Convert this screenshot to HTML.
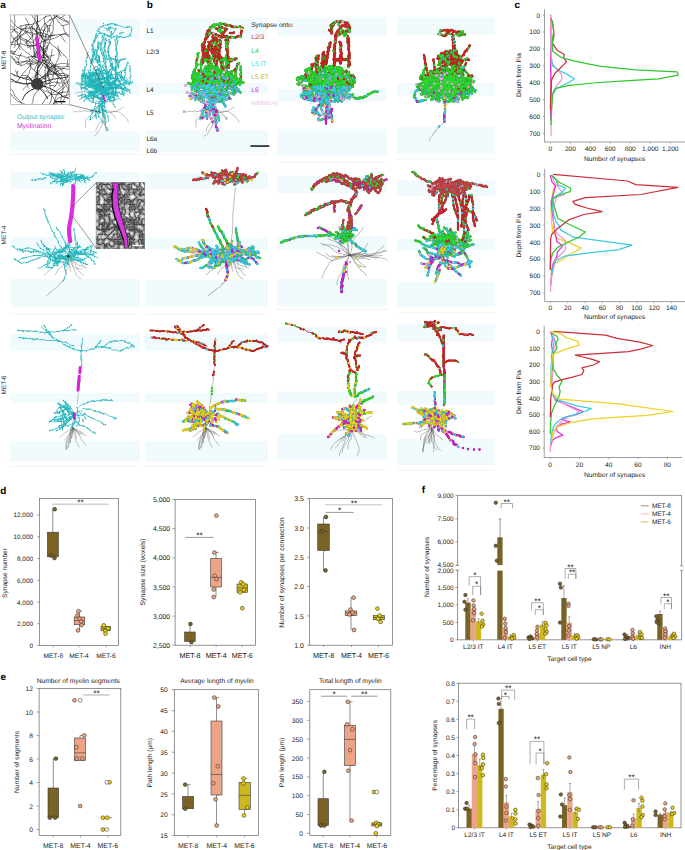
<!DOCTYPE html>
<html><head><meta charset="utf-8"><style>
html,body{margin:0;padding:0;background:#fff;}
svg{display:block;font-family:"Liberation Sans", sans-serif;text-rendering:geometricPrecision;}
</style></head><body>
<svg width="685" height="850" viewBox="0 0 685 850">
<rect width="685" height="850" fill="#fff"/>
<rect x="10.5" y="18.6" width="129.5" height="20.8" fill="#f1fafd"/>
<rect x="10.5" y="83" width="129.5" height="12" fill="#f1fafd"/>
<rect x="10.5" y="131" width="129.5" height="19.7" fill="#f1fafd"/>
<line x1="10.5" y1="154.5" x2="140" y2="154.5" stroke="#e4eef2" stroke-width="0.6"/>
<rect x="10.5" y="171.9" width="129.5" height="17.1" fill="#f1fafd"/>
<rect x="10.5" y="237" width="129.5" height="12.6" fill="#f1fafd"/>
<rect x="10.5" y="279" width="129.5" height="27.6" fill="#f1fafd"/>
<line x1="10.5" y1="314" x2="140" y2="314" stroke="#e4eef2" stroke-width="0.6"/>
<rect x="10.5" y="334" width="129.5" height="16.8" fill="#f1fafd"/>
<rect x="10.5" y="393" width="129.5" height="9.5" fill="#f1fafd"/>
<rect x="10.5" y="441" width="129.5" height="20.6" fill="#f1fafd"/>
<line x1="10.5" y1="466.4" x2="140" y2="466.4" stroke="#e4eef2" stroke-width="0.6"/>
<rect x="145" y="18" width="123" height="21.2" fill="#f1fafd"/>
<rect x="145" y="82.8" width="123" height="11.6" fill="#f1fafd"/>
<rect x="145" y="130.2" width="123" height="22.5" fill="#f1fafd"/>
<line x1="145" y1="154.5" x2="268" y2="154.5" stroke="#e4eef2" stroke-width="0.6"/>
<rect x="145" y="172.9" width="123" height="16.5" fill="#f1fafd"/>
<rect x="145" y="237.9" width="123" height="11.8" fill="#f1fafd"/>
<rect x="145" y="279.8" width="123" height="26.5" fill="#f1fafd"/>
<line x1="145" y1="314.4" x2="268" y2="314.4" stroke="#e4eef2" stroke-width="0.6"/>
<rect x="145" y="334" width="123" height="16.8" fill="#f1fafd"/>
<rect x="145" y="393" width="123" height="9.8" fill="#f1fafd"/>
<rect x="145" y="441" width="123" height="21" fill="#f1fafd"/>
<line x1="145" y1="466" x2="268" y2="466" stroke="#e4eef2" stroke-width="0.6"/>
<rect x="277" y="17.4" width="110" height="19.4" fill="#f1fafd"/>
<rect x="277" y="89.3" width="110" height="12.3" fill="#f1fafd"/>
<rect x="277" y="128.8" width="110" height="27.5" fill="#f1fafd"/>
<line x1="277" y1="162.3" x2="387" y2="162.3" stroke="#e4eef2" stroke-width="0.6"/>
<rect x="277" y="175.5" width="110" height="17.5" fill="#f1fafd"/>
<rect x="277" y="236" width="110" height="14" fill="#f1fafd"/>
<rect x="277" y="278.8" width="110" height="27.2" fill="#f1fafd"/>
<line x1="277" y1="309.5" x2="387" y2="309.5" stroke="#e4eef2" stroke-width="0.6"/>
<rect x="277" y="326.5" width="110" height="15.9" fill="#f1fafd"/>
<rect x="277" y="391.5" width="110" height="11.9" fill="#f1fafd"/>
<rect x="277" y="434" width="110" height="26.6" fill="#f1fafd"/>
<line x1="277" y1="469.5" x2="387" y2="469.5" stroke="#e4eef2" stroke-width="0.6"/>
<rect x="397" y="17.4" width="98" height="17.3" fill="#f1fafd"/>
<rect x="397" y="82.8" width="98" height="12.6" fill="#f1fafd"/>
<rect x="397" y="126.7" width="98" height="27.6" fill="#f1fafd"/>
<line x1="397" y1="159" x2="495" y2="159" stroke="#e4eef2" stroke-width="0.6"/>
<rect x="397" y="180" width="98" height="16" fill="#f1fafd"/>
<rect x="397" y="239" width="98" height="11.5" fill="#f1fafd"/>
<rect x="397" y="282" width="98" height="25" fill="#f1fafd"/>
<line x1="397" y1="312.7" x2="495" y2="312.7" stroke="#e4eef2" stroke-width="0.6"/>
<rect x="397" y="323.7" width="98" height="18" fill="#f1fafd"/>
<rect x="397" y="391" width="98" height="13.9" fill="#f1fafd"/>
<rect x="397" y="438.8" width="98" height="26.2" fill="#f1fafd"/>
<line x1="397" y1="470.5" x2="495" y2="470.5" stroke="#e4eef2" stroke-width="0.6"/>
<g transform="scale(.5)" fill="none" stroke-linecap="round">
<path d="M389 173l-1-1-2-1-2 0-3-1-1 0-3 0-1-1-1-1-3 0M390 184l-2 1-3-1-1 1-2-1-3 1-1 0-1 1-3 0-2 0M410 223l-1-2-2 0-2 1-3-1-2 2-1-1-2 1-2 0-3 0-1-2-3 1-2 1-3 0-2-1-1 1-1-1-3 1-1 1-3 0-2-1-2 1M440 224l1 2 2 1 1 2 3 1 1 2 2 1-1 1 3 2M424 212l-2 1-1 1-1 2-2 2-1 1-2 1-1 1-2 1-2 1-1 1-2 2-1 1-2 1-1 2-2 1-1 2-2 1-1 1-2 2-1 1-1 2-1 2 0 2 0 2 0 2 0 2 0 2 0 2M424 212l0 2 1 2 1 2 0 2 0 2 1 2 0 2 0 2 0 2 1 1 0 2 1 2 0 2 1 2 0 2-1 2 0 2 1 2 0 2 1 2 1 1 2 2 1 2 1 1 1 2 1 1M424 212l0 2 1 2 0 2 0 2 0 2 1 2 0 2 1 2 1 1 0 2 1 2 0 2 0 2 0 2-1 2 0 2-1 2 0 2-2 1 0 2-1 2-1 2-1 1-1 2-1 2-1 2-1 1-1 2-1 2-1 2-1 1-2 2-2 1-1 0M424 212l0 2 1 2 0 2 0 2 0 2 1 2 0 2 1 2 0 2 0 2 0 2-1 1 0 2-1 2-1 2-1 2-1 1-2 2-1 1-1 2-1 2-1 1-1 2-1 2-1 2 0 2 0 2M424 212l0 2 1 2 1 2 1 1 2 1 2 1 2 0 2 1 2 0 2 0 2 0 2 1 2-1 2 1 2 0 2 0 2 0 2 0 2 0 2 1 1 1 2 1 1 1 2 2 1 1 2 1 2 1 1 2 1 1 2 2 1 1 1 2 1 2 1 2M424 212l1 2 0 2 1 2 1 1 1 2 1 2 2 1 2 0 2 1 2 0 2 0 2 0 2 0 2 0 1-1 2-1 2 0 2-1 2 0 2-1 2-1 2-1 1-1 2 0 2-2 1-1 2-1M424 212l1 2 1 2 0 2 1 1 0 2 1 2 0 2 0 2 1 2 1 2 1 2 1 2 0 2 0 2-1 2 0 2 0 2 0 2 0 2 0 2 0 2 1 1 0 2 0 2 0 2" stroke="#555" stroke-width="0.8" stroke-linejoin="round"/>
<defs><path id="p1" d="M420 225h0m-39-33h0m14-8h0m32 38h0m5 21h0m0 8h0m-25-31h0"/></defs>
<use href="#p1" stroke="#941694" stroke-width="4.9"/>
<use href="#p1" stroke="#d420d4" stroke-width="4.2"/>
<defs><path id="p2" d="M415 62h0m5-4h0m1-4h0m9-4h0m37 4h0m4 0h0m9-1h0m2 15h0m-7 5h0m-4 2h0m-10-1h0m0 1h0m-4 0h0m-3-3h0m-5 1h0m-24-6h0m13-12h0m3 9h0m-4 8h0m-5-15h0m28 9h0m-6-8h0m-41 10h0m0 4h0m-1 2h0m-3 12h0m-1 11h0m1 9h0m8 19h0m4-59h0m-2 1h0m-2 3h0m-1 3h0m-12 18h0m1 5h0m0 3h0m20-19h0m-2 13h0m0 7h0m2 6h0m0 2h0m1 5h0m1 3h0m5 13h0m-3-59h0m-1 4h0m-3 19h0m-2 5h0m2 0h0m14 0h0m2 17h0m12-33h0m-1 4h0m1 12h0m3-13h0m-1 1h0m-1 6h0m1 4h0m0 4h0m-2 11h0m-1 7h0m7 2h0m3-2h0m9 0h0m2-1h0m-14 7h0m-53-10h0m4 4h0m-3 5h0m25-42h0m0 5h0m1 17h0m0 7h0m0 3h0m1 5h0m0-39h0m-1 6h0m0 1h0m-17 6h0m-1 17h0m7-24h0m-4 4h0m-2 12h0m-1 4h0m0 2h0m0 2h0m3 4h0m-1 2h0m1 8h0m-17 22h0m6-24h0m68 7h0m-42 29h0m-9-10h0m-5 21h0m21-15h0m-9 4h0m8 5h0m-32-10h0m57 2h0"/></defs>
<use href="#p2" stroke="#941a1a" stroke-width="4.9"/>
<use href="#p2" stroke="#d42626" stroke-width="4.2"/>
<defs><path id="p3" d="M406 119h0m68 11h0m-50 21h0m43 26h0m-21-3h0m10 3h0m3 0h0m2 0h0m-7-6h0m-34 1h0m-8 7h0m-20-5h0m53-3h0m-10-23h0m-12 26h0m9 13h0m12-11h0m1 5h0m-22 7h0m21 13h0m-19-5h0m27-18h0m2 7h0m-9-18h0m27 14h0m-47-6h0m16 1h0m12-2h0m-44-3h0m13-2h0m3 19h0m-15-23h0m56 20h0m3-10h0m-2-5h0m-43 23h0m6-32h0m-9 12h0m31-16h0m-16 22h0m-36-28h0m2 7h0m20 24h0m-23 2h0m30-12h0m-4 2h0m-20 12h0m4-7h0m-5 5h0m19-12h0m3-18h0m10-4h0m20 5h0m-59 13h0m31-27h0m14 31h0m-25 4h0m-10 0h0m12-8h0m-5 8h0m-20-11h0m60 13h0m-31-7h0m39-11h0m-14 14h0m18-18h0m-43 24h0m-32-7h0m20 6h0m33 15h0m-5-23h0m10 13h0m-27-2h0m-14 5h0m31-18h0m-1 1h0m-27 6h0m11 3h0m42 9h0m-16-13h0m-18 3h0m-11-1h0m-7-1h0m-11-1h0m37-5h0m-29 19h0m15 22h0m2 8h0m-1-1h0m0-16h0m-2 7h0m7 5h0m5 14h0m3 13h0m-17-39h0m-1 26h0m-2 2h0m2 4h0m12-32h0m-8 6h0m-8 6h0m1 12h0m-2 1h0m0-32h0m-25 5h0m17-16h0m15 4h0m-2 1h0m-12-5h0m3 0h0m20 12h0m-31-3h0m-8 1h0m20-1h0m5 2h0m-8 10h0m11-18h0m-22-2h0m27 17h0m6 33h0m2 11h0m-22-33h0m-6 15h0m-1 2h0"/></defs>
<use href="#p3" stroke="#2a939f" stroke-width="4.9"/>
<use href="#p3" stroke="#3cd2e4" stroke-width="4.2"/>
<defs><path id="p4" d="M419 168h0m19 27h0m1-26h0m-33 27h0m19-7h0m-27 4h0m33 46h0"/></defs>
<use href="#p4" stroke="#a59713" stroke-width="4.9"/>
<use href="#p4" stroke="#ecd81c" stroke-width="4.2"/>
<defs><path id="p5" d="M425 51h0m2 0h0m18-3h0m13 3h0m26 11h0m-45 11h0m11-10h0m-14-2h0m-24 10h0m-1 6h0m9 55h0m-12-18h0m6 6h0m0 3h0m12-13h0m-2-14h0m8 24h0m1 15h0m6-51h0m4 33h0m0 13h0m-1-46h0m-3 36h0m14-36h0m1 19h0m1 9h0m0 7h0m2 15h0m0-51h0m-3 7h0m0 7h0m-2 16h0m4 20h0m-5-15h0m13 2h0m-58-2h0m-4 9h0m11-10h0m-4 5h0m25-3h0m-2-37h0m0 6h0m-2 7h0m0 17h0m1 10h0m-13-5h0m1 6h0m-27 37h0m-2-18h0m3-19h0m0-1h0m1-5h0m5 43h0m0-3h0m3-18h0m3-13h0m66 14h0m9 25h0m2-5h0m-1-4h0m1-5h0m-1-3h0m1-3h0m-1-7h0m-94 22h0m65-14h0m1-2h0m-1-9h0m1-15h0m-1-4h0m-30 16h0m-2-17h0m0-2h0m15 63h0m13-8h0m1-3h0m4-6h0m-9 14h0m5 2h0m17 2h0m-22-10h0m22 9h0m-42-6h0m-4 6h0m14-2h0m11 6h0m-47-12h0m-4 5h0m44-13h0m1 2h0m2 2h0m2 2h0m3 7h0m1 3h0m-10-23h0m-7 17h0m11-20h0m2-5h0m1-2h0m1-2h0m-8 24h0m-6 12h0m1 8h0m1 10h0m5-26h0m4 3h0m3 7h0m-9-17h0m-29 9h0m33 7h0m-9 12h0m-10-47h0m-7-4h0m21 26h0m0-5h0m-2-13h0m-18 23h0m-18-1h0m-15-1h0m29 18h0m-3 12h0m66-30h0m10-3h0m-69-12h0m-1-3h0m6 11h0m-7-5h0m10 26h0m2 12h0m27-19h0m-10-9h0m21 11h0m7 3h0m-52-4h0m10-1h0m34-6h0m5-2h0m-73 11h0m28 0h0m-26-7h0m47-19h0m-22 12h0m0-8h0m0-2h0m-3-11h0m-4 18h0m-2 1h0m0-1h0m-8 2h0m-3 0h0m13-1h0m-13 0h0m54-2h0m-45 3h0m-4-2h0m12 7h0m-10-4h0m-5-2h0m-2-1h0m58-15h0m2-2h0m-4 14h0m12 23h0m0 7h0m-40-32h0m13 0h0m13 1h0m4 3h0m3 4h0m7 8h0m3 4h0m2 1h0m3 5h0m4 3h0m-53-33h0m-1-2h0m-1 1h0m-3-7h0m-1-2h0m-4 8h0m19 5h0m21-10h0m5-2h0m-12 19h0m1-2h0m-4 9h0m23-4h0m-59 8h0m-7-8h0m-2-2h0m-6-8h0m8-1h0m-12-4h0m12 15h0m-2 1h0m4-6h0m-8-3h0m16 28h0m-8 3h0m0-4h0m20-11h0m-9 5h0m15-24h0m-6 3h0m2-1h0m10-4h0m2-1h0m2-1h0m-20 18h0m-7 4h0m-2 1h0m18 8h0m-40-22h0m18-14h0m53 11h0m-5-9h0m-2-2h0m-8-7h0m-4-1h0m-43 12h0m5 3h0m7 4h0m17 2h0m13-2h0m-20-11h0m-12 5h0m-23 5h0m30 1h0m1 10h0m17-9h0m-6 6h0m-8 6h0m-19-8h0m3 0h0m38-3h0m-8-15h0m19 14h0m-11 8h0m8-22h0m-48 21h0m-9 6h0m20-30h0m-3 0h0m0 14h0m7 25h0m19-35h0m-1 5h0m-39 5h0m-2-1h0m-5-3h0m21 8h0m5 9h0m-3 9h0m-12-11h0m-2-2h0m5 1h0m5 6h0m6 8h0m4-32h0m8 1h0m3 0h0m7 4h0m4 3h0m2 1h0m-31-2h0m3-18h0m0-2h0m12 44h0m25-33h0m0 2h0m0 5h0m-2 5h0m-6 14h0m-47-13h0m1 7h0m51-7h0m-7-8h0m-5-5h0m-41 22h0m74 0h0m-15 8h0m8-26h0m1 2h0m1 5h0m6 6h0m4 2h0m-79-9h0m12 9h0m16-15h0m-26 5h0m-13-1h0m74 9h0m-2 1h0m-5 2h0m-18 0h0m-26-26h0m-2 6h0m-1 2h0m-2 2h0m-3 10h0m0 3h0m24 13h0m10 2h0m2 0h0m6-1h0m-26-25h0m-18-4h0m-8 2h0m9 4h0m-3-12h0m80 26h0m-87-18h0m38 34h0m12 6h0m2 1h0m2 2h0m-19-7h0m0 1h0m9 5h0m13-9h0m3 8h0m-5-2h0m-17-5h0m-22-11h0m-5-1h0m30-2h0m-8 6h0m-13 0h0m25 16h0m6-7h0m5 3h0m2 1h0m4 4h0m1-17h0m-8 1h0m-10 2h0m-18-1h0m30-11h0m-28 45h0m2-2h0m-2 8h0m-11-21h0m40 5h0m-40-6h0m-8-1h0m2-1h0m-4 8h0m48 1h0"/></defs>
<use href="#p5" stroke="#219821" stroke-width="4.9"/>
<use href="#p5" stroke="#30da30" stroke-width="4.2"/>
<defs><path id="p6" d="M433 177h0m-7-12h0m-9 19h0m25-36h0m-12 36h0m-3 10h0m9-28h0m-19-4h0m-12-5h0m27-2h0m-11 14h0m15-12h0m-33 0h0m-18 1h0m47 7h0m-28 5h0m15-33h0m-26 35h0m42 11h0m-18 0h0m-7 3h0m-5 2h0m16-13h0m-4 2h0m29-12h0m0 5h0m-17 50h0m-3 1h0m1 8h0m-12-4h0m15-24h0m2 18h0m-12-2h0m-7 4h0m1 2h0m5 9h0m7 13h0m-14-18h0m1 3h0m17-27h0m-2 4h0m-21-5h0m9-10h0m-31 2h0"/></defs>
<use href="#p6" stroke="#a27ba2" stroke-width="4.9"/>
<use href="#p6" stroke="#e8b0e8" stroke-width="4.2"/>
<defs><path id="p7" d="M408 190h0m44-15h0m-13 13h0m-18-5h0m5 33h0m-6-5h0m-18 20h0"/></defs>
<use href="#p7" stroke="#a59713" stroke-width="4.9"/>
<use href="#p7" stroke="#ecd81c" stroke-width="4.2"/>
<defs><path id="p8" d="M418 59h0m8-5h0m7-5h0m45 5h0m5 1h0m-1 18h0m-14 2h0m-1-1h0m-11 0h0m-15 0h0m-1-12h0m3 4h0m9-8h0m-10-5h0m-29 63h0m-2 1h0m0 0h0m15-39h0m0 37h0m1 3h0m0-40h0m5 54h0m9-13h0m5 5h0m-1 2h0m2 7h0m-6-51h0m0 8h0m1 40h0m2 6h0m12-14h0m2 11h0m-5-10h0m1 3h0m6-4h0m-9-3h0m4 4h0m14-5h0m-36-10h0m-4 0h0m-10 11h0m0 2h0m0-27h0m0 22h0m0 8h0m-26 38h0m-1 0h0m-1-5h0m-1-19h0m2-2h0m0-2h0m0-8h0m7 26h0m2-23h0m3 0h0m1-12h0m63 46h0m1-2h0m2-10h0m2-13h0m5-11h0m4 36h0m-1-23h0m-97 40h0m1-11h0m1-5h0m1-15h0m0-5h0m1-3h0m64 8h0m2-10h0m0-2h0m0-5h0m0-1h0m-1-3h0m-28 25h0m-1-7h0m-1-5h0m1-4h0m-1-10h0m-1-1h0m-1-2h0m1-7h0m17 56h0m12-10h0m21 15h0m-25-10h0m9 4h0m5 2h0m-26-18h0m-5 5h0m-2 2h0m11 12h0m8 7h0m-13-26h0m15 27h0m-15-38h0m-3-4h0m-10 33h0m16-15h0m2-4h0m1-2h0m-5 15h0m8 6h0m3 10h0m-3-26h0m-29 12h0m-5 1h0m16 16h0m8-40h0m-14-5h0m-3-1h0m24 33h0m-2-5h0m-2-2h0m-1-13h0m-6-17h0m-22 33h0m-13-1h0m-10-1h0m28 15h0m19-17h0m8 0h0m17 3h0m16 0h0m-67-18h0m-2-2h0m-2-2h0m23 39h0m28-3h0m-3-12h0m4 7h0m2 10h0m-4-17h0m17 8h0m-29 11h0m-6-14h0m18-1h0m4-3h0m-31 7h0m-31-8h0m47-18h0m-33 5h0m-7-2h0m9 10h0m-2 1h0m-3 2h0m15-10h0m-2 1h0m2 0h0m-10 3h0m-3 1h0m18 21h0m-16-23h0m-7-5h0m14 10h0m-18-9h0m54-2h0m5-6h0m8 24h0m6-1h0m-1 5h0m0 5h0m-38-27h0m8-1h0m5 1h0m20 10h0m2 2h0m10 11h0m-48 7h0m-2 5h0m-2-48h0m4 13h0m-1-2h0m-7-17h0m-3 23h0m1-7h0m26-2h0m5-2h0m12-5h0m-15 24h0m5 2h0m2 0h0m8-2h0m-32 12h0m-22-13h0m-6-6h0m11 4h0m-6-9h0m-11-6h0m-10 1h0m25 15h0m6 2h0m11 5h0m4-17h0m3-2h0m2-1h0m-31 30h0m9-16h0m5 2h0m2 1h0m6 6h0m7 10h0m2 2h0m-46-30h0m-3-4h0m44 3h0m-7-5h0m-5-2h0m-6-4h0m41-2h0m-7-8h0m-2-1h0m28 31h0m-63-11h0m10 2h0m5 1h0m26 0h0m-26-14h0m-7 4h0m-12 3h0m-13 2h0m25 6h0m0 5h0m21-10h0m-1 1h0m-11 11h0m-19-6h0m43 7h0m-2-3h0m-3-4h0m-5-5h0m-3-5h0m-1-2h0m0-3h0m-3-7h0m-3-4h0m-2-2h0m39 23h0m-3 0h0m-5 1h0m-7 3h0m-3 1h0m-2 2h0m-2 1h0m12 0h0m-1-5h0m-4-13h0m-41 13h0m-4 3h0m27-17h0m-2-1h0m-15-4h0m-11 6h0m1 2h0m1 3h0m30-8h0m-2 5h0m0 5h0m0 5h0m4 10h0m2 10h0m2 2h0m-30-17h0m4 7h0m3 10h0m-3-4h0m-10 1h0m-5-10h0m-8-6h0m-7-8h0m15 7h0m7 13h0m24-23h0m14 8h0m-37-1h0m1-8h0m1-2h0m1-8h0m9 35h0m28-19h0m-5 12h0m-40 10h0m16-37h0m-2-1h0m-2-1h0m-7-4h0m-5 18h0m-5 3h0m-2 1h0m-9 8h0m57-8h0m-2-2h0m-10-11h0m-44 23h0m73-12h0m-62 5h0m11 8h0m22 13h0m3 1h0m-27-29h0m-5 1h0m-3 0h0m-7 0h0m46 13h0m-13 0h0m-3 0h0m-16-31h0m-9 29h0m0 3h0m25 9h0m28 0h0m-27-19h0m-2-1h0m-5-3h0m-17-5h0m-5 0h0m13-3h0m63 21h0m-85-15h0m55 37h0m-54-7h0m52 9h0m-1-20h0m-3 17h0m8-1h0m-34 0h0m-9-15h0m-5-1h0m35-1h0m-10-3h0m-27 15h0m36-9h0m-2 1h0m-7 8h0m8 10h0m5-1h0m16-3h0m-10-20h0m-5 7h0m-36 12h0m44-12h0m-15 17h0m3 4h0m-26-3h0m9 5h0m32-4h0m-44 11h0m48-4h0m-24 8h0"/></defs>
<use href="#p8" stroke="#219821" stroke-width="4.9"/>
<use href="#p8" stroke="#30da30" stroke-width="4.2"/>
<defs><path id="p9" d="M480 170h0m0-1h0m-93-23h0m55 26h0m4-3h0m-24 2h0m15 4h0m-33-4h0m-19 6h0m47 13h0m15-1h0m-22 6h0m14-24h0m-11-36h0m-3 27h0m-17 33h0m46-26h0m10 0h0m-47-12h0m25 42h0m-18-16h0m0 5h0m-10-8h0m-1 5h0m39-4h0m0 5h0m-3-16h0m-14 8h0m8-1h0m-55-8h0m47-13h0m-21 18h0m-26-24h0m24 32h0m2 5h0m-7-6h0m27-23h0m-15 19h0m26-29h0m-46 26h0m35-18h0m28 0h0m-52-15h0m7 25h0m2 10h0m-32-29h0m33 27h0m7 2h0m-7-6h0m2 1h0m-4-2h0m13 8h0m-42-25h0m18 23h0m33 0h0m13 0h0m-7 9h0m-30-7h0m-18-3h0m15 5h0m5 2h0m3 1h0m37 11h0m-28-13h0m3-4h0m3 10h0m6 0h0m-22-4h0m-9-10h0m-16 7h0m-2-1h0m-3-1h0m38 5h0m-1 10h0m16-4h0m7-1h0m5-2h0m-23-13h0m35 17h0m-40-11h0m-1 42h0m0-4h0m7-24h0m-3 14h0m1 10h0m-10-16h0m-2 12h0m-6 7h0m0 13h0m5-19h0m2-2h0m-1 7h0m-12 16h0m54-36h0m-55-8h0m5 2h0m15 13h0m26-17h0m-44 4h0m0 3h0m-10 1h0m25-10h0m25 12h0m-46-6h0m11-1h0m2 0h0m-22 2h0m20-9h0m3-1h0m9 21h0m-35-10h0m-1-4h0m-3 1h0m6 0h0m4 7h0m6 5h0m56-6h0m-50 21h0m-6 16h0"/></defs>
<use href="#p9" stroke="#2a939f" stroke-width="4.9"/>
<use href="#p9" stroke="#3cd2e4" stroke-width="4.2"/>
<defs><path id="p10" d="M438 49h0m13 1h0m12 3h0m20 11h0m-1 2h0m-28 11h0m-8-3h0m-12-4h0m-4-2h0m-10-5h0m14-5h0m29 8h0m3 0h0m-22 2h0m5-11h0m-7-1h0m-32 28h0m-1 10h0m-1 17h0m3-33h0m-1 4h0m-1 2h0m-4 4h0m-1 4h0m2 6h0m13 30h0m7-57h0m-3 14h0m1 19h0m4-28h0m-1 5h0m-3 8h0m3 11h0m7 22h0m6-37h0m-2 7h0m3 3h0m-2-5h0m-1 3h0m-1 5h0m0 5h0m1 1h0m-1 5h0m2 5h0m-1 3h0m2 4h0m5 16h0m8-42h0m0 5h0m3 13h0m1 10h0m1 8h0m-3-42h0m0 13h0m-11 14h0m13 8h0m6-2h0m4-3h0m-58-13h0m0 2h0m-1 4h0m5-1h0m0 2h0m0 2h0m19-31h0m1 6h0m1 15h0m0 11h0m-4-14h0m-12-16h0m0 3h0m-1 6h0m-1 3h0m0 4h0m-2 2h0m3 6h0m1 2h0m4-26h0m-5 7h0m-2 10h0m1 8h0m-22 8h0m6 30h0m3-25h0m68 20h0m3-12h0m8 21h0m-49 13h0m5-5h0m24 6h0m-67-17h0m54 7h0m-37 8h0m43-2h0m-66-14h0"/></defs>
<use href="#p10" stroke="#941a1a" stroke-width="4.9"/>
<use href="#p10" stroke="#d42626" stroke-width="4.2"/>
<defs><path id="p11" d="M421 189h0m-34-20h0m63 4h0m14 4h0m-46 1h0m26 14h0m3-4h0m-9-4h0m5-16h0m-12 54h0m-13-1h0m16 2h0m-18 2h0m7 13h0m-5-15h0m41-27h0m-56-6h0m22 13h0m-29-8h0m22-5h0m-15-5h0m15-3h0m7 2h0m1-2h0m-2 18h0m4 27h0m4 27h0m2 2h0m-22-47h0m-1 1h0m-1 5h0m-8 21h0"/></defs>
<use href="#p11" stroke="#941694" stroke-width="4.9"/>
<use href="#p11" stroke="#d420d4" stroke-width="4.2"/>
<defs><path id="p12" d="M474 178h0m-58-2h0m-29 0h0m45-1h0m-20-4h0m23 13h0m-22-36h0m8 32h0m27-11h0m12 7h0m-42-1h0m-2-14h0m34 4h0m13 7h0m5 17h0m-46 6h0m1-20h0m-7 7h0m24 12h0m-22-20h0m-10-6h0m-2 5h0m45-35h0m1-3h0m-29 48h0m0 2h0m9-7h0m-44-2h0m55 8h0m10 8h0m9-5h0m-37 27h0m2 18h0m1-21h0m8 20h0m-14-34h0m1 4h0m12-2h0m10-4h0m-37 2h0m-5 0h0m44 6h0m-57-10h0m-4 2h0m33-8h0m-3-1h0m7 20h0m-5-11h0m-8-3h0m2 14h0m5 1h0m-32-18h0m48 15h0m8-1h0m10-3h0m-37 2h0m7 2h0m5 2h0"/></defs>
<use href="#p12" stroke="#a27ba2" stroke-width="4.9"/>
<use href="#p12" stroke="#e8b0e8" stroke-width="4.2"/>
<defs><path id="p13" d="M448 48h0m2 0h0m15 5h0m8 1h0m12 2h0m-2 5h0m-1 9h0m-5 2h0m-4 2h0m-13 0h0m-6 0h0m-3-1h0m-7 2h0m-21-9h0m-4 0h0m19-9h0m1 16h0m12-12h0m17 4h0m-24 1h0m-6-7h0m-24 8h0m-5 32h0m0 2h0m0 2h0m3 10h0m7 17h0m-5-55h0m-1 2h0m-2 2h0m-5 9h0m0 20h0m4 7h0m15-41h0m1 2h0m-3 6h0m0 5h0m0 10h0m1 8h0m10 28h0m-8-50h0m0 2h0m0 17h0m1 2h0m1 3h0m0 2h0m1 3h0m4 16h0m8-40h0m-3 12h0m0 6h0m1 5h0m5 16h0m4 12h0m-9-59h0m-2 20h0m1 12h0m13-32h0m5 24h0m-1 5h0m2 5h0m-2-7h0m0 3h0m-3 5h0m0 2h0m0 4h0m6 14h0m-13-19h0m16 6h0m-49-23h0m-2 5h0m-1 6h0m0-11h0m0 3h0m2 6h0m21-32h0m0 14h0m1 5h0m-2 2h0m1-6h0m-1 13h0m-2 1h0m0 5h0m2 5h0m0 2h0m-14-33h0m-3 14h0m6-11h0m-2 4h0m-1 4h0m0 4h0m-26 56h0m-6 1h0m35-34h0m22 44h0m-4-9h0m-6 7h0m0-22h0m-16 13h0m-4 5h0m47-11h0m-22-1h0m-8 10h0m11 6h0m-16-17h0m46 12h0m-54 8h0m-13-16h0m-3-2h0"/></defs>
<use href="#p13" stroke="#941a1a" stroke-width="4.9"/>
<use href="#p13" stroke="#d42626" stroke-width="4.2"/>
<defs><path id="p14" d="M423 55h0m15-6h0m2-2h0m24 27h0m-12 1h0m-34-13h0m12-7h0m14 8h0m3-7h0m-7 2h0m-33 32h0m5 29h0m4 2h0m1 7h0m-10-42h0m-1 18h0m5 15h0m5 6h0m7-36h0m6 36h0m11-42h0m-3 21h0m8 17h0m0 7h0m1 3h0m1 6h0m-5-9h0m11-40h0m0 3h0m5 37h0m-4-1h0m-7-10h0m2 1h0m4 1h0m2 1h0m3-1h0m4 1h0m2-1h0m3 0h0m-25-1h0m4 0h0m5 1h0m2 2h0m-48-6h0m-2 10h0m7-21h0m-6 23h0m27-38h0m0-5h0m-16 13h0m3 21h0m-1 2h0m-25 47h0m0-14h0m-2-2h0m0-4h0m0-3h0m3-12h0m0-1h0m3-21h0m4 45h0m1-2h0m1-6h0m-2-4h0m1-3h0m1-6h0m0-2h0m67 27h0m2-6h0m3-18h0m4 32h0m-92-1h0m0-5h0m0-3h0m0-4h0m67-28h0m0-2h0m-1-11h0m-30 22h0m36 18h0m2-2h0m12 24h0m-30-3h0m9 3h0m3 1h0m-14-11h0m23 10h0m-39-6h0m-10 8h0m23-23h0m-16 20h0m-3 7h0m23-5h0m3 2h0m4 6h0m-55-18h0m39-12h0m12 14h0m3 10h0m-17-39h0m-2-2h0m-10 37h0m15-8h0m1-2h0m12-26h0m-13 34h0m-1 10h0m0-18h0m-5 2h0m-3 1h0m-7 2h0m21 9h0m-6 5h0m5-1h0m-3 4h0m-5 6h0m-6-48h0m21 34h0m-2-2h0m-7-24h0m-1-3h0m-3-9h0m-5-7h0m-13 37h0m-36-4h0m40 3h0m-1 2h0m-2 5h0m29-8h0m8 0h0m-33-8h0m-6-15h0m-5 7h0m19 34h0m8 6h0m-10-24h0m0 23h0m-9-19h0m-2 11h0m-1 5h0m-1 2h0m40-2h0m2-8h0m1-8h0m-18 8h0m2 5h0m-8-10h0m30-5h0m-68 10h0m-2 2h0m14-11h0m10-10h0m-4-2h0m-8-3h0m19 10h0m0-5h0m0-2h0m-1-8h0m-10 13h0m14-7h0m-10 4h0m-5 1h0m12-3h0m-22 2h0m49 6h0m-24 16h0m1 7h0m-29-34h0m17 10h0m45-6h0m2 5h0m5 15h0m-44-23h0m3 0h0m23-1h0m14 6h0m-36-17h0m-8 18h0m0-15h0m25 4h0m5-2h0m7-3h0m2-1h0m10-4h0m-13 13h0m-1-3h0m-11 13h0m2 1h0m15 3h0m8-2h0m-27 12h0m-22-4h0m-9-6h0m6 1h0m-11-17h0m-5-2h0m15 15h0m-1-1h0m-1-2h0m6 21h0m-1-5h0m6-20h0m2-1h0m-5 14h0m-3-4h0m13 9h0m8 13h0m-43-29h0m-9-9h0m50 8h0m-2-2h0m-4-3h0m-7-4h0m-5-2h0m-2-2h0m50 14h0m-30-8h0m3-7h0m2-2h0m2-5h0m4-4h0m1-2h0m18 21h0m1 2h0m-67-8h0m9 6h0m10 3h0m3-10h0m-8 2h0m-5 1h0m-7 1h0m-5 2h0m23 21h0m24-24h0m-2 1h0m-7 8h0m-2 2h0m-25 12h0m-6-12h0m10-2h0m2 0h0m8-1h0m22-2h0m-8-16h0m-2-4h0m37 19h0m-16-5h0m-4-15h0m-40 24h0m-4 3h0m-6 5h0m-7 4h0m13-28h0m9 16h0m2 10h0m23-30h0m-3 16h0m-37 0h0m-11-6h0m33 27h0m-9-5h0m-7-3h0m-16-14h0m-4-3h0m21 15h0m5-19h0m3-1h0m18 2h0m7 4h0m-30 11h0m3-12h0m1-8h0m59 12h0m1 2h0m-24 4h0m-6 12h0m-2 5h0m-22-3h0m-6-41h0m15 13h0m-2 0h0m-15 2h0m-3 1h0m-4 2h0m-18 8h0m66 1h0m-1-2h0m-10-12h0m-2-2h0m-6-5h0m-32 26h0m-13-2h0m84 3h0m-79-14h0m7 4h0m4 3h0m2 2h0m27 16h0m-25-27h0m-15 1h0m54 13h0m-3 1h0m-5-1h0m-30-29h0m-8 17h0m28 22h0m-11-24h0m-5-2h0m-20-2h0m-10 4h0m67-11h0m-50 15h0m16-16h0m6-5h0m2-2h0m35 18h0m8 7h0m-21 25h0m-33-7h0m12 6h0m9 5h0m-7-1h0m4 2h0m5 1h0m-11-5h0m18-15h0m2-2h0m3 10h0m-1 2h0m-2 8h0m-2 5h0m-41-3h0m-3 1h0m36-20h0m-10 12h0m-12-5h0m26 13h0m1-22h0m2 9h0m-3 0h0m-8 2h0m-10-1h0m-8-1h0m-5-1h0m2 15h0m5 2h0m2 2h0m3 20h0m16-16h0m4 4h0m-47-6h0m49 1h0m-19-10h0m-21 6h0m21 4h0m-33-8h0m47 14h0"/></defs>
<use href="#p14" stroke="#219821" stroke-width="4.9"/>
<use href="#p14" stroke="#30da30" stroke-width="4.2"/>
<defs><path id="p15" d="M469 177h0m-11-4h0m-12 14h0m2 7h0m-7-27h0m-26 8h0m23 1h0m-37-5h0m62-2h0m-64 22h0m68-33h0m-69-12h0m40 11h0m-20 15h0m-16 1h0m40-7h0m-2 2h0m-41-2h0m2-19h0m9-1h0m52 6h0m-11 22h0m-20 12h0m13-1h0m-37-10h0m-3 12h0m25 34h0m-2-5h0m-7 1h0m10-19h0m0 5h0m-9 33h0m-2-15h0m-10 12h0m29-34h0m13-9h0m-55 7h0m13-3h0m-1-3h0m-25 6h0m12-6h0m19-6h0m14 18h0m-44-12h0m9 2h0m7 8h0m30 3h0m-11 0h0"/></defs>
<use href="#p15" stroke="#a27ba2" stroke-width="4.9"/>
<use href="#p15" stroke="#e8b0e8" stroke-width="4.2"/>
<defs><path id="p16" d="M484 58h0m-36 123h0m-39 7h0m14-15h0m-4-2h0m-10 2h0m41 1h0m-16 52h0m-39-32h0m33 26h0m2 13h0"/></defs>
<use href="#p16" stroke="#a59713" stroke-width="4.9"/>
<use href="#p16" stroke="#ecd81c" stroke-width="4.2"/>
<defs><path id="p17" d="M421 176h0m18 5h0m-5 41h0m-1-1h0m-8 22h0m-13-19h0m14-18h0m-8-15h0m10 6h0m-6-1h0m4 19h0m3 14h0m6 32h0m-27-44h0"/></defs>
<use href="#p17" stroke="#941694" stroke-width="4.9"/>
<use href="#p17" stroke="#d420d4" stroke-width="4.2"/>
<defs><path id="p18" d="M469 157h0m13-21h0m-98 42h0m47 1h0m21-18h0m-15 8h0m2 2h0m10-2h0m-31 5h0m-18-5h0m2 2h0m-5 1h0m53 13h0m-19-17h0m3 2h0m-1 22h0m7-22h0m7 22h0m-18-26h0m11 11h0m-12 8h0m-10 5h0m24-17h0m-1 2h0m-19 21h0m-20-26h0m-2-1h0m13 12h0m35-13h0m11 2h0m-31 17h0m10 9h0m-15-20h0m2 23h0m25-8h0m3-8h0m12-5h0m9 5h0m-38-7h0m10 1h0m2-1h0m9-5h0m-61 6h0m28 0h0m41 5h0m2 5h0m-17-31h0m2 0h0m27 27h0m-49-4h0m-1-20h0m-6 20h0m-14-18h0m16 17h0m-2 2h0m-13 7h0m-6-3h0m16-8h0m-13 8h0m5-9h0m-1 2h0m22 7h0m-25-40h0m56 15h0m-61-8h0m16 18h0m0 3h0m0 7h0m-15-7h0m50 1h0m-36-2h0m23-2h0m-29 7h0m6-3h0m-7-3h0m40-11h0m-34 16h0m3-5h0m12 6h0m12 13h0m-7-2h0m-46-12h0m25 5h0m14 6h0m15 3h0m3 1h0m5 1h0m-25-5h0m4 2h0m7 5h0m-18-9h0m14-10h0m2-2h0m10 11h0m5 1h0m0 6h0m-27-8h0m-26-1h0m42-12h0m-5 1h0m-10 4h0m-14 1h0m36 12h0m2 2h0m-46-14h0m19 34h0m1 11h0m2-21h0m-4 13h0m14-16h0m11 11h0m3 4h0m-13 22h0m0 6h0m-14-44h0m-2 10h0m-2 10h0m1 5h0m-8-2h0m-3 1h0m-4 2h0m14-8h0m-6 16h0m-2 2h0m-11-41h0m19 8h0m-13 7h0m18-21h0m-18 5h0m-1-2h0m44 8h0m-52-5h0m9-6h0m27 18h0m-19-8h0m5 2h0m10 2h0m-51-6h0m17 4h0m-10-9h0m43 17h0m15-2h0m12-4h0m-33-13h0m8 51h0m2 12h0"/></defs>
<use href="#p18" stroke="#2a939f" stroke-width="4.9"/>
<use href="#p18" stroke="#3cd2e4" stroke-width="4.2"/>
<defs><path id="p19" d="M418 60h0m2-4h0m8-7h0m2 1h0m5 0h0m8-3h0m8 1h0m5 2h0m14 4h0m6 0h0m4 19h0m-60-8h0m18-5h0m6 11h0m-2-15h0m1 15h0m-35 37h0m6 12h0m4-52h0m-5 52h0m5 6h0m2 4h0m2-35h0m9 31h0m2 5h0m3 4h0m-7-63h0m-5 14h0m7 31h0m1 0h0m1 8h0m10-5h0m4 15h0m-7-49h0m-3 9h0m1 9h0m3 19h0m3 9h0m-1 1h0m3 7h0m7-46h0m4 32h0m-2-48h0m0 16h0m0 11h0m1 23h0m2 5h0m-10-13h0m23-3h0m-59-15h0m-10 19h0m2 0h0m0 2h0m5-3h0m23-28h0m1 9h0m-3 19h0m-38 45h0m1-2h0m-3-14h0m0-10h0m5-10h0m-2-1h0m2-13h0m1-2h0m-1-5h0m2-2h0m5 31h0m3-14h0m66 32h0m0-7h0m1-2h0m-1-5h0m1-5h0m6-10h0m3 32h0m0-8h0m1-7h0m-1-10h0m-96 42h0m-1-4h0m3-20h0m65 0h0m1-9h0m0-12h0m-1-8h0m0-4h0m-29 30h0m0-4h0m0-5h0m0-9h0m-3-9h0m2-2h0m35 36h0m-20 8h0m31 14h0m-37-18h0m-6 8h0m-3 5h0m-3 7h0m-29-13h0m22 4h0m24-12h0m2 0h0m-1-3h0m-4-12h0m2 19h0m-4 17h0m4-12h0m6-8h0m-7 4h0m-12 5h0m14 12h0m-2 1h0m5-1h0m-7 8h0m-1-42h0m-5-2h0m9 18h0m-2-18h0m-23 26h0m-5 0h0m-13-1h0m-3 0h0m-10-2h0m43-4h0m-1 2h0m-2 2h0m14-1h0m13 2h0m15 1h0m8 0h0m8-1h0m2 0h0m3-2h0m5-1h0m-69-6h0m-2-1h0m-5-3h0m14 29h0m6 4h0m-7-7h0m-9-3h0m41 12h0m-9-22h0m-14 8h0m-13-1h0m-19-4h0m-3 4h0m22 1h0m-4-3h0m-10-2h0m-20-3h0m-2-1h0m36-19h0m-1-2h0m-8 17h0m-7 0h0m48 0h0m1-2h0m-29 14h0m-10-8h0m-2-2h0m-8-6h0m-5-2h0m7 6h0m-7-3h0m-4-4h0m58-2h0m2-2h0m3-4h0m1 15h0m10 23h0m-43-29h0m8-2h0m3 0h0m-8 26h0m0-21h0m0-3h0m-1-2h0m-1-8h0m4 16h0m-6-14h0m-4-9h0m-3 25h0m0-10h0m9 3h0m5-1h0m19-9h0m17-8h0m-16 9h0m4 20h0m7-1h0m5-2h0m5-2h0m-32 16h0m-7 0h0m-3 0h0m-5-1h0m-16-8h0m-10-12h0m-1-2h0m-3-5h0m18 20h0m-4-9h0m-1-2h0m-1-2h0m-18-9h0m18 16h0m6 1h0m-10-8h0m18 16h0m12-23h0m-14 9h0m0 9h0m-2 5h0m-1 5h0m-2 5h0m-13 2h0m-1 2h0m23-15h0m6 5h0m-42-23h0m17-12h0m56 8h0m-9-10h0m-20 21h0m1-3h0m8-18h0m27 18h0m3 5h0m-56-9h0m13 2h0m5-1h0m8-1h0m5 0h0m7 3h0m-37-10h0m-13 2h0m-5 1h0m-7 2h0m-5 1h0m32 6h0m11 4h0m-4 3h0m-7-10h0m8 0h0m26 11h0m-13-17h0m18 5h0m0 3h0m-2-7h0m-1-5h0m-3-10h0m-49 28h0m37-19h0m-2-2h0m-7-3h0m-5-1h0m-2-1h0m-3 0h0m-9 12h0m2 4h0m2 5h0m1 3h0m27 10h0m-50-23h0m16 3h0m1 2h0m3 4h0m3 5h0m7 8h0m-15-4h0m-10-7h0m-4-4h0m-2-2h0m12 5h0m14-15h0m5 0h0m2 0h0m-16 20h0m1-5h0m5-20h0m11 34h0m50-16h0m1 2h0m-24-12h0m-4 15h0m-49 3h0m-4 4h0m-1 1h0m17 4h0m-3 0h0m8-41h0m15 13h0m-10-1h0m-3 0h0m-2 1h0m-3 0h0m-12 17h0m-5-1h0m-3-1h0m-5-2h0m56-10h0m-58 12h0m68 13h0m8-31h0m5 12h0m6 5h0m-45 14h0m-2-29h0m-7 2h0m-3 1h0m-2 0h0m-24 2h0m74 7h0m-15 6h0m-13-1h0m-36-8h0m2 12h0m42 6h0m-22-20h0m-11-6h0m-3 0h0m-13-1h0m-10 3h0m12-5h0m15-3h0m2-2h0m6-5h0m49 24h0m2 2h0m2 2h0m-85-18h0m29 33h0m-23-5h0m40 14h0m15 3h0m-31-8h0m11 5h0m-7-3h0m5-3h0m25-12h0m-1 3h0m-7 16h0m-19-3h0m3 0h0m14 1h0m-45 4h0m20-15h0m-2-1h0m13-7h0m-3-1h0m-24 17h0m14-8h0m3 2h0m-12-4h0m23 18h0m7-21h0m23 16h0m-5-11h0m-30 2h0m13-9h0m-11 50h0m-3-11h0m19-4h0m-42-6h0m20-10h0m-14 4h0"/></defs>
<use href="#p19" stroke="#219821" stroke-width="4.9"/>
<use href="#p19" stroke="#30da30" stroke-width="4.2"/>
<defs><path id="p20" d="M440 72h0m-5-1h0m-33 100h0m8-1h0m26 24h0m-16-24h0m1 8h0m-8 44h0m-3-31h0m-29 7h0m31-15h0m9 12h0"/></defs>
<use href="#p20" stroke="#a59713" stroke-width="4.9"/>
<use href="#p20" stroke="#ecd81c" stroke-width="4.2"/>
<defs><path id="p21" d="M417 61h0m36-10h0m8 0h0m-12 23h0m-12-3h0m-5-2h0m10 3h0m4-3h0m1-2h0m1-3h0m3-6h0m-7-3h0m-34 24h0m0 3h0m-2 6h0m1 4h0m1 20h0m6 11h0m-10-30h0m-1 9h0m2 4h0m-1 4h0m1 3h0m16-23h0m-1 12h0m6 18h0m0 2h0m-5-31h0m1 4h0m5 16h0m1 4h0m4 9h0m-2 5h0m8-49h0m-1 10h0m1 3h0m-1 9h0m0 6h0m2 5h0m-1-25h0m-2 18h0m1 9h0m3 10h0m4 12h0m10-31h0m0 11h0m0-37h0m1 50h0m13-11h0m-28-3h0m-37 3h0m5-13h0m-4 19h0m26-47h0m-1 2h0m2 19h0m-3 1h0m4 12h0m-1-35h0m1 5h0m-3 11h0m-2 5h0m0 2h0m-11-9h0m-1 9h0m-2 6h0m3 8h0m0-17h0m0 19h0m36 18h0m-9 23h0m-16-12h0m6 12h0m-26-4h0m-3 9h0m51-4h0m-40 0h0m13-1h0m40-18h0m-57 28h0m37-27h0m-7-7h0m-20 24h0m33 2h0m-40-1h0m32 4h0m-42-14h0m-8-6h0"/></defs>
<use href="#p21" stroke="#941a1a" stroke-width="4.9"/>
<use href="#p21" stroke="#d42626" stroke-width="4.2"/>
<defs><path id="p22" d="M426 174h0m-18 19h0m15-23h0m33 3h0m-36-2h0m5 5h0m-27-7h0m42 19h0m-9 34h0m2 2h0m-11-2h0m-2 0h0m-7-5h0m1 20h0m-9-1h0m-13-44h0m34 5h0m-3-1h0m-18-5h0m20 15h0m0 2h0m1 3h0m1 7h0m1 7h0m3 6h0"/></defs>
<use href="#p22" stroke="#941694" stroke-width="4.9"/>
<use href="#p22" stroke="#d420d4" stroke-width="4.2"/>
<defs><path id="p23" d="M427 67h0m28 90h0m-4 42h0m-14-16h0m1-28h0m7-4h0m-17 33h0m-9-8h0m-17 8h0m37 8h0m12-52h0m-31 34h0m5-33h0m25 33h0m-16 12h0m-4-3h0m-16-10h0m27 21h0m-13-21h0m-15 3h0m45 9h0m-24-14h0m5 4h0m-18 49h0m3-20h0m-8 19h0m14-15h0m0 3h0m-13 16h0m7 13h0m-17-20h0m-5 2h0m51-36h0m-45 1h0m0 2h0m5 5h0m-6-3h0m-2 0h0m18-2h0m-35 5h0m11-6h0m2-1h0m9-5h0m-3 23h0m7 2h0m-29-15h0m39 13h0m-53-34h0m3 13h0m-6 39h0m85 14h0m-73-51h0"/></defs>
<use href="#p23" stroke="#a27ba2" stroke-width="4.9"/>
<use href="#p23" stroke="#e8b0e8" stroke-width="4.2"/>
<defs><path id="p24" d="M383 174h0m46 7h0m8-7h0m7-3h0m26 5h0m-6 1h0m13 2h0m-26-9h0m-56-3h0m12 4h0m-8 0h0m-9 4h0m46-25h0m-8 22h0m21 25h0m-32-28h0m-2 5h0m-1 4h0m53-9h0m-34 21h0m7 7h0m-17-19h0m-7-8h0m42 5h0m-35-1h0m42-6h0m-65 5h0m14-1h0m-3-1h0m-12 0h0m-8-1h0m30-12h0m4-2h0m-2 2h0m1 22h0m47-6h0m-44 15h0m-1-13h0m-7 7h0m-7 3h0m-7 2h0m-8-4h0m17-3h0m-5 2h0m-6 4h0m-2 2h0m-3 4h0m43 4h0m21-43h0m-28 1h0m36 8h0m-50 7h0m3-11h0m30 12h0m-15-11h0m-23 13h0m-2 1h0m2 2h0m31-20h0m5 2h0m-40 0h0m19 21h0m16-11h0m-3 7h0m-44-20h0m26 18h0m2 2h0m-5-27h0m-20 5h0m10 21h0m9 5h0m9 4h0m3 2h0m13 8h0m-55-15h0m64 14h0m-18-1h0m4 3h0m5 1h0m9-11h0m-15 1h0m-7-2h0m-18 1h0m-6-12h0m34 21h0m-25-18h0m13 8h0m-26-11h0m40 16h0m-8-11h0m-31 11h0m8 3h0m32-23h0m-19 56h0m0 2h0m1-12h0m-9 5h0m20-19h0m6 5h0m4 4h0m2 4h0m-14 23h0m-17-29h0m-6 28h0m14-30h0m-6 5h0m-8 6h0m-1-23h0m8 6h0m-29-1h0m49 0h0m6-4h0m-40 6h0m4-6h0m9-4h0m-15-6h0m23 5h0m-38 5h0m45 8h0m-5 1h0m-14-8h0m-3-1h0m-3 0h0m-5 0h0m22 4h0m-2 7h0m11-1h0m12-4h0m-32 3h0m-16-16h0m24 18h0m2 8h0m5 28h0m4 17h0m-29-36h0m0 2h0m-1 1h0m-4 13h0"/></defs>
<use href="#p24" stroke="#2a939f" stroke-width="4.9"/>
<use href="#p24" stroke="#3cd2e4" stroke-width="4.2"/>
</g>
<g transform="scale(.5)" fill="none" stroke-linecap="round">
<path d="M168 173l-3-2-5-1-4 0-2-2-3 0M169 184l-5 0-3 0-4 1-4 1-2 0M189 223l-3-2-5 0-3 1-4 1-4-2-5 2-5-1-2 0-4 2-5-1-2 1M219 224l3 3 4 3 3 3 2 3M203 212l-3 2-3 4-3 2-3 2-3 2-3 3-3 3-3 3-3 2-3 3-2 4 0 4 0 4 0 4M203 212l1 4 1 4 1 4 0 4 1 3 1 4 1 4-1 4 1 4 1 4 3 3 2 3 2 3M203 212l1 4 0 4 1 4 1 4 1 3 1 4 0 4-1 4-1 4-2 3-2 4-2 3-2 4-2 3-2 4-3 3-3 1M203 212l1 4 0 4 1 4 1 4 0 4-1 3-1 4-2 4-3 3-2 3-2 3-2 4-1 4 0 2M203 212l1 4 2 3 4 2 4 1 4 0 4 1 4 0 4 0 4 0 4 1 3 2 3 3 3 2 3 3 3 3 2 3 2 4M203 212l1 4 2 3 2 4 4 1 4 1 4 0 4 0 3-2 4-1 4-1 4-2 3-1 3-3 2-1M203 212l2 4 1 3 1 4 0 4 2 4 2 4 0 4-1 4 0 4 0 4 1 3 0 4 0 2" stroke="#555" stroke-width="0.7" stroke-linejoin="round"/>
<path d="M194 62l2-3 3-5 6 0 4-4 1 0 5 0 2-1 4-2 10 1 0 3 4-1 6 2 3 1 5 2 3 0 4 0 3-2 5 3-1 3 1 3-3 5 1 5-6 0-4 2-6 1-6-2 0 1-7-2-2 1-3 1-7 1-3-2-7-4-1-1-5-1-5-2-1-2-4-1M217 55l0 4 2 3 2 4 1 1M214 71l3 2 4-1 4-2 1-4 2-2 2-4 2-3M213 58l-3-2-2-1M221 56l-1-4M239 66l4 0 4-1M223 63l0 4-1 4 0 2M233 58l-4 0-3-2-4-1-3 3-4 2-1 2M193 67l-2 5 0 2-1 3 0 5-2 3-2 4 2 3-1 6 1 3 0 4-1 6 4 2-1 3 5 4 0 4 1 3 3 5M200 66l-3 3-2 3-2 4-2 2-3 5-3 5-1 0 1 4 0 6-1 4 3 4-2 4 1 4 3 5 4 0 2 7 3 2 2 3M205 71l1 6-2 4-2 4 1 4-1 2-1 3 0 8 2 2 1 4 1 3 2 5 0 4 0 4 4 4 1 4 3 4M208 70l0 3-1 5-1 4 0 2-3 5 1 5-1 2 3 4 0 4 1 6 1 2 2 4 1 5 1 3-2 5 2 5-1 2M219 80l-1 4 2 4-3 3 1 6-1 3-1 4 1 3 2 5 3 5 0 3 3 5 0 3 0 3 1 5 1 4M218 80l3 5-1 5-3 4-1 3 0 8 1 1 0 4 2 5-1 4 1 2 2 4 0 6 0 1 3 4 1 4M230 80l2 4-1 3 1 6 0 1 0 7 1 2 1 4 0 6 1 4-1 4 2 2 1 7 1 2-1 4M234 78l1 7-1 5-1 3-1 4 2 4 0 3 0 6-2 4-1 2 2 8 2 3 1 3-1 3 3 3M223 116l4 3 4 0 4 1 4 2 2-4 9 1 2-2M221 116l3 0 4 4 2-1 7 5 4-3 2-1 5-2 3-2M191 99l-1 4-1 7-2 2-3 5-3 4 2 3-2 4M188 99l1 6 1 4 3 3 0 4-4 2-2 3-4 5-2 1M211 76l-1 4 0 5 0 4 0 2 0 6-1 3 3 5-1 4 2 3 0 6 0 2M212 77l1 5-3 2 0 4-1 7-1 2 1 4-1 4 0 6 2 4-1 3 1 4M196 84l0 4-1 4 1 2 0 4-3 5 1 6 2 1 1 5 2 6 0 3M201 85l-3 2 0 7 0 3-3 3-2 4 0 5 4 4 2 3-2 7 1 2M171 167l2-5-2 0-1-7 0-4-1-3 0-5 0-5 2-3 1-4 2-1-2-6 0-2 1-7 2-1-1-6 3-4M178 160l0-3 0-5 3-4-1-4 1-6 0-1 0-6 2-2-1-5 4-3-1-5M247 163l2-3-1-3 1-4 2-7-1-1-1-5 1-4 3-4 1-4 1-4M259 170l0-2 0-3 2-5-2-3 3-6-2-2 1-4-1-4 1-5-2-4M163 180l0-4-1-3 2-5 0-6 0-1 0-3 1-6 1-4 0-4 1-4M231 151l0-1 1-7 0-3-1-5 1-5-1-4 1-2 1-4-2-3 0-5M204 153l-2-4 0-6-1-2 2-5-2-3 1-6-1-2-2-4 0-6 0-3M208 181l3-3 3-2 3-3 4-1 3-2 3-3 2-3 2-4 3-3 2-3 3-3 2-1M246 177l4-1 2-1M216 169l3 2 4 3 4 1 4 0 3 2 4 0 4 0 4 0 4 1 4 0 4 1M216 163l4 2 4 2 3 1 4 3 3 1 4 1 4 2 3 1 4 2M203 169l-3 3-3 2-3 3-3 2M216 154l-3 2-3 3-2 3-3 3-2 4-2 3-2 4-1 4-2 3 0 2M213 174l4 1 4 2 3 2 2 3 2 3M181 171l-3-3-4-1-4-1-2 0M191 170l-4 1-4 0-4 0-4 1-3 2-4 1-4 2-2 0M211 154l3 3 3 3 3 3 2 3 2 4 1 4 1 4 1 3 2 4 1 2M217 158l-1-4-1-4-2-4-2-3-2-4-3-2M197 174l4 0 4 0 3-3 2-3 3-3 2-4 2-3 2-4 1-3 1-4 2-4 2-3 1-4M216 165l-2 4-2 3-2 4 0 4 1 4 0 4 1 4 1 4M211 164l3 3 3 2 3 2 2 3 2 4 0 4 1 4 1 4 1 4 2 3 1 2M224 157l-3 2-4 2-3 2-4 2-3 1-4 1-4 1-4 2-4 0-4 1-4 1M219 177l-3 2-3 2-3 3-4 2-3 1-4 2-2 1M221 173l-2 4-2 3-2 3-3 3-2 4-3 2-3 3-3 2M212 147l-3-2-4-1-4-1-4-2-3-1-2-1M223 178l-3-3-2-4-3-3-1-4 0-4 0-4 0-4-1-3-1-4-1-4-2-3-3-4-1-1M196 169l-3 1-4 0-4 0-4 0-4-1-4 0-4 0-4 0-4-1-4-2-4-1M204 162l-4 2-3 3-2 3-1 4-1 4-2 3-1 4-2 4-1 3 0 4 0 4M210 166l4 0 4 0 4 1 3 1 4 0 4 1 4 1 4-1 4 0 4 0 4-1 4 0 4-2 3-1 2-1M197 160l-2-4-1-4-2-3-1-4M199 161l-4-2-3-3-3-2-4-2-3-2-3-3M200 180l3 3 2 3 4 2 3 2 2 3 3 3 3 3 3 2M203 168l-1 4 0 4 1 4 0 4 0 4 0 4 1 4 0 4M195 170l-1 4 0 4-2 4-1 3-1 4-1 2M231 175l0 4 0 4-1 4-1 4M227 169l2 3 2 3 1 4 0 4 2 4 1 4 1 1M221 166l4 2 3 2 4 2 3 2 4 2 3 1 4 2 4 1 3 3 2 0M212 176l3 3 1 4 2 4 0 4 0 2M197 176l4-2 4 1 3 0 4 1 4 0 4 0 4 1 4-1 4-2 3-2 4-2 3-2 4-1M180 171l-2 3-3 3-3 2-3 4M203 179l-3-2-3-3-3-2-4-1-4-1-4 1-4 0-4 0-4-1-3-1-4-2-2-1M217 155l3-3 4-1 2-1M196 162l-4-2-4-1-3-2-4-1-4 0M201 169l-1-4 0-4 0-4-1-4 0-4-1-4-1-4M193 161l-3 2-3 3-3 2-1 1M203 157l-4 1-4 2-3 1-4 1-4 1-4 0M204 156l-3 3-3 1-4 2-4 1-4 1-4-1-3-2-2 0M227 167l3-3 3-3 3-2M203 175l0 4 0 4 0 4 1 4 1 1M193 167l-3-3-3-2-4-2-3-3-4-1-2 0M197 168l-4-1-4-2-3-1-4-2-4-2-2-3-3-3M230 156l3-3 2-3 3-3 2-3 1-2M236 158l2 3 2 4 1 4 1 3 1 4 1 4 1 4 1 4 1 4M249 173l-1 4 0 4 0 4 0 4 0 2M200 157l4 0 4-1 4-1 4 0 4 1 4 0 4 0 4 0 4 2 2 3 3 3 3 3 2 3 3 3 3 3 2 3 3 3 3 2 1 2M209 179l-1 4-1 3-2 4-2 3-3 3M208 160l0-4-1-4-1-4-2-4-2-3M210 163l-2-3-1-4-2-4-1-3-2-4-2-4-1-3-1-2M202 175l-2-4-2-3-1-4-1-4 0-4 1-4-1-4 0-2M206 158l4-1 4-1 4-2 3-2 4-2 4-1 3-2 4-2 4-1 3-2 4-1 3-2M230 162l1-4 1-4-1-4 1-2M220 165l4 2 3 2 4 1 4-1 4-1 4 0 4-2 3-1 4-1M220 180l-4-1-4 1-4 0-3-1-4-1-4-2-3-2-4-2-3-2-2-4-3-3-2-3-2-3-2-4-2-3-1-2M193 172l-1-3-1-4-3-3-2-4-2-3-3-3-4-1-3-1-4 0-4 1-2 0M192 166l-4 0-4-1-4 1M195 168l-3-2-2-3-4-3-3-1-4-2-2 0M206 173l-1 4-3 3-3 3-3 1-4 2-4 1-4 1-2 0M186 184l-4 0-4 0-4 0M208 172l-3 1-4 2-3 2-4 2-3 3-3 2-4 1-3 3-2 3-3 3M210 156l3-3 1-2M199 161l3-3 4-1 4-1 3-2 4-2 4-1 1-1M199 170l-2 4 0 4-2 3-1 4-2 4M202 168l-3 2-4 2-3 2-3 3-2 3-3 3-3 3-1 4M193 167l4 2 3 2 3 3 3 2 3 2 2 4 2 3 2 4 3 3 1 3 1 4M173 161l-3-3-3-3-2-2-2-2M214 160l-3-3-4-2-3-2-4-2-3-2-3-2-4-2-4-1-2 0M244 161l-1-4-2-3-2-4-3-3-2-3-4-2-2-3-3-3-3-2-2-2M211 163l1-4 2-4 1-4 1-3 2-4 2-3 3-3 2-3 1-2M244 154l1 3 3 3 2 4 3 3 1 1M177 146l2 3 4 2 3 2 3 2 4 1 4 1 4 0 4 1 4 0 4-1 4 0 4-1 4 0 4 1 3 2 4 0M204 144l-3 2-4 2-4 1-3 1-4 1-4 0-4 1-4 1-4 1-4 1-4 1M197 156l0 4 0 4 1 4 0 4 0 4 0 4M224 148l-3 3-3 3-2 2-3 3-3 3-3 3-3 3-3 2-4 1-2 1M188 173l-4-1-4 1-3 1M180 161l4 0 4-1 3-1 4-1 4 0 4 1 4-1 4-1 2-1M233 173l-2-3-1-4-3-3-2-3-3-3-3-3-1-3-2-4-1-4-1-4-2-3-3-3-1-1M249 155l-4 1-4 0-4 1-4 1-3 2-3 2-3 2-4 3-1 1M237 163l-1-4-1-4-1-4-2-4-1-3-1-4-1-4 0-2M191 158l-3 2-3 3-3 2-4 2-3 2-3 3M218 147l-3-2-4-2-3-2-4 0-4-1-4-1-4 1-4 1M185 143l2 3 1 4 2 3 3 4 1 3 1 4 1 4 1 4 0 4 1 4M219 139l-1 4-2 4 0 4 0 4 0 4 2 4 2 3 0 4 1 4 2 4 1 1M179 155l-3-1-4-3-3-2-4-2M186 152l3 3 2 3 2 3 2 4 2 3 2 4 1 4 1 4M206 176l-4 0-4-1-4 1-4 0-4 0-2 1M202 173l-4 1-4-2-4-2-3-1-4-2-3-2-3-3-3-3-3-3-2-3-3-2-2-1M182 157l1 3 1 4 3 3 2 4 2 3 3 3 2 3M191 147l4-1 4 0 4 0 4 1 4 1 4 2 3 2 3 2 4 2 4 1 2 1M188 166l1-4 2-4 0-4 1-4 1-4 1-4 0-3 1-4 0-2M198 168l3 3 3 2 2 3 3 3 1 2M252 155l2 3 2 3 2 2M232 144l0 4 0 4-1 3-1 4-2 4-2 3-2 4-1 4-2 3 0 2M179 167l-3 3-3 3M199 175l-4 0-4 1-4 0-2 0M204 141l-3-2-4-3-3-2-4-1M211 148l-4-1-4 0-4 0-4 1-4 1-3 1-4 2-3 2-4 3-1 1M181 165l-4-1-4-1-4-1-3-2-4-2M232 161l-2-3-3-3-3-3-2-3-2-3-4-3-2-3-2-1M181 166l-4 0-4-1-4-1-4-1-2-1M250 166l4 2M235 174l-2 3-1 2M242 145l1 4 1 4 2 3 3 3 3 2 4 3 2 0M173 153l4 2 3 2 4 2 3 3 3 2 3 2 4 2 3 2 3 3 4 2 3 2 4 1 4 2 1 1M206 147l-4 1-4 1-3 1-4 1-4 0-4 1-4 1-4-1-4 0-4 0-2 0M244 159l-4 2-4 1-3 2-4 1-4 1-4-1-4-1-4 0-4 1-4 0M188 138l2-3 1-2M186 144l-2 3-2 4-2 4 0 3 1 4 1 4 1 4 2 3 1 2M204 174l3 1 4 1 4 0 4-1 4 0 4-1 4 1 4 0M207 156l-3-2-4-2-4-2-3-1-4-1-4-1-4 0-4-1-4 1-4 2-4 1-3 2M230 140l1-4 0-2M180 155l-1-4-1-4-1-4-1-4M189 146l3-3 2-3 3-2 3-3 3-2 2-2M239 150l3 3 3 3 3 2 3 3 3 3 3 2M169 150l-1-4 0-2M226 182l-2 4-1 4 1 4M191 174l3 2 4 2 3 2 4 1 4 2 3 2 4 2 3 1 4 3 2 3M177 174l-4-1-2-1M170 180l0-4 0-4M190 179l4 0 3 2 4 1 3 2 4 1 4 2 4 1 4 0 4 1 4 1 3 1 4 1 2 1M198 182l3 2 3 1 4 2 4 2 3 2 3 2 4 1 4 1M200 184l4-1 3-2 3-2 3-3 3-3 3-2 3-3 3-2M232 169l-2 4-2 3-1 4-1 4-2 3-1 4M205 185l4 1 4 0 4 0 4-1 4 0 4-1 4 0 2 0M231 190l-3-2-4-1-4-2-3-1-4-1-4-1-4 0-4 0-4 1-4 1-4 2-3 1-4 1-4 2-2 1M197 175l-3-1-4-2-4-1-4-1-4-1-2 0M218 169l-4 0-4-2-4-1-4-1-2 0M181 183l-4-2-3-3-4-1-3-1-2-1M222 193l-4 2-1 1M222 168l-3 2-4 0-4 2-4 1-4 1-4 1-4 0-4 1-2 0M210 183l-4-1-3-2-4-2-3-2-4-1-4-2-4-1-2 0M206 192l4-2 4 0 4-1 4-1 4-1 4-1 4-1 4 0M218 181l3 3 4 2 3 2 3 3 3 3M211 172l4-1 3-2 3-3 4-1M239 186l3 2 4 1M234 175l-4-1-4 1-3 1-4 0-4 1-4 1-4 0-4-1-4 0-4-1-4 0-4-1-4 0-4 0M218 175l-1-3 0-4 1-2M181 185l3 3 4 1 4 1 3 2 3 3M225 173l0-4 1-4M205 216l2 3 3 3 3 3M205 220l4 2 4 0M202 209l1 4 2 3 0 4 1 4 0 4 0 4 0 2M207 211l-1 4-2 3-2 4-3 3M205 199l-1 4-1 4-2 4-1 4-1 3-2 4-3 2-1 2M210 190l2 3 3 3 3 3 2 3 3 2 3 3 3 4 1 3M209 198l0 4 0 4 0 4 0 4 2 4 1 4 1 3 1 4 2 4 0 4 1 4 0 2M202 195l-1 3-1 4-1 4-1 4 0 4 1 4 0 4 0 4 0 2M192 221l2 3 2 3 1 4 2 3 2 4 3 3 1 4 0 2M192 217l0 4-1 4 1 4 0 4 1 3 0 2M211 202l-3 2-3 2-3 3-4 2-3 3-3 3-3 1-4 2-3 2-2 1M200 208l-1 4-1 4 0 4-1 4-2 3-3 3-3 2-3 3-2 1M238 196l3 3M179 190l4 0 4 1 4 1 3 3 3 2 3 3 3 2 3 3 1 2M175 195l-3 2-3 3-1 2M214 199l4-1 4-1 3-3 4-2 2-3 1-4M186 184l2 4-1 4 0 4-1 4-1 4-1 2M175 197l4 0 4 0 3-1 4-2 4-1 3-2 3-3 3-3 1-4M188 194l-2-4-2-3-1-4M228 195l-1 4-1 4 0 2M181 192l4-1 4 0 4 0 4-1 4-1 4 0 2 0M171 192l-3 2-4 1-3 3-2 1M169 194l4-2 3-2 3-3 3-2 4-1 4 0 4-1 4-2M203 187l-4 0-4-1-3-2-3-3M214 202l-4 1-4 0-3 2-1 2M210 196l-4 1-4-1-4-1-4 0-4-1-4 0-4 0-4-1-4 1-4 0-2 0M179 193l3-2 4 1 4 1 4 1 4 1 3 2 4 1 4 0M170 189l-4 1-4 1-4 1-2 0M171 191l2 4 2 3 3 3 4 2 3 1 4 1 4 2 4 0M164 194l-1-4 1-3M204 205l4-1 4 0 4-1 4-1 4-1 4-1 3-1 4-1 2-1M193 202l4 2 4 0 4 1 3 2 2 0M199 187l4-2 2-3M179 187l-4-3-2 0M203 200l0 5 1 4 0 2 1 4 2 5 1 5 0 2 2 4 1 4-1 4 1 5 0 4 0 5 2 3 1 4-1 2M191 209l0 2-2 4-1 4-3 6 0 2-4 4 0 6-2 3" stroke="#22b4bb" stroke-width="1.5" stroke-linejoin="round"/>
<path d="M199 59h0m5-7h0m3-1h0m0-4h0m8 3h0m2-1h0m3-1h0m4 0h0m5 1h0m2 0h0m3 1h0m20 4h0m2 0h0m3-1h0m4 6h0m-3 10h0m-4 4h0m-7 2h0m-7-2h0m-3 1h0m-3 2h0m-2-5h0m-1 4h0m-5-2h0m-6 3h0m-5-4h0m0 1h0m-5-4h0m-3-1h0m-5-1h0m-6-1h0m-1-3h0m22-8h0m-1 4h0m-4 12h0m4 1h0m13-13h0m-17-1h0m7-2h0m19 12h0m3-2h0m-20-3h0m1 5h0m-2 3h0m-2-15h0m-4 2h0m-23 9h0m-1 3h0m0 3h0m-2 4h0m-2 4h0m0 3h0m-1 15h0m0 4h0m1 5h0m-2 3h0m5 5h0m1 4h0m4 0h0m-1 5h0m2 5h0m3-63h0m-5 4h0m-2 4h0m-3 6h0m-2 2h0m-5 8h0m1 8h0m2 7h0m7 14h0m-1 4h0m7 5h0m6-58h0m-1 4h0m-3 15h0m0 11h0m3 4h0m-1 1h0m3 3h0m1 7h0m1 4h0m-2 3h0m3 3h0m2 3h0m-2-59h0m-6 17h0m0 12h0m6 13h0m3 12h0m-1 4h0m0 4h0m7-47h0m2 3h0m-1 2h0m-3 13h0m1 4h0m1 4h0m4 8h0m1 8h0m0 2h0m2 2h0m1 4h0m-8-56h0m3 5h0m-2 5h0m-3 7h0m-1 8h0m3 10h0m-1 4h0m2 2h0m1 3h0m1 4h0m2 3h0m-2 2h0m3 6h0m1 0h0m5-58h0m2 11h0m0 11h0m4 26h0m1 4h0m-4-54h0m3 4h0m-2 4h0m-1 11h0m1 10h0m-1 5h0m-2 1h0m0 4h0m0 2h0m1 9h0m4 2h0m1 2h0m0 2h0m-6-16h0m3 2h0m5 1h0m-18-5h0m3 2h0m3 0h0m4 3h0m4 3h0m4 1h0m3-4h0m3-2h0m3-1h0m-56-19h0m-4 10h0m-2 4h0m-2 4h0m-1 3h0m6-17h0m1 3h0m2 5h0m0 4h0m-6 8h0m24-45h0m0 8h0m1 3h0m0 12h0m2 10h0m-1 3h0m3 4h0m-1-37h0m-3 6h0m-1 5h0m-2 3h0m3 8h0m-4 3h0m1 4h0m-12-26h0m1 4h0m-1 4h0m-1 3h0m-1 7h0m3 11h0m2 4h0m0 4h0m0 2h0m1-37h0m-1 0h0m-2 3h0m0 4h0m0 4h0m-3 6h0m0 4h0m2 4h0m0 4h0m0 3h0m1 5h0m-26 44h0m0-3h0m1-1h0m-1-4h0m0-3h0m0-5h0m-1-10h0m0-3h0m0-4h0m3-5h0m-1-7h0m3-7h0m1-4h0m-1-4h0m5 38h0m0-4h0m2-17h0m3-2h0m0-3h0m65 34h0m1-5h0m-1-3h0m1-4h0m1-3h0m0-2h0m1-4h0m1-4h0m3-2h0m0 41h0m4-3h0m-1-8h0m2-4h0m-2-10h0m0-4h0m0-6h0m-98 42h0m2-10h0m1-4h0m-1-7h0m1-3h0m0-9h0m67-2h0m1-3h0m0-3h0m-1-5h0m0-3h0m-2-3h0m1-8h0m-28 38h0m0-15h0m-2-4h0m-1-11h0m-1-2h0m0-6h0m8 67h0m4-2h0m17-13h0m3-3h0m2-6h0m2-3h0m5-4h0m6 28h0m-30-9h0m7 5h0m4 1h0m5 2h0m22 2h0m5 1h0m-42-16h0m8 3h0m3 2h0m8 3h0m4 2h0m4 2h0m-41-8h0m-3 4h0m-3 3h0m-4 2h0m23-23h0m-4 2h0m-10 15h0m-1 4h0m-2 3h0m19-3h0m3 2h0m3 2h0m-47-12h0m-8-1h0m14 3h0m-5 2h0m-5 1h0m-2 3h0m-5 1h0m46-21h0m2 3h0m7 6h0m2 5h0m3 6h0m1 5h0m1 4h0m-11-27h0m-1-4h0m-3-7h0m-3-4h0m-2-3h0m-12 34h0m5 1h0m6 0h0m7-11h0m2-4h0m2-5h0m3-3h0m0-3h0m2-4h0m1-5h0m-9 27h0m-4 15h0m-1 5h0m1 4h0m4-22h0m2 1h0m4 4h0m5 11h0m0 5h0m1 4h0m1 3h0m-4-39h0m-3 2h0m-3 2h0m-17 6h0m-5 3h0m-4 0h0m-9 2h0m36 6h0m-7 4h0m-3 2h0m12-10h0m-2 4h0m-2 2h0m-5 7h0m-10 9h0m-1-54h0m-9-3h0m30 38h0m-7-10h0m-2-5h0m1-9h0m-2-6h0m-6-13h0m-10 35h0m-12 1h0m-10-1h0m-12 0h0m-4-2h0m46-5h0m-4 2h0m-5 6h0m-3 10h0m-2 3h0m-1 4h0m-2 9h0m-1 4h0m27-34h0m6 0h0m3 1h0m5 2h0m4-1h0m6 1h0m3 1h0m17-2h0m5-1h0m3-3h0m-71-13h0m4 9h0m-3-1h0m-11-8h0m16 29h0m9 8h0m14 13h0m-20-34h0m-1 6h0m0 16h0m1 5h0m-9-24h0m0 4h0m-1 4h0m37-3h0m1 4h0m0 6h0m3 3h0m-9-21h0m4 2h0m4 3h0m4 1h0m4 3h0m3 2h0m4 1h0m4 3h0m-40-5h0m4 7h0m3 3h0m-2 6h0m-16-19h0m5 0h0m3 1h0m5 1h0m5-1h0m13-1h0m7-3h0m-61 3h0m-4 4h0m29 1h0m-4-2h0m-3-3h0m-8-4h0m-4 0h0m-4 0h0m-14-1h0m51-16h0m4-1h0m-25 10h0m-8-4h0m-5-1h0m16 8h0m0-9h0m0-5h0m-2-3h0m1-5h0m-12 24h0m18-10h0m-6 2h0m-12 3h0m19-6h0m-16 8h0m-9-2h0m47 5h0m3-2h0m3-5h0m-29 19h0m0 5h0m1 4h0m-12-21h0m-3-3h0m-8-6h0m-8-1h0m23 12h0m-13-5h0m-3-1h0m-6-7h0m58-3h0m3-4h0m2-3h0m0 16h0m1 3h0m3 4h0m0 5h0m2 4h0m0 5h0m1 3h0m4-14h0m0 8h0m-1 6h0m-39-30h0m5-1h0m13 0h0m3 1h0m4 1h0m6 6h0m6 8h0m4 2h0m2 3h0m4 4h0m3 4h0m-50-5h0m-7 16h0m6-36h0m-1-8h0m-5-8h0m8 20h0m-2-4h0m-2-4h0m0-4h0m-4 24h0m-3-4h0m0-4h0m-3-4h0m0-9h0m23-1h0m3-2h0m9-4h0m12-3h0m4-3h0m-18 22h0m1-4h0m1-5h0m-11 12h0m4 1h0m4 2h0m13-1h0m7-3h0m5-1h0m-34 17h0m-2-1h0m-6 1h0m-4-1h0m-4-2h0m-3-3h0m-8-2h0m-7-6h0m-3-4h0m-6-11h0m17 21h0m-2-9h0m-6-7h0m-2-3h0m-4-3h0m-9-1h0m-3 1h0m26 16h0m-5-2h0m2-3h0m-4-2h0m21 14h0m-3 2h0m-2 4h0m-4 3h0m-4 2h0m-4 1h0m-5 2h0m0-4h0m-3 0h0m-5 0h0m32-13h0m-8 5h0m-8 5h0m-16 13h0m33-38h0m-11 3h0m16-7h0m4-1h0m-20 19h0m-3 8h0m-1 5h0m7-15h0m-4 1h0m-4 3h0m-2 3h0m-8 7h0m-2 2h0m10-17h0m5 1h0m3 3h0m3 6h0m4-1h0m3 4h0m7 11h0m1 3h0m-48-35h0m-4-5h0m-1-1h0m49 6h0m30 2h0m-2-4h0m-1-4h0m-4-4h0m-2-4h0m-5-5h0m-6-7h0m-13 30h0m8-20h0m2-4h0m4-3h0m18 18h0m-63-6h0m6 6h0m10 2h0m4 0h0m3 2h0m5-1h0m14-1h0m4 1h0m-26-11h0m-3 2h0m-9 2h0m-5 1h0m-4 0h0m-5 2h0m-3 1h0m-4 2h0m30 14h0m26-23h0m-2 3h0m-3 5h0m-3 3h0m-9 8h0m-9 5h0m-18 2h0m2-12h0m19-4h0m5 2h0m29 15h0m-4-8h0m-3-4h0m-8-10h0m-2-4h0m-3-4h0m-1-4h0m-1-4h0m35 20h0m-6-1h0m-5 2h0m-7 5h0m-4 2h0m-3 2h0m14-7h0m-1-10h0m-3-3h0m-2-4h0m-39 17h0m-3 1h0m-6 6h0m-9 5h0m44-25h0m-2-2h0m-9-2h0m-8-1h0m-5-1h0m-5 6h0m2 5h0m4 7h0m5 21h0m21-10h0m2 4h0m2 5h0m-48-24h0m-9-5h0m18 2h0m5 4h0m2 3h0m3 4h0m3 7h0m3 5h0m-1 4h0m6-1h0m-4-2h0m-4 1h0m-6-1h0m-3 2h0m8-4h0m-5-1h0m-2-1h0m-5-4h0m-4-2h0m-4-3h0m-1-2h0m-4-3h0m-6-7h0m15 6h0m4 8h0m3 4h0m1 4h0m1-25h0m7 0h0m2 0h0m14 2h0m8 5h0m-33 11h0m1-4h0m2-8h0m2-9h0m10 29h0m3 5h0m26-31h0m-1 6h0m-1 9h0m-5 7h0m-2 3h0m-44-6h0m15 10h0m-3 0h0m-6 1h0m22-30h0m-9 0h0m-5 2h0m-3 2h0m-5 0h0m-7 5h0m-2 8h0m-8-2h0m-3-4h0m67 3h0m-2-4h0m-6-6h0m-3-3h0m-3-4h0m-37 23h0m-5 0h0m-4-2h0m78 1h0m-15 8h0m8-29h0m0 3h0m2 6h0m2 3h0m6 6h0m-79-10h0m7 5h0m2 3h0m4 2h0m5 3h0m4 2h0m4 1h0m7 6h0m3 2h0m-5-30h0m-2 1h0m-5 1h0m-14 2h0m-9 2h0m-4-1h0m-3 0h0m75 7h0m-4 3h0m-12 3h0m-4 2h0m-4-2h0m-5-1h0m-4 1h0m-4-1h0m-19-26h0m-2 7h0m0 3h0m-4 4h0m-2 4h0m2 8h0m27 12h0m9 1h0m-13-23h0m-17-5h0m-4-3h0m-5 1h0m-5 1h0m-4 1h0m62-13h0m-51 19h0m-1-5h0m-2-4h0m11 0h0m7-6h0m11-10h0m34 21h0m3 2h0m3 3h0m4 4h0m2 2h0m-27 23h0m-22-5h0m3 3h0m4 1h0m5 4h0m3-1h0m-28-8h0m4 1h0m4 2h0m4 1h0m3 2h0m5 1h0m4 1h0m4 1h0m8 2h0m6 1h0m4 1h0m-39-11h0m5 3h0m2 2h0m5 2h0m4 1h0m4 3h0m4 2h0m-22-11h0m5 0h0m4-2h0m3-3h0m3-2h0m8-7h0m11 0h0m-2 4h0m-3 4h0m-3 8h0m-21 0h0m10 0h0m9 1h0m8-2h0m0 6h0m-3-2h0m-4-2h0m-10-4h0m-17 0h0m-20 8h0m21-14h0m-9-5h0m28-3h0m-3 1h0m-9-3h0m-4-1h0m-21 18h0m-6-4h0m-4-3h0m-5-1h0m53-5h0m-13 3h0m-3 2h0m-5 0h0m-4 1h0m17 7h0m-9-4h0m-2-2h0m-5-1h0m-4-3h0m-4 0h0m30 17h0m4-2h0m4-1h0m3 0h0m6-2h0m5 0h0m-16-2h0m7 6h0m3 2h0m-21-20h0m7-2h0m3-3h0m18 19h0m3 3h0m-7-13h0m-5-1h0m-5 2h0m-3 1h0m-6-1h0m-3 1h0m-9 0h0m-22-3h0m36 0h0m0-7h0m-39 18h0m5 3h0m9 4h0m32-19h0m-21 43h0m4 4h0m2 3h0m0-1h0m-5 0h0m1 8h0m1-19h0m-1-11h0m-7 17h0m-3 6h0m20-25h0m3 2h0m8 9h0m3 5h0m-21-17h0m1 6h0m-1 3h0m0 6h0m1 3h0m6 18h0m-13-37h0m-2 3h0m-3 12h0m2 9h0m-1 3h0m-7-2h0m1 2h0m4 10h0m7 10h0m-13-22h0m0 8h0m1 5h0m19-33h0m-9 8h0m-6 4h0m-2 2h0m-9 5h0m-3 2h0m18-14h0m-1 5h0m0 4h0m-1 3h0m-8 11h0m-6-40h0m4 0h0m7 6h0m3 1h0m4 4h0m-30-4h0m-3 4h0m46-3h0m3-2h0m4-1h0m4-2h0m5-4h0m1-3h0m-46-3h0m2 9h0m-1 5h0m-8-1h0m5 0h0m12-5h0m5-7h0m28 10h0m-2 7h0m-46-10h0m12-1h0m11-2h0m-32 3h0m-4 2h0m-5 2h0m10-4h0m4-2h0m3-4h0m4-2h0m5 0h0m3-1h0m13 4h0m-10 0h0m-4-4h0m18 13h0m-3 1h0m-6-1h0m-8-1h0m-9-1h0m-12-1h0m20 0h0m5 2h0m4 1h0m4 1h0m-34-8h0m-4 1h0m-4 1h0m-5 1h0m14-1h0m2 4h0m4 3h0m3 3h0m7 3h0m4 2h0m13-2h0m4 0h0m13-3h0m7 0h0m2-1h0m-32 4h0m7 1h0m4 2h0m-5-23h0m-26 3h0m26 13h0m-1 4h0m2 4h0m0 3h0m0 3h0m0 4h0m1 3h0m0 5h0m3 4h0m0 5h0m3 9h0m2 12h0m1 5h0m-25-48h0m-6 8h0m0 3h0m0 4h0m-3 8h0m0 3h0" stroke="#22b4bb" stroke-width="2.6"/>
</g>
<g transform="scale(.5)" fill="none" stroke-linecap="round">
<defs><path id="p25" d="M668 168h0m-37 10h0m32-11h0m-30-11h0m18 3h0m18 13h0m-47-3h0m39 17h0m-19-29h0m49 18h0m-92-16h0m61 17h0m46-16h0m-52 19h0m-7 3h0m-10-12h0m-6 23h0m26 8h0m45-11h0m-64 10h0m-17-18h0m-4 7h0m35 5h0m42 2h0m-19-5h0m5-1h0m-5 1h0m1 4h0m-67-11h0m33 32h0m-13 1h0m33 5h0m-23 19h0m16-19h0"/></defs>
<use href="#p25" stroke="#a27ba2" stroke-width="4.9"/>
<use href="#p25" stroke="#e8b0e8" stroke-width="4.2"/>
<defs><path id="p26" d="M673 66h0m3-1h0m6-9h0m5 6h0m-11-1h0m7-11h0m15 1h0m-30 53h0m30 2h0m-1 7h0m0 10h0m-5-3h0m-33-27h0m-10 17h0m-1 11h0m-2 8h0m-12 3h0m1 9h0m-4-24h0m2 17h0m47-36h0m-15 72h0m7-4h0m18-5h0m5-1h0m-50-19h0m6 6h0m4 3h0m5 2h0m2 1h0m5 2h0m5 2h0m4 3h0m2 2h0m-50-8h0m-13-1h0m-21 7h0m91 12h0m5-6h0m2-1h0m7-4h0m-72 12h0m-7 3h0m-7 4h0m-2 2h0m37-44h0m-19 7h0m-15 16h0m-3 0h0m-5 0h0m33 16h0m15-5h0m-8-13h0m-31-5h0m-5 0h0m-5 0h0m-5 1h0m-5 1h0m94 26h0m-29-27h0m41 15h0m2 1h0m-30-20h0m-15 18h0m-23 13h0m34-21h0m2-2h0m8-5h0m-69 7h0m1-3h0m1-8h0m2-12h0m54 37h0m1 6h0m-13-25h0m2-5h0m15-12h0m24 22h0m-6-11h0m-5-9h0m-8-7h0m-23 22h0m4-6h0m9-6h0m20 9h0m-13 1h0m-38 7h0m2 1h0m18 1h0m3 0h0m4 21h0m1 3h0m-54-16h0m1 2h0m61-21h0m0-8h0m-51 22h0m1 5h0m0 3h0m0 3h0m1 5h0m51-9h0m-6 6h0m-15 14h0m11-14h0m6-5h0m2-3h0m22-21h0m11 23h0m-92-27h0m79 27h0m14-8h0m-17-5h0m7 2h0m3 3h0m-55-15h0m-9 13h0m25 2h0m30-2h0m7 8h0m-8-17h0m2-2h0m4-6h0m-40 15h0m8 7h0m-25-9h0m-7 26h0m36-44h0m8 2h0m21 10h0m-52 15h0m1-2h0m19-14h0m7-3h0m2-2h0m-34 23h0m0-13h0m2-10h0m1-5h0m37 1h0m3 10h0m7 14h0m8 10h0m-97-13h0m34-9h0m8 3h0m2 0h0m10 4h0m2 2h0m2 2h0m20 16h0m-23-12h0m-3 1h0m-15 0h0m-13-1h0m14-8h0m-38 0h0m71-21h0m0 10h0m0 5h0m1 3h0m4 23h0m1 2h0m0 3h0m-4-40h0m-15-2h0m32 12h0m0 11h0m-57-27h0m0 5h0m-1 5h0m-1 8h0m0 3h0m0 5h0m-1 2h0m-2 5h0m-4 3h0m71-17h0m-11 6h0m-3 1h0m21-16h0m-24-1h0m3 0h0m10 4h0m-2-3h0m-48-19h0m26 7h0m5-3h0m-61 11h0m1-3h0m68 9h0m-21-15h0m9-6h0m-54 54h0m55-17h0m-1 2h0m11-29h0m-59-3h0m25 18h0m1 3h0m9 12h0m5 6h0m-5-42h0m7-4h0m-25 11h0m1 7h0m0 8h0m2 10h0m50 4h0m10-9h0m2-1h0m-41-13h0m-1 2h0m-1 3h0m-6 22h0m1 8h0m-20-45h0m-5-6h0m47 14h0m22 16h0m-17-3h0m22 9h0m-60-14h0m12-5h0m10-2h0m3 1h0m10 1h0m-39 22h0m28-13h0m-36-3h0m-4 7h0m-14 11h0m54-35h0m-14 12h0m-11 7h0m20 10h0m5-9h0m0-28h0m22 42h0m-8 7h0m-8-13h0m2 1h0m-48 1h0m-12-13h0m2 31h0m73-27h0m-14-25h0m-20 57h0m9-36h0m-2-2h0m-25-18h0m-2-1h0m-2 3h0m18 48h0m41-37h0m12 4h0m-40-17h0m-63 25h0m-2 2h0m-2 5h0m75-11h0m-10-2h0m-32 10h0m2-2h0m5-6h0m23-12h0m2-1h0m-30 19h0m-5-7h0m-6-8h0m-3-10h0m65 46h0m0 3h0m-28-53h0m-47 56h0m0 3h0m35-1h0m1-13h0m-4 11h0m29-5h0m-17-6h0m-36 21h0m62-16h0m-12-2h0m7-2h0m5-1h0m-45 19h0m-16-6h0m65-13h0m-38 13h0m-10-2h0m-3 1h0m-5 1h0m49-2h0m-16 3h0m8 1h0m20-2h0m-44 9h0m-25-3h0m-3 0h0m14-2h0m10-7h0m-10-8h0m-2-2h0m-2-1h0m13 8h0m3 5h0m-7-7h0m59-2h0m-80 2h0m-5-1h0m93 7h0m-41 1h0m11-2h0m-23-8h0m-2 6h0m-5 3h0m-2 1h0m-5 2h0m29-2h0m-24 3h0m38 6h0m-24-15h0m-5 2h0m7-10h0m23 12h0m-46 34h0m17-15h0m7-3h0m44-12h0m9 3h0m21-3h0"/></defs>
<use href="#p26" stroke="#219821" stroke-width="4.9"/>
<use href="#p26" stroke="#30da30" stroke-width="4.2"/>
<defs><path id="p27" d="M638 179h0m-29-3h0m78 22h0m-76-1h0m49 6h0m-27-20h0m27 42h0m0 0h0m0 2h0m1-7h0m-7-11h0m-2 18h0m0 7h0m-17-19h0"/></defs>
<use href="#p27" stroke="#941694" stroke-width="4.9"/>
<use href="#p27" stroke="#d420d4" stroke-width="4.2"/>
<defs><path id="p28" d="M685 169h0m-63 6h0m-4 2h0m-5 2h0m3 0h0m15-23h0m50 29h0m-20 5h0m16-35h0m-9 23h0m1 10h0m0 3h0m-2 0h0m0-14h0m0 4h0m2-6h0m32-13h0m-21 13h0m-9-3h0m-2 5h0m-7 11h0m-16-6h0m-14 6h0m46-44h0m-41 43h0m6-10h0m-4 9h0m33-38h0m17 32h0m-19-11h0m-56-27h0m53 39h0m14-44h0m-11 50h0m-29-3h0m15-46h0m14-2h0m-8 37h0m21-26h0m-33-4h0m-2 49h0m-28-14h0m68 18h0m-42-12h0m-1 2h0m-7 8h0m-5 7h0m54-21h0m-53 12h0m-12 6h0m30 2h0m9 4h0m2-19h0m-12 7h0m-15 0h0m-15-3h0m40-10h0m23 11h0m13-1h0m-34 13h0m-8 1h0m-27-8h0m-7-2h0m-4-3h0m67-8h0m-61 12h0m21-9h0m-8 13h0m8-5h0m-37-4h0m-3 0h0m22-10h0m36 25h0m-28-9h0m20 6h0m35-6h0m-11-5h0m-7 10h0m-3-4h0m-35-20h0m-3 4h0m54 16h0m-6-6h0m-6 11h0m-46-21h0m36 15h0m-2 1h0m-10 4h0m-11-5h0m7-4h0m6-8h0m2-8h0m12 17h0m-5-2h0m18 10h0m-69-13h0m43-8h0m15-4h0m-62 19h0m38 27h0m-2-15h0m-12 19h0m8 4h0m20 0h0m1-2h0m1-5h0m-5-2h0m2 10h0m-12-23h0m13 0h0m0-2h0m-1 21h0m89-42h0m-94 37h0m10 9h0m-25-18h0"/></defs>
<use href="#p28" stroke="#2a939f" stroke-width="4.9"/>
<use href="#p28" stroke="#3cd2e4" stroke-width="4.2"/>
<defs><path id="p29" d="M656 183h0m-15 4h0m18 11h0m-19-13h0m5 17h0m7 16h0"/></defs>
<use href="#p29" stroke="#a59713" stroke-width="4.9"/>
<use href="#p29" stroke="#ecd81c" stroke-width="4.2"/>
<defs><path id="p30" d="M664 60h0m-1-10h0m27 17h0m-12-3h0m1 5h0m-4 2h0m18-10h0m-12-6h0m10-2h0m5 2h0m-32 7h0m0 3h0m-1-8h0m3-5h0m-6 10h0m1-11h0m12-8h0m8-1h0m7 2h0m10 13h0m-28 13h0m0 18h0m0 17h0m-2 4h0m1 1h0m1 2h0m-1 3h0m-1 1h0m2 8h0m1-53h0m0 10h0m-3 29h0m0 2h0m1 2h0m-2 5h0m1 2h0m29-42h0m1 6h0m-1 5h0m2 27h0m-1 2h0m-3-42h0m2 12h0m1 4h0m0 9h0m0 3h0m1 1h0m-1 3h0m-2 23h0m-25-13h0m15-1h0m4 2h0m2-2h0m-8 0h0m-23-31h0m-5 21h0m-2 14h0m-1 1h0m6-29h0m-3 15h0m-12 9h0m4-11h0m1 5h0m-3 6h0m-9-7h0m-2 14h0m-1 10h0m1 2h0m0 6h0m-3-28h0m0 5h0m1 11h0m-1 10h0m-10-3h0m2-6h0m-1 10h0m58-54h0m0 8h0m0 25h0m-1-37h0m2 25h0m1 5h0m-2 13h0m-6 38h0m5-2h0m-42-6h0m22 11h0m-17-2h0m23-21h0m-47 7h0m30 8h0m15-14h0m13 3h0m20 5h0m-45-2h0m-13 3h0m0 6h0m41 0h0"/></defs>
<use href="#p30" stroke="#941a1a" stroke-width="4.9"/>
<use href="#p30" stroke="#d42626" stroke-width="4.2"/>
<defs><path id="p31" d="M684 185h0m-39-4h0m1 14h0m-4 8h0m-15 18h0m71-29h0m6 1h0m-73 29h0"/></defs>
<use href="#p31" stroke="#a59713" stroke-width="4.9"/>
<use href="#p31" stroke="#ecd81c" stroke-width="4.2"/>
<defs><path id="p32" d="M663 52h0m26 20h0m-3-6h0m7 3h0m2-7h0m-10-11h0m13 6h0m2 1h0m-36-3h0m15-7h0m0-5h0m4-1h0m14 12h0m3 10h0m-1 62h0m-3-52h0m0 37h0m-10 8h0m-30-13h0m-3 9h0m-8 0h0m-1 5h0m1 15h0m-10-14h0m48-1h0m-3-33h0m-22 85h0m2-1h0m3 0h0m29-11h0m8-2h0m-53-15h0m11 8h0m-35 3h0m-2-1h0m-8 0h0m-8 2h0m-5 1h0m-2 2h0m88 12h0m2-2h0m7-4h0m9-5h0m2-1h0m-81 16h0m-10 4h0m41-2h0m-1 10h0m-2-49h0m-2 1h0m-5 1h0m-22 9h0m-2 1h0m-2 2h0m-3 10h0m32 13h0m16-9h0m2-1h0m1-2h0m5-12h0m-30 8h0m-15-3h0m-15-1h0m71 30h0m-10 4h0m-17 6h0m8-51h0m2-5h0m1-2h0m31 32h0m-41 22h0m11-36h0m-4 4h0m-1 2h0m-25 26h0m12 4h0m7-17h0m2-2h0m7-8h0m17-11h0m3-1h0m5-1h0m-81 6h0m50-9h0m15-10h0m20 21h0m-2-4h0m-7-11h0m-46 24h0m6-4h0m2-2h0m21-18h0m-53 37h0m68-27h0m-28-2h0m-10 11h0m5 0h0m-40 19h0m58-11h0m2-5h0m1-10h0m-53 1h0m1 5h0m1 3h0m45 13h0m7-8h0m4-3h0m12-9h0m12 10h0m2 4h0m-89-23h0m65 30h0m1 5h0m11-22h0m3 1h0m10 2h0m2 1h0m3 0h0m-38 5h0m22 4h0m11-14h0m-62-8h0m-5 8h0m25 6h0m-12-5h0m-4-2h0m-7-4h0m-13-9h0m-2-1h0m-6-5h0m-8 0h0m34 52h0m15-37h0m-1 2h0m2 11h0m21 3h0m2 1h0m-6-3h0m0 2h0m5 9h0m-22-40h0m10 1h0m12 4h0m2 1h0m17 8h0m-50 6h0m10-7h0m16-10h0m-37 24h0m-1-7h0m0-6h0m42-3h0m17 28h0m-78-40h0m-19 27h0m35 11h0m26-9h0m2 2h0m2 2h0m5 5h0m2 2h0m-41-9h0m-3 0h0m13 4h0m-40-11h0m-7-3h0m76-17h0m2 21h0m1 5h0m9-21h0m-18-2h0m-5 0h0m32 6h0m-2 18h0m-1 8h0m-1 5h0m-57-29h0m0 2h0m-2 16h0m-12 13h0m81-25h0m-5 1h0m-19 8h0m23-19h0m3 1h0m-14 2h0m17-1h0m-15 1h0m-33-5h0m3-4h0m11-7h0m9 16h0m5-1h0m2-1h0m7-3h0m-74 20h0m52-2h0m-3 8h0m10-19h0m2-10h0m-60-4h0m20 8h0m3 4h0m5 9h0m15 18h0m45-21h0m-45-13h0m10 4h0m2-2h0m6-8h0m13 22h0m3 0h0m7 2h0m-17-2h0m2 1h0m7 2h0m10 5h0m-35-26h0m-9-4h0m-8-2h0m-5-3h0m-7 20h0m29-6h0m11 1h0m2 0h0m-24 11h0m-31-1h0m-6 9h0m-4 2h0m43-27h0m-6 5h0m-6 4h0m-11 7h0m23 18h0m2-13h0m2-4h0m5-12h0m-1-13h0m-1-2h0m17 42h0m-7-6h0m-43 6h0m-2-2h0m-4-3h0m-5-6h0m-3-4h0m-2-2h0m-3-1h0m-6-4h0m-5-1h0m-3-1h0m20 25h0m73-8h0m-2-2h0m-1-3h0m-1-2h0m-4-9h0m-3-5h0m-7-11h0m-18 45h0m-4-34h0m-2-1h0m-13-9h0m-3 10h0m-1-3h0m-1-2h0m13 47h0m42-41h0m5 0h0m5 2h0m-34-10h0m-60 14h0m-1 2h0m63-1h0m-8 0h0m-5 1h0m-5 1h0m-2 0h0m-19 9h0m7-8h0m22-13h0m9-4h0m10-4h0m-42 29h0m-8-13h0m27-18h0m-9 53h0m5-10h0m6 12h0m-1-5h0m-1-5h0m19-1h0m-23 4h0m2-2h0m-47 13h0m38-6h0m-15 5h0m24-15h0m2 0h0m18 4h0m6 5h0m7 2h0m-55 6h0m-7-10h0m19 5h0m43-6h0m-5 2h0m-37 3h0m-29-1h0m41-11h0m21 15h0m-33-2h0m-8 3h0m70-5h0m-42 4h0m-9-6h0m-5-6h0m-25-1h0m-3-1h0m57 9h0m-31-8h0m6-2h0m5 12h0m14 6h0m-62-7h0m61-10h0m-31 16h0m-5 1h0m14 32h0m4 6h0m46-42h0m27 2h0m10-6h0m3 0h0m2-2h0m12-2h0"/></defs>
<use href="#p32" stroke="#219821" stroke-width="4.9"/>
<use href="#p32" stroke="#30da30" stroke-width="4.2"/>
<defs><path id="p33" d="M649 145h0m39 31h0m-7 2h0m0-2h0m-72-15h0m14 18h0m28-6h0m26-38h0m-41 22h0m-34-2h0m60 37h0m4-51h0m-9 51h0m-11-3h0m10 1h0m10-1h0m16-52h0m-58 47h0m41-2h0m1-1h0m29-9h0m-63-3h0m24-6h0m31-5h0m-1 15h0m-48 1h0m-2 4h0m-5 13h0m29-37h0m26 3h0m-49 27h0m6-12h0m34 4h0m12-22h0m-46-19h0m-28 48h0m24-37h0m2 30h0m48-3h0m-34 1h0m14-31h0m-1 48h0m-43-15h0m-5 6h0m40 5h0m-25-54h0m46 8h0m-26 43h0m27-21h0m-51-5h0m13 39h0m0 2h0m-23-19h0m63 23h0m-44-11h0m-9 10h0m25-19h0m-8 5h0m-40 8h0m57-13h0m-21 9h0m-13-1h0m-6 0h0m23-12h0m29 7h0m-32 16h0m-12-5h0m-10-3h0m2-6h0m23 4h0m-17-1h0m-12 5h0m-3 1h0m-2 1h0m56 3h0m1-7h0m23 0h0m-65 1h0m5 2h0m12 1h0m12-5h0m-35-4h0m-21 1h0m89-8h0m-55 7h0m13 10h0m10-8h0m-13-1h0m-5 2h0m51 3h0m7 2h0m-1-6h0m-28 7h0m-22-18h0m-3-1h0m-2-1h0m-22 18h0m-2 4h0m24-22h0m10 21h0m-2 1h0m-17-5h0m1-11h0m-12-5h0m54 19h0m-20-11h0m11 6h0m-17-15h0m-3 0h0m-9 18h0m8 32h0m-4-9h0m-2-8h0m-16 9h0m7 1h0m31-1h0m-5-7h0m-12 25h0m8-26h0m-7-4h0m6-1h0m6 8h0m0-5h0m-22 27h0m14-7h0m4 7h0m-1-15h0m58-24h0m7-3h0m5 1h0m-60 35h0m-24-22h0m-11 18h0"/></defs>
<use href="#p33" stroke="#2a939f" stroke-width="4.9"/>
<use href="#p33" stroke="#3cd2e4" stroke-width="4.2"/>
<defs><path id="p34" d="M684 183h0m-75 15h0m73-5h0m2-1h0m-40 7h0m7-3h0m-38-13h0m38 9h0m-16-13h0m21 19h0m3 37h0m-34-10h0m28-9h0m-2 21h0m11-9h0m2 6h0m0 9h0m-26-33h0"/></defs>
<use href="#p34" stroke="#941694" stroke-width="4.9"/>
<use href="#p34" stroke="#d420d4" stroke-width="4.2"/>
<defs><path id="p35" d="M685 62h0m-8-18h0m7 22h0m-6-7h0m2-2h0m-13-10h0m-3 4h0m24 0h0m5-2h0m-24-3h0m31 10h0m-29 16h0m0 3h0m-1 8h0m0 8h0m0 7h0m-1 23h0m3-53h0m-1 17h0m-1 7h0m-1 3h0m-1 31h0m0 4h0m28-57h0m-1 4h0m2 4h0m1 7h0m1 23h0m1 19h0m-4-50h0m2 20h0m-1 15h0m-24 6h0m2-1h0m1-2h0m7 2h0m12-2h0m-34-33h0m-3 11h0m-2 5h0m0 5h0m-3 19h0m8-40h0m-2 2h0m-2 10h0m-3 18h0m-2 2h0m0 5h0m1 5h0m-1 2h0m-6-23h0m0 4h0m-2 18h0m2 5h0m1-16h0m1 2h0m-2 11h0m-9-17h0m-1 2h0m-1 8h0m0 17h0m-3-18h0m2 23h0m-7-17h0m-5 15h0m57-59h0m1 29h0m2 5h0m-1 8h0m0-37h0m1 11h0m0 3h0m2 4h0m-41 51h0m13 13h0m6-26h0m-17 16h0m32 10h0m16-19h0m10 17h0m-3 0h0m-43-10h0m38-8h0m-3-2h0m-5-1h0m-18-2h0m-14 22h0m9-26h0m7 2h0"/></defs>
<use href="#p35" stroke="#941a1a" stroke-width="4.9"/>
<use href="#p35" stroke="#d42626" stroke-width="4.2"/>
<defs><path id="p36" d="M626 179h0m-3-24h0m-3-1h0m38 35h0m-46-45h0m27 14h0m55-8h0m-12 28h0m-41-6h0m-6-17h0m47-7h0m-15 39h0m-10-23h0m-36 15h0m36 3h0m28 18h0m-59 2h0m7-10h0m61-2h0m-36 13h0m-39-23h0m19 7h0m7 6h0m14 1h0m1 3h0m-20-20h0m48 23h0m-42-11h0m-13 8h0m-5-16h0m15 23h0m39-3h0m-30 19h0m7 8h0"/></defs>
<use href="#p36" stroke="#a27ba2" stroke-width="4.9"/>
<use href="#p36" stroke="#e8b0e8" stroke-width="4.2"/>
<defs><path id="p37" d="M679 186h0m-67-7h0m42 2h0m23 4h0m-61 14h0m-3-1h0m8 2h0m28-3h0m11 2h0m13 0h0m-10-6h0m-11 36h0m-24 0h0"/></defs>
<use href="#p37" stroke="#a59713" stroke-width="4.9"/>
<use href="#p37" stroke="#ecd81c" stroke-width="4.2"/>
<defs><path id="p38" d="M690 70h0m-3-6h0m-3-4h0m-20 0h0m4-15h0m3-1h0m27 16h0m-1 16h0m0 51h0m-4-8h0m-34-28h0m-4 20h0m5-21h0m-4 11h0m-7 14h0m-3 0h0m-14 28h0m-10-2h0m58 23h0m2-1h0m20-6h0m5-1h0m3 0h0m-28 9h0m-34-5h0m-2-1h0m-5-1h0m-5-2h0m-10-2h0m-18 0h0m89 9h0m4-3h0m8-3h0m-79 16h0m26 5h0m0 3h0m-15-41h0m-3 1h0m-4 2h0m-3 1h0m-13 8h0m-2 2h0m-17 11h0m29 14h0m8-2h0m8-2h0m26-15h0m2-8h0m-34 5h0m-20-3h0m41 3h0m2-4h0m3-5h0m-2 14h0m-1 2h0m-24 20h0m38-28h0m-62-13h0m1-3h0m54 25h0m0 3h0m0 2h0m0 3h0m1 10h0m0 3h0m-1-46h0m10-4h0m14 16h0m-3-7h0m-5-6h0m-4-3h0m-41 33h0m19-17h0m6-5h0m-47 36h0m0 3h0m66-33h0m-6 1h0m-7-1h0m-15-3h0m-21 11h0m16 1h0m16 27h0m-54-13h0m61-14h0m0-2h0m0-3h0m0-15h0m0-3h0m-1-3h0m-48 43h0m0 10h0m47-12h0m-8 7h0m-4 3h0m21-23h0m2-1h0m17-9h0m1 2h0m1 8h0m-76-1h0m-1-2h0m-4-6h0m-3-5h0m-6-8h0m87 28h0m4-3h0m7-4h0m-28 17h0m7-21h0m12 4h0m2 1h0m-10 12h0m5-7h0m5-6h0m5-8h0m1-2h0m-74 14h0m-8 10h0m-1 3h0m-3 4h0m43-17h0m-30-14h0m-4-4h0m-2-1h0m-6-5h0m66 13h0m6-8h0m-43 17h0m-2 2h0m-7 3h0m13-2h0m10 0h0m8 2h0m15 4h0m-49-12h0m1 5h0m-4 9h0m-3 5h0m-1 2h0m46-9h0m-16-34h0m3 0h0m22 7h0m11 7h0m-45 4h0m4-3h0m18-10h0m-35 20h0m-1-3h0m0-10h0m1-3h0m38-8h0m2 4h0m0 3h0m12 23h0m-96-14h0m-1-2h0m42 27h0m0-26h0m2 1h0m8 2h0m13 8h0m8 7h0m8 6h0m4 3h0m-35-11h0m-23-2h0m10-17h0m8 14h0m2 5h0m-1 7h0m31-41h0m-1 8h0m22 4h0m-15-2h0m-2-1h0m-6-1h0m20 14h0m-1 2h0m-2 23h0m-55-36h0m44 19h0m25-15h0m-12-5h0m-36 2h0m4-4h0m5-5h0m3-1h0m9-5h0m-60 5h0m2-2h0m56 16h0m3 0h0m15-5h0m6-5h0m-30-11h0m-52 48h0m56-17h0m-4 28h0m14-52h0m-61 4h0m22 7h0m9 15h0m2 2h0m1-30h0m7-5h0m-22 12h0m1 21h0m1 5h0m56-5h0m2-1h0m-40-6h0m-26-22h0m-1-2h0m50 3h0m25 26h0m-23-3h0m8 3h0m9 4h0m-32-25h0m-3-1h0m-2-1h0m-5-2h0m-7-2h0m-5-3h0m-8 21h0m12-3h0m19-14h0m-32 35h0m4-2h0m3-1h0m2-1h0m2-1h0m17-8h0m-35-2h0m-6 9h0m27-15h0m-7 4h0m-4 3h0m-6 5h0m28 16h0m6-24h0m2-4h0m0-6h0m0-5h0m0-2h0m24 31h0m-3 1h0m-17 16h0m-3-21h0m9 5h0m2 2h0m6 4h0m-63-10h0m-13-12h0m-5-2h0m72-11h0m-12 16h0m-6-5h0m-23-3h0m36-3h0m7-8h0m2-2h0m15 13h0m-32-12h0m-63 21h0m-6 11h0m45-12h0m-8 3h0m10-9h0m4-2h0m3-1h0m5-2h0m19-8h0m4-2h0m-48 23h0m-10-15h0m-1-2h0m33-5h0m5-6h0m-35 53h0m17-8h0m-3-1h0m32 6h0m-2-4h0m-62 15h0m68-7h0m1 2h0m-29 2h0m36-7h0m3-1h0m-44 7h0m-3 1h0m-12 5h0m57-17h0m-37 14h0m-5 0h0m-3 0h0m12-13h0m25 6h0m-49 9h0m-13-7h0m28 4h0m35 1h0m-8 11h0m9-10h0m-21 1h0m-14-3h0m-7-7h0m7 0h0m5-3h0m4-2h0m-20 3h0m27 4h0m22 6h0m2-1h0m8-6h0m3-1h0m-30 0h0m-4 3h0m24 3h0m2 0h0m-19 4h0m15-8h0m-36-7h0m2 25h0m-9-20h0m5 8h0m5-3h0m20 4h0m7 4h0m-20-18h0m24 7h0m-53 12h0m-12-3h0m28 14h0m72-12h0m12-1h0m23-13h0m2 0h0"/></defs>
<use href="#p38" stroke="#219821" stroke-width="4.9"/>
<use href="#p38" stroke="#30da30" stroke-width="4.2"/>
<defs><path id="p39" d="M650 173h0m22 16h0m-65-12h0m29 14h0m12 12h0m-4-15h0m-32-5h0m49 19h0m-4 25h0m-10-16h0m-8 21h0m12 7h0m1 3h0m0 5h0m10-27h0m0 5h0"/></defs>
<use href="#p39" stroke="#941694" stroke-width="4.9"/>
<use href="#p39" stroke="#d420d4" stroke-width="4.2"/>
<defs><path id="p40" d="M645 172h0m3 0h0m7 0h0m-22-17h0m-23-1h0m46 34h0m-38-9h0m3 0h0m13-1h0m12-3h0m14 18h0m3-43h0m-4 40h0m0-41h0m36 7h0m-82 28h0m11 3h0m39-7h0m13-13h0m22-15h0m-8 25h0m2-2h0m-27 8h0m-2 3h0m-4 6h0m-1-28h0m44 11h0m-57 14h0m26-19h0m-31-1h0m40 7h0m-42-2h0m-1 0h0m0 16h0m42-1h0m-45-51h0m-7 38h0m-4 3h0m73-29h0m-79 23h0m37-3h0m12 14h0m2 2h0m-27-5h0m6-27h0m7-3h0m-24 23h0m2 0h0m2-20h0m39 34h0m23-7h0m-54-1h0m-15-6h0m33 6h0m0 5h0m-1 5h0m-8-2h0m0-5h0m-7 11h0m-10 4h0m-31-5h0m51-17h0m21 15h0m1 13h0m-26-18h0m-29 14h0m52-19h0m-50 9h0m66 0h0m-39 13h0m-8-2h0m-27-13h0m23 3h0m41-3h0m-13 6h0m13-1h0m8-1h0m-42 6h0m-27 1h0m-6-13h0m3 13h0m26 0h0m-8-17h0m-23 7h0m80-5h0m-46-1h0m15-4h0m2-1h0m6-1h0m-25 12h0m-4-4h0m18-4h0m41 1h0m-65 14h0m-14-12h0m38 20h0m-4-21h0m-19-4h0m-5 1h0m43 7h0m3 10h0m-36-21h0m1 16h0m18 5h0m-2 1h0m-7 3h0m-11-4h0m14-12h0m20 9h0m4 3h0m2 2h0m-33-24h0m7 10h0m25-3h0m-42 15h0m-15 0h0m-10-3h0m33 20h0m-1-13h0m-9 26h0m-3-4h0m7 4h0m-5-8h0m-4-4h0m33 3h0m-18 22h0m-1-36h0m-2-2h0m16 4h0m-14 24h0m11 2h0m8-2h0m47-36h0m12 3h0m-55 42h0"/></defs>
<use href="#p40" stroke="#2a939f" stroke-width="4.9"/>
<use href="#p40" stroke="#3cd2e4" stroke-width="4.2"/>
<defs><path id="p41" d="M681 53h0m-2-2h0m2 16h0m11-3h0m5-1h0m-23 0h0m9-10h0m6-1h0m5 2h0m-31 13h0m4-17h0m-5 13h0m2-15h0m0 3h0m2-4h0m9-3h0m15 1h0m9 8h0m-27 24h0m-1 3h0m-1 2h0m-2 11h0m1 8h0m0 2h0m0 5h0m0 20h0m3-54h0m0 2h0m-1 2h0m-2 12h0m0 7h0m-1 3h0m2 6h0m0 2h0m0 14h0m-1 2h0m-1 4h0m30-50h0m0 16h0m-1 5h0m2 9h0m-1 5h0m0 9h0m0 10h0m-1 2h0m-1-56h0m-1 4h0m0 2h0m3 7h0m-1 6h0m0 23h0m-20 1h0m1-3h0m19 1h0m-28 0h0m2 0h0m2 0h0m5 1h0m-20-22h0m-3 12h0m0 4h0m-1 4h0m-3 12h0m9-38h0m-4 3h0m2 6h0m-3 3h0m-3 20h0m-7-15h0m-2 17h0m3-20h0m1 18h0m1 3h0m-3 6h0m-8-15h0m-6 9h0m1 2h0m1 7h0m1 3h0m-8-9h0m-3-1h0m1 1h0m-1 5h0m0 2h0m0 3h0m58-55h0m1 4h0m1 2h0m-1 10h0m-1 2h0m1 2h0m-1 5h0m0 5h0m-1 8h0m2-29h0m-1 4h0m1 7h0m1 7h0m-2 12h0m-38 16h0m19 29h0m-50-16h0m59-14h0m-50 20h0m77-13h0m-50 18h0m41-15h0m-25-1h0m6-15h0m0 21h0m38 0h0"/></defs>
<use href="#p41" stroke="#941a1a" stroke-width="4.9"/>
<use href="#p41" stroke="#d42626" stroke-width="4.2"/>
<defs><path id="p42" d="M700 63h0m-3 96h0m-23 0h0m-3-2h0m-33-3h0m1 18h0m55 1h0m-8 14h0m-47 4h0m13-25h0m11-5h0m15 22h0m-7 7h0m19-33h0m-1-2h0m-35 3h0m-18 37h0m-8-4h0m64 2h0m-72 4h0m68-11h0m-37 3h0m-12 4h0m11-6h0m11 3h0m12 6h0m5-12h0m-47 14h0m17 33h0m12-1h0m-1-18h0m-21 22h0"/></defs>
<use href="#p42" stroke="#a27ba2" stroke-width="4.9"/>
<use href="#p42" stroke="#e8b0e8" stroke-width="4.2"/>
<defs><path id="p43" d="M663 55h0m25 10h0m-7-1h0m2 1h0m4 3h0m-4-10h0m-6-9h0m5-6h0m-5 27h0m15-3h0m-5-17h0m-21-1h0m10-5h0m19 1h0m4 17h0m-28 24h0m-1-3h0m-3 19h0m29-13h0m1 27h0m1 3h0m-1 15h0m-9-15h0m-34-8h0m-2 8h0m-1 12h0m-4-16h0m-13 13h0m-1-16h0m-1 12h0m-8 11h0m58-41h0m-2 2h0m-10 71h0m7-2h0m8-3h0m2-1h0m-46-26h0m2 2h0m10 12h0m12 5h0m5 2h0m14 11h0m2 4h0m1 3h0m-56-20h0m-13-1h0m-15 2h0m-7 4h0m87 15h0m-51-2h0m-23 12h0m47 7h0m0-56h0m-20 7h0m-9 4h0m-5 15h0m-3 0h0m-15 1h0m-3 1h0m-4 3h0m-2 2h0m63 2h0m13-15h0m2-8h0m5-9h0m-30 22h0m-7-2h0m-16-3h0m-18-1h0m-10 2h0m68-10h0m4-13h0m36 40h0m-38-17h0m-7 11h0m-3 4h0m-14 17h0m20-22h0m2-2h0m8-6h0m9-5h0m7-2h0m-76-6h0m55 17h0m-11-8h0m7-11h0m2-2h0m14-6h0m9 12h0m-44 18h0m8-8h0m3-3h0m5-6h0m6 5h0m-3 0h0m-5-1h0m-27 8h0m10 1h0m13 1h0m9 19h0m1-2h0m6-12h0m2-20h0m-1-13h0m1 41h0m-17 16h0m28-30h0m2-1h0m6-6h0m4-6h0m4 11h0m-78 0h0m-1-2h0m74 14h0m9-5h0m-22 19h0m3-27h0m-15 17h0m33-13h0m4-4h0m-65-4h0m-2 2h0m-5 9h0m-4 6h0m-2 2h0m25-11h0m-10-4h0m-11-7h0m-12-9h0m-5-3h0m-2 0h0m79 26h0m1 2h0m2 2h0m2-25h0m-52 35h0m0 5h0m8-21h0m-6 5h0m-2 1h0m-5 2h0m18-3h0m17 3h0m3 0h0m-38-7h0m-2 8h0m34-30h0m8 3h0m11 5h0m-42 12h0m17-11h0m3-1h0m-28-6h0m2-5h0m0-2h0m0-3h0m41 21h0m2 5h0m1 2h0m1 2h0m3 5h0m-69-28h0m-3-4h0m-15 34h0m45-11h0m3 1h0m-17 9h0m-8 0h0m8-12h0m2 2h0m2 4h0m2 5h0m-2 15h0m-41-23h0m-5-3h0m78-4h0m1 7h0m2 5h0m1 5h0m21-21h0m-5 5h0m-2 10h0m0 8h0m-58-9h0m-11 17h0m80-22h0m-9 3h0m-3 2h0m-2 1h0m-7 2h0m-8 2h0m34-18h0m-22 0h0m15 3h0m7-4h0m-18 6h0m3-10h0m2-5h0m-32 1h0m17-7h0m-60 1h0m70 14h0m7-4h0m-37-7h0m4-3h0m2-1h0m-44 28h0m-1 3h0m-1 5h0m54-10h0m-5 15h0m0 8h0m0 5h0m11-37h0m1-2h0m1-3h0m-59-11h0m24 19h0m4 9h0m4-24h0m5-5h0m7-3h0m-26 21h0m1 10h0m47 12h0m6-5h0m2-2h0m-35-12h0m-2 5h0m-2 5h0m-1 5h0m24-26h0m1-3h0m22 22h0m7 0h0m-10 3h0m-25-23h0m-25 9h0m12-4h0m13 0h0m2 1h0m11 0h0m2 0h0m-19-4h0m-16 19h0m4-3h0m-31 3h0m-11 8h0m-4 2h0m58-38h0m-4 3h0m-6 6h0m-13 9h0m-10 7h0m-5 3h0m30 10h0m0-5h0m3-7h0m-27 14h0m-14-14h0m63-13h0m-5-6h0m-3-4h0m-18 37h0m9-17h0m-10-9h0m-2-1h0m-6-5h0m-4-4h0m-2-1h0m-2-1h0m-8 1h0m-1-5h0m42 10h0m2-2h0m-13-10h0m-66 33h0m79-7h0m-2-2h0m-5-1h0m-5-1h0m-27 0h0m7-4h0m7-3h0m12-5h0m5-2h0m2-1h0m-38 25h0m-9-13h0m-1-2h0m-5-9h0m64 38h0m1 3h0m-32-1h0m-31 2h0m26-4h0m0 3h0m-37 12h0m-3-1h0m49 1h0m17-11h0m1 10h0m3-13h0m-33 0h0m21 0h0m-44 4h0m4 9h0m46 6h0m2-6h0m-30 0h0m0 3h0m-20-4h0m2 2h0m35-1h0m-36-4h0m-5 0h0m29-9h0m15-2h0m-24 9h0m-16-9h0m33 6h0m2 5h0m25 0h0m2-1h0m-25-2h0m-5 2h0m-2 1h0m-47-6h0m46 16h0m35-9h0m3 0h0m2 0h0m-33 0h0m-3-2h0m-4-3h0m27 8h0m-3-1h0m-28 9h0m-18-3h0m0-16h0m36 7h0m-11 0h0m25 13h0m-17-11h0m2 1h0m-8-13h0m-2 0h0m-4 4h0m22-3h0m-50 18h0m-13-4h0m33 45h0m65-43h0m8 1h0m5-2h0m7-2h0m7-4h0m8-4h0"/></defs>
<use href="#p43" stroke="#219821" stroke-width="4.9"/>
<use href="#p43" stroke="#30da30" stroke-width="4.2"/>
<defs><path id="p44" d="M681 49h0m14-1h0m-9-5h0m-73 105h0m55 26h0m5-25h0m-27 38h0m23-18h0m21-21h0m-87 21h0m-3-7h0m70 14h0m-51 7h0m-3-5h0m76 0h0m-33-21h0m-13 1h0m-37 37h0m45-15h0m-7 7h0m29 11h0m-52-2h0m35 7h0m-10-11h0m14-13h0m18 10h0m-60 6h0m78 1h0m-50-6h0m3 7h0m44-6h0m-76-12h0m62 16h0m4 3h0m-33-18h0m6 8h0m22 3h0m-35 35h0m-1-2h0m14-9h0m-22-15h0"/></defs>
<use href="#p44" stroke="#a27ba2" stroke-width="4.9"/>
<use href="#p44" stroke="#e8b0e8" stroke-width="4.2"/>
<defs><path id="p45" d="M663 57h0m17-13h0m6 20h0m-28-4h0m27-9h0m5-1h0m3-4h0m2 2h0m1 0h0m1 1h0m-27 41h0m-1 6h0m0 22h0m1 1h0m-1 7h0m-1 5h0m2-44h0m-1 11h0m-1 18h0m30-33h0m0 9h0m-1 4h0m1 5h0m0 2h0m1 12h0m0 9h0m0 4h0m-3-41h0m1 8h0m0 26h0m2 5h0m-2 4h0m-17-11h0m5 1h0m2-1h0m-11 1h0m4 1h0m-1-2h0m3 0h0m9 0h0m5 0h0m-36-31h0m-2 12h0m-2 3h0m-2 8h0m1 5h0m-2 3h0m-1 8h0m6-28h0m-5 14h0m-6-7h0m-1 7h0m-1 9h0m0 2h0m1 6h0m-2 1h0m4-27h0m-1 2h0m2 19h0m-3 10h0m-11-19h0m0 14h0m-10 3h0m-1 5h0m58-38h0m0 8h0m-1-17h0m2 25h0m-1 3h0m0 2h0m0 3h0m6 34h0m10 10h0m-64-24h0m58-1h0m-81 6h0m65 8h0m18 8h0m-73 5h0m37-23h0m45 5h0"/></defs>
<use href="#p45" stroke="#941a1a" stroke-width="4.9"/>
<use href="#p45" stroke="#d42626" stroke-width="4.2"/>
<defs><path id="p46" d="M648 172h0m-32 4h0m81 20h0m-48 14h0m16 31h0"/></defs>
<use href="#p46" stroke="#a59713" stroke-width="4.9"/>
<use href="#p46" stroke="#ecd81c" stroke-width="4.2"/>
<defs><path id="p47" d="M653 173h0m52-17h0m-61-17h0m-3 37h0m45 6h0m-9 5h0m-7 3h0m-5 1h0m6-38h0m-23 36h0m6 1h0m10-1h0m16-35h0m-8-1h0m-10 0h0m21 35h0m-16-9h0m-7 11h0m-32-15h0m-5 7h0m-2 4h0m79-13h0m-44-16h0m40 18h0m-13 10h0m-32-13h0m-9 10h0m34-8h0m1 5h0m13-4h0m4-21h0m-27 25h0m-9-5h0m6 8h0m-25-34h0m2 25h0m0 5h0m-1 8h0m0 3h0m18-40h0m11-8h0m-34 32h0m21-9h0m32 10h0m-4 4h0m-4 3h0m5-7h0m2 2h0m7 4h0m-54-2h0m-9-5h0m-12 11h0m24-31h0m6 32h0m-6-7h0m-7-3h0m7 13h0m-10 12h0m39-13h0m-3-7h0m-2-5h0m-9 21h0m-3-18h0m20 18h0m1 5h0m-21-24h0m-24 24h0m-8 0h0m-20-7h0m52 6h0m15-19h0m-52 7h0m-2-1h0m42-8h0m10 2h0m2 1h0m21 8h0m8-1h0m-46 14h0m-13-2h0m-29-16h0m72 0h0m-9 9h0m-1 3h0m-9-4h0m33 2h0m-51 8h0m-34-5h0m41-3h0m-8 1h0m-6-9h0m-2-1h0m-25 3h0m57-13h0m-21 21h0m-15-14h0m-4-3h0m21 9h0m51 2h0m-63-14h0m-3-1h0m43 16h0m-8 12h0m-48-11h0m-2 5h0m20-21h0m-11 23h0m23-1h0m-11 6h0m23-14h0m7 4h0m-25-19h0m7 5h0m5-7h0m12 3h0m-41 21h0m-8-1h0m-5-1h0m25 2h0m-6 27h0m21 6h0m-2-14h0m2 8h0m2 7h0m-15-27h0m-7 34h0m20-15h0m-30-1h0m108-32h0m22-8h0m-104 42h0m12 11h0m-28-22h0m-3 3h0m-3 7h0"/></defs>
<use href="#p47" stroke="#2a939f" stroke-width="4.9"/>
<use href="#p47" stroke="#3cd2e4" stroke-width="4.2"/>
<defs><path id="p48" d="M667 191h0m-5-16h0m-49 20h0m44-6h0m-29 13h0m11-4h0m15-20h0m-25 19h0m35 21h0m-1 4h0m-9-8h0m-2 9h0m0 9h0m0 12h0m10-21h0m-30-4h0"/></defs>
<use href="#p48" stroke="#941694" stroke-width="4.9"/>
<use href="#p48" stroke="#d420d4" stroke-width="4.2"/>
</g>
<g transform="scale(.5)" fill="none" stroke-linecap="round">
<path d="M887 246l0 1-2 0-2 3-1 1-2 1-3 1-1 2-1 1-1 2-2 2 1 1-3 2 0 2-2 0-2 3 0 1-1 3-2 1-2 2-1 3-1 2-1 2" stroke="#555" stroke-width="0.8" stroke-linejoin="round"/>
<defs><path id="p49" d="M925 185h0m-61 5h0m26 11h0"/></defs>
<use href="#p49" stroke="#a59713" stroke-width="4.9"/>
<use href="#p49" stroke="#ecd81c" stroke-width="4.2"/>
<defs><path id="p50" d="M902 128h0m10-4h0m31 62h0m-6-32h0m-44 19h0m-54 1h0m62-12h0m-56-4h0m59 39h0m-10-42h0m-48 33h0m73 1h0m-5 2h0m-7 3h0m-62-6h0m71-47h0m-11 15h0m-5-3h0m16 3h0m-51 30h0m55 1h0m-1-45h0m8 54h0m-3-8h0m-17-24h0m2 26h0m-40 6h0m19 6h0m-6-41h0m11 24h0m41-21h0m-10 21h0m-47-19h0m27-9h0m1-2h0m-44 21h0m60-10h0m-12-3h0m-17 22h0m-7-20h0m0 1h0m-21 21h0m-23-11h0m-2 1h0m-1 2h0m-7 4h0m-1 2h0m0 3h0m1 8h0m8 7h0m8-2h0m42 27h0m0 7h0"/></defs>
<use href="#p50" stroke="#2a939f" stroke-width="4.9"/>
<use href="#p50" stroke="#3cd2e4" stroke-width="4.2"/>
<defs><path id="p51" d="M921 141h0m6-3h0m-4 3h0m-56 35h0m-2 2h0m31 5h0m-10-20h0m-9 34h0m55-28h0m-36 9h0m-19 14h0m58-17h0m-75-20h0m11 36h0m41-18h0m-26-4h0m19 14h0m-9-21h0m40 11h0m5 1h0m-47-5h0m15 30h0m20-33h0m-40 37h0m12-29h0m6 4h0m-5 8h0"/></defs>
<use href="#p51" stroke="#a27ba2" stroke-width="4.9"/>
<use href="#p51" stroke="#e8b0e8" stroke-width="4.2"/>
<defs><path id="p52" d="M880 64h0m7-3h0m4 0h0m10-1h0m-3 4h0m-3 4h0m-9 4h0m33 0h0m-30-1h0m4-4h0m28-4h0m0 2h0m1 5h0m-14 33h0m-1-10h0m3 48h0m-12-25h0m8 11h0m7-20h0m-32 20h0m6-14h0m43 18h0m-2 2h0m-5-6h0m-1-10h0m4 23h0m-27-19h0m-14-2h0m-4-3h0m19 9h0m7 11h0m5-19h0m-6 22h0m-13-37h0m28 30h0m-10 11h0m-18-12h0m-2 4h0m-2 8h0m27-9h0m-6-3h0m-3-1h0m-8-13h0m-6 3h0m18 12h0m-18-6h0m16-15h0m-7-3h0m-3-1h0m-7-2h0m-12 13h0m-31-5h0m2 17h0m-11 27h0m1-3h0m2-4h0m6-10h0m1-3h0m-3 51h0m67-42h0m-37 23h0m37-5h0m4 3h0m5 1h0m5 0h0m5-1h0m3-1h0m7-1h0m-101 2h0m-3 1h0m43-6h0m-13 19h0m-3 5h0m61-30h0m3 0h0m10-2h0m-27 41h0m-2 1h0m-5 6h0m-9-13h0m8-13h0m1-2h0m1-3h0m1-7h0m-1-3h0m-1-2h0m-3-4h0m30 22h0m1-10h0m-7-11h0m-38 10h0m8 22h0m2 7h0m3-46h0m-8-9h0m10 15h0m-22 18h0m-3 1h0m-18 1h0m-2 0h0m-3 0h0m-2 0h0m-6 0h0m-2 0h0m-3 0h0m1 0h0m46-32h0m-6 21h0m4-3h0m2-1h0m2-2h0m2-5h0m9-10h0m-20 45h0m-2 3h0m40-1h0m-1-5h0m1-5h0m1-3h0m1-2h0m-3-19h0m23 20h0m-49-11h0m-12 7h0m-19-20h0m62-3h0m-77 25h0m-5 3h0m53-17h0m-20 7h0m-17 4h0m-15 4h0m10-8h0m5 1h0m-17 4h0m42 6h0m1-3h0m4-6h0m4-7h0m6 13h0m-42-3h0m22 22h0m26 1h0m-1-43h0m-7 2h0m-23 6h0m30 23h0m-3-2h0m-19-13h0m-7-3h0m-3 0h0m-13 23h0m22-21h0m4-3h0m10-9h0m6-8h0m8 19h0m-12 3h0m42 3h0m-35 22h0m28-28h0m3 1h0m2 1h0m-17 23h0m-2 7h0m-1 2h0m8-40h0m10 8h0m10 12h0m-68 7h0m-6-8h0m-1-5h0m-6-12h0m12 17h0m0 6h0m0 2h0m-12-12h0m2-1h0m2-2h0m4 24h0m67-43h0m-6-8h0m-62 32h0m-13 0h0m-5 2h0m-4 3h0m36-37h0m-2-5h0m-1-3h0m41 54h0m-2-5h0m-6-17h0m0-13h0m-1-2h0m-10-3h0m3 8h0m1 2h0m8 7h0m14 17h0m-29-34h0m4 22h0m3 4h0m3-23h0m2 1h0m20 3h0m-26 0h0m-10 4h0m-25 4h0m-10 4h0m-3 0h0m19 30h0m50-9h0m-18 4h0m-2 1h0m7-27h0m-5 6h0m-8 10h0m-5 6h0m-13-15h0m-1-5h0m-1-8h0m-3-7h0m-3-10h0m-18 29h0m-12 10h0m83 11h0m-44-29h0m6 8h0m2 1h0m2 2h0m11 20h0m-26-49h0m2-2h0m6-4h0m7-5h0m-15 11h0m-6-11h0m-15 33h0m51 24h0m18-15h0m1-2h0m5-10h0m-28 31h0m-27-40h0m-1-5h0m-1-7h0m19 10h0m1 12h0m10 16h0m5 12h0m24-33h0m5-2h0m-55 15h0m-29 1h0m-7-3h0m-10-4h0m108 9h0m3 1h0m-85 14h0m49-7h0m-30 0h0m0 1h0m12-4h0m6-20h0m3-7h0m1-2h0m28 21h0m-1 2h0m-88-20h0m77 34h0m-7-27h0m5 4h0m-2-1h0m-5-2h0m-15-4h0m-9-4h0m17 21h0m0 3h0m-54-13h0m1 2h0m21 29h0m30-9h0m7-7h0m6-5h0m2-1h0m-56-1h0m-3-4h0m-1-2h0m20 15h0m-19-16h0m0 3h0m-4 12h0m63-38h0m-2 0h0m-6 1h0m-4 2h0m-13 9h0m21 12h0m-59-13h0m-5-2h0m66 13h0m10 2h0m7-2h0m-50-8h0m-13-1h0m-5-1h0m-5-2h0m-5-1h0m-2 0h0m-6 0h0m-7 0h0m66 14h0m-4 4h0m-24 20h0m24-29h0m21-14h0m7 16h0m4-6h0m1-2h0m-16 18h0m18-4h0m-22 0h0m4 7h0m2 2h0m7 10h0m2 2h0m-62-31h0m-10-3h0m-2-1h0m-4-3h0m-2-5h0m54 14h0m18-3h0m-16 17h0m7 19h0m-34-17h0m20-17h0m4-2h0m-18 3h0m-12 3h0m-3 1h0m-2 2h0m-19 4h0m-3-1h0m35-1h0m-39-19h0m77 14h0m8-7h0m-50 16h0m-18-14h0m48 10h0m1 10h0m-1 5h0m2-21h0m5-1h0m-10-2h0m-4 11h0m2-5h0m2-4h0m1-8h0m25 20h0m-42 21h0m5-37h0m12-21h0m-39 49h0m7-6h0m-3 4h0m-2 2h0m-2 4h0m45-12h0m7 4h0m5 2h0m2 1h0m9 6h0m-52-26h0m8-6h0m2-2h0m2-5h0m-4 11h0m4 6h0m-6-10h0m8-2h0m17-10h0m-32 13h0m7 7h0m2 12h0m-6-7h0m-6-5h0m-9-15h0m-18 22h0m45 5h0m-11-1h0m-12 2h0m-10 3h0m-18-8h0m-11 0h0m1 23h0m12-3h0"/></defs>
<use href="#p52" stroke="#219821" stroke-width="4.9"/>
<use href="#p52" stroke="#30da30" stroke-width="4.2"/>
<defs><path id="p53" d="M898 62h0m2 0h0m19 3h0m2 4h0m-8-1h0m-6 8h0m0 12h0m2-4h0m1 13h0m1 8h0m-4-27h0m0 24h0m-18 22h0m12-1h0m-3-5h0m0-5h0m9 16h0m2-11h0m-20-8h0m-10 10h0m-1-3h0m2-2h0m5-2h0m17 17h0m-3-27h0m9 12h0m-11-6h0m-2 1h0m9 19h0m14-2h0m0-8h0m14 7h0m-1 3h0m-12-16h0m-20 11h0m1-5h0m-10-2h0m2 4h0m9 2h0m-7-19h0m19 19h0m8 14h0m-8 6h0m23-25h0m-44 15h0m-2 7h0m10-14h0m4 4h0m14 6h0m0 8h0m-16-36h0m-11-4h0m26 29h0m10 4h0m-48 0h0m0-8h0m15-13h0m18 6h0m-1 7h0m-31-3h0m2-5h0m11 12h0m1 5h0m2 5h0m18-23h0m-2-4h0m-8-7h0m-10 17h0m1-12h0m40-16h0m-6 7h0m-3 5h0m-2 3h0m7 6h0m-13 5h0m-4 2h0m-66-16h0m1 8h0m1 3h0m5 24h0m13-15h0m-19 51h0m72-38h0m-53 14h0m55-11h0m-20 6h0m-7-4h0m-34 0h0m62-7h0m-46 4h0m42 26h0m-40-13h0m-2-5h0m2-5h0m41 27h0m-29-10h0m7-13h0m3-4h0"/></defs>
<use href="#p53" stroke="#941a1a" stroke-width="4.9"/>
<use href="#p53" stroke="#d42626" stroke-width="4.2"/>
<defs><path id="p54" d="M865 193h0m69-6h0m-27 14h0m15-11h0m-29 12h0m-39-19h0m36 28h0"/></defs>
<use href="#p54" stroke="#941694" stroke-width="4.9"/>
<use href="#p54" stroke="#d420d4" stroke-width="4.2"/>
<defs><path id="p55" d="M923 192h0m-31-3h0m-19 11h0m15 31h0m0 7h0m1 5h0"/></defs>
<use href="#p55" stroke="#941694" stroke-width="4.9"/>
<use href="#p55" stroke="#d420d4" stroke-width="4.2"/>
<defs><path id="p56" d="M912 65h0m14 4h0m-1-4h0m-10 5h0m2 1h0m-11 2h0m1 25h0m1 0h0m-17 25h0m16 13h0m-3-5h0m-4-30h0m26 40h0m-39-30h0m-5-2h0m44 31h0m-9-29h0m-2-2h0m-12-2h0m-10 15h0m-15 4h0m2-7h0m32 0h0m-12-16h0m-1 2h0m23 29h0m-10 11h0m-3-4h0m-19-3h0m8-33h0m-18 22h0m-4 3h0m45-17h0m-30 18h0m3 9h0m-9-22h0m42 2h0m-73 23h0m15-10h0m0 5h0m-20 35h0m60-25h0m-48 39h0m-1 3h0m-1 2h0m-14-9h0m30-14h0m-12 10h0m53-13h0m25-1h0m-53-20h0m-10 9h0m-5 2h0m-17 5h0m-5 2h0m-2 1h0m-5 2h0m42-7h0m-2 2h0m-5 5h0m-4 4h0m-1 2h0m-9 19h0m71-13h0m4 4h0m-10 5h0m-5 12h0m20-46h0m-25 38h0m-5 3h0m-6 4h0m-9-47h0m34 23h0m-1-10h0m-2-4h0m-39 11h0m2 7h0m1 2h0m6-33h0m-2-2h0m-8-7h0m0 30h0m-19 6h0m-5 0h0m-13 2h0m-18-2h0m71-19h0m-9-6h0m-23 20h0m4-3h0m3-1h0m39 17h0m4-8h0m4-4h0m-15-19h0m22 22h0m5 2h0m-45-11h0m-35-19h0m59 15h0m5-14h0m-67 25h0m-3 1h0m-2 1h0m-3 1h0m-11 6h0m47-16h0m-17 4h0m-13 3h0m-10 3h0m10-5h0m-9-10h0m-4-3h0m51 21h0m-15-4h0m-3-1h0m-7-2h0m-8-1h0m28 10h0m2-1h0m3 0h0m-40-7h0m17 12h0m2 2h0m27 15h0m-20-54h0m-3-8h0m25 15h0m-13 3h0m-3 0h0m-17 3h0m26 18h0m-10-8h0m-19 19h0m-10 0h0m-8 0h0m-5 1h0m56-40h0m-5 21h0m-4 2h0m51-2h0m-14 13h0m-6 4h0m20-16h0m2 2h0m2 2h0m4 6h0m1 3h0m-28-28h0m7 8h0m2 1h0m-53 24h0m-8-13h0m-3-7h0m-4-9h0m13 32h0m1 5h0m-16-17h0m15-24h0m3-18h0m-7 56h0m0 5h0m59-56h0m-57 34h0m-5 0h0m-21 7h0m76 9h0m-6-16h0m-2-5h0m-1-26h0m-13 0h0m1 3h0m9 15h0m14 12h0m3 7h0m-30-25h0m1 5h0m6 12h0m25-16h0m5-2h0m2-1h0m7-3h0m-56 10h0m-15 2h0m-10 4h0m-7 2h0m-6 22h0m26 5h0m53-9h0m-10 4h0m-5 1h0m-9 4h0m3-21h0m-46-8h0m-15 15h0m40-13h0m2 2h0m3-33h0m-6 17h0m-4-4h0m-1-2h0m-4-6h0m-13 43h0m-1-2h0m-3-8h0m-3-10h0m0-5h0m-1-10h0m63 39h0m11-17h0m4-9h0m1-2h0m-55 3h0m-4-18h0m18 3h0m6 24h0m5 7h0m6 19h0m19-36h0m12-6h0m-55 16h0m-13 2h0m-13 0h0m-2 0h0m-15-5h0m98 7h0m-42-23h0m-33-14h0m-3 0h0m3 51h0m-6 5h0m61-11h0m-2 0h0m-18 1h0m-8 1h0m-15-4h0m2-2h0m7 11h0m3 5h0m4-13h0m5-11h0m2-5h0m10-23h0m22 26h0m-4 13h0m-1 2h0m-1 2h0m-80-31h0m-8-2h0m83 32h0m-2-10h0m-3-10h0m-7-8h0m-1-2h0m-17 1h0m-7-3h0m-5-2h0m-4-2h0m-2-2h0m-5-6h0m37 42h0m-56-20h0m4 9h0m6 9h0m3 6h0m35 7h0m-34-19h0m-9-12h0m-11-12h0m38 34h0m1 3h0m2 7h0m-27-24h0m0 3h0m-1 2h0m40-24h0m24 19h0m-17-3h0m-3 0h0m-2 0h0m-8 0h0m-27-10h0m-4-2h0m-3-1h0m69 12h0m-8-1h0m3 1h0m14-3h0m-57-8h0m-28-4h0m46 23h0m-6-10h0m5-3h0m2-1h0m17-5h0m4-3h0m1-3h0m6-5h0m4 26h0m13-2h0m-28-2h0m3 7h0m-37-7h0m-1-2h0m-8-5h0m-6-1h0m-11-6h0m57 7h0m2 1h0m3 0h0m3 0h0m-20-1h0m18-2h0m-36 23h0m15-19h0m5-3h0m10-2h0m3 0h0m5-1h0m-21 6h0m-34 7h0m-8 3h0m-12-2h0m43 4h0m-2-1h0m-20-12h0m-15-4h0m24 16h0m-3 2h0m-3 0h0m-2 1h0m-5 1h0m55-16h0m8 0h0m-26 15h0m3-8h0m2-4h0m1-8h0m2-10h0m6 27h0m3 1h0m2 0h0m3 1h0m-30 10h0m-1 3h0m7-39h0m14-18h0m-42 54h0m-5 2h0m26-20h0m-7 4h0m-2 1h0m-2 2h0m25-2h0m-19-9h0m8 4h0m5 7h0m-16-13h0m10-2h0m11-7h0m4-3h0m-27 9h0m10 11h0m1 3h0m-18-16h0m-4-7h0m-2-2h0m-8 32h0m-9-6h0m41 5h0m-7 0h0m-18 4h0"/></defs>
<use href="#p56" stroke="#219821" stroke-width="4.9"/>
<use href="#p56" stroke="#30da30" stroke-width="4.2"/>
<defs><path id="p57" d="M907 140h0m-48 43h0m-5-21h0m20 40h0m17-35h0m-42 6h0m2-10h0m35 10h0m-12 15h0m5-45h0m-1-2h0m9 29h0m36-12h0m18 15h0m-64-20h0m37 13h0m-54 23h0m45 1h0m1 5h0m4-7h0m24-6h0m-75-21h0m50 4h0m-18 22h0m-43-28h0m41 20h0m3 1h0m-19 6h0"/></defs>
<use href="#p57" stroke="#a27ba2" stroke-width="4.9"/>
<use href="#p57" stroke="#e8b0e8" stroke-width="4.2"/>
<defs><path id="p58" d="M857 185h0m46 1h0m10 6h0m1 2h0m-5-7h0m0 10h0m-19 10h0m1 2h0"/></defs>
<use href="#p58" stroke="#a59713" stroke-width="4.9"/>
<use href="#p58" stroke="#ecd81c" stroke-width="4.2"/>
<defs><path id="p59" d="M901 129h0m26 6h0m-39-20h0m18 21h0m-11-21h0m-46 60h0m34-6h0m-15 5h0m58-6h0m-61 31h0m66-14h0m-2 5h0m-44-28h0m-11 12h0m6 19h0m-16-33h0m20 5h0m-47 13h0m1 1h0m58-3h0m19 11h0m-3 4h0m-10 7h0m-4 4h0m-18-54h0m-4 11h0m-30 27h0m70 10h0m-5 6h0m-8-26h0m6 13h0m-39-10h0m7-33h0m41 41h0m-13 2h0m-8 1h0m-7-1h0m-8-2h0m1 0h0m-32-26h0m73 24h0m-35 4h0m-4 3h0m46-21h0m-56-6h0m41 39h0m-31-28h0m39 5h0m-57 17h0m44-17h0m5 3h0m-49-34h0m3 37h0m-18-4h0m-18-2h0m-6 10h0m5 10h0m8 2h0"/></defs>
<use href="#p59" stroke="#2a939f" stroke-width="4.9"/>
<use href="#p59" stroke="#3cd2e4" stroke-width="4.2"/>
<defs><path id="p60" d="M884 62h0m12-2h0m10 4h0m-17 8h0m-5-2h0m18-2h0m-8-3h0m1-3h0m11 19h0m0 12h0m0-19h0m1 5h0m2 13h0m4 11h0m-8-29h0m1 26h0m-20 23h0m-2-1h0m-9-5h0m28 13h0m4-11h0m6-10h0m-29 1h0m-8 2h0m17-7h0m2 9h0m4 4h0m1 2h0m1 7h0m8 3h0m3-15h0m1-7h0m-14 8h0m-15 5h0m14 6h0m-6 4h0m-3 0h0m21 0h0m-11-23h0m-1 5h0m0 5h0m0 3h0m3 6h0m3 5h0m2 9h0m-9-16h0m-2-8h0m25 13h0m18-10h0m-38 20h0m7-10h0m10-17h0m-3-1h0m-1 19h0m7-8h0m-36 11h0m-3 2h0m28-21h0m-3 1h0m-5 1h0m6-1h0m2 2h0m2 2h0m-30 3h0m3-7h0m7 12h0m-6-21h0m7 14h0m1-2h0m1-8h0m-3-6h0m47-13h0m0 2h0m-5 6h0m0 2h0m-5 6h0m0 2h0m8 9h0m-10 3h0m-9 4h0m-68-11h0m1 11h0m2 6h0m2 8h0m2 8h0m13-13h0m-1 12h0m-25 6h0m68-6h0m5-2h0m-18 4h0m26 0h0m-28 2h0m5-6h0m17 9h0m21 20h0m-15-30h0m-21-2h0m-31 20h0m3-4h0m4-18h0m36 27h0m-13-18h0m-12-8h0m-14-2h0m24 35h0m15-28h0m-5 4h0m8 27h0m-8 5h0m-64-25h0m45 22h0m-5 0h0m9-21h0m0 11h0m23-17h0"/></defs>
<use href="#p60" stroke="#941a1a" stroke-width="4.9"/>
<use href="#p60" stroke="#d42626" stroke-width="4.2"/>
<defs><path id="p61" d="M919 66h0m2 1h0m5-4h0m-33 7h0m-11-1h0m-5-1h0m23 0h0m7 3h0m-16-2h0m30-1h0m-15 15h0m2 12h0m-1 10h0m5 9h0m2-12h0m-35 10h0m0 10h0m11-9h0m2 1h0m14-4h0m17 31h0m6 0h0m-33-13h0m10 1h0m8 1h0m0-14h0m9 6h0m-20-15h0m4-3h0m-26 8h0m1 11h0m1-14h0m11 20h0m13 10h0m2-5h0m4-10h0m0-2h0m-10 7h0m11-4h0m2 2h0m3 11h0m-9 9h0m-5-8h0m9-6h0m-13-27h0m14 26h0m5 2h0m2 1h0m-12-12h0m-25 9h0m-2-6h0m28-11h0m-15 2h0m15 20h0m-26-31h0m12 0h0m-15 11h0m12 14h0m-1-22h0m36 11h0m-77 14h0m4 15h0m12-24h0m-21 21h0m4-11h0m1-2h0m-3 45h0m0 5h0m-1 3h0m57-35h0m-48 43h0m-12-14h0m25-8h0m6-17h0m-5 1h0m-5 2h0m-5 1h0m11 15h0m-1 3h0m-5 11h0m75-4h0m-6-29h0m-40 36h0m5-5h0m2-3h0m1-2h0m1-2h0m3-10h0m1-3h0m24 16h0m3-10h0m-6-14h0m-4-7h0m-2-7h0m-36 20h0m3 4h0m8 25h0m3 7h0m-3-57h0m-2-2h0m-7-4h0m16 16h0m-4 7h0m-12 9h0m-5 3h0m-15 2h0m-18 1h0m-10 0h0m11 1h0m52-22h0m-2-1h0m-2-2h0m-12-9h0m-4-4h0m9 17h0m4-6h0m2-2h0m5-9h0m-25 57h0m-3 4h0m55-31h0m2-2h0m-7-2h0m2 2h0m6 5h0m-23-16h0m-1 2h0m-7 4h0m-14 7h0m-2 1h0m-23-6h0m-1-5h0m0-8h0m-3-7h0m65 8h0m-63 18h0m-2 1h0m41-11h0m-3 1h0m-9 3h0m-8 3h0m-7 1h0m-10 3h0m-3 1h0m-22 6h0m21-33h0m6 32h0m-4-4h0m-4-2h0m31 6h0m-5-2h0m-3-1h0m-7-1h0m-35 5h0m49-6h0m-1 9h0m16-7h0m2-2h0m33 18h0m-88-21h0m9 6h0m6 5h0m11 11h0m5 6h0m39-15h0m-6 8h0m-4 3h0m-3 1h0m-11 11h0m-14-53h0m27 1h0m-25 5h0m-13 3h0m22 15h0m-4-3h0m-20 16h0m-18 0h0m26-18h0m2-1h0m14-12h0m3-4h0m2-2h0m6 16h0m29 10h0m-4 4h0m-6 5h0m-6 4h0m-8 3h0m-7 2h0m37-26h0m7 8h0m-25 11h0m-2 5h0m1-39h0m17 16h0m2 1h0m-59 21h0m-5-7h0m-10-20h0m-4-7h0m8 11h0m2-4h0m6-14h0m-11 26h0m-15 3h0m71 9h0m-2-5h0m-6-35h0m10 25h0m6 14h0m-31-32h0m1 5h0m2 7h0m1 3h0m6 8h0m9-22h0m3 1h0m5 0h0m2 0h0m15-4h0m-31 2h0m-13 5h0m-15 3h0m-8 1h0m-9 3h0m-11 23h0m23 11h0m23-1h0m-2 2h0m6-21h0m-2 2h0m-6 5h0m-14-11h0m-2-10h0m-7-25h0m-15 30h0m69 20h0m-30-11h0m-13-38h0m-1 11h0m-8-13h0m-11 48h0m-4-7h0m-3-10h0m-1-13h0m-1-2h0m0-3h0m0-5h0m57 48h0m2-8h0m-11-9h0m1 15h0m0 5h0m-22-16h0m0-3h0m0-2h0m-4-18h0m-3-10h0m0-11h0m31 46h0m4 12h0m11-34h0m6 1h0m-46 11h0m-5 1h0m-5 0h0m-5 1h0m-3-1h0m-10-1h0m-3-1h0m83 3h0m3 0h0m8 1h0m-47-25h0m-3-1h0m-7-2h0m24 35h0m-5 1h0m-8 1h0m1-11h0m1-5h0m1-5h0m2-7h0m3-8h0m-41 7h0m-10 1h0m-3 0h0m-10-2h0m79 23h0m-6-14h0m6 4h0m-11-6h0m-40-18h0m36 37h0m-1 18h0m-59-42h0m2 4h0m11 18h0m2 5h0m8 10h0m36-8h0m1-2h0m14-11h0m-59-1h0m-12-14h0m31 27h0m4 6h0m-31-4h0m-1 3h0m50-40h0m32-2h0m5 0h0m-29 17h0m2 1h0m-18 3h0m-8-2h0m-3 0h0m-14-6h0m-2-1h0m-5-2h0m69 11h0m-20-5h0m2 2h0m15 2h0m3-1h0m7-3h0m2-1h0m-65-7h0m-7 0h0m36 13h0m-6 5h0m-3 4h0m-3 2h0m1-16h0m23-8h0m12 16h0m-4 1h0m2-1h0m6-1h0m-16 1h0m9 13h0m-62-26h0m-2-1h0m40 4h0m6-1h0m-2 13h0m5 9h0m2 10h0m-22-27h0m6-4h0m2-2h0m2-2h0m4-9h0m4 9h0m8 0h0m7-3h0m-35 7h0m-11 1h0m-2 0h0m-24 9h0m38 5h0m-10-8h0m-2-2h0m-3-1h0m-5-2h0m-7-3h0m-2 0h0m-5-1h0m-14-11h0m76 18h0m6-5h0m-23 13h0m-5 0h0m-13 0h0m-3 0h0m-7-3h0m-3-1h0m-7-7h0m-1-2h0m-4-3h0m-3-1h0m-5-2h0m59 16h0m0 5h0m3-13h0m-2-5h0m3-1h0m-8 2h0m6 14h0m-20 4h0m-2 16h0m6-42h0m8-10h0m-11 24h0m-7 4h0m17 1h0m26 16h0m2 2h0m-49-22h0m8-6h0m5-6h0m2-4h0m-7 11h0m13 22h0m3-32h0m4-3h0m2-1h0m-19 30h0m-1 5h0m-4-8h0m-9-9h0m-2-5h0m-12-17h0m-1 33h0m-4-3h0m35 6h0m-13 0h0m-5 1h0m-5 1h0m-10 3h0m-32 0h0"/></defs>
<use href="#p61" stroke="#219821" stroke-width="4.9"/>
<use href="#p61" stroke="#30da30" stroke-width="4.2"/>
<defs><path id="p62" d="M912 193h0m6-5h0m5 0h0m-33 28h0m-1 17h0"/></defs>
<use href="#p62" stroke="#941694" stroke-width="4.9"/>
<use href="#p62" stroke="#d420d4" stroke-width="4.2"/>
<defs><path id="p63" d="M893 60h0m17 3h0m4 1h0m-19-4h0m11 18h0m0 8h0m1 10h0m0-11h0m2 5h0m1 9h0m-5-20h0m3 16h0m-26 25h0m-2-1h0m-3-1h0m28 16h0m-3-7h0m0-2h0m-3-5h0m14-16h0m-22 7h0m0-8h0m-8 29h0m-3-7h0m17-9h0m4 9h0m4-20h0m-13 5h0m7 18h0m12 2h0m7-8h0m-13-21h0m6 6h0m-3-1h0m-8 8h0m0-3h0m1-2h0m-19 5h0m1-8h0m21 13h0m-17 13h0m25-5h0m-14-12h0m1 12h0m-4-20h0m20 35h0m-4-10h0m6 7h0m1 2h0m0 6h0m-6-36h0m-16-6h0m-3 0h0m9 25h0m3 1h0m2 0h0m1-6h0m5-2h0m5 0h0m-2-9h0m-12 2h0m-13 5h0m4-2h0m2-2h0m7-2h0m8 24h0m-28-25h0m1-5h0m-3-1h0m-1 2h0m-4 8h0m16 6h0m-1-17h0m42 12h0m-10 5h0m-4-2h0m-69 5h0m1 1h0m4 22h0m11-31h0m1 8h0m2 13h0m-1 0h0m38 9h0m25 30h0m-46-39h0m-9 28h0m21-5h0m-13 7h0m6-8h0m-8 18h0m24-28h0m-8 28h0m32-1h0m-53-31h0m0-5h0m60 8h0m-2-2h0m-60-1h0m8-2h0m-4 31h0m2-28h0m-7-4h0m45 27h0m-37-2h0m-39-13h0m62-13h0m-43 2h0"/></defs>
<use href="#p63" stroke="#941a1a" stroke-width="4.9"/>
<use href="#p63" stroke="#d42626" stroke-width="4.2"/>
<defs><path id="p64" d="M886 191h0m2 2h0m1 6h0m1 20h0m0 4h0"/></defs>
<use href="#p64" stroke="#a59713" stroke-width="4.9"/>
<use href="#p64" stroke="#ecd81c" stroke-width="4.2"/>
<defs><path id="p65" d="M901 122h0m-13-4h0m11-3h0m-16 4h0m24-9h0m-51 77h0m7-29h0m30 35h0m8-40h0m31 9h0m-11 25h0m7-15h0m-5-11h0m1 1h0m-6 21h0m-54 5h0m-10 0h0m48-20h0m10 24h0m-29 4h0m-9-36h0m-11 17h0m-2 0h0m40-33h0m31 44h0m-14 6h0m-1-27h0m-65 13h0m77 11h0m-51-40h0m40 43h0m-5 6h0m13-18h0m-20 7h0m5 5h0m-75-25h0m105 11h0m-77 17h0m29-5h0m40-8h0m-25 14h0m-25-5h0m30-4h0m-47-19h0m12 9h0m-13 2h0m27 7h0m-4-24h0m12 17h0m-22-13h0m-12 20h0m-4-3h0m-12-4h0m-5-2h0m-16 17h0m6 8h0m54 36h0"/></defs>
<use href="#p65" stroke="#2a939f" stroke-width="4.9"/>
<use href="#p65" stroke="#3cd2e4" stroke-width="4.2"/>
<defs><path id="p66" d="M879 69h0m-35 106h0m102-11h0m-60-17h0m42 45h0m-20 8h0m-52-22h0m-4-13h0m39 12h0m-28 0h0m-2 11h0m44-2h0m1 5h0m-23-14h0m-3-13h0m-2-7h0m18 7h0m-63 5h0m47-14h0m26-2h0m39 13h0m-58 25h0m39-4h0m-5-24h0m-6 39h0m-33-18h0m21-24h0m-27 22h0m-7 11h0m36 0h0m-25-26h0m-10 19h0m20-3h0"/></defs>
<use href="#p66" stroke="#a27ba2" stroke-width="4.9"/>
<use href="#p66" stroke="#e8b0e8" stroke-width="4.2"/>
<defs><path id="p67" d="M882 61h0m7-1h0m14 0h0m3 1h0m1 2h0m10 0h0m7 5h0m6 1h0m-34-3h0m-5 5h0m14-2h0m1 22h0m0 13h0m1-27h0m0 4h0m0 3h0m-1 2h0m1 2h0m-1 3h0m6 52h0m-7-19h0m0-2h0m6-6h0m2-4h0m-15-7h0m7 3h0m-2-4h0m-2-2h0m-1 6h0m-10 3h0m-5 0h0m31 18h0m1-12h0m-10-17h0m16 25h0m0-5h0m-22-11h0m27 31h0m-23-35h0m3-3h0m2-2h0m-19 19h0m-7-6h0m22 4h0m-3 4h0m8 8h0m3-17h0m-14 14h0m7 18h0m-1 2h0m-10-24h0m0-2h0m-2-10h0m8 30h0m11 5h0m-18-15h0m15-20h0m-5-1h0m2 18h0m8-4h0m4-9h0m-34 12h0m2-2h0m2-1h0m13-8h0m9 12h0m-1 8h0m3 7h0m-1 2h0m-22-25h0m2 2h0m21-3h0m-23-12h0m-3 0h0m8 22h0m-1-12h0m46-25h0m-10 12h0m-8 20h0m-72 0h0m3 13h0m0 2h0m14-16h0m1 20h0m16 6h0m58 5h0m-37 3h0m5-8h0m2 2h0m10 6h0m-81 23h0m38-13h0m-19 5h0m-4 7h0m62 1h0m9-1h0m-22-34h0m3 10h0m-29 10h0m-18 17h0m72-10h0m4-10h0m-43-12h0m10 31h0m-66-10h0m56-17h0m-10-3h0m-22-8h0m48 9h0m15-3h0m-10 0h0m24 4h0m5-1h0m-93-1h0m28 29h0m44-12h0m-28-6h0m-38 21h0"/></defs>
<use href="#p67" stroke="#941a1a" stroke-width="4.9"/>
<use href="#p67" stroke="#d42626" stroke-width="4.2"/>
<defs><path id="p68" d="M908 101h0m0-19h0m-1-7h0m-5 30h0m-16 9h0m38 22h0m-43 28h0m63 24h0m-17 6h0m-31-9h0m-9-49h0m15 22h0m-18 23h0m54 10h0m-47-18h0m8 22h0m49-16h0m-31-29h0m-36 44h0m-5 1h0m2 8h0m-6-11h0m41 2h0m-13-7h0m-18-21h0m-38 21h0m60-9h0m6 14h0m-24-41h0m1 37h0m3 9h0m4 7h0m28-27h0m-15 24h0m-5-5h0m1-2h0m-44-24h0m-4-4h0m-7-7h0m54 17h0m5-10h0m16-12h0m5 37h0m-12-27h0m-41 15h0m33-11h0m-8 15h0m-12 22h0m7-39h0m2 4h0m-4 0h0m-5-6h0m7 0h0m-13 10h0m-26 10h0m-13-6h0m-10 3h0m-1 18h0m10 2h0m3 0h0m7-1h0m38 21h0m-1 5h0m-11 27h0"/></defs>
<use href="#p68" stroke="#2a939f" stroke-width="4.9"/>
<use href="#p68" stroke="#3cd2e4" stroke-width="4.2"/>
<defs><path id="p69" d="M881 61h0m47 8h0m-5-2h0m-15 21h0m3 13h0m-18 21h0m16 16h0m-5-6h0m-18-22h0m-5 1h0m2 23h0m-1-5h0m0-15h0m26-1h0m10 12h0m-15-22h0m18 12h0m-15-9h0m-27 5h0m11 8h0m-10 5h0m0-3h0m3-10h0m13 17h0m17-14h0m-15-4h0m1 13h0m7 11h0m-12-22h0m24 16h0m-1 12h0m17-23h0m-36 8h0m11 6h0m-2-21h0m7 5h0m-23 1h0m-6-5h0m8 13h0m1 11h0m16-22h0m-16-7h0m43-10h0m-69 34h0m0 14h0m-23 6h0m2-2h0m0-4h0m0-3h0m56 12h0m15-9h0m-73 33h0m-1 8h0m-1 3h0m37-19h0m-8 1h0m-11 11h0m59-14h0m11 1h0m7-2h0m10-3h0m-68-11h0m-22 8h0m-11 5h0m-9 5h0m39-2h0m-7 11h0m-3 4h0m-2 13h0m69-19h0m4 3h0m-12 17h0m6-41h0m-41 39h0m8-8h0m-3-40h0m-1-2h0m40 24h0m-9-16h0m-32 22h0m3 16h0m3 7h0m-1-36h0m-1 2h0m-5 2h0m-7 4h0m-9 4h0m-13 0h0m-15 1h0m-2 0h0m-13-1h0m58-29h0m-19 26h0m30-30h0m18 52h0m-13-46h0m8 6h0m5 5h0m9 10h0m-22-10h0m-3 2h0m-41 5h0m0-10h0m57 3h0m3-4h0m-79 21h0m48-14h0m-22 7h0m-5 1h0m-12 3h0m-3 0h0m-9 4h0m22-26h0m-1-2h0m-2-2h0m4 28h0m-16-13h0m-8-7h0m45 21h0m-15-4h0m-5-1h0m-2-1h0m-8-2h0m-2 0h0m-11 3h0m-2 5h0m49-8h0m2-3h0m2-4h0m7 14h0m35 10h0m1 2h0m-85-16h0m15 10h0m2 2h0m53-3h0m-6 5h0m-17-30h0m-7 1h0m-13 4h0m18 19h0m-17-11h0m-3-1h0m6-1h0m4-3h0m2-2h0m2-1h0m11-15h0m2-5h0m10 26h0m-2 1h0m-5 1h0m-8 2h0m-7 2h0m-5 3h0m-2 1h0m12 21h0m30-34h0m6 4h0m10 9h0m1 2h0m2 5h0m-72 1h0m-2-2h0m-3-10h0m-3-4h0m10 15h0m0 8h0m1 10h0m-14-22h0m7-11h0m71-12h0m-6-8h0m-56 29h0m-3 1h0m8-35h0m35 40h0m-2-8h0m-2-10h0m0-3h0m0-2h0m-1-8h0m1-7h0m-10 10h0m5 8h0m12 11h0m6 7h0m-22-38h0m-3 4h0m-2 20h0m10 15h0m12-23h0m18-2h0m-27-1h0m-5 2h0m-5 2h0m-2 1h0m-8 2h0m-2 1h0m-5 1h0m-18 3h0m-15 5h0m13 13h0m-4 2h0m-5 3h0m16 3h0m2 2h0m49-3h0m-21 7h0m9-28h0m-6 9h0m-23 1h0m-1-8h0m-2-12h0m-4-10h0m-3-10h0m-13 30h0m-5 5h0m-2 2h0m-4 4h0m80 6h0m-33-8h0m4 4h0m3 4h0m1 5h0m-8-56h0m-8 22h0m-10-12h0m-4-7h0m-15 36h0m-2-10h0m56 25h0m10-8h0m8-10h0m5-14h0m1-3h0m-32 38h0m-23-20h0m-1-5h0m-5-25h0m19 10h0m0 5h0m1 8h0m1 5h0m5 6h0m18-14h0m5 2h0m8-1h0m4-2h0m-47 13h0m-43-2h0m-5-2h0m49-20h0m-19-8h0m-3 0h0m56 45h0m-31 1h0m5-10h0m4-17h0m8-13h0m5-6h0m4-3h0m15 28h0m0 3h0m-8 22h0m-3 4h0m-61-38h0m-2 1h0m52 3h0m3 4h0m-13-4h0m-2 0h0m-5-2h0m-5-2h0m17 33h0m-60-30h0m6 12h0m3 4h0m1 2h0m8 13h0m43-8h0m4-3h0m2-1h0m-63-18h0m-4-3h0m38 36h0m-29-13h0m-3 4h0m68-40h0m-22 8h0m-4 2h0m10 10h0m2 1h0m10 4h0m2 2h0m-23-2h0m-8-1h0m-9-3h0m-2-2h0m-3-1h0m-2-1h0m-20-7h0m-4-2h0m-3-2h0m84 18h0m-6 0h0m-50-11h0m-11-2h0m-4-1h0m-13-1h0m62 12h0m-31 27h0m9-25h0m3 0h0m12-4h0m7-2h0m3-1h0m2-1h0m17 10h0m1-7h0m-9 12h0m13-3h0m-57-7h0m-26-14h0m70 13h0m-12-1h0m3-1h0m-9 11h0m6 8h0m-34-7h0m7 12h0m6-18h0m7-3h0m11-17h0m1-3h0m1-2h0m-2 17h0m15-3h0m-26 7h0m-2-1h0m-11 0h0m-2 0h0m-14 7h0m-5 2h0m-7 2h0m18-8h0m-15-4h0m-5-2h0m-4-2h0m67 12h0m10-9h0m4-3h0m-32 18h0m-5 0h0m-25-5h0m-1-2h0m-14-11h0m29 18h0m-2 0h0m29 0h0m-1 13h0m0 2h0m-3-25h0m17-3h0m-7-5h0m2-1h0m3-1h0m-20 19h0m7-22h0m0-2h0m1 23h0m18 3h0m2 0h0m-33-11h0m5-19h0m8-11h0m1-2h0m-38 51h0m16-15h0m11-1h0m10 8h0m9 5h0m16 9h0m-46-27h0m9 9h0m4 7h0m3 7h0m-4-29h0m1-2h0m-14 9h0m2 2h0m4 9h0m-2 10h0m-1-9h0m-6-4h0m-9-13h0m-3-4h0m-10-15h0m4 39h0m-4-3h0m-3-4h0m-3 5h0m24 3h0m-51 9h0"/></defs>
<use href="#p69" stroke="#219821" stroke-width="4.9"/>
<use href="#p69" stroke="#30da30" stroke-width="4.2"/>
<defs><path id="p70" d="M882 150h0m35 42h0m-22-27h0m-53 10h0m52-29h0m-33 29h0m21-17h0m1 18h0m54-2h0m-18 21h0m-1-43h0m0 17h0m-36-5h0m-29 28h0m29-20h0m17 11h0m-14-26h0m-11-7h0m30 18h0m4 6h0m-39-7h0m22 28h0m-13-14h0"/></defs>
<use href="#p70" stroke="#a27ba2" stroke-width="4.9"/>
<use href="#p70" stroke="#e8b0e8" stroke-width="4.2"/>
<defs><path id="p71" d="M922 185h0m-14 11h0m-40-11h0m-34 18h0m56 1h0"/></defs>
<use href="#p71" stroke="#941694" stroke-width="4.9"/>
<use href="#p71" stroke="#d420d4" stroke-width="4.2"/>
<defs><path id="p72" d="M889 196h0m1 18h0"/></defs>
<use href="#p72" stroke="#a59713" stroke-width="4.9"/>
<use href="#p72" stroke="#ecd81c" stroke-width="4.2"/>
</g>
<g transform="scale(.5)" fill="none" stroke-linecap="round">
<path d="M471 376l0 2 0 1-1 3 0 2 0 1 0 2-1 3 0 3-1 2 1 3-1 0 0 2 0 2 0 1 0 3 0 2-1 2 1 1-1 2 0 1 0 4-1 1 1 3 0 3-1 1-1 0 0 2 1 5-1 2 1 3 0 3-1 2 1 2-1 2 1 2 0 2-1 1-1 4 1 0 0 3 0 3 0 4 0 2-1 1-1 3 1 1-1 3 0 1 0 4 0 1 0 1 0 3-1 1 0 3M450 562l0 1-2 1 0 2-5 1 2 2-3 2 0 1-3 2-1 1-1 0-3 3-2 0-1 3-3 1-1 0-1 2-2 1-2 1 0 2-1 1-4 1-1 2M428 536l-1 2-3 2-2 2-2 0-2 3-1 0-1 2-3 2-1 1M460 514l-1 2-1 2 0 1-1 2-1 2-1 2-1 2-1 1-1 2-2 1-1 2-2 1-1 1-2 1-2 1-1 1-1 2-1 2-1 2-1 1-1 2-1 2M460 514l1 2 2 1 1 1 2 1 1 2 1 1 1 2 0 2 1 2 0 2 1 2-1 2 1 2 1 2 0 2 1 2 1 2 1 1 0 2 1 2 1 2 1 1 2 2 1 1 2 1 2 1 1 1M460 514l0 2 0 2 0 2 0 2 0 2-1 2-1 2 0 2 0 2 0 2 0 2 0 2-1 2 0 2 0 2 0 2 0 2M460 514l2 1 2 0 2 1 1 1 2 2 1 1 1 2 1 2 1 1 1 2 1 2 1 2 0 2 1 2 1 1 1 2 1 2 1 1 2 1 1 2 1 2 1 1 2 2 1 1 2 1M460 514l2 1 1 1 2 1 2 1 2 1 2 0 2 1 1 0 2 1 2 0 2 0 2 1 2 1 2 1 1 2 1 2 1 1 1 2 2 1 1 2M460 514l2 1 2 1 1 1 2 1 1 1 2 2 1 1 2 1 1 2 2 1 1 2 2 1 1 1 2 1 2 0 2 1 2 1 2 0 2 1 1 1 2 0 2 1M460 514l0 2 0 2 0 2 0 2 0 2 0 2 0 2 0 2 1 2 1 2 1 1 1 2 1 2 0 2 1 2M460 514l0 2 1 2 0 2 0 2 0 2 1 2 0 2 1 2 0 2 1 1 1 2M460 514l0 2 1 2 1 2 2 1 1 2 1 1 1 2 0 2 1 2 1 2 1 1 2 1 1 1 2 1 2 1 2 0 2 0 2 0 2 1 2 0" stroke="#555" stroke-width="0.8" stroke-linejoin="round"/>
<defs><path id="p73" d="M441 462h0"/></defs>
<use href="#p73" stroke="#941a1a" stroke-width="4.9"/>
<use href="#p73" stroke="#d42626" stroke-width="4.2"/>
<defs><path id="p74" d="M449 359h0m13 2h0m-4-2h0m-8 0h0m-5 2h0m12 1h0m-16-6h0m-10-3h0m-5-2h0m-10-1h0m-11-5h0m34 8h0m37 2h0m4 1h0m-38-3h0m-3 0h0m-4-3h0m-5 0h0m33 10h0m-15 2h0m-17-5h0m14-2h0m-8 4h0m20-4h0m-5 7h0m-10 1h0m20-2h0m-9-13h0m0-5h0m-1-3h0m-13 10h0m3 1h0m2 1h0m9 5h0m13-2h0m8-5h0m-36 4h0m-3-1h0m-2-2h0m-3-4h0m24 6h0m21-5h0m4 6h0m3 4h0m-59-13h0m68 13h0m0 0h0m-17-4h0m8 0h0m9 1h0m3 1h0m2 0h0m3 1h0m-38-8h0m5-1h0m-17 9h0m-5 3h0m-1-7h0m10 8h0m22 0h0m6-5h0m21 0h0m2-1h0m-64-5h0m20 5h0m-6-6h0m23 5h0m-2 4h0m10-7h0m6 4h0m-18 3h0m-8 5h0m22-11h0m5-2h0m-45 7h0m3 4h0m17-11h0m6-1h0m-3 0h0m-7 3h0m-17 3h0m-56 5h0m6-2h0m5-2h0m9 1h0"/></defs>
<use href="#p74" stroke="#8c2f2f" stroke-width="4.9"/>
<use href="#p74" stroke="#c84444" stroke-width="4.2"/>
<defs><path id="p75" d="M441 346h0m31 21h0m8-5h0m-60 79h0m14 29h0m7 13h0m-1-23h0m4 5h0m8 15h0m2 5h0m22 4h0m34 15h0m-57 13h0m15-4h0m-50 13h0m74-24h0m14-5h0m-67 16h0m51-9h0"/></defs>
<use href="#p75" stroke="#219821" stroke-width="4.9"/>
<use href="#p75" stroke="#30da30" stroke-width="4.2"/>
<defs><path id="p76" d="M494 364h0m9-4h0m-46-11h0m-2 143h0m-15 11h0m75 2h0m-25 2h0m3 0h0m-10 2h0m-11-2h0m-13 2h0m9 1h0m-69-8h0m-20-6h0m-5 1h0m-7 3h0m42-1h0m24 29h0m0-24h0m1 21h0m-37-21h0m-3 0h0m-9-1h0m-11-1h0m39 11h0m-28 9h0m-2 1h0m-20 2h0m-1-2h0m-2-1h0m44-42h0m48 45h0"/></defs>
<use href="#p76" stroke="#a59713" stroke-width="4.9"/>
<use href="#p76" stroke="#ecd81c" stroke-width="4.2"/>
<defs><path id="p77" d="M435 348h0m16 15h0m-21 147h0m8 8h0m31-17h0m2-2h0m-18 14h0m-86 4h0m106-9h0m-34 19h0m-50-29h0m55 23h0m-5-20h0m22 8h0m-20 12h0m3-14h0m-53 14h0"/></defs>
<use href="#p77" stroke="#a27ba2" stroke-width="4.9"/>
<use href="#p77" stroke="#e8b0e8" stroke-width="4.2"/>
<defs><path id="p78" d="M448 360h0m-5 2h0m33-6h0m11-2h0m-20 9h0m-56-7h0m7 79h0m13 31h0m14 2h0m29 2h0m1 7h0m1 5h0m0 5h0m-24 9h0m-14 8h0m24-9h0m13 0h0m-16 0h0m11 10h0m8-2h0m2-1h0m8-2h0m18 1h0m7 3h0m-70 13h0m-2 0h0m-22-21h0m30 5h0m18 5h0m3 1h0m5 1h0m-53 26h0m23-23h0m16 0h0m-3 5h0m5-2h0m10-3h0m3 0h0m-52 4h0m-1 2h0m17-6h0m5 2h0m49-4h0m2 1h0m9 7h0m10 11h0m-47-15h0m8 3h0m12 4h0m-9-27h0m0-3h0m-27 22h0m9-5h0m2-2h0m5-2h0m-41 9h0m-10-1h0m-12 0h0m-21 2h0m85-1h0m7 3h0m10 2h0m-10-13h0m3-12h0m15 17h0m3 0h0m17-4h0m2-2h0m-23-2h0m2-2h0m4-3h0m-51 18h0m3 1h0m48-17h0m-59 27h0m-11-16h0m-3 0h0m-2 0h0m-5-1h0m-13-4h0m-9-4h0m-28-1h0m-4 2h0m93 10h0m6 2h0m22 7h0m12-5h0m8-13h0m-90 1h0m-18-18h0m66 18h0m-2 0h0m-27 12h0m18 3h0m15 5h0m-30 4h0m17 4h0m-31-13h0m12 4h0m3 1h0m-16-11h0m0-8h0m9 10h0m-10-5h0m34 11h0m-26 7h0m47-19h0m-15 4h0m-18-8h0m-8 0h0m6 21h0m-8-2h0m-2-2h0m-9-7h0m29 11h0m-21-21h0m5 2h0m11-6h0m-17 4h0m-9-6h0m36 26h0m-20-6h0m0 0h0m10-2h0m10 3h0m3 0h0m2 0h0m-60-13h0m-39-8h0m-12-4h0m57 19h0m-11 5h0m-8 3h0m113-13h0m6 2h0m7 5h0m-49 0h0m8 3h0m4 3h0m4 0h0m5 4h0m1 1h0m5 2h0m2 0h0m4 1h0m-81-30h0m-10-12h0m45 50h0m2 14h0m-2 4h0"/></defs>
<use href="#p78" stroke="#2a939f" stroke-width="4.9"/>
<use href="#p78" stroke="#3cd2e4" stroke-width="4.2"/>
<defs><path id="p79" d="M442 501h0m7-3h0m6 0h0m-26 37h0m10-19h0m-10 3h0m73-4h0m-108-4h0m-18 4h0m107 0h0m-4 5h0m-33-17h0m9 15h0m43-12h0m-42 41h0m-2 6h0"/></defs>
<use href="#p79" stroke="#941694" stroke-width="4.9"/>
<use href="#p79" stroke="#d420d4" stroke-width="4.2"/>
<defs><path id="p80" d="M501 358h0m-43-4h0m20 1h0m15 145h0m7 5h0m-44 12h0m-31-5h0m-46 2h0m-8 2h0m-2 0h0m3-18h0m39 3h0m21 8h0m15 2h0m-13 19h0m-8-10h0m41 0h0m-87-16h0m-2-1h0m-25-8h0m42 24h0m-16 7h0"/></defs>
<use href="#p80" stroke="#a59713" stroke-width="4.9"/>
<use href="#p80" stroke="#ecd81c" stroke-width="4.2"/>
<defs><path id="p81" d="M497 354h0m-29-1h0m-12-3h0m-38 89h0m2 5h0m55 31h0m-19 20h0m11 0h0m3 0h0m8 0h0m-29 8h0m4-3h0m2-2h0m6-5h0m12 11h0m10-3h0m13-2h0m12 4h0m10 3h0m-82 9h0m-8-7h0m-6-8h0m-2-2h0m-3-4h0m37 1h0m10-12h0m-14 26h0m-2 1h0m-11 10h0m-2 3h0m-1 2h0m-6 11h0m13-21h0m40-6h0m10-2h0m-57 10h0m-13 10h0m-3 5h0m-1 2h0m8-22h0m-4 10h0m-2 2h0m-4 6h0m-5 2h0m-2 2h0m42-21h0m8 1h0m5-2h0m16-7h0m13 3h0m16 12h0m2 2h0m3 4h0m-42-12h0m2-13h0m-58 9h0m-5-1h0m-13 2h0m91 7h0m2 1h0m-13-18h0m7 7h0m21 1h0m-47 5h0m17-7h0m5-2h0m10-2h0m-45 13h0m-3 5h0m-1 2h0m-25-16h0m-22-8h0m54 17h0m-4 4h0m22-8h0m-26 13h0m-2 5h0m46-9h0m23-26h0m-82 17h0m-11-10h0m-11-8h0m-3-4h0m-1-2h0m65 10h0m-8-4h0m-13 22h0m12 3h0m10 3h0m-28 2h0m12-20h0m-5-1h0m-7-4h0m28 6h0m-1-2h0m-8 26h0m-23-25h0m-1 2h0m-8 5h0m26 1h0m-17 14h0m3 6h0m27-17h0m7-3h0m-5 4h0m-7-10h0m-2-2h0m-18 1h0m-4 3h0m-6 11h0m14 4h0m8 1h0m5 2h0m-24-25h0m28 25h0m-22-21h0m-1 11h0m10-11h0m-5 6h0m29 8h0m3 0h0m-66-13h0m-1-2h0m-19 0h0m24 9h0m-7 2h0m-30 11h0m-6 0h0m112-22h0m15 3h0m5 0h0m4 2h0m13 6h0m-53-2h0m4 4h0m15 7h0m2 0h0m12 4h0m-85-35h0m-2-4h0"/></defs>
<use href="#p81" stroke="#2a939f" stroke-width="4.9"/>
<use href="#p81" stroke="#3cd2e4" stroke-width="4.2"/>
<defs><path id="p82" d="M450 367h0m3-8h0m-14 6h0m25-6h0m-16 0h0m-12-4h0m-17-4h0m-5-2h0m29 5h0m-2 0h0m-8-2h0m49 6h0m3 1h0m-53-9h0m-7-1h0m33 11h0m-12 6h0m-10-7h0m14-7h0m-11 7h0m-5 0h0m23 4h0m-2 0h0m-10-1h0m-6 1h0m-2 0h0m28-6h0m-8 7h0m-9-10h0m3 2h0m12 0h0m16-7h0m8 2h0m2 1h0m-29-4h0m3-3h0m2-1h0m8 2h0m3 4h0m5 6h0m-51-9h0m52 7h0m13 8h0m-6-9h0m-43 1h0m23-7h0m2-2h0m1-2h0m-19 13h0m-8-5h0m31 8h0m-7 10h0m5-12h0m5-1h0m28-2h0m4-5h0m2-1h0m-67 3h0m24 2h0m3 1h0m4 1h0m5 0h0m3 0h0m-19-1h0m-5-2h0m-17-11h0m-9 19h0m50-6h0m1-5h0m1 3h0m1 3h0m-3 0h0m-10 1h0m15-4h0m-23-4h0m-7 8h0m-2 1h0m-14-7h0m-46 9h0"/></defs>
<use href="#p82" stroke="#8c2f2f" stroke-width="4.9"/>
<use href="#p82" stroke="#c84444" stroke-width="4.2"/>
<defs><path id="p83" d="M453 360h0m-2-12h0m-36 83h0m6 15h0m6 11h0m1 2h0m2 4h0m6-10h0m2 2h0m0 3h0m15 24h0m3 7h0m18-16h0m2 11h0m-13 8h0m12 12h0m-22-7h0m3-4h0m7 17h0m-24 6h0m28-6h0m9-5h0m6 1h0m28 2h0m-108-16h0m59 4h0m-27 25h0m9-22h0"/></defs>
<use href="#p83" stroke="#219821" stroke-width="4.9"/>
<use href="#p83" stroke="#30da30" stroke-width="4.2"/>
<defs><path id="p84" d="M489 357h0m-38 7h0m-18-2h0m70 142h0m-47 10h0m-10 3h0m2 0h0m18-3h0m-46 16h0m-31-18h0m100 8h0m-26 1h0m-9-18h0m-32 14h0m1 10h0m42-13h0m3-1h0m-32-6h0m-51-2h0m-17-4h0m115 4h0"/></defs>
<use href="#p84" stroke="#a27ba2" stroke-width="4.9"/>
<use href="#p84" stroke="#e8b0e8" stroke-width="4.2"/>
<defs><path id="p85" d="M414 427h0m2 6h0"/></defs>
<use href="#p85" stroke="#941a1a" stroke-width="4.9"/>
<use href="#p85" stroke="#d42626" stroke-width="4.2"/>
<defs><path id="p86" d="M463 491h0m9 17h0m-29 4h0m25-8h0m7-4h0m27 9h0m-93-4h0m-25-9h0m77 15h0m-22 16h0m65-17h0m-77 4h0m38-12h0m-34 20h0m1-10h0m20 2h0m-6-10h0m-16 5h0m43-6h0m5 1h0m16 1h0m-87-20h0m46 47h0m2 10h0m0 2h0m-4 16h0"/></defs>
<use href="#p86" stroke="#941694" stroke-width="4.9"/>
<use href="#p86" stroke="#d420d4" stroke-width="4.2"/>
<defs><path id="p87" d="M455 358h0m12 1h0m-5 2h0m-7 1h0m-3-1h0m-19-7h0m-9-4h0m-13-1h0m-4-2h0m29 5h0m-6-4h0m48 7h0m-41-4h0m-10-2h0m41 10h0m-2 0h0m-10 1h0m-27-4h0m-4-3h0m18 3h0m12-2h0m5 9h0m-10-1h0m-16 1h0m-2 0h0m-3 0h0m26 2h0m-5-13h0m2-2h0m1-5h0m5 12h0m10-3h0m2-2h0m2-1h0m12-1h0m6 5h0m2 4h0m-49-5h0m-3 0h0m16-2h0m3-1h0m2-5h0m10-1h0m13 18h0m-41-13h0m-10-2h0m-5-1h0m65 10h0m-9-2h0m2 2h0m7 3h0m-27-6h0m3 0h0m10 0h0m8-1h0m-34-1h0m21-11h0m1-2h0m-29 10h0m1-3h0m0-2h0m2-2h0m11 12h0m9 4h0m15-2h0m7 0h0m6 0h0m13-4h0m-72-2h0m5 0h0m8 1h0m4 3h0m25 1h0m-17-2h0m-17-10h0m-19 24h0m49-6h0m6-1h0m4-4h0m2-7h0m-8 6h0m-3-4h0m-2-1h0m-8-1h0m-2 1h0m-3 4h0m-5 6h0m-71 0h0m2-1h0m5 0h0m1 1h0m0-1h0m6-1h0m3-1h0m3 1h0m10-2h0"/></defs>
<use href="#p87" stroke="#8c2f2f" stroke-width="4.9"/>
<use href="#p87" stroke="#c84444" stroke-width="4.2"/>
<defs><path id="p88" d="M409 348h0m45 152h0m37 0h0m-64 35h0m25-27h0m-22 26h0m-3-15h0m43-11h0m30 5h0m-17 6h0m-5-21h0m3-3h0m-59 17h0m-23-1h0m-13 1h0m-5 2h0m98-28h0m8 22h0m-26 5h0m22-8h0m2-1h0m18-10h0m-111 5h0m-5-2h0m56 25h0m-2 1h0m8-8h0m18 0h0m-31 7h0m-18-22h0m23 5h0m16 22h0m-14-4h0m5-19h0m-12 16h0m-36-14h0m-11-2h0m-34-8h0m-6-3h0m138 11h0m25 8h0"/></defs>
<use href="#p88" stroke="#a59713" stroke-width="4.9"/>
<use href="#p88" stroke="#ecd81c" stroke-width="4.2"/>
<defs><path id="p89" d="M414 493h0m70 13h0m-11 9h0m9-22h0m-70 17h0m32 8h0m9-5h0m28 8h0m15-5h0m-37-17h0m-26 24h0m3-7h0m-5-11h0m-7 11h0m29 5h0m-7 3h0m29-20h0m-5 14h0m-17 12h0"/></defs>
<use href="#p89" stroke="#941694" stroke-width="4.9"/>
<use href="#p89" stroke="#d420d4" stroke-width="4.2"/>
<defs><path id="p90" d="M412 418h0m1 1h0m2 5h0m40 63h0"/></defs>
<use href="#p90" stroke="#941a1a" stroke-width="4.9"/>
<use href="#p90" stroke="#d42626" stroke-width="4.2"/>
<defs><path id="p91" d="M468 344h0m5 22h0m-29 124h0m13 0h0m-2 2h0m25 2h0m-47 36h0m53-22h0m7-2h0m-69 15h0m46-19h0m-14 12h0m-10 4h0m5-4h0m-12 15h0m-3-32h0m-18 6h0m54 14h0"/></defs>
<use href="#p91" stroke="#a27ba2" stroke-width="4.9"/>
<use href="#p91" stroke="#e8b0e8" stroke-width="4.2"/>
<defs><path id="p92" d="M460 345h0m-11 25h0m-31 67h0m8 18h0m6 13h0m16 6h0m24-14h0m-13 33h0m2-1h0m-6 3h0m10 0h0m-18 10h0m38-4h0m13-2h0m5 1h0m-69 14h0m-2-2h0m-5-6h0m-15-14h0m29 16h0m6-5h0m10-12h0m2-2h0m24 20h0m12-3h0m3-1h0m7-1h0m-81 31h0m31-29h0m-22 21h0m4-10h0m-5 1h0m-9 5h0m-17 12h0m-3 1h0m44-23h0m38 6h0m7 3h0m2 2h0m-15-29h0m-24 16h0m2-1h0m-50 0h0m-15 1h0m81 4h0m8 0h0m-8-7h0m1-2h0m4-7h0m1-5h0m13 15h0m5-12h0m-44 18h0m34-12h0m14-7h0m4-3h0m-84 15h0m-7-1h0m-3-1h0m-10-4h0m-24-5h0m70 20h0m-5 6h0m27-7h0m7 3h0m17-1h0m9-6h0m3-5h0m1-7h0m-79 14h0m-9-9h0m-11-7h0m-2-2h0m60 11h0m-8-10h0m-27 18h0m8 0h0m10 2h0m14-14h0m11-7h0m3-1h0m5-1h0m-46 1h0m31 15h0m0-2h0m-37 13h0m-7-7h0m-4-15h0m16 20h0m2 2h0m3 6h0m-10-13h0m-8-7h0m32 9h0m5 6h0m3 5h0m-27-3h0m-2 5h0m-2 2h0m-5-8h0m-1 2h0m48-15h0m2-1h0m-20-7h0m-13-1h0m-3 4h0m-8 15h0m17 3h0m12 5h0m-14-26h0m-11-5h0m-2 2h0m19 20h0m-9-10h0m-4 7h0m-3 7h0m15-6h0m15 2h0m10 0h0m-71-14h0m-33-2h0m-2 0h0m-10-4h0m40 17h0m-6 4h0m-36 1h0m-4-3h0m132-14h0m-17 14h0m12 4h0m-60-22h0m-3-4h0m37 44h0"/></defs>
<use href="#p92" stroke="#2a939f" stroke-width="4.9"/>
<use href="#p92" stroke="#3cd2e4" stroke-width="4.2"/>
<defs><path id="p93" d="M487 361h0m-39-8h0m41 3h0m26-10h0m-62 6h0m22 11h0m-30-11h0m-30 77h0m9 22h0m4 10h0m12 20h0m1 5h0m1 2h0m4 6h0m1-23h0m11 19h0m14-32h0m-27 42h0m0 4h0m21 2h0m-15 11h0m56-8h0m-16 10h0m-28-14h0m-13 12h0m14-17h0m-39 18h0m20 5h0m47-19h0m18 6h0"/></defs>
<use href="#p93" stroke="#219821" stroke-width="4.9"/>
<use href="#p93" stroke="#30da30" stroke-width="4.2"/>
<defs><path id="p94" d="M449 362h0m0 3h0m-8-2h0m-4 4h0m9-10h0m-3-1h0m-5-1h0m-10-2h0m-7-3h0m40 10h0m-14 4h0m-2 4h0m-18-13h0m14 3h0m11-5h0m-2-1h0m-2-1h0m-2-2h0m-2-2h0m16 16h0m-7 3h0m-7-13h0m3 1h0m6 3h0m5-1h0m22-7h0m9 8h0m-59-8h0m45 3h0m6 8h0m2 5h0m-45-16h0m-2-1h0m-13-2h0m70 10h0m4-3h0m-28 1h0m13-1h0m-29-2h0m4-4h0m0 2h0m16-13h0m-24 20h0m-5 2h0m5-18h0m7 16h0m-2 2h0m-2 1h0m-5 9h0m29-11h0m-3 7h0m-4-6h0m5-1h0m10-1h0m8 1h0m5-1h0m10-2h0m-61-3h0m15 4h0m2-1h0m25 1h0m-32-4h0m-9-4h0m-2-2h0m-8 12h0m-2 2h0m-6 4h0m-2 2h0m55-7h0m9-4h0m-10 1h0m-13 7h0m-13 0h0m-10-5h0m-34-2h0"/></defs>
<use href="#p94" stroke="#8c2f2f" stroke-width="4.9"/>
<use href="#p94" stroke="#c84444" stroke-width="4.2"/>
<defs><path id="p95" d="M443 362h0m17 0h0m-29-12h0m16 12h0m30-12h0m16 12h0m-42-8h0m24 12h0m-3-6h0m-23-2h0m-41 0h0m26 115h0m13-4h0m3 9h0m22-22h0m1 12h0m-21 28h0m2 0h0m5-1h0m13 0h0m-21 7h0m17 4h0m33-7h0m-63 17h0m-13-12h0m-1-2h0m19 4h0m8-7h0m10-12h0m16 21h0m3 1h0m5-1h0m3 0h0m-69 27h0m22-21h0m11 3h0m2-2h0m5-2h0m6-5h0m-22 8h0m18-1h0m10-3h0m17-5h0m-47 7h0m-19 11h0m4-15h0m-4 9h0m-21 17h0m41-24h0m13 1h0m34-6h0m9 5h0m-18 6h0m10 3h0m-13-22h0m2-2h0m-77 14h0m-28 5h0m-10 3h0m107-6h0m7 2h0m1-31h0m-3 23h0m6 1h0m7 0h0m23-1h0m-49 6h0m3-2h0m11-5h0m20-6h0m-93 3h0m35 22h0m17-14h0m-11 8h0m26-2h0m3 1h0m26-4h0m5-9h0m-81 5h0m-4-4h0m44 0h0m-4-5h0m-20 14h0m5 1h0m13 4h0m2 0h0m0-16h0m7-4h0m2-1h0m2-2h0m-20 6h0m-10-1h0m-8-10h0m30 6h0m-4-3h0m-1 32h0m-40-14h0m2 2h0m2 1h0m4 3h0m-2-10h0m0-2h0m-2-5h0m11 15h0m4 6h0m1 2h0m-12-12h0m17-1h0m2-1h0m14 13h0m-24-5h0m29-5h0m-4-7h0m-11-4h0m-5-6h0m-5 28h0m-2-1h0m-4-19h0m5 0h0m5-1h0m-13 2h0m1 5h0m-5-12h0m-2-1h0m26 19h0m-14-9h0m16 9h0m3 1h0m-79-16h0m-11-1h0m-2 0h0m-6-3h0m58 14h0m-9 2h0m-5 2h0m-14 5h0m-11 4h0m-3-1h0m-7 2h0m140-18h0m7 6h0m4 2h0m-26 10h0m-75-31h0m-9-9h0m0-3h0"/></defs>
<use href="#p95" stroke="#2a939f" stroke-width="4.9"/>
<use href="#p95" stroke="#3cd2e4" stroke-width="4.2"/>
<defs><path id="p96" d="M414 422h0m11 31h0"/></defs>
<use href="#p96" stroke="#941a1a" stroke-width="4.9"/>
<use href="#p96" stroke="#d42626" stroke-width="4.2"/>
<defs><path id="p97" d="M507 518h0m5 6h0m-47-20h0m4 8h0m-47-4h0m42-8h0m-31 15h0m51-21h0m-64 6h0m-11 8h0m-10-5h0m-28 23h0m105-6h0m-62-26h0m38 33h0m2 8h0"/></defs>
<use href="#p97" stroke="#941694" stroke-width="4.9"/>
<use href="#p97" stroke="#d420d4" stroke-width="4.2"/>
<defs><path id="p98" d="M460 360h0m-10 0h0m13-1h0m13-5h0m-1 1h0m13 0h0m-22-9h0m-44 103h0m14 26h0m0 2h0m2 2h0m7 13h0m-2-29h0m6 13h0m23-13h0m1 2h0m2 15h0m1 12h0m-29 7h0m-16 33h0m47-22h0m-66 21h0m28-1h0m1-25h0m-23 7h0m102 4h0"/></defs>
<use href="#p98" stroke="#219821" stroke-width="4.9"/>
<use href="#p98" stroke="#30da30" stroke-width="4.2"/>
<defs><path id="p99" d="M434 358h0m14-4h0m2 12h0m-7 147h0m-26 15h0m61-11h0m1-20h0m0-8h0m0 18h0m-9 2h0m25-8h0m-76 4h0m32-3h0m-11 1h0m-4 10h0m3 7h0m-46-16h0m-2 0h0"/></defs>
<use href="#p99" stroke="#a27ba2" stroke-width="4.9"/>
<use href="#p99" stroke="#e8b0e8" stroke-width="4.2"/>
<defs><path id="p100" d="M450 360h0m10-6h0m4-6h0m-9 16h0m-1 130h0m3 3h0m6-12h0m-18 25h0m15 3h0m5-2h0m9-5h0m13 1h0m-67 5h0m80-3h0m-54 5h0m-64-18h0m55 31h0m26-16h0m15-16h0m-22 27h0m4 6h0m-24-17h0m-53-8h0m-22-5h0m20 26h0m-25-5h0m54-28h0m-3-10h0m49 68h0m-4 9h0"/></defs>
<use href="#p100" stroke="#a59713" stroke-width="4.9"/>
<use href="#p100" stroke="#ecd81c" stroke-width="4.2"/>
</g>
<g transform="scale(.5)" fill="none" stroke-linecap="round">
<path d="M147 376l0 3-1 5 0 3-1 6 0 5-1 2 0 3 0 5 0 3-1 3-1 5 1 6-2 1 1 7-1 2 1 6 0 4 0 4-1 3 0 4 0 6 0 4-1 3 0 4-1 4 0 5 0 4-1 4M126 562l-2 2-5 3-1 4-3 3-2 1-5 3-4 4-2 2-4 2-1 3-5 3M104 536l-4 4-2 2-4 3-2 2-4 3M136 514l-2 4-1 3-2 4-2 3-3 3-3 3-3 2-3 2-2 4-2 3-2 4M136 514l3 3 3 2 2 3 1 4 1 4 0 4 2 4 1 4 2 3 1 4 2 3 3 3 4 2 1 1M136 514l0 4 0 4-1 4-1 4 0 4 0 4-1 4 0 4 0 2M136 514l4 1 3 2 3 3 2 4 2 3 2 4 1 4 2 3 2 3 3 3 2 3 3 3 2 1M136 514l3 2 4 2 4 1 3 1 4 1 4 1 4 2 2 4 2 3 3 3M136 514l4 2 3 2 3 3 3 2 3 3 3 3 3 2 4 1 4 1 3 2 4 1M136 514l0 4 0 4 0 4 0 4 2 4 2 3 1 4 1 2M136 514l1 4 0 4 1 4 1 4 1 3 1 2M136 514l1 4 3 3 2 3 1 4 2 4 3 2 3 2 4 1 4 0 4 1" stroke="#555" stroke-width="0.7" stroke-linejoin="round"/>
<path d="M125 359l0 4 1 4 0 2M138 361l-3-2-4-1-4 1-4 1-3 2-4 1-3 3-1 1M143 359l-4 1-3 2-4 0-4-1-4-2-3-2-4-1-4-1-4-1-3-1-4-2-3-1-4 1-4-2-4 0-4-2-2-2M119 354l-3-1-4-1-4-1-3-3M152 355l3 1 4 2 3 2 1 1M118 353l-4-1-3-2-4 0-4-1-4-1M144 359l-4 1-4 0-3 0-4 0-4 1-2 4-2 3 0 2M112 359l-3-1-4-2-3-2-2-1M126 352l-4 2-3 2-3 2-4 1-3 1M136 354l-4 0-4-1-4-2-2-2-4-2-2-1M136 363l-4 0-4-1-4 0-4 1-4 0-4 0-4 0-3 1M141 357l-3 3-2 3-4 1-4 2-1 1M124 354l3-3 2-3 0-4-1-4M115 350l4 1 4 2 3 2 3 2 4 0 4-1 4 0 3-3 3-2 4-1 4-1 4 0 4 2 3 3 2 3 1 4 1 3 2 2M119 354l-4 0-4-1-3-3-2-3-2-1M130 353l4-2 2-3 2-3 4-1 4 0 3 2 2 3 3 4 2 3 3 3 0 4 3 2M119 350l-4-2-4 0-4-1-4 0-3-2-2-1M167 358l3-2 3-2 3-2M158 354l3 2 4 1 3 2 3 3M142 354l4 0 4 0 4 0 4 0 4-1 4 0 3 3 4 0 3 2 3 3M122 354l4 0 3-2 3-2 3-3 2-3M135 349l4-1 4 0 3-2 3-3 2-3 0-4M129 356l-3 1-4 1-2 4-1 1M119 353l3-3 1-4 1-3 3-3 1-2M136 354l-3 3-3 3-2 3-2 3-1 4 0 2M154 357l-3 3 0 4-3 3-3 2-2 1M145 358l4-1 3 0 4-1 4 0 4 0 4 1 4-1 4 0 4-1 4-1 2-2 2-4 3-2 2 0M114 350l4 0 4 1 4 0 3 2 4 1 4 1 4-1 4-1 3 0 4 3 4-1 4 0 4 0 4-1M142 354l-4-2-4-1-3-2-4-1-3-2-2-3-3-3M115 357l-3 2-3 3-3 2-3 3-2 1M153 354l-2 3 1 4-1 4 0 2M161 354l1-4 0-2M156 362l3-3 3-3 1-4 1-3M169 354l-4 1-4 0-4 0-4 0-3 2-3 3-3 2-4 2M163 352l4-1 2-1M123 357l3 3 1 3 1 2M143 350l-1-3-1-2M153 351l-3-1-4-1-4 0-3 3-2 3-3 3-1 4-3 3M123 357l-1-4-2-3M62 360l3 0 4 1 7-2 3-2 5 1 3-1 3-2 2 1M88 418l2 5 0 4 1 3 2 4 0 4 3 3 1 4 3 5 2 5 0 3 2 4 3 3 1 3 2 4 3 4 1 3 3 3 0 5 3 3 1 4 2 1M112 453l2 4 3 4 3 2 1 5 2 3 2 5 2 2 2 5 2 4 3 2 0 3M148 456l0 4 1 5 1 3 0 6 1 5 1 3 0 2 0 6 0 2M128 496l3-3 2-3M114 504l3-2 4-2 3-2 4-2 4-1 3-2 4-2 1-1M130 500l1-4 0-4M135 495l4 0 4 0 4 0 4 0 4 0 2-1M123 505l3-3 4-2 3-3 2-2 4-3 2-1M144 506l4-1 4-1 4-1 3-2 4-1 4 0 4-1 4 0 4 1 3 2 4 1 4 2 4 1M119 517l-3-1-4-1-4-2-2-3-2-3-3-4-3-3-2-3-3-2-3-3-2-1M117 508l3-3 3-3 3-2 3-3 2-3 3-4 3-2 2-3 1-2M143 506l4 1 4 1 4 1 4 0 4-1 4-1 4-1 4-1 3-1 4 0M105 535l-4 0-4-1-4 1M131 506l-4 2-4 2-3 2-3 2-2 4-3 3-1 3-2 4-1 4-3 3-2 3M128 517l3-3 4-2 3-2 3-3 2-3 2-3 3-3M117 515l4 2 3 0 4 0 4 0 4-2 4-1 4-1 4-1 3-1 4-1 4-1 4-1 4-1 4-2M121 510l-3 4-3 2-4 1-4 1-4 1-3 2-2 3-2 4-2 4-1 3M102 510l-1 4-2 3-2 4-2 3-2 4-3 2-3 2-4 2-3 2-4 0M116 511l4 1 4 1 4 0 4 1 3-1 4-1 4-2 3-2 4-2 3-1 4 1 4 0 4 1 4 1 3 3 4 2 3 2 3 3 3 2 2 4 2 3 2 1M144 513l4 1 4 2 3 2 4 1 4 1 4 1 3 3 1 1M154 498l1-4 0-4M128 512l4-1 3-3 3-2 4-2 4-1 3-2 4-2 3-2 2-4 1-2M103 512l-4 0-4 0-3-1-4-2-4 1-4 1-4 0-4 0-4 0-4 1-4 1-4 1-4 1-3 1-4 0-4 2-1 2M145 512l3 2 4 1 4 0 4 1 3 1 4 2M149 508l2-3 2-4 2-3 0-4 0-4 0-4 0-2M152 507l4 0 4 1 4 0 4 1 4 0 4 0 4 0 4 0 4-2 3-3 1-1M169 501l3-3 3-2 1-2M124 514l4 1 4-1 4-1 4-1 3-2 4-1 4-1 3-2 4-1 4-1 4-1 3-2 4-1 3-3 3-3 3-2M122 514l-2 3-2 4-1 3-2 4-1 1M105 509l-4 0-4-1-4 0-4-1-3-2-4-1-4-1-4-2-3-1-4-1-4-2-4-1-4 0-4 1-3 1-4 2-4 1-2 1M124 516l-3 3-3 3-2 3-3 2M145 512l-4-1-4 0-4 0-4 2-3 2-4 2-2 3-3 4-2 3-1 4M140 513l4 2 4 2 3 2 4 1 4 1 4-1 4-1 3-2 4-2 3-2 2-3 2-4 1-4 0-4 1-4 0-2M103 514l-3-3-2-3-4-3-3-2-3-2-4-2-3-3-2-2-3-4-2-3 0-2M140 506l0-4-1-4 0-2M141 507l-3-3-2-3-2-4-2-3-1-2M103 514l4 1 4 0 4 0 4 1 4 1 4 1 4 1 4 1 3 1 4 2 2 1M136 504l4-2 3-2 3-2 4-2 4-1 4-1 4 0M112 522l2 4 1 3 0 2M130 503l-4 0-4 0-4 0-3-3-3-2-1-4-2-2M142 510l0-4-2-3 0-4-3-3-4-1M134 527l-3 3 0 2M94 513l3 3 4 2 3 2 3 2 4 0 4 1 2 0M98 517l1-4 1-4 0-4-2-3-3-3-2-1M109 504l-1 4 0 4 1 4 1 3 3 3 1 4 2 3 0 2M105 514l-4-2-3-3-2-3-2-3 0-4M119 512l3-1 4 1 2 4 3 3 3 2 2 4 2 3M112 516l-2 4-1 4-1 4-2 3M106 527l4 2 2 3M102 520l-2 4-1 4M139 515l4-2 3-1 4-3 3-2 2-1M141 516l-2-3-2-4-3-3-2-3-4-1-4 1-4 1-4 1-4-1-4 1-1 1M120 497l-2 3-2 3-3 3-3 3-1 2M118 525l-4-1-4-1-3-2-4-2-3-2-2-4M118 523l4 0 4 1 4 1 3 2 4 2M107 504l4 2 4-1 3-1 4-2 1-4M110 497l-2 3-2 4 0 4 1 4 0 2M102 499l-4-1-1-1M126 517l2 3 4 2 2 3 3 4M113 505l-1 4 0 4 1 4 3 3 2 2 4 2 2 2M124 504l-3 2-3 3-2 3-2 4-2 3-1 4-2 4M123 516l4 1 4 2 4-1 4 1 4 1 4-1 4 0 1 1M85 508l-3-3-3 1-5-3-5 0-5 0-2 1-1-1-8-1-2-1-5 3-4-3-3-3-6 0-2-1-2-2-5-3M94 512l-6 1-3-1-6 4-4 0-2 2-6 2-4 1-2 1-5 3-5 0-2-1-4 2-6-1-2-2-4-3-3-2-2 0M149 503l3 1 5 0 3 1 4-1 6 0 4 2 4 2 1 1 5 1 4 2 5 2 3 2M140 513l5 4 3 0 2 2 5 3 3-1 5 4 4 1 5 2 3 1 1 1M96 500l-3-5-4-2-2-3-4-5 0-4-3-1M128 525l0 2 1 6 0 4 2 5 1 4-1 4-2 4-1 4-1 4" stroke="#22b4bb" stroke-width="1.5" stroke-linejoin="round"/>
<path d="M127 369h0m2-11h0m-3 2h0m-4-1h0m-8 7h0m29-7h0m-5 2h0m-3 1h0m-4 0h0m-4-2h0m-3-2h0m-20-7h0m-6-2h0m-5 2h0m-7-3h0m28 4h0m-7-1h0m49 5h0m8 5h0m-47-8h0m-3-1h0m-3-2h0m-5-1h0m38 9h0m-8 3h0m-6-2h0m-3 2h0m-3 2h0m-2 4h0m-10-8h0m-8-2h0m-3-3h0m27-1h0m-5 1h0m-12 5h0m25-6h0m0 11h0m-4 0h0m-10-2h0m-2 2h0m-6-2h0m-4 1h0m-4 0h0m34-6h0m-13 10h0m-4-14h0m5-6h0m1-4h0m-14 6h0m4 3h0m4 1h0m3 2h0m16-1h0m4-2h0m6-1h0m2-2h0m10 2h0m2 3h0m3 4h0m0 5h0m-50-8h0m-5-1h0m-6-5h0m-4-2h0m30 4h0m3-4h0m10-3h0m6 8h0m5 6h0m-52-10h0m-5-1h0m66 11h0m4-2h0m3-2h0m-5 7h0m-18-7h0m5 0h0m2-1h0m6 0h0m9 3h0m3 2h0m2 2h0m-57-6h0m5-1h0m8-4h0m12-5h0m-22 13h0m-2-8h0m15 4h0m-4 3h0m-3 4h0m-5 8h0m29-9h0m-2 1h0m-7-3h0m4 0h0m4-1h0m13-1h0m9 2h0m4-1h0m5-2h0m2-2h0m6-7h0m-78 5h0m8 0h0m9 3h0m7 1h0m14 2h0m3 0h0m5-2h0m4 1h0m-22-1h0m-3-3h0m-6-1h0m-3-1h0m-5-2h0m-2-3h0m-11 15h0m-11 7h0m55-5h0m3-2h0m3-7h0m7 2h0m-5 2h0m-16 3h0m-7 5h0m21-11h0m5-2h0m-44 6h0m3 3h0m17-9h0m0-4h0m10 4h0m-3-2h0m-11 4h0m-5 3h0m-3 8h0m-66-4h0m6 0h0m0-1h0m5-1h0m4 0h0m5 1h0m3-2h0m2-2h0m-3 63h0m3 3h0m1 11h0m3 4h0m1 4h0m1 4h0m9 18h0m3 3h0m1 5h0m1 4h0m6 10h0m7 10h0m-9-37h0m2 3h0m9 14h0m6 11h0m0 3h0m5 3h0m12-31h0m2 12h0m0 5h0m1 3h0m1 8h0m-25 8h0m4-3h0m-6 5h0m4-2h0m5-1h0m3-3h0m-2 2h0m14 2h0m5-1h0m-31 10h0m3-4h0m3-1h0m4-4h0m3-3h0m7 12h0m10-3h0m3 2h0m9-5h0m4 0h0m5 0h0m8 2h0m5 2h0m3 2h0m-72 12h0m-2-1h0m-5-2h0m-3-2h0m-3-4h0m-8-10h0m-3-2h0m-5-4h0m31 13h0m7-6h0m6-7h0m3-4h0m3-3h0m22 23h0m4 0h0m-61 27h0m-4 0h0m-3 0h0m22-23h0m-3 2h0m-2 5h0m-2 4h0m-2 4h0m-2 5h0m-3 3h0m24-18h0m2-3h0m7-5h0m5-3h0m4-7h0m-29 17h0m12 2h0m3-2h0m5-3h0m12-1h0m8-3h0m5-2h0m-43 3h0m-3 4h0m-8 3h0m-13 10h0m0 4h0m-4 3h0m9-21h0m-3 4h0m-3 5h0m-2 7h0m-5 1h0m29-18h0m4 0h0m12 1h0m4-1h0m8-3h0m3-3h0m5 0h0m21 6h0m3 3h0m4 1h0m2 4h0m5 2h0m1 6h0m-41-14h0m8 4h0m4 1h0m5 2h0m-32-10h0m4-3h0m3-2h0m8-5h0m3-1h0m7-7h0m-55 19h0m-4 0h0m-8-2h0m-5-1h0m-4 2h0m-4 0h0m-5 0h0m-5 0h0m-16 4h0m-4 1h0m-3 0h0m104-2h0m4 1h0m3-1h0m-7-7h0m4-6h0m2-14h0m-2 19h0m3 1h0m6 1h0m4 0h0m4 1h0m3 1h0m11-2h0m4 1h0m-19-8h0m3-4h0m2-2h0m-49 18h0m3 1h0m9 0h0m4-2h0m4-2h0m3-2h0m5-2h0m5 0h0m12-5h0m4-2h0m2-4h0m5-2h0m-59 21h0m-2 4h0m-3 3h0m-1 5h0m-20-18h0m-5-1h0m-3-1h0m-12-4h0m-6-2h0m-3 0h0m-11-4h0m-5 1h0m-5 2h0m-4 0h0m82 17h0m-2 3h0m-3 3h0m17-12h0m-5 2h0m-4 1h0m-6 6h0m-3 5h0m-4 6h0m27-17h0m11 7h0m4 1h0m5-1h0m8-3h0m11-7h0m4-18h0m-84 18h0m-3-4h0m-10-6h0m-6-3h0m-5-7h0m64 17h0m1 0h0m-3-3h0m-7-12h0m-24 22h0m15 3h0m4 0h0m4 2h0m4 0h0m8 2h0m-2-19h0m3-3h0m5-2h0m7-3h0m5 0h0m-47 32h0m2 5h0m15-29h0m-5 2h0m-4-1h0m-2-1h0m-5-2h0m26 2h0m-1-3h0m-5-4h0m-39 18h0m6 5h0m4 4h0m-7-5h0m2-9h0m-8-11h0m18 20h0m1 2h0m3 5h0m-17-16h0m-2-3h0m23 7h0m5-2h0m3 2h0m10 14h0m-25-10h0m0 5h0m28-7h0m8-3h0m3-3h0m4-2h0m-12 9h0m-3-3h0m-3-3h0m-4-4h0m-2-3h0m-4 2h0m-9 1h0m-2-1h0m-7 1h0m10-5h0m-3 3h0m-3 4h0m-2 3h0m8 15h0m-11-5h0m-8-4h0m28 8h0m4 2h0m-25-22h0m5 2h0m4 0h0m7-6h0m-12-3h0m-2 3h0m-2 14h0m-8-17h0m28 20h0m7 6h0m-20-18h0m-1 4h0m4 12h0m7-17h0m-3 2h0m-4 5h0m0 3h0m-7 12h0m19-9h0m3 2h0m14 1h0m-59-11h0m-13-5h0m-6 1h0m-4-1h0m-2 1h0m-3-3h0m-7 0h0m-4 2h0m-2-3h0m-6-3h0m-4 2h0m-7-7h0m66 20h0m-5 0h0m-11 3h0m-4 2h0m-7 2h0m-6 2h0m-4 2h0m-4 1h0m-11 2h0m-4-4h0m-2-1h0m-5-2h0m-2-3h0m120-14h0m3 0h0m9 0h0m9 0h0m1 4h0m14 3h0m4 4h0m-48-1h0m2 3h0m0 2h0m7 1h0m7 3h0m4 2h0m2 1h0m4 2h0m5 2h0m2 0h0m-86-36h0m-2-4h0m-3-4h0m44 39h0m1 5h0m2 4h0m-1 4h0m2 4h0m-2 16h0m-3 4h0" stroke="#22b4bb" stroke-width="2.6"/>
</g>
<g transform="scale(.5)" fill="none" stroke-linecap="round">
<path d="M699 510l-1-2 0-1 0-2 0-2-1-2 0-2 0-2 0-2 0-2 0-2-1-2 0-2 0-2 0-2-1-2 0-2-1-2-1-2M699 510l-2 1-2 0-2 1-2 1-2-1-2 1-2 0-2 0-2 0-2 0-2 0-2 1-2-1-2 1-2 0-2 0-2 0-2 0-1 0-2-1-2-1-2-1-1-2-2-1-1-2M699 510l-2 1-2 0-2 0-2 1-2 0-2 0-2 1-2 1-1 0-2 1-2 0-2 1-2 1-2 0-2 1-2 1-2 1-1 1-2 1-2 1-1 1-1 1-1 2-1 2-1 2-1 2-1 1-1 2-1 2-1 1-1 2-1 2-1 2 0 2-1 2-1 1-1 2-1 2 0 2M699 510l2 1 2 1 2 1 1 0 2 1 2 1 2 1 1 1 2 2 1 1 1 2 2 1 1 2 2 1 1 1 2 2 1 1 2 1 1 1 2 2 1 1M699 510l-1 2-1 2-1 2-1 1-1 2-1 2-1 2-1 1-1 2-1 2-1 2 0 1-1 2-1 2 0 2-1 2 0 2-1 2-1 2-1 2-1 1-1 2-1 2-1 1-1 2-1 2 0 2-1 2 0 2-1 2 0 2 0 2M699 510l-1 2-1 2 0 2-1 2-1 1 0 2 0 2-1 2 0 2-1 2 1 2 0 2 0 2 1 2 0 2 0 2 0 2 0 2 0 2 0 2 1 2 0 2 1 2 0 2 0 2M699 510l1 2 2 1 2 1 1 2 1 1 1 2 1 2 1 1 1 2 1 2 1 2 1 1 1 2 1 2 1 1 2 2 1 1 1 2 2 1 1 2 2 1 1 1 2 1 1 2 2 1 1 2 1 1M699 510l-2 1-2 0-2 1-2 1-1 1-2 1-2 1-2 0-2 1-2 0-2 1-2 0-1 1-2 0-2 1-2 0-2 1-2 0-2-1-2 0-2-1-2-1-1-1-2-1-2-1-1-2-2-1-2-1-2 0-1-1-2-1-2-1-1-1-2-1-2-1-2-1M699 510l-1-1 0-2-1-2 0-2-1-2-2-1-1-2-1-1-2-2-2-1-1-1-2-1-2-1-2 0-1-1-2-2-1-1-1-2-2-1-1-2-2-1-1-1-2-1-2-2-1-1-2-1-2-1-2 0-2-1-1-1-2-1-2 0-2-1-2 0-2-1-2 0-2 0-2 0-2 0M699 510l-2 0-2 0-2-1-2 0-2 0-2 0-2-1-2 0-2-1-2 0-2 0-2-1-1-1-2-1-2-1-1-1-2-1-1-2-2-1-1-2-2-1-1-1-2-1-2-1-2-1-1-1-2 0-2 0-2 0-2 0M699 510l2 1 2 0 2 1 2 0 2 0 2 1 2 0 2 0 2 0 2 0 2 0 2 0 1-1 2-1 2-1 2 0 2 0 2-1 2 0 2-1 2 0 2 0 2 0 2 0 2-1 2 0 2-1 2-1 2 0 2 0 2-1 1 0 2-1 2-1 2 0 2 0 2-1M699 510l-1-1-2-2-1-1-2-1-1-1-2-2-1-1-1-2-2-1-1-2-1-1-1-2-2-2 0-1-1-2-1-2-1-2 0-2-1-2 0-2 0-2 0-2 0-2 0-2 0-2 0-2 1-2 1-1 1-2M699 510l2 0 2-1 2 0 2-1 2 0 2 0 2 0 2-1 2 0 2 0 2 0 2 1 2 0 1-1 2 0 2 0 2 0 2 1 2 1 2 1 1 1 2 1 2-1 2 0 2 0 2 1 2 0 2 0 2 0 2 0 2-1 2 0 2 0 2 0M699 510l-2-1-1-1-2-1-2-1-1-1-2-2-1-1-2-1-2-1-1-1-2-1-2-1-1-1-2-1-2-1-2-1-2 0-2-1-2-1-1 0-2-1-2 0-2 0-2 0-2 0-2 0-2-1-2 0-2-1-2 0-2 0-2-1M699 510l2 0 2 1 2 0 2 0 2 1 2 0 2 1 1 1 2 0 2 1 2 0 2-1 2 0 2 1 2-1 2 0 2 0 2-1 2 0 2 0 2-1 2 0 2-1 2 0 2-1 2-1 2 0 2-1 1 0 2-1 2-1 2 0 2-1 1-1 2-1 2-1 2 0 2 0 2 0M699 510l1 2 2 1 2 1 1 1 2 1 2 1 2 1 2 0 2 0 2 0 2-1 2 0 2 0 2 0 2 0 2 0 2 0 2 0 2 1 2 1 2 0 1 0M699 510l1 2 2 1 1 2 1 1 2 2 1 2 1 1 1 2 1 2 1 1 2 2 1 1 2 1 2 1 2 0 2 1 1 1 2 0 2 1 2 0 2-1M699 510l-2 1-2 1-2 0-2 1-2 0-1 1-2 0-2 0-2 0-2 0-2-1-2 0-2 0-2 0-2 0-2-1-2 0-2 0M699 510l1-1 1-2 1-2 0-2 1-2 0-2 0-2 1-2 0-2 0-2-1-2 1-2 0-2 1-1 1-2 1-2 1-1 1-2 1-2 2-1 1-2 1-1 2-2 1-1 1-2 2-1 1-1 1-2 2-2 0-1 1-2 1-2M699 510l2 0 2-1 2-1 2 0 2-1 2 0 2 0 1 1 2 0 2 0 2 1 2 0 2 0 2 1 2 1 2 0 2 0 2 1 2 1 2 0 1 1 2 1 2 0 2 0 2 0 2 1 2 0 2 1M699 510l2 0 2 0 2 0 2 0 2 0 2 0 2 0 2 0 2 0 2 1 2 1 1 0 2 1 2 0 2 0 2 0 2 0 2 0 2-1 2 0 2-1 2-1 1-1 2-1 2-1 2 0 2-1 1-1 2-1 2-1 1-2 2-1 1-1 2-2 1-1 1-2 2-1 2-1M699 510l-1-1 0-2-1-2 0-2-1-2 0-2 0-2 0-2-1-2 0-2 0-2-1-2 1-2 0-2 0-2 0-2 0-2 0-2 1-2 1-2 0-2 0-2 1-2 0-2 0-2 1-2 0-1 0-2 0-2 0-2 0-2 0-2 0-2 0-2 0-2 1-2M699 510l2 1 2 0 2 0 2 0 2 0 2-1 2 0 2-1 2-1 1-1 2-1 1-2 2-1 1-2 2-1 1-1 2-1 1-2 1-2 1-1 1-2 1-2 1-2M699 510l2 0 2 0 2 0 2-1 2 0 2 0 2 1 2-1 2 1 2 0 2 0 2 0 2 0 2 1 2 0 2 0 2 0 2 0 2 0 2 0 2 0 2 1 1 1 2 1 2 0 2 1 2 0 2 0 2 0 2 0 2 0 2 1 2 0 2 1 2 0 2 1 2 0 1 1 2 2M699 510l2 0 2-1 2 0 2-1 2 0 2-1 1 0 2-1 2 0 2-1 2 0 2-1 2-1 2 0 2-1 2 0 2 0 2-1 1-1M699 510l-1-1-1-2-2-1-1-2 0-2-1-2-1-1-1-2-2-2-1-1-2-1-1-2-2-1-1-1-2-1-2-1-2-1-2-1-1 0-2-1-2-1-2-1-2 0-1-1-2-1-2-1-2-1-2 0" stroke="#555" stroke-width="0.8" stroke-linejoin="round"/>
<defs><path id="p101" d="M731 371h0m-93-8h0m111-5h0m-49 73h0m-5 26h0m-53 15h0m13-8h0m5 1h0m6 5h0m15 0h0m16-1h0m-11 88h0m-2 27h0m1-27h0m-1 8h0"/></defs>
<use href="#p101" stroke="#941694" stroke-width="4.9"/>
<use href="#p101" stroke="#d420d4" stroke-width="4.2"/>
<defs><path id="p102" d="M692 530h0"/></defs>
<use href="#p102" stroke="#a59713" stroke-width="4.9"/>
<use href="#p102" stroke="#ecd81c" stroke-width="4.2"/>
<defs><path id="p103" d="M595 474h0m101-11h0m0 14h0"/></defs>
<use href="#p103" stroke="#a27ba2" stroke-width="4.9"/>
<use href="#p103" stroke="#e8b0e8" stroke-width="4.2"/>
<defs><path id="p104" d="M717 371h0m20-7h0m-28-2h0m-29-7h0m39 11h0m-9 24h0m-9 39h0m-36-26h0m-96 78h0m22-6h0m21-3h0m35-13h0m32 15h0m18 4h0m5 3h0m13 12h0m-28 62h0m6-28h0m-10 40h0"/></defs>
<use href="#p104" stroke="#2a939f" stroke-width="4.9"/>
<use href="#p104" stroke="#3cd2e4" stroke-width="4.2"/>
<defs><path id="p105" d="M743 367h0m9 2h0m5-2h0m7-3h0m4-3h0m-13 10h0m8-6h0m-29 1h0m9 6h0m8 9h0m-9-2h0m-8-11h0m3-5h0m9 9h0m0 2h0m-3 5h0m-5 0h0m-5-11h0m8-11h0m3 9h0m8 7h0m-21-12h0m-4 1h0m10 0h0m20 6h0m0 18h0m-15-15h0m-5 0h0m-2-1h0m-6-11h0m27 12h0m0-9h0m-46 7h0m-3 1h0m-2-1h0m-5-1h0m-2-2h0m37 0h0m-3 7h0m-3 4h0m21-14h0m3 1h0m-38 6h0m23-3h0m-7 3h0m-9 5h0m-3 1h0m-4-1h0m7-9h0m-5-3h0m28 7h0m4 4h0m1 5h0m-30-10h0m17 4h0m24 0h0m-33-3h0m1 3h0m14-12h0m4 9h0m-7-11h0m-2-4h0m-111 17h0m15-10h0m14-8h0m9-1h0m1 1h0m8-1h0m4 2h0m5 0h0m8 7h0m6 5h0m17 2h0m9-4h0m-95 8h0m1-4h0m32-15h0m4-1h0m23 6h0m3 2h0m10 8h0m16-4h0m-73-2h0m13-3h0m2 2h0m19 1h0m7 3h0m0 2h0m6 1h0m4 2h0m8 5h0m3 1h0m-34-27h0m7-2h0m16 5h0m7 4h0m5 1h0m3 0h0m5 0h0m-8 16h0m0 3h0m2 1h0m1 2h0m3 3h0m1 1h0m47-33h0m-54 44h0m-10 21h0m1 3h0m0 4h0m1 14h0m0 24h0m-1 14h0m-2-58h0m7 25h0m0 5h0m0 4h0m-1 5h0m0 4h0m0 0h0m-2 8h0m-2-51h0m-2 2h0m4 7h0m-4 19h0m0 6h0m-84-21h0m14-10h0m1 0h0m9-3h0m12-6h0m2-1h0m5-1h0m9-4h0m12-2h0m3-1h0m2 0h0m5 0h0m3 1h0m2 0h0m3 2h0m-72 20h0m7-6h0m10-4h0m14-6h0m18-6h0m6 0h0m10 0h0m-18 8h0m0 12h0m18 17h0m-1 3h0m0 16h0m0 2h0"/></defs>
<use href="#p105" stroke="#8c2f2f" stroke-width="4.9"/>
<use href="#p105" stroke="#c84444" stroke-width="4.2"/>
<defs><path id="p106" d="M766 363h0m-26 16h0m-7-26h0m16 12h0m-9 6h0m-7-2h0m-16 7h0m33 0h0m-5-3h0m-24-3h0m18-13h0m-108 13h0m7-6h0m26-11h0m7 0h0m22 9h0m-58 2h0m12-2h0m42 5h0m11 6h0m5 2h0m5 2h0m-44-30h0m34 93h0m0 14h0m12-65h0m-7 8h0m-71 22h0m11-6h0m14-5h0m25-6h0m-122 83h0m3-1h0m7-3h0m2 0h0m46-9h0m20-1h0m4 0h0m3 0h0m2 0h0m5-1h0m9 0h0m-24-15h0m2 1h0m23 12h0m5 2h0m17 8h0m21-21h0m-33 16h0m9-4h0m18-1h0m2 4h0m-1-4h0m-16 5h0m-5 0h0m9 0h0m-20 4h0m17-1h0m4-1h0m-11-18h0m6 10h0m-10 4h0m13 3h0m2 2h0"/></defs>
<use href="#p106" stroke="#219821" stroke-width="4.9"/>
<use href="#p106" stroke="#30da30" stroke-width="4.2"/>
<defs><path id="p107" d="M716 372h0m6-2h0m29-7h0m-10 6h0m-89-14h0m30 10h0m21 71h0m0 2h0m-106 35h0m60-2h0m3 0h0m47 0h0m2 16h0m2 1h0m-23 57h0m-1 5h0m6-21h0m-2 4h0m-2 7h0m-2 5h0m0 2h0"/></defs>
<use href="#p107" stroke="#2a939f" stroke-width="4.9"/>
<use href="#p107" stroke="#3cd2e4" stroke-width="4.2"/>
<defs><path id="p108" d="M760 362h0m-48-1h0m16 14h0m24-15h0m-53 89h0m-1-37h0m6 42h0m-3-46h0m-52 3h0m40 66h0m14-17h0m-27 7h0m2 9h0m11 6h0m-3-12h0m26 20h0m-19 38h0m-5 20h0m-5 24h0m0 5h0m8-46h0m-2 12h0m-3 7h0m-1 10h0m0 12h0m-1 2h0m-1 10h0"/></defs>
<use href="#p108" stroke="#941694" stroke-width="4.9"/>
<use href="#p108" stroke="#d420d4" stroke-width="4.2"/>
<defs><path id="p109" d="M750 370h0m11-6h0m-27 2h0m4 6h0m9-1h0m12-3h0m-18 2h0m4 3h0m1 3h0m-2 1h0m-6 2h0m0-20h0m3 21h0m-6-4h0m-1-13h0m12 2h0m-2-4h0m-4 3h0m10 8h0m3 4h0m3-12h0m-22-2h0m5 1h0m3 0h0m10 4h0m8 5h0m1 7h0m-31-17h0m24 11h0m1-16h0m-23 16h0m-2 0h0m17-10h0m-1-5h0m-2-2h0m-7 8h0m-3 4h0m-3 7h0m12-11h0m20-6h0m-16 5h0m-23 10h0m-17-10h0m8-1h0m-5-2h0m33 5h0m8 16h0m-17-8h0m13 0h0m8 2h0m5-1h0m-31 2h0m17-17h0m-4 9h0m1-13h0m-13 21h0m2 2h0m3 4h0m3 4h0m10-21h0m-2 4h0m3-5h0m11 3h0m-19-9h0m-115 16h0m3-3h0m9-6h0m5-4h0m2-2h0m9-4h0m15-2h0m14 4h0m19 12h0m2 0h0m12-2h0m-88 4h0m23-15h0m5-1h0m8-1h0m6 0h0m10 2h0m2 0h0m5 1h0m26 11h0m-1-3h0m2-1h0m-55-5h0m4 2h0m17 2h0m7 4h0m-29-16h0m16-4h0m1 2h0m6 1h0m5 2h0m4 1h0m1-3h0m5 5h0m2 2h0m5 1h0m2 0h0m6-1h0m-9 11h0m4 8h0m5 6h0m31-23h0m8-3h0m8-3h0m1 0h0m5-3h0m-60 49h0m0 2h0m-1 3h0m-5 10h0m0 56h0m-1 3h0m11-81h0m-1 2h0m-1 2h0m-4 11h0m-6 12h0m5 13h0m2 13h0m-3 20h0m-1 10h0m12-83h0m-3 2h0m-8 12h0m2 4h0m-2 1h0m-3 4h0m0 8h0m2 1h0m2 7h0m0 4h0m-1 2h0m-6 18h0m0 7h0m1 4h0m0 5h0m-80-43h0m2-2h0m1 1h0m7-7h0m14-6h0m2-2h0m5 0h0m4-4h0m-39 22h0m11-7h0m9-4h0m5-1h0m8-5h0m13-6h0m6-2h0m0-2h0m26 0h0m2 1h0m-21 9h0m46 9h0m-31 28h0m1 5h0"/></defs>
<use href="#p109" stroke="#8c2f2f" stroke-width="4.9"/>
<use href="#p109" stroke="#c84444" stroke-width="4.2"/>
<defs><path id="p110" d="M738 361h0m-5-3h0m21 6h0m-41-3h0m37 8h0m-92-14h0m10-2h0m-4-2h0m56 9h0m-21 61h0m1 27h0m13-64h0m-14 42h0m-86 2h0m73 20h0m-105 30h0m20-5h0m9-1h0m22 1h0m4-2h0m1 1h0m6-15h0m8 4h0m11 6h0m30-1h0m5-2h0m14-4h0m-10 1h0m4-3h0m-28 14h0m26 3h0m-11-14h0m13 8h0m-9 1h0m-3 1h0m-2 1h0m-3 1h0m-13 1h0m5 2h0m15-6h0m-10 8h0m6-6h0m-9-13h0m11 23h0m3-10h0m-1 8h0m-7-24h0m-1-2h0m15 7h0m-14 7h0m24 24h0"/></defs>
<use href="#p110" stroke="#219821" stroke-width="4.9"/>
<use href="#p110" stroke="#30da30" stroke-width="4.2"/>
<defs><path id="p111" d="M693 469h0m-9 17h0m12-9h0m-4 2h0"/></defs>
<use href="#p111" stroke="#a27ba2" stroke-width="4.9"/>
<use href="#p111" stroke="#e8b0e8" stroke-width="4.2"/>
<defs><path id="p112" d="M679 455h0m15 27h0"/></defs>
<use href="#p112" stroke="#a27ba2" stroke-width="4.9"/>
<use href="#p112" stroke="#e8b0e8" stroke-width="4.2"/>
<defs><path id="p113" d="M748 377h0m-19-3h0m-60-25h0m14 3h0m16 118h0m3-70h0m-5 5h0m-118 75h0m57-24h0m9 2h0m4 2h0m45 5h0m-11 16h0m-2 2h0m6 69h0m-2 7h0m-2 5h0m0 10h0m1 5h0m0 3h0m2-30h0m0 3h0m-4 21h0"/></defs>
<use href="#p113" stroke="#941694" stroke-width="4.9"/>
<use href="#p113" stroke="#d420d4" stroke-width="4.2"/>
<defs><path id="p114" d="M692 533h0m-2 2h0m-1 3h0"/></defs>
<use href="#p114" stroke="#a59713" stroke-width="4.9"/>
<use href="#p114" stroke="#ecd81c" stroke-width="4.2"/>
<defs><path id="p115" d="M740 357h0m2 8h0m-13-3h0m32 12h0m-12 1h0m-24-7h0m17-4h0m-15 4h0m39-1h0m-23-1h0m0-18h0m-7 4h0m-113 26h0m77-11h0m14 0h0m-52-13h0m28 7h0m76-11h0m-71 123h0m-75-48h0m11-6h0m21-9h0m-34 17h0m1-2h0m5-4h0m9-2h0m88-7h0m-7 12h0m-147 59h0m9-3h0m31-7h0m20-1h0m25-2h0m6 1h0m0-7h0m41-1h0m-8 1h0m7-2h0m-7 12h0m0 8h0m0-12h0m-3 0h0m-10-1h0m-4-4h0m28 5h0m-13-10h0m11 7h0m-23 8h0m21-6h0m-25 5h0m20-3h0m-10 4h0m-8 1h0m25-8h0m-9 5h0m-2 2h0m2 5h0m5-16h0m-3 0h0m-5-1h0m2 3h0m0-5h0m-1-3h0m-3-7h0m-1 17h0m8 13h0"/></defs>
<use href="#p115" stroke="#219821" stroke-width="4.9"/>
<use href="#p115" stroke="#30da30" stroke-width="4.2"/>
<defs><path id="p116" d="M743 354h0m-1 18h0m-36-5h0m-45-6h0m41 13h0m2 27h0m-7 76h0m-114 0h0m20-3h0m2-1h0m17-1h0m3 0h0m9 0h0m23-3h0m44-8h0m-21 25h0m30-30h0m-31 15h0m6-2h0m1 6h0m-2-14h0m4 11h0m18 14h0m13 10h0m2 1h0m6 3h0m4 3h0m-41 34h0m-1 2h0m-6 28h0"/></defs>
<use href="#p116" stroke="#2a939f" stroke-width="4.9"/>
<use href="#p116" stroke="#3cd2e4" stroke-width="4.2"/>
<defs><path id="p117" d="M759 365h0m-23 5h0m3 4h0m0 8h0m3-11h0m19-4h0m-24 0h0m9 8h0m4 4h0m-9 3h0m-8-12h0m2-4h0m10 11h0m-8 1h0m-3-5h0m-1-2h0m0-10h0m-1 1h0m5 1h0m9 5h0m-13-6h0m18 2h0m-7 0h0m3 1h0m2 1h0m11 16h0m-2 2h0m-13-12h0m12-3h0m1-2h0m-1-3h0m-22 10h0m-8-2h0m-5 0h0m-7-2h0m-3-1h0m38-1h0m-2-2h0m-2-5h0m-3-9h0m-13 14h0m10-2h0m5-1h0m10 1h0m-36 12h0m-2-2h0m-4-6h0m31-5h0m-11 6h0m-7 3h0m10 1h0m-28-12h0m-3 0h0m48 22h0m2 2h0m-26-15h0m-2-1h0m-5 1h0m28 4h0m13-3h0m-29-9h0m-3 4h0m14-5h0m-2 2h0m0-5h0m0-8h0m6 12h0m-13 22h0m11-17h0m10 0h0m-16-6h0m-110 7h0m5-2h0m2-3h0m11-7h0m38 4h0m2 2h0m6 1h0m1 2h0m10 3h0m13-1h0m2 0h0m-97 12h0m1-2h0m2-2h0m3-6h0m2-1h0m2-2h0m7-6h0m2 0h0m2 0h0m4-3h0m4-2h0m20-2h0m4 2h0m7 1h0m15 12h0m3 1h0m2 0h0m7-2h0m-59-6h0m1 1h0m13-2h0m4 0h0m2 3h0m34 15h0m-46-28h0m2 1h0m2-2h0m4-2h0m5 0h0m11 3h0m29 8h0m5 0h0m-15 12h0m3 3h0m38-15h0m3 1h0m5-4h0m-38 31h0m-1 3h0m-2 4h0m-2 1h0m-8 12h0m0 2h0m-3 23h0m2 11h0m0 3h0m0 7h0m-2 4h0m1 2h0m-1 7h0m0 2h0m6-68h0m-3 5h0m-2 20h0m5 16h0m5-49h0m-2 5h0m-4 2h0m0 4h0m-3 38h0m-1 2h0m-4 10h0m-35-45h0m2-1h0m6 1h0m2-1h0m2-2h0m2-1h0m9-1h0m1-1h0m-47 15h0m5-1h0m5-2h0m4-3h0m4-2h0m20-4h0m7-3h0m11 5h0m3 0h0m-28 9h0m1 5h0m42 8h0m-26 25h0"/></defs>
<use href="#p117" stroke="#8c2f2f" stroke-width="4.9"/>
<use href="#p117" stroke="#c84444" stroke-width="4.2"/>
<defs><path id="p118" d="M745 368h0m2 1h0m26-10h0m-38 9h0m15 4h0m7-2h0m-25-6h0m7 4h0m-6-2h0m13 2h0m0-5h0m-11-1h0m13 8h0m-12-7h0m2 1h0m3 0h0m2 0h0m3 0h0m13 6h0m2 7h0m-29-11h0m-1-2h0m15 12h0m5-2h0m2-19h0m-29 17h0m9-1h0m-5 8h0m-1-12h0m6-1h0m2-2h0m13-1h0m10 0h0m4-3h0m-22 5h0m-11 6h0m4 1h0m-4-3h0m-5-3h0m20 2h0m3 4h0m-23-3h0m-4 3h0m-3 1h0m-2 1h0m12-2h0m5 2h0m7-2h0m13 3h0m5 0h0m7-7h0m-32-4h0m-3 4h0m0 10h0m14-25h0m-18 20h0m25-13h0m0 2h0m2 6h0m3 0h0m-18-7h0m2-2h0m2 5h0m-107 4h0m6-7h0m7-4h0m14-3h0m48 13h0m4 2h0m-74-7h0m8-4h0m26-3h0m18 8h0m2 1h0m2 1h0m3 1h0m10 1h0m13-2h0m-68-1h0m2-2h0m18 0h0m2-2h0m8 7h0m10 3h0m4 2h0m11 5h0m3 2h0m-53-26h0m12-2h0m7-2h0m11 4h0m4-1h0m8 6h0m4 14h0m36-11h0m15-6h0m1-2h0m-44 38h0m-6 6h0m-5 14h0m-3 15h0m0 2h0m1 5h0m-1 2h0m0 28h0m13-76h0m-9 15h0m-2 6h0m0 2h0m-3 4h0m1 8h0m5 11h0m1 16h0m-2 9h0m-1 5h0m-3 10h0m16-88h0m-2 5h0m-10 14h0m-4 9h0m-3 8h0m5 12h0m-3 11h0m-1 4h0m-1 12h0m0 4h0m-74-41h0m2-2h0m6-3h0m28-10h0m9-2h0m-52 20h0m2 1h0m11-6h0m14-7h0m20-8h0m7-3h0m4 1h0m7-2h0m42 13h0m-2 1h0m-2 4h0m-4 6h0m-27 19h0m-1 12h0"/></defs>
<use href="#p118" stroke="#8c2f2f" stroke-width="4.9"/>
<use href="#p118" stroke="#c84444" stroke-width="4.2"/>
<defs><path id="p119" d="M755 368h0m-10 3h0m7 1h0m-20-10h0m22 5h0m2-8h0m-54 10h0m34-1h0m6-5h0m-19 9h0m11 7h0m15-16h0m-8 4h0m-116 10h0m34-22h0m17-2h0m9 5h0m-10-5h0m-26 8h0m50 52h0m-5 56h0m-81-42h0m24-12h0m7-3h0m49-9h0m-107 74h0m2-1h0m11-2h0m66-4h0m39-10h0m-20 19h0m9-16h0m-2 13h0m0 3h0m-11-9h0m-8-6h0m22-2h0m4 3h0m-15 8h0m5 1h0m9-5h0m-4 2h0m-8 10h0m-1 2h0m7-6h0m-3 7h0m-2 2h0m13-22h0m-5 15h0m2-4h0m-6-12h0m10-1h0m5-2h0m2-1h0m-24 8h0m-2 1h0m-3 1h0m-4 3h0m30 14h0"/></defs>
<use href="#p119" stroke="#219821" stroke-width="4.9"/>
<use href="#p119" stroke="#30da30" stroke-width="4.2"/>
<defs><path id="p120" d="M770 360h0m-30 17h0m-5 2h0m-16-7h0m19 2h0m-18-9h0m-9 2h0m-77-3h0m34-5h0m8 4h0m23 66h0m-31-12h0m55-6h0m-4 7h0m-104 54h0m38-10h0m39 63h0m-8 37h0m0 7h0m1-7h0m-1 7h0m-1 12h0m-5-79h0m14 42h0"/></defs>
<use href="#p120" stroke="#941694" stroke-width="4.9"/>
<use href="#p120" stroke="#d420d4" stroke-width="4.2"/>
<defs><path id="p121" d="M733 355h0m9 4h0m-13 1h0m11 15h0m-15-4h0m-12 17h0m-56 19h0m-40 65h0m13-1h0m76-12h0m3 0h0m5 1h0m-18 3h0m-18 11h0m-5 3h0m18-13h0m-5-2h0m13 17h0m1 2h0m3 2h0m14 11h0m7 4h0m2 2h0m3 1h0m-39 33h0m-7 45h0"/></defs>
<use href="#p121" stroke="#2a939f" stroke-width="4.9"/>
<use href="#p121" stroke="#3cd2e4" stroke-width="4.2"/>
<defs><path id="p122" d="M593 475h0m107 49h0m-12 8h0"/></defs>
<use href="#p122" stroke="#a27ba2" stroke-width="4.9"/>
<use href="#p122" stroke="#e8b0e8" stroke-width="4.2"/>
<defs><path id="p123" d="M689 541h0m-1 2h0m-16-29h0m40 2h0m8 16h0"/></defs>
<use href="#p123" stroke="#a59713" stroke-width="4.9"/>
<use href="#p123" stroke="#ecd81c" stroke-width="4.2"/>
</g>
<g transform="scale(.5)" fill="none" stroke-linecap="round">
<defs><path id="p124" d="M909 381h0m-1 2h0m21-13h0m5-6h0m-19 12h0m-25-1h0m-1 3h0m27-4h0m-3-4h0m-26 4h0m-11 5h0m16-6h0m15-6h0m-14 26h0m-3 10h0m26 36h0m-22 39h0m-10 1h0m-13 1h0m-3 0h0m-8 0h0m-7-2h0m34 3h0m18-4h0m-1-5h0m1-7h0m12 26h0m7-2h0m-40-10h0m-8-3h0m-2 0h0m23 8h0m-21-9h0m-4-3h0m-4 1h0m42 15h0m-24-11h0m-21 2h0m32 18h0m-5 1h0m-7 4h0m17-2h0m25-30h0m-3 13h0m1-3h0m8-13h0m8 6h0m-16 12h0m9-13h0m-30 9h0m-3-12h0m0-11h0m5 19h0m1-2h0m-13 2h0m-9 9h0m9-4h0m-1 5h0m-1 3h0m-10-7h0m5-5h0m-10 7h0m-17-12h0m22-9h0m34 19h0m25-3h0m-58 2h0m54 10h0m8-3h0m-47 18h0m2-33h0m4-2h0m-8-10h0m-2-2h0m21 28h0m-2-1h0m-21-16h0m-6-5h0m-2-1h0m12 5h0m7-4h0m9 11h0m-12-4h0m-30 15h0m4 2h0m-7-12h0m8-5h0m39 1h0m-44 2h0m0-6h0m38 22h0m25-4h0m0 3h0m-54-6h0m-41-32h0m12 7h0m32 24h0m-2-18h0m-7-30h0m21 71h0m25-11h0m8 7h0m-78-13h0m-13-8h0m40 16h0m0 1h0"/></defs>
<use href="#p124" stroke="#219821" stroke-width="4.9"/>
<use href="#p124" stroke="#30da30" stroke-width="4.2"/>
<defs><path id="p125" d="M895 505h0m-7 4h0m14 1h0m4 2h0m-46 14h0m-9 9h0m34-35h0m-20 20h0m8-5h0m7 12h0m-1 16h0m-8 19h0m14-42h0m8 14h0m36-6h0"/></defs>
<use href="#p125" stroke="#a59713" stroke-width="4.9"/>
<use href="#p125" stroke="#ecd81c" stroke-width="4.2"/>
<defs><path id="p126" d="M887 373h0m6 9h0m2 5h0m2-18h0m-5-3h0m3 21h0m-1-6h0m2 5h0m-11-7h0m-10-7h0m12-6h0m12-5h0m-18 18h0m2-10h0m1-2h0m3-4h0m5-2h0m2 15h0m9-6h0m-12-5h0m10 2h0m5 6h0m2 7h0m-3 10h0m2-4h0m17-10h0m3-4h0m3-4h0m2-2h0m-25 7h0m9 9h0m-35-5h0m9-13h0m0-2h0m4 10h0m-2-5h0m-1-2h0m-5 3h0m-6-5h0m5-2h0m-1 1h0m1-3h0m25 22h0m-17-10h0m7-1h0m10 3h0m3 1h0m4 3h0m-19-2h0m-5 2h0m18-2h0m3 4h0m-14-6h0m-5-5h0m17-5h0m-13 9h0m-18-5h0m-1-2h0m18 15h0m17-12h0m-20 8h0m3-4h0m11-6h0m-4 19h0m18 1h0m-42-11h0m3 1h0m7 3h0m5-1h0m5-1h0m13-1h0m9-5h0m20-4h0m-13 9h0m-35-7h0m8-1h0m25 9h0m7-2h0m-35-9h0m5 1h0m12 9h0m20 0h0m-18-3h0m16-2h0m2-5h0m2 8h0m-35-4h0m-3-4h0m-16 8h0m-5 2h0m-7 7h0m-2 2h0m-3 6h0m0-15h0m71-5h0m-54 14h0m2 7h0m40-20h0m8 0h0m-37-6h0m-2-5h0m38 13h0m-2 2h0m-4 3h0m-1 3h0m-30 0h0m-15-5h0m10 15h0m21-27h0m-5 0h0m-14 7h0m-9 20h0m7-6h0m41-14h0m-50-4h0m-4-3h0m-3-4h0m2 4h0m-5-2h0m-2 1h0m-6 5h0m64 16h0m1 2h0m-16-3h0m13-18h0m-57 9h0m-39-26h0m18 10h0m1 1h0m7 3h0m88 4h0m2 1h0m7 2h0m8 1h0m12 3h0"/></defs>
<use href="#p126" stroke="#8c2f2f" stroke-width="4.9"/>
<use href="#p126" stroke="#c84444" stroke-width="4.2"/>
<defs><path id="p127" d="M881 419h0m45 6h0m-38-4h0m-4 87h0m41-7h0m-26-3h0m-6 5h0m-40-3h0m3 35h0m82-9h0m-44-5h0m-18 14h0m3 5h0m28-3h0"/></defs>
<use href="#p127" stroke="#941694" stroke-width="4.9"/>
<use href="#p127" stroke="#d420d4" stroke-width="4.2"/>
<defs><path id="p128" d="M891 365h0m-16 5h0m47 9h0m-16-11h0m-7 10h0m40-4h0m-24 11h0m14-4h0m-28-10h0m-3 0h0m-33 9h0m21 133h0m-26-33h0m44 15h0m5 2h0m-23 6h0m6-45h0m-25 22h0m41 17h0m-54 21h0m24-8h0m3 19h0"/></defs>
<use href="#p128" stroke="#a27ba2" stroke-width="4.9"/>
<use href="#p128" stroke="#e8b0e8" stroke-width="4.2"/>
<defs><path id="p129" d="M895 367h0m-6-1h0m26 15h0m-40-14h0m21 7h0m17-11h0m-15 15h0m-19-3h0m37-4h0m4-1h0m-51 17h0m21-16h0m-16 12h0m9 2h0m13 8h0m-40-31h0m30 47h0m-15 27h0m45 8h0m10-49h0m6-5h0m1 28h0m20 24h0m-64 62h0m7-2h0m31-13h0m-43-7h0m15-3h0m-16 25h0m19-9h0m0 3h0m32-36h0m-55 40h0m-2 2h0m-1 2h0m50-25h0m9-5h0m-47 18h0m-1 7h0m-5-2h0m-2 5h0m-1 5h0m15-29h0m-2 15h0m-2 5h0m3-2h0m7-10h0m7 19h0m-27-26h0m10 2h0m4 17h0m-8 7h0m-22 0h0m-5-1h0m21-21h0m3 0h0m1-13h0m5 26h0m2-1h0m14 14h0m2 0h0m14-7h0m6-5h0m-37-3h0m3 5h0m11 10h0m-10-52h0m16 27h0m-39-9h0m-4 3h0m48 14h0m-40 21h0m-7 3h0m-8 7h0m60-17h0m-2 1h0m-57 4h0m40-6h0m-19 8h0m-8 2h0m-2 0h0m-29-6h0m-2-2h0m29 9h0m-6 4h0m12-12h0m-2 1h0m-4 4h0m-11 10h0m62-27h0m17 31h0m-71-8h0m-6 8h0m-3 10h0m-2 7h0m0 3h0m43-49h0m-5 1h0m-3 1h0m-22-6h0m-18-5h0m-4-2h0m44 32h0m8 2h0m5 2h0m15 3h0m-3 18h0m4 3h0m-47-5h0m2 8h0m-2 5h0m3-61h0m2 8h0m3 7h0m3 4h0"/></defs>
<use href="#p129" stroke="#2a939f" stroke-width="4.9"/>
<use href="#p129" stroke="#3cd2e4" stroke-width="4.2"/>
<defs><path id="p130" d="M879 390h0m0 3h0m-1 7h0m0 3h0m0 3h0m0 5h0m6-16h0m-1 11h0m2 12h0m-6 5h0m-4 7h0m-5 9h0m35-49h0m1 13h0m8 27h0m1 3h0m-3-30h0m0 2h0m1 3h0m1 2h0m1 5h0m0 3h0m0 2h0m2-27h0m2 7h0m7 22h0m1 6h0m1 2h0m0 2h0m2 6h0m3 12h0m3 7h0m1 3h0m-12-55h0m0 6h0m0 5h0m-1 2h0m0 3h0m3 31h0m5-49h0m1 23h0m-2 13h0m7-41h0m-2 5h0m-8 19h0m-2 7h0m-2 18h0m-1 6h0m21-53h0m2 21h0m1 18h0m-23-29h0m25 21h0m-28 59h0m-20-29h0m-17 23h0m-9 0h0m15-14h0m-48-14h0"/></defs>
<use href="#p130" stroke="#941a1a" stroke-width="4.9"/>
<use href="#p130" stroke="#d42626" stroke-width="4.2"/>
<defs><path id="p131" d="M883 377h0m10-14h0m-5 16h0m-11-5h0m22 5h0m-12-1h0m6 12h0m-10 100h0m12 5h0m2-9h0m4-6h0m3-10h0m18 20h0m-36-10h0m18 2h0m-10 2h0m-7-1h0m-4-3h0m29 10h0m-29-13h0m-5 0h0m-10 1h0m53 9h0m1-2h0m3-7h0m1-3h0m4-4h0m3 1h0m3 0h0m-4 2h0m-31-8h0m8 4h0m2-5h0m-29 33h0m36-11h0m15-10h0m5-2h0m-46 4h0m-5 5h0m-3 5h0m-9-11h0m16 12h0m-17 20h0m-12-35h0m34 4h0m-1-2h0m-6-5h0m35 12h0m15-3h0m-57 6h0m1-7h0m22-6h0m-15-17h0m-2-2h0m13 12h0m16 12h0m-2-1h0m-8-2h0m-12-4h0m-2 0h0m-25 17h0m38 11h0m-39-25h0m9-4h0m17 11h0m35 4h0m-5 6h0m-40 0h0m-6-11h0m-9-10h0m-24-14h0m71 52h0m-31-18h0m-2-5h0m-1-7h0m0-6h0m-1-2h0m-3-18h0m-2-7h0m37 28h0m4 10h0m0 2h0m-62 6h0m-12-6h0m-1-2h0"/></defs>
<use href="#p131" stroke="#219821" stroke-width="4.9"/>
<use href="#p131" stroke="#30da30" stroke-width="4.2"/>
<defs><path id="p132" d="M878 416h0m6-18h0m-1 10h0m1 5h0m3-6h0m-3 7h0m-1 2h0m-15 25h0m-1 2h0m38-50h0m5 28h0m0-28h0m1 5h0m5 30h0m0 18h0m0 6h0m0-62h0m7 22h0m1 5h0m1 3h0m5 20h0m-3-50h0m-2 23h0m-1 11h0m1 5h0m2 15h0m5-49h0m0 5h0m1 24h0m2-19h0m-2 5h0m-5 14h0m-1 3h0m-2 10h0m-1 3h0m0 2h0m0 3h0m19-52h0m3 18h0m0 18h0m1 13h0m3 10h0m-2-23h0m6 11h0m-62-21h0m-5 4h0m-11 5h0m-2 2h0m-4 4h0m-6 5h0m12 41h0m10 3h0m10 5h0m18 4h0m-7-8h0m-34-7h0m13-10h0m-38-8h0m11 4h0m4 3h0m12-23h0"/></defs>
<use href="#p132" stroke="#941a1a" stroke-width="4.9"/>
<use href="#p132" stroke="#d42626" stroke-width="4.2"/>
<defs><path id="p133" d="M892 505h0m-4 4h0m8-1h0m-1 5h0m-3-13h0m16 0h0m12-7h0m-43 21h0m-4 3h0m-14 11h0m-3 1h0m26-17h0m5 12h0m2 3h0m6 8h0m7 3h0m15-5h0"/></defs>
<use href="#p133" stroke="#a59713" stroke-width="4.9"/>
<use href="#p133" stroke="#ecd81c" stroke-width="4.2"/>
<defs><path id="p134" d="M903 380h0m9-11h0m5-1h0m8 9h0m-49 1h0m34-13h0m-25 15h0m9 8h0m37-12h0m-28-4h0m-24 46h0m13-20h0m17-8h0m23 58h0m-7-48h0m2 49h0m5-51h0m6-8h0m8 23h0m-16 2h0m-46 73h0m1-2h0m7 17h0m-2 4h0m6-18h0m-1 21h0m31-17h0m-21 3h0m29-8h0m-27 6h0m-8 2h0m21-7h0m-15-5h0m-3-8h0m10 16h0m4-3h0m14-11h0m-42 18h0m-9 15h0m16-34h0m-3 15h0m-8 16h0m8-13h0m14-3h0m3 10h0m-1 2h0m-15-6h0m-14 11h0m-17-3h0m25-7h0m3-3h0m-6 11h0m12-4h0m3 4h0m11 3h0m18-13h0m-23-28h0m-7 7h0m-4-3h0m4-5h0m24 13h0m-44 6h0m-15 3h0m31 5h0m7 4h0m-26-7h0m1-24h0m2 32h0m53-9h0m-51 22h0m-17 8h0m-20 6h0m42-34h0m-5-25h0m-1-7h0m-2-5h0m-1-8h0m-2-7h0m-2-8h0m-5 84h0m-2-1h0m-9-9h0m-2-4h0m49 3h0m-12 5h0m-30 7h0m-16-6h0m-7-10h0m63 2h0m-2 1h0m-33 16h0m-4 3h0m-7 8h0m34-34h0m-7 6h0m-2 2h0m34-27h0m4 15h0m7 7h0m12 23h0m3 10h0m-58-28h0m-5 6h0m-11 11h0m36-23h0m-16 1h0m-15-4h0m-7-3h0m-3 0h0m-16-6h0m69 37h0m-35-20h0m1 5h0m3 5h0m4 6h0m21 18h0m4 4h0m2 1h0m-40-5h0m5-9h0m-1 15h0m-1-44h0m45 30h0m2-1h0m17-7h0"/></defs>
<use href="#p134" stroke="#2a939f" stroke-width="4.9"/>
<use href="#p134" stroke="#3cd2e4" stroke-width="4.2"/>
<defs><path id="p135" d="M892 380h0m-8-19h0m1 3h0m28 21h0m4 3h0m-26-11h0m-4 3h0m-4-3h0m-10-7h0m11-3h0m7-3h0m-8 11h0m6-14h0m8-2h0m2 19h0m13 7h0m5 2h0m-8-8h0m-10-13h0m4 3h0m-8-7h0m11 25h0m-17-5h0m3 1h0m10 1h0m10 2h0m6-5h0m-12-10h0m8 10h0m-38-4h0m-6 4h0m-2 2h0m34-6h0m-5-3h0m-2-1h0m-7-4h0m-4-2h0m-6-6h0m0 5h0m28 6h0m4 14h0m-2-14h0m16 9h0m-33-3h0m-5 1h0m20-6h0m-5-2h0m9-7h0m-37 1h0m13 21h0m16-14h0m-21-10h0m8 13h0m2 1h0m11 7h0m-5-15h0m1-3h0m2-4h0m-6 16h0m2-2h0m6-5h0m5-1h0m21 0h0m6 4h0m-27-6h0m4-3h0m-12 16h0m8 6h0m3 1h0m10-1h0m-34-9h0m18-1h0m24-5h0m2 0h0m-7 1h0m-25-3h0m20 8h0m5-1h0m10 0h0m-54-1h0m11-7h0m2-1h0m5-1h0m34 14h0m2-1h0m2-2h0m1-8h0m-16 3h0m22 1h0m-43-8h0m-16 10h0m-8 2h0m-2 0h0m-8-2h0m-7-3h0m74 1h0m3 0h0m-56 7h0m2 2h0m5 5h0m1 3h0m43-18h0m-31 4h0m-2-12h0m33 13h0m-7 8h0m-10 0h0m-10-3h0m-3 0h0m-5 0h0m-8-5h0m2 0h0m3 1h0m2 12h0m-6-7h0m3 1h0m35-4h0m-1-1h0m-1-3h0m1-13h0m9 6h0m-38 3h0m-15-5h0m-14 1h0m-7 7h0m22 10h0m3 5h0m33-17h0m3 5h0m2 1h0m4 3h0m-13-3h0m0 2h0m3 7h0m-3-20h0m3-1h0m-50 11h0m-6 5h0m-36-39h0m4 2h0m5 6h0m2 0h0m2 2h0m8 4h0m16 6h0m2 2h0m80 0h0m6 2h0"/></defs>
<use href="#p135" stroke="#8c2f2f" stroke-width="4.9"/>
<use href="#p135" stroke="#c84444" stroke-width="4.2"/>
<defs><path id="p136" d="M933 429h0m16 20h0m3-14h0m-64 70h0m6-4h0m-18-1h0m-13 14h0m24-1h0m-28 5h0m43 6h0m-27 13h0m22 0h0"/></defs>
<use href="#p136" stroke="#941694" stroke-width="4.9"/>
<use href="#p136" stroke="#d420d4" stroke-width="4.2"/>
<defs><path id="p137" d="M912 388h0m-2-10h0m10 0h0m-23-11h0m-10 9h0m8-6h0m41 5h0m-19 11h0m-12-13h0m-14-3h0m-3 0h0m-8-4h0m40 9h0m-54 105h0m32 4h0m2-2h0m-12-1h0m43-12h0m-12 21h0m1-4h0m-18-6h0m-11 21h0m-51 6h0m42 5h0m-7 3h0m-8 3h0m2 1h0"/></defs>
<use href="#p137" stroke="#a27ba2" stroke-width="4.9"/>
<use href="#p137" stroke="#e8b0e8" stroke-width="4.2"/>
<defs><path id="p138" d="M879 395h0m-1 3h0m6 18h0m2 7h0m6-28h0m-1 5h0m-2 5h0m-13 23h0m-4 6h0m-6 11h0m-1 3h0m41-53h0m0 5h0m7 28h0m-3-33h0m4 18h0m2 10h0m0 8h0m0 23h0m0 3h0m0 2h0m4-57h0m1 5h0m8 28h0m2 8h0m1 2h0m3 10h0m-8-62h0m-1 5h0m-1 10h0m0 23h0m0 3h0m3 28h0m1 3h0m3-72h0m0 15h0m1 8h0m-1 15h0m0 3h0m-3 10h0m9-51h0m-1 7h0m-3 7h0m-5 13h0m-4 12h0m0 2h0m18-39h0m1 3h0m2 10h0m0 8h0m0 8h0m0 10h0m0 2h0m-18-23h0m8 8h0m2 1h0m5 2h0m4 2h0m-64-1h0m-3 0h0m-1 3h0m-4 4h0m24 53h0m0-1h0m-8-6h0m23 13h0m-8-12h0m-18-11h0m-15 19h0m-2-7h0m-4 3h0m3-10h0m-17-12h0m2 1h0m6 3h0m5 1h0"/></defs>
<use href="#p138" stroke="#941a1a" stroke-width="4.9"/>
<use href="#p138" stroke="#d42626" stroke-width="4.2"/>
<defs><path id="p139" d="M884 364h0m-3-4h0m33 27h0m-3-4h0m2 1h0m-21-5h0m3 9h0m-14-13h0m-4-3h0m12-7h0m7-3h0m-17 17h0m6-14h0m9-5h0m5-1h0m3-1h0m-1 21h0m4-6h0m2 4h0m-13-12h0m13 10h0m-16-10h0m4 18h0m2 0h0m3 0h0m20-4h0m2-1h0m3-4h0m-36 3h0m-2 0h0m-3 0h0m-12 2h0m-6 6h0m-1 5h0m24-21h0m0-2h0m2-5h0m13 16h0m-4-3h0m-10-4h0m-13 6h0m-1-9h0m4-3h0m5-8h0m23 16h0m1 3h0m1 7h0m1 5h0m-13-17h0m7 0h0m21 17h0m-43-8h0m-2 0h0m22-10h0m3-1h0m2-2h0m2-1h0m4-4h0m-26 20h0m9-10h0m-8 1h0m-4-3h0m2 3h0m9 6h0m4 3h0m6 5h0m-21-11h0m16-18h0m3 11h0m21 0h0m-31 10h0m22-17h0m5-2h0m-20 22h0m14 4h0m-6-9h0m2 0h0m7-4h0m2-2h0m13-1h0m-8 4h0m2 0h0m-39-3h0m2-1h0m3-1h0m7 0h0m6 0h0m2 0h0m13 2h0m2 0h0m3-1h0m4-2h0m-10 8h0m-35-2h0m3-4h0m7-4h0m20 9h0m4 3h0m2 1h0m7 2h0m-8-16h0m1-3h0m1 10h0m5-1h0m3 1h0m-62 17h0m13-13h0m-3 1h0m-3 3h0m-2 5h0m4-10h0m-17-1h0m73-1h0m4-2h0m-38 2h0m0-5h0m21 18h0m-2 0h0m-8-2h0m-20-1h0m-3 0h0m-4 3h0m-4-10h0m14 4h0m1 2h0m7-15h0m-12 7h0m-1 2h0m-4 6h0m-1 5h0m1 3h0m-1-8h0m3 1h0m38-9h0m1-8h0m-19 6h0m-20-3h0m-3 19h0m3 4h0m24-25h0m4 3h0m5-4h0m3 0h0m-53 10h0m91-6h0m3 0h0m4 3h0m2 0h0m1-1h0m2 0h0"/></defs>
<use href="#p139" stroke="#8c2f2f" stroke-width="4.9"/>
<use href="#p139" stroke="#c84444" stroke-width="4.2"/>
<defs><path id="p140" d="M895 505h0m-6 4h0m-21 10h0m24-22h0m43 19h0m-56-17h0m16 27h0m-21 29h0m6-47h0m20 29h0"/></defs>
<use href="#p140" stroke="#a59713" stroke-width="4.9"/>
<use href="#p140" stroke="#ecd81c" stroke-width="4.2"/>
<defs><path id="p141" d="M907 382h0m7 2h0m-4-7h0m-29-19h0m29 33h0m-10-20h0m25 0h0m6 6h0m-28-11h0m-72-19h0m9 7h0m14 9h0m30 27h0m0 3h0m-1 7h0m24 8h0m4 15h0m10-18h0m11 1h0m1 15h0m-2 16h0m14-32h0m-67 75h0m-15 0h0m-17-6h0m44 2h0m1-2h0m5-6h0m4-4h0m-20 45h0m23-30h0m-3 4h0m-6 8h0m8-14h0m-7 7h0m-4-2h0m16-1h0m-18 3h0m-11-7h0m-7-3h0m-5-2h0m-2-2h0m29 9h0m-4 20h0m14-12h0m20-4h0m4-10h0m1-5h0m0 5h0m-14 18h0m17-15h0m4-6h0m-34 1h0m0-7h0m9 29h0m12-8h0m-35 19h0m-4-13h0m22-1h0m-15-2h0m-17-5h0m-2-2h0m-7-4h0m27-3h0m-5-6h0m27 14h0m23 0h0m-54 8h0m4-28h0m-1 43h0m13 0h0m34-11h0m3-1h0m7-3h0m-53 4h0m5 9h0m8-31h0m-5-8h0m9 19h0m-12-12h0m26 9h0m-15-5h0m-7-3h0m-8-1h0m-17 17h0m31 11h0m-28-5h0m-5-12h0m-3-5h0m44-2h0m-2 2h0m-2 1h0m-20 4h0m-10 1h0m-4-6h0m-4-4h0m-13-10h0m11 5h0m55 39h0m-33-8h0m-10-36h0m-2-5h0m-1-7h0m-28 46h0m-10 7h0m39 4h0m39-16h0m14 17h0m-100-28h0"/></defs>
<use href="#p141" stroke="#219821" stroke-width="4.9"/>
<use href="#p141" stroke="#30da30" stroke-width="4.2"/>
<defs><path id="p142" d="M883 372h0m29 7h0m-11-8h0m-9 2h0m1 5h0m13 11h0m-4-19h0m19 1h0m-50 16h0m21-5h0m20-13h0m40-1h0m-74 45h0m6-2h0m32 15h0m7-11h0m1 11h0m4 31h0m0 3h0m22-27h0m-77 47h0m14 25h0m0 6h0m8-19h0m1 5h0m0 3h0m-1 15h0m8-40h0m4 20h0m12-5h0m10-2h0m-27-5h0m-10 1h0m-11-6h0m-23 2h0m-3 1h0m-2 1h0m49 13h0m-8 2h0m-7 3h0m16 3h0m13-13h0m12-10h0m-54 28h0m50-25h0m4-4h0m-29-4h0m-19 31h0m11-9h0m-2 5h0m3-7h0m-11 13h0m-4 2h0m-8-1h0m-2-1h0m-10-3h0m9-27h0m63 5h0m-41 18h0m27 8h0m2-2h0m-18-30h0m-4-15h0m4 4h0m-7 7h0m-5 21h0m2 0h0m3 1h0m5 2h0m-20-1h0m-11-14h0m0 3h0m0 3h0m-1 5h0m40-14h0m-29 19h0m32-1h0m-23-3h0m-4-6h0m-8 28h0m-3 1h0m-19 11h0m61-19h0m-2-1h0m-8 0h0m-20-27h0m12 29h0m-5 2h0m-12 5h0m-8 0h0m10-4h0m-22 17h0m30-31h0m-19 18h0m55-18h0m11 15h0m3 7h0m-54-17h0m-3 4h0m-9 9h0m-11 14h0m-1 3h0m-4 17h0m42-50h0m-31-6h0m-7-2h0m25 25h0m25 7h0m12 4h0m5 1h0m12-4h0m3-1h0m-50-1h0m2 1h0m12 10h0m2 2h0m3 4h0m-27-14h0m-11 20h0m8-22h0m-2 7h0m0 3h0m-1 13h0m8-30h0m3 7h0m2 5h0m1 2h0m28 0h0m24-9h0"/></defs>
<use href="#p142" stroke="#2a939f" stroke-width="4.9"/>
<use href="#p142" stroke="#3cd2e4" stroke-width="4.2"/>
<defs><path id="p143" d="M879 374h0m14-2h0m12-6h0m-28 3h0m46 12h0m-5-7h0m-44 7h0m-11-6h0m61-4h0m-61 0h0m-4 6h0m23 131h0m21-28h0m-13 2h0m21 14h0m-55 32h0m-3 0h0m-7 0h0m13-17h0m-2-2h0m58-28h0m-9 44h0m-28 12h0"/></defs>
<use href="#p143" stroke="#a27ba2" stroke-width="4.9"/>
<use href="#p143" stroke="#e8b0e8" stroke-width="4.2"/>
<defs><path id="p144" d="M885 425h0m-2 69h0m-1 2h0m27 3h0m10 7h0m-71 22h0m36-14h0m-7 0h0m8 5h0m-6 11h0m-2 2h0m28 6h0"/></defs>
<use href="#p144" stroke="#941694" stroke-width="4.9"/>
<use href="#p144" stroke="#d420d4" stroke-width="4.2"/>
<defs><path id="p145" d="M894 384h0m13-4h0m8 6h0m-9-1h0m-2 0h0m-25-8h0m16-6h0m4-8h0m-1 10h0m7-4h0m20 18h0m-31-8h0m12-2h0m5-8h0m-24 3h0m28 14h0m-9 12h0m0 7h0m2 11h0m8 25h0m10 1h0m6-27h0m14 3h0m-48 48h0m-4 37h0m2-1h0m-2 1h0m7-22h0m11 12h0m-37-16h0m29 3h0m-15-3h0m-8 0h0m-8 0h0m29 13h0m0 3h0m22-8h0m14-12h0m-17 15h0m2-2h0m6-8h0m6-11h0m-31 12h0m6-11h0m-25 25h0m-12 17h0m14-11h0m1-17h0m-1 22h0m5-1h0m-1 2h0m17-10h0m-22-9h0m-9-6h0m15 15h0m-1 3h0m-2 5h0m-18 7h0m12-25h0m1-19h0m-4-4h0m54 20h0m-53 10h0m2 11h0m-1 2h0m11-6h0m19 11h0m28-19h0m7-2h0m-48 20h0m10 5h0m-2-47h0m-14-10h0m10 12h0m-16 2h0m-19 1h0m7 4h0m4 24h0m16-18h0m13 13h0m5 0h0m5-2h0m10-2h0m-46-1h0m6 7h0m-1-2h0m-5-6h0m-9-51h0m-26 58h0m49 14h0m-32 8h0m-8 0h0m-5-1h0m-2-2h0m-2-1h0m49-8h0m-5 2h0m-4 2h0m-3 1h0m-1-9h0m-21 20h0m-2 1h0m-3 4h0m-1 5h0m72-27h0m8 14h0m3 12h0m-51-30h0m-13 12h0m-17 28h0m-1 3h0m24-44h0m-5-1h0m-20-6h0m33 28h0m23 4h0m21 3h0m3-1h0m-59-27h0m1 3h0m11 20h0m8 5h0m6 5h0m19 18h0m-37-26h0m-11 17h0m-2 18h0m11-47h0m27 23h0m5-2h0m18-8h0m3-1h0m2-1h0"/></defs>
<use href="#p145" stroke="#2a939f" stroke-width="4.9"/>
<use href="#p145" stroke="#3cd2e4" stroke-width="4.2"/>
<defs><path id="p146" d="M918 395h0m-22 110h0m-31 14h0m-3 4h0m38-16h0m-21 9h0m-13 1h0m6-4h0m58-6h0m-66 18h0m-2 2h0m-4 9h0m31-35h0m-5-1h0m-10-2h0m13 21h0m9 3h0m21 4h0m6 4h0m-24 0h0m19 18h0m-29-26h0m37 7h0"/></defs>
<use href="#p146" stroke="#941694" stroke-width="4.9"/>
<use href="#p146" stroke="#d420d4" stroke-width="4.2"/>
<defs><path id="p147" d="M890 366h0m4-3h0m11 19h0m-3-14h0m3 2h0m-16-3h0m36 16h0m1 3h0m-30-10h0m4-10h0m38 3h0m-13 2h0m12 3h0m-80 8h0m99-12h0m-71 136h0m24-12h0m-39-16h0m-7 1h0m26 1h0m9 28h0m16-32h0m2 13h0m15 40h0m-51-21h0m51 19h0"/></defs>
<use href="#p147" stroke="#a27ba2" stroke-width="4.9"/>
<use href="#p147" stroke="#e8b0e8" stroke-width="4.2"/>
<defs><path id="p148" d="M896 385h0m-3-16h0m-15 11h0m14-6h0m46 2h0m-18-9h0m-26 20h0m-67-43h0m6 7h0m27 12h0m82 4h0m-64 41h0m38 27h0m11 12h0m16-57h0m-3 33h0m5 3h0m-54 52h0m-2 0h0m-3 0h0m-5 1h0m-23 0h0m-3-1h0m-5-1h0m38 1h0m5-6h0m2-2h0m2 17h0m7-20h0m19 25h0m9-4h0m-51-10h0m-2-1h0m-5-3h0m-4-4h0m3 5h0m36 11h0m-3-4h0m-5-2h0m-5-1h0m-20-2h0m59-11h0m-9 17h0m9-19h0m-32 15h0m-1-5h0m6-2h0m-27 28h0m15-24h0m-6 4h0m3 5h0m-10 26h0m6-4h0m14-18h0m-13-4h0m-5-1h0m-17-4h0m25-5h0m-6-5h0m-9-9h0m40 22h0m3 0h0m5 1h0m-44-7h0m1-2h0m2-5h0m1-5h0m15 44h0m22-7h0m7-7h0m-38 4h0m11-29h0m4 12h0m-1-5h0m-5-9h0m7 17h0m-4-4h0m-4-3h0m-3-4h0m9-8h0m18 16h0m-14-6h0m-7-2h0m-28 13h0m-10 3h0m7-5h0m-3-13h0m12 27h0m-15-9h0m35-9h0m30 6h0m5 2h0m-10 3h0m-51-13h0m-3-4h0m-35-24h0m3 4h0m7 2h0m58 51h0m-8-1h0m-16-31h0m-26 29h0m-4-7h0m82 14h0m-95-29h0m-5-1h0"/></defs>
<use href="#p148" stroke="#219821" stroke-width="4.9"/>
<use href="#p148" stroke="#30da30" stroke-width="4.2"/>
<defs><path id="p149" d="M889 376h0m1 2h0m-3-13h0m-4-3h0m35 28h0m-27-16h0m4 9h0m-6-1h0m8-6h0m13 8h0m5 2h0m-9-11h0m-10-10h0m12 12h0m2 2h0m2 2h0m-28-13h0m3 0h0m22 18h0m7-3h0m-13-17h0m2 2h0m4 7h0m2 4h0m-37-1h0m-9 9h0m17-22h0m1-6h0m-4-3h0m-3 19h0m-1-2h0m7-10h0m29 23h0m3 4h0m-24-19h0m13 0h0m5-4h0m-5 2h0m-3 4h0m9 1h0m4 3h0m-1-13h0m4-3h0m-26 9h0m2-1h0m10-3h0m5-1h0m-28 5h0m8 14h0m-3 4h0m10-16h0m-7 0h0m-4-3h0m2 2h0m19 14h0m-10-13h0m5-1h0m11-2h0m10-1h0m2 0h0m8 1h0m2 2h0m8 6h0m-22-16h0m-15 23h0m9 3h0m16 0h0m8-17h0m4-2h0m-22 3h0m10-2h0m-46 5h0m26-6h0m1 2h0m2 2h0m2 2h0m13 7h0m15-8h0m-21-13h0m13 13h0m-1 0h0m2 1h0m-32-5h0m-20 6h0m-4 2h0m13-8h0m-3 4h0m-2 2h0m-17 14h0m1-12h0m-14-6h0m81 1h0m-54 11h0m16-12h0m26 13h0m-18 0h0m-2-1h0m-20 2h0m-1-8h0m10 8h0m11-20h0m-2 1h0m-4 3h0m-2 2h0m-16 11h0m15 8h0m28-22h0m4 12h0m2-1h0m2-5h0m2-7h0m-41 4h0m-15-8h0m-2 1h0m-7 2h0m-8 7h0m-3 7h0m23 3h0m35-11h0m9 9h0m-10-5h0m4 13h0m5-23h0m5-1h0m-66 17h0m-4 2h0m-17-28h0m2 2h0m8 4h0m106 8h0m6 2h0"/></defs>
<use href="#p149" stroke="#8c2f2f" stroke-width="4.9"/>
<use href="#p149" stroke="#c84444" stroke-width="4.2"/>
<defs><path id="p150" d="M879 421h0m0 3h0m4-21h0m3 18h0m-1-9h0m-5 9h0m-2 4h0m-4 7h0m33-21h0m1 2h0m1 5h0m3 7h0m-1-25h0m5 33h0m0 3h0m0 13h0m2-52h0m4 13h0m12 42h0m-9-49h0m0 34h0m1 2h0m2 16h0m1 12h0m3-56h0m0 2h0m-2 29h0m8-47h0m-6 17h0m-1 5h0m-8 33h0m22-47h0m1 23h0m0 5h0m2 13h0m1 3h0m-23-35h0m6 5h0m2 0h0m1 1h0m17 20h0m-62-17h0m-9 4h0m-9 8h0m-4 3h0m-2 2h0m-18 37h0m45 8h0m31-3h0m2-2h0m1-3h0m4 8h0m-61-8h0m-1 0h0m29 6h0"/></defs>
<use href="#p150" stroke="#941a1a" stroke-width="4.9"/>
<use href="#p150" stroke="#d42626" stroke-width="4.2"/>
<defs><path id="p151" d="M884 496h0m-3 5h0m5 5h0m5-13h0m-1 7h0m-1-2h0m-4 3h0m-2-4h0m25 5h0m-50 24h0m49-18h0m-54 26h0m33-32h0m43 28h0m-45-13h0m17 14h0m-25 19h0m-6 14h0m9-58h0m8 17h0m25 12h0"/></defs>
<use href="#p151" stroke="#a59713" stroke-width="4.9"/>
<use href="#p151" stroke="#ecd81c" stroke-width="4.2"/>
</g>
<g transform="scale(.5)" fill="none" stroke-linecap="round">
<path d="M428 736l0 1-1 2 1 2 0 2-1 3 0 2-2 1 1 3 1 3-1 1 1 2 0 2-1 2 1 2-2 3-1 3 0 2 0 2 1 2-2 1 0 3-1 2 0 2 0 2 1 3-1 1 0 2 0 2 0 3-1 2 0 1 0 4 0 1-1 3M412 856l2 1 2 0 2 1 1 1 2 1 2 0 2 1 1 2 2 1 2 1 2 1 1 1M412 856l-1 2-1 1-1 2-2 2 0 1-1 2-1 2 0 2-1 2 0 2-1 2-1 2 0 2-1 1-1 2 0 2-1 2 0 2-1 2 0 2-1 2 0 2 0 2M412 856l0 2 0 2 0 2 0 2-1 2 0 2-1 2 0 2-1 2 0 2M412 856l-1 1-1 2-1 2-1 2-1 1-1 2-2 2 0 1-2 2-1 2-1 1-1 2-2 1-1 2-1 1M412 856l2 1 1 1 2 1 1 2 2 1 1 1 1 2 1 2 1 2 1 1 1 2 1 2 0 2 1 2 1 1 1 2 2 2 1 1 1 2 1 1 2 2 1 2M412 856l0 2 0 2-1 2 0 2-1 2-1 2-1 1 0 2-1 2 0 2-1 2-1 2 0 2-1 2-1 1-1 2M412 856l0 2-1 2-1 2-1 1 0 2-1 2-1 2 0 2-1 2 0 2-1 2-1 2 0 2 0 2 0 2 0 2 0 2 0 2-1 2 0 2M412 856l2 1 1 1 2 1 1 2 2 1 1 2 2 1 1 1 2 1 2 1 2 1M412 856l1 2 1 1 1 2 1 2 0 2 1 2 1 2 0 2 1 2 0 1 0 2 0 2M412 856l1 1 2 2 1 1 1 2 2 1 1 2 2 1 1 1 1 2 1 2 1 1M412 856l0 2-1 2 0 2-1 2-1 1-1 2 0 2-1 2 0 2 0 2 0 2 0 2 0 2 0 2 0 2M412 856l1 2 0 2 1 2 0 2 0 2 1 2 0 2 1 2 0 1 0 2 0 2 1 2 1 2 0 2 1 2 1 2 1 1 1 2 1 2 1 2M412 856l2 1 1 1 2 2 2 1 1 1 2 1 2 0 2 1 1 1 2 1 2 1 2 1 1 1 2 2 2 0M412 856l-2 1-1 1-2 1-2 1-2 1-1 1-2 1-2 1-2 1-1 1-1 2-2 1-1 1-2 2-2 1-1 1M412 856l0 2 0 2 0 2-1 2 0 2-1 2 0 2 0 2-1 2 0 2-1 1-1 2 0 2-1 2-1 2-1 2-1 1-1 2 0 2-1 2-1 2 0 2M412 856l-1 2-2 1-1 2-1 1-1 2 0 2-1 2 0 2-1 2-1 2-1 1-1 2-1 2-1 2 0 1-1 2 1 2-1 2 0 2 0 2 0 2 1 2 0 2" stroke="#555" stroke-width="0.8" stroke-linejoin="round"/>
<path d="M430 702l3-1 5 1 3-2 5-1 4-1 4-1 5-2 4-2 4 1 3-1 5 1 2 0 6 2 3 0 5 4 4 0 4 0 3 2 6 0 2-2 4-2 4-2 6 0 3-2 4 0 4-1M472 694l4-3 3-3 3-2 3-2 5-1 4-2 5 2 4-1 4-1 5 0 5 2 3 2 5 1 3 3 3 1 4 3M456 696l3-3 2-4 3-5 4-3M428 701l2-3-2-6 3-5-1-4 1-3 0-3M431 702l-5-1-8-1-2-1-4-2-4-1-2-2-5-1-5-3-4-1-1-3-4-3-4-2-5-2-3-3-4 0-3-4-2-3-3-3-4-2-2-4-5-3-3-4M370 673l-3-4-1-4-4-4-3-3-2-2-1-4-2-1M301 661l6 0 5 0 4 0 4 2 4-1 6 0 3 1 5-1 5 2 3 1 4-1 6 2 4-1 3-1 5-1 5 1 4 0 4-2 4 1 3-2 3 1 4-2 5 2 6-1 3-2 4 1 4 0 2 0M303 675l3 0 6 2 5 0 4 1 3-1 4 0 4 3 5-1 4-1 5 2 4-1 5 1 3 1 5 0 3 0 3 0 5 0 4 0 4 1 5 1 3 0 4 2 4 0 5 2 3 3 4 1 4 1M393 662l2-1 4-4 3-2 4-4 4-1M429 700l-1 7 1 5-1 1 0 5 1 6 0 2 1 5-1 1" stroke="#b04040" stroke-width="1.8" stroke-linejoin="round"/>
<defs><path id="p152" d="M399 845h0m-2 4h0m28-12h0m-33 7h0m13-19h0m-1-2h0m-4 7h0m-25 10h0m16-18h0m5-2h0m-2-5h0m6 0h0m-11 7h0m-7 3h0m-5 1h0m37 13h0m9 9h0m-23-28h0m34 12h0m-26 17h0m-2-10h0m-18-24h0m22 26h0m-8-17h0m-2-4h0m4 18h0m-5 2h0m-10 3h0m15-32h0m-10-8h0m-1 49h0m-8 7h0m22-39h0m-2-2h0m-4-7h0m2 7h0m-4-7h0m-4-7h0m4 34h0m-6-7h0m-19 6h0m26 0h0m-2 2h0m-3 4h0m-3-29h0m7 27h0m36-33h0m31-6h0m5-2h0m-35 18h0m2 1h0m57 17h0m2 0h0m-48 0h0m4 2h0m-10 20h0m2 2h0m7 5h0m-48-27h0m-2 2h0m-4 5h0m-11 6h0m-11 8h0m-2 0h0m-3 0h0m31-44h0m-1-1h0m-5-1h0"/></defs>
<use href="#p152" stroke="#a59713" stroke-width="4.9"/>
<use href="#p152" stroke="#ecd81c" stroke-width="4.2"/>
<defs><path id="p153" d="M375 826h0m12-13h0m1 18h0m6 19h0m53-45h0m0-2h0"/></defs>
<use href="#p153" stroke="#a27ba2" stroke-width="4.9"/>
<use href="#p153" stroke="#e8b0e8" stroke-width="4.2"/>
<defs><path id="p154" d="M430 702h0m10-2h0m5-1h0m9-2h0m5-2h0m40 5h0m10 1h0m5-3h0m10-3h0m-52-1h0m7-5h0m12-6h0m4-2h0m11 1h0m2 0h0m5-1h0m5 3h0m12 5h0m-67-2h0m-34 6h0m2 9h0m-12-2h0m-7-3h0m-25-14h0m-11-5h0m-17-14h0m8 4h0m-4-4h0m-3-4h0m-1-3h0m-55 4h0m13 1h0m12 0h0m34 2h0m3 1h0m2-2h0m6 1h0m2 0h0m25-3h0m8-1h0m5-2h0m-84 19h0m2 2h0m27 1h0m25 3h0m12 2h0m2 0h0m5 2h0m5 2h0m-1-39h0m23 53h0m-1 24h0"/></defs>
<use href="#p154" stroke="#941a1a" stroke-width="4.1"/>
<use href="#p154" stroke="#d42626" stroke-width="3.4"/>
<defs><path id="p155" d="M456 695h0m25 0h0m-86-5h0m-33-28h0m-4-6h0m14 26h0"/></defs>
<use href="#p155" stroke="#a59713" stroke-width="4.1"/>
<use href="#p155" stroke="#ecd81c" stroke-width="3.4"/>
<defs><path id="p156" d="M358 664h0m42 23h0m-2-30h0"/></defs>
<use href="#p156" stroke="#2a939f" stroke-width="4.1"/>
<use href="#p156" stroke="#3cd2e4" stroke-width="3.4"/>
<defs><path id="p157" d="M412 851h0m-9-41h0m-11 11h0m25 10h0m-26 6h0m-7 4h0m31 5h0m-5-10h0m-12 0h0m14 9h0m-3 8h0m-1 5h0m-22-15h0m14-30h0m-3-4h0m-6 49h0m70-56h0m-30 15h0m14 2h0m27 7h0m-42 4h0m46 19h0m-72-32h0"/></defs>
<use href="#p157" stroke="#2a939f" stroke-width="4.9"/>
<use href="#p157" stroke="#3cd2e4" stroke-width="4.2"/>
<defs><path id="p158" d="M458 840h0m16-40h0m10 0h0"/></defs>
<use href="#p158" stroke="#219821" stroke-width="4.9"/>
<use href="#p158" stroke="#30da30" stroke-width="4.2"/>
<defs><path id="p159" d="M398 847h0m-4-11h0m-9-20h0m8 5h0m-14 3h0m5-9h0m10 5h0m-9 4h0m40 26h0m6-11h0m1 2h0m-24-2h0m-2-1h0m-12 4h0m-10 1h0m-8-1h0m34-22h0m1 6h0m-12-9h0m-4 31h0m55 15h0"/></defs>
<use href="#p159" stroke="#941694" stroke-width="4.9"/>
<use href="#p159" stroke="#d420d4" stroke-width="4.2"/>
<defs><path id="p160" d="M498 682h0m-107 4h0m-70-8h0m21 1h0m5 0h0m33 1h0"/></defs>
<use href="#p160" stroke="#a59713" stroke-width="4.1"/>
<use href="#p160" stroke="#ecd81c" stroke-width="3.4"/>
<defs><path id="p161" d="M403 830h0m-27 8h0m54-16h0m-13 22h0m-12 6h0m8-26h0m0 2h0m-17 15h0m9-20h0m-2-1h0m-5 23h0m32-32h0m14-7h0m29-5h0m-83 11h0"/></defs>
<use href="#p161" stroke="#941694" stroke-width="4.9"/>
<use href="#p161" stroke="#d420d4" stroke-width="4.2"/>
<defs><path id="p162" d="M454 803h0m2 0h0m29 29h0m0-31h0m5 0h0"/></defs>
<use href="#p162" stroke="#219821" stroke-width="4.9"/>
<use href="#p162" stroke="#30da30" stroke-width="4.2"/>
<defs><path id="p163" d="M429 709h0"/></defs>
<use href="#p163" stroke="#219821" stroke-width="4.1"/>
<use href="#p163" stroke="#30da30" stroke-width="3.4"/>
<defs><path id="p164" d="M438 701h0m13-3h0m15-4h0m7 0h0m18 5h0m13 3h0m18-6h0m3-3h0m-50 0h0m2-2h0m6-6h0m17-3h0m15 1h0m8 1h0m12 8h0m-76-1h0m8-9h0m-37 16h0m0-16h0m-8 18h0m-5-1h0m-29-14h0m-9-6h0m-5-3h0m-3 0h0m-8-8h0m-7-9h0m-6-6h0m-49 8h0m14 1h0m19 1h0m7 1h0m3 0h0m40-1h0m6-2h0m2 1h0m7-1h0m5 0h0m8-1h0m-48 20h0m29 4h0m17 7h0m19 15h0m0 6h0m0 10h0"/></defs>
<use href="#p164" stroke="#941a1a" stroke-width="4.1"/>
<use href="#p164" stroke="#d42626" stroke-width="3.4"/>
<defs><path id="p165" d="M396 852h0m24 0h0m-26-18h0m9-14h0m-3-7h0m-1-2h0m-3 16h0m3 6h0m-4 3h0m-5 1h0m-3 1h0m-8 1h0m-2-6h0m43-8h0m-7 4h0m-11-17h0m-24 14h0m8-12h0m4 24h0m-1 13h0m-2-28h0m29 18h0m-4-12h0m-2-1h0m-21 10h0m0-4h0m14 17h0m15-21h0m-2 1h0m-4 3h0m-22-11h0m-1-3h0m0-2h0m12 4h0m-4-7h0m14 33h0m-3 12h0m-40-17h0m32-35h0m-2-2h0m10 32h0m-5 5h0m-4 4h0m-2 1h0m-6 6h0m-2 2h0m21-32h0m-6-9h0m7 10h0m-9-10h0m-6-8h0m-2 29h0m-7-7h0m-7-8h0m16 9h0m-5 1h0m-23 11h0m34-6h0m-18-29h0m17 32h0m-9 13h0m-2 2h0m-1 2h0m35-42h0m13-7h0m12-5h0m-6 17h0m8 1h0m16 5h0m17 5h0m3 3h0m7 3h0m-68-7h0m2 0h0m7 1h0m3 0h0m2 1h0m16 7h0m11 6h0m-37 8h0m11 5h0m14 9h0m-46-32h0m-4 3h0m-5 4h0m-8-30h0m84-11h0"/></defs>
<use href="#p165" stroke="#a59713" stroke-width="4.9"/>
<use href="#p165" stroke="#ecd81c" stroke-width="4.2"/>
<defs><path id="p166" d="M415 844h0m-2 5h0m-12-18h0m-12 9h0m9-24h0m-12 22h0m24 10h0m-2-26h0m-38 18h0m-4 3h0m98-41h0m-2 21h0m28 10h0m-27 9h0m8 5h0m-44 4h0m5 1h0"/></defs>
<use href="#p166" stroke="#2a939f" stroke-width="4.9"/>
<use href="#p166" stroke="#3cd2e4" stroke-width="4.2"/>
<defs><path id="p167" d="M425 840h0m-38-22h0m6-4h0m-5 34h0m22 2h0"/></defs>
<use href="#p167" stroke="#a27ba2" stroke-width="4.9"/>
<use href="#p167" stroke="#e8b0e8" stroke-width="4.2"/>
<defs><path id="p168" d="M393 839h0m1-10h0m5-12h0m-7 26h0m14-4h0m-21 20h0m63-39h0"/></defs>
<use href="#p168" stroke="#a27ba2" stroke-width="4.9"/>
<use href="#p168" stroke="#e8b0e8" stroke-width="4.2"/>
<defs><path id="p169" d="M394 662h0"/></defs>
<use href="#p169" stroke="#219821" stroke-width="4.1"/>
<use href="#p169" stroke="#30da30" stroke-width="3.4"/>
<defs><path id="p170" d="M448 698h0m22-5h0m6 2h0m8 1h0m2 1h0m21 5h0m10-4h0m11-5h0m5 1h0m-52-6h0m7-4h0m6-1h0m17-1h0m9 3h0m6 1h0m1 2h0m-71 8h0m-27-6h0m1-5h0m-2 16h0m-19-5h0m-17-8h0m-22-14h0m-2-3h0m-2-2h0m4 4h0m-1-3h0m-3-5h0m-46-2h0m3-1h0m3 0h0m13 1h0m8 2h0m6 0h0m7 0h0m2 1h0m17-3h0m2 0h0m6-1h0m9-2h0m-87 14h0m9 2h0m6 1h0m10 2h0m31 0h0m29-19h0m35 55h0m-1 3h0"/></defs>
<use href="#p170" stroke="#941a1a" stroke-width="4.1"/>
<use href="#p170" stroke="#d42626" stroke-width="3.4"/>
<defs><path id="p171" d="M530 693h0m-227-18h0m63 7h0"/></defs>
<use href="#p171" stroke="#2a939f" stroke-width="4.1"/>
<use href="#p171" stroke="#3cd2e4" stroke-width="3.4"/>
<defs><path id="p172" d="M420 815h0m1 3h0m0 2h0m-26 11h0m15 22h0m2-20h0m-3-5h0m-9-12h0m36 11h0m-38 1h0m-6-4h0m0 13h0m30-13h0m-34-2h0m-8-1h0m2-4h0m7-3h0m0 32h0m31-2h0m2 2h0m-14-19h0m-12-14h0m-2-1h0m41 22h0m2 3h0m1 2h0m-51 1h0m-5 2h0m-2 2h0m13-22h0m-1 5h0m-2 5h0m-3 4h0m11 16h0m16-19h0m-16 16h0m-1-16h0m-1-2h0m-5-6h0m15 9h0m-11-21h0m25 22h0m-4-7h0m-2-2h0m-6-9h0m-6-8h0m2 32h0m-1-28h0m6 10h0m-4-3h0m-13 14h0m-2-1h0m-5-6h0m1 6h0m-3 0h0m-7 3h0m35-4h0m-2 0h0m-17 18h0m17-26h0m-2-1h0m-6-4h0m-7-4h0m-7-4h0m0 47h0m78-34h0m4 2h0m10 3h0m-37 4h0m2 0h0m10 5h0m-64 12h0m-6 4h0m-1 2h0m-5 2h0m-9 2h0m-3 1h0m113-61h0m8 0h0"/></defs>
<use href="#p172" stroke="#a59713" stroke-width="4.9"/>
<use href="#p172" stroke="#ecd81c" stroke-width="4.2"/>
<defs><path id="p173" d="M423 847h0m-11-12h0m22-7h0m-44-6h0m8-3h0m1-2h0m16 13h0m-16-12h0m13 29h0m-4-9h0m-1-23h0m-19 17h0m89-4h0m-42 25h0m-36-10h0m-5-30h0m-11-5h0m-2 2h0"/></defs>
<use href="#p173" stroke="#941694" stroke-width="4.9"/>
<use href="#p173" stroke="#d420d4" stroke-width="4.2"/>
<defs><path id="p174" d="M503 682h0m-72-2h0m-47 2h0m-31-25h0m-43 4h0m40 18h0m3 1h0m9 0h0m28 3h0m13-29h0"/></defs>
<use href="#p174" stroke="#a59713" stroke-width="4.1"/>
<use href="#p174" stroke="#ecd81c" stroke-width="3.4"/>
<defs><path id="p175" d="M421 823h0m1 5h0m-34-8h0m-11 19h0m46-8h0m-3-1h0m-27-6h0m28 5h0m-17 3h0m14 5h0m-37 5h0m31-20h0m3 6h0m-37 6h0m18-18h0m-10-7h0m-6 52h0m62-56h0m17-3h0m15 25h0m-1 22h0m-24 12h0m-57-12h0m-11 8h0"/></defs>
<use href="#p175" stroke="#2a939f" stroke-width="4.9"/>
<use href="#p175" stroke="#3cd2e4" stroke-width="4.2"/>
<defs><path id="p176" d="M453 822h0"/></defs>
<use href="#p176" stroke="#219821" stroke-width="4.9"/>
<use href="#p176" stroke="#30da30" stroke-width="4.2"/>
<defs><path id="p177" d="M425 843h0m-21-19h0m-10-13h0m19 32h0m-18 3h0"/></defs>
<use href="#p177" stroke="#a27ba2" stroke-width="4.9"/>
<use href="#p177" stroke="#e8b0e8" stroke-width="4.2"/>
<defs><path id="p178" d="M429 700h0"/></defs>
<use href="#p178" stroke="#941694" stroke-width="4.1"/>
<use href="#p178" stroke="#d420d4" stroke-width="3.4"/>
<defs><path id="p179" d="M485 684h0m-71 15h0m-58-33h0"/></defs>
<use href="#p179" stroke="#2a939f" stroke-width="4.1"/>
<use href="#p179" stroke="#3cd2e4" stroke-width="3.4"/>
<defs><path id="p180" d="M408 828h0m-11 6h0m-13 4h0m7-25h0m10 1h0m-3 3h0m-18 9h0m38 16h0m12-5h0m-34 14h0m11-15h0m-3-2h0m28-4h0m-7 21h0m-18-15h0m-8-22h0"/></defs>
<use href="#p180" stroke="#941694" stroke-width="4.9"/>
<use href="#p180" stroke="#d420d4" stroke-width="4.2"/>
<defs><path id="p181" d="M443 700h0m18-6h0m17 0h0m11 4h0m7 1h0m-114-18h0m-20-16h0m-30-2h0m39 1h0"/></defs>
<use href="#p181" stroke="#a59713" stroke-width="4.1"/>
<use href="#p181" stroke="#ecd81c" stroke-width="3.4"/>
<defs><path id="p182" d="M421 850h0m-28-9h0m20-4h0m-11-19h0m25 5h0m-2 1h0m-34-9h0m-2 28h0m15-2h0m-1-14h0m-7 14h0m-17 1h0m16 8h0m57-48h0m17 0h0m-14 19h0m5 1h0m32 12h0m-56-6h0m15 9h0m15 6h0m4 2h0m-33 8h0m17 11h0"/></defs>
<use href="#p182" stroke="#2a939f" stroke-width="4.9"/>
<use href="#p182" stroke="#3cd2e4" stroke-width="4.2"/>
<defs><path id="p183" d="M430 696h0m0 24h0"/></defs>
<use href="#p183" stroke="#219821" stroke-width="4.1"/>
<use href="#p183" stroke="#30da30" stroke-width="3.4"/>
<defs><path id="p184" d="M427 749h0m1-5h0m-2 6h0"/></defs>
<use href="#p184" stroke="#941a1a" stroke-width="4.9"/>
<use href="#p184" stroke="#d42626" stroke-width="4.2"/>
<defs><path id="p185" d="M457 822h0m-33-46h0m0 6h0m0 6h0"/></defs>
<use href="#p185" stroke="#219821" stroke-width="4.9"/>
<use href="#p185" stroke="#30da30" stroke-width="4.2"/>
<defs><path id="p186" d="M432 702h0m3 0h0m29-8h0m4 1h0m25 4h0m8 2h0m10-1h0m8-4h0m13-5h0m-68-7h0m-36 17h0m2-13h0m-5 13h0m-19-5h0m-1-2h0m-3-1h0m-2-1h0m-3-2h0m-39-29h0m-7-6h0m5-1h0m-1-2h0m-48 9h0m5 1h0m24 1h0m14 1h0m56-4h0m11-1h0m-111 16h0m5 1h0m2 0h0m14 1h0m10 1h0m8 2h0m24 1h0m13 1h0m5 1h0m6-21h0m3-3h0m4-4h0m5-3h0m23 73h0m2 5h0"/></defs>
<use href="#p186" stroke="#941a1a" stroke-width="4.1"/>
<use href="#p186" stroke="#d42626" stroke-width="3.4"/>
<defs><path id="p187" d="M421 825h0m2 5h0m0 3h0m1 2h0m0 10h0m-28-16h0m18 18h0m-3-17h0m-4-4h0m-13-1h0m12 4h0m-24 9h0m-6-3h0m41-9h0m-2 2h0m-30-5h0m-4-4h0m15 0h0m10 7h0m-4-4h0m31 22h0m-42-15h0m10 23h0m1-9h0m-1 2h0m-2 2h0m-6-20h0m-7-17h0m17 19h0m13 10h0m-1 2h0m-7 14h0m-7-16h0m-28 3h0m-2 0h0m35-29h0m-10-9h0m5 41h0m-14 12h0m20-35h0m-10 15h0m-14-12h0m-1-2h0m-1 11h0m-9 5h0m35-6h0m-13 12h0m-1 3h0m-1 5h0m-1 2h0m-2-43h0m7 34h0m-14 15h0m44-49h0m2-1h0m5-2h0m6-3h0m-5 12h0m6 0h0m9 0h0m32 12h0m-57 1h0m23 3h0m14 7h0m-22 14h0m7 6h0m-53-14h0m-8 4h0m3-42h0m-3 0h0m96-8h0"/></defs>
<use href="#p187" stroke="#a59713" stroke-width="4.9"/>
<use href="#p187" stroke="#ecd81c" stroke-width="4.2"/>
</g>
<g transform="scale(.5)" fill="none" stroke-linecap="round">
<path d="M162 736l-1 3 1 4-1 5-1 4 0 4 1 4 0 4-2 3-1 5 1 4-2 4-1 4 1 5-1 3 0 5-1 3 0 5-1 3M146 856l4 1 3 2 4 1 3 3 4 2 3 2M146 856l-2 3-3 4-1 3-1 4-1 4-2 4-1 3-1 4-1 4-1 4-1 4 0 2M146 856l0 4 0 4-1 4-1 4-1 4M146 856l-2 3-2 4-2 3-2 3-3 4-2 3-3 3-1 1M146 856l3 2 3 3 3 2 2 4 2 3 2 4 1 4 2 3 3 3 2 3 3 4M146 856l0 4-1 4-2 4-1 3-1 4-2 4-1 4-2 3M146 856l-1 4-2 3-1 4-1 4-1 4-2 4 0 4 0 4 0 4-1 4M146 856l3 2 3 3 3 3 3 2 4 2 2 1M146 856l2 3 2 4 1 4 1 4 1 3 0 4M146 856l3 3 2 3 3 3 3 2 2 4 1 1M146 856l-1 4-1 4-2 3-1 4 0 4 0 4 0 4 0 2M146 856l1 4 1 4 1 4 1 4 0 3 1 4 1 4 2 4 2 3 2 4M146 856l3 2 4 3 3 2 4 1 3 2 4 2 3 3 2 0M146 856l-3 2-4 2-3 2-4 2-3 2-3 3-3 3-3 2M146 856l0 4-1 4-1 4 0 4-1 4-2 3-1 4-2 4-2 3-1 4-1 4M146 856l-3 3-2 3-1 4-1 4-2 4-2 3-2 4-1 3 0 4 0 4 1 4 0 2" stroke="#555" stroke-width="0.7" stroke-linejoin="round"/>
<path d="M164 702l3-1 5 1 3-2 5-1 4-1 4-1 5-2 4-2 4 1 3-1 5 1 2 0 6 2 3 0 5 4 4 0 4 0 3 2 6 0 2-2 4-2 4-2 6 0 3-2 4 0 4-1M206 694l4-3 3-3 3-2 3-2 5-1 4-2 5 2 4-1 4-1 5 0 5 2 3 2 5 1 3 3 3 1 4 3M190 696l3-3 2-4 3-5 4-3M162 701l2-3-2-6 3-5-1-4 1-3 0-3M165 702l-5-1-8-1-2-1-4-2-4-1-2-2-5-1-5-3-4-1-1-3-4-3-4-2-5-2-3-3-4 0-3-4-2-3-3-3-4-2-2-4-5-3-3-4M104 673l-3-4-1-4-4-4-3-3-2-2-1-4-2-1M35 661l6 0 5 0 4 0 4 2 4-1 6 0 3 1 5-1 5 2 3 1 4-1 6 2 4-1 3-1 5-1 5 1 4 0 4-2 4 1 3-2 3 1 4-2 5 2 6-1 3-2 4 1 4 0 2 0M37 675l3 0 6 2 5 0 4 1 3-1 4 0 4 3 5-1 4-1 5 2 4-1 5 1 3 1 5 0 3 0 3 0 5 0 4 0 4 1 5 1 3 0 4 2 4 0 5 2 3 3 4 1 4 1M127 662l2-1 4-4 3-2 4-4 4-1M163 700l-1 7 1 5-1 1 0 5 1 6 0 2 1 5-1 1M133 845l-2 3-1 4M154 815l1 4 0 4 0 4 2 3 0 4 2 4 0 4-2 4-1 3-3 3M126 844l1-4 1-4 0-4 2-4 0-2M149 844l-1 4-2 4-3 2M147 837l-1-3-1-4-3-3-3-2-2-4-1-4-2-3-1-4M168 828l3-2M134 830l-3-2-3-3-4-2-2-3-2-4-2-1M142 828l-4 1-3 3-3 2-4 2-4 1-4 1-4 0-3 1-4 0M111 833l-1 3-1 4M164 822l-4 1-4 1-4 2-3 2-3 2M127 814l-3-2M119 823l4-1 4-1 4-2 3-3 1-3 3-3M112 826l2-3 1-4 2-3 3-2 4 1 4 0 2 1M124 838l-1 4 0 4 0 4 0 2M134 815l-3 3-3 2-4 2-3 2-4 1-4 1-4 0-2 0M148 839l3 3 3 3 3 2 2 4M157 831l-4-1-4 0-4-1-4-2-3-2-3-3-2-4-2-3-2-3-2 0M168 832l2 4 2 3M125 837l-3 2-4 2-3 2-2 1M164 837l2 3 1 4M127 822l-1 4-1 4-1 3-3 3-3 3M151 844l-4 2-3 2-4 2-3 1-4 1-4-1-2-1M155 829l-4 2-3 2-3 2-3 3-3 3-3 2-2 4-3 3M132 836l-2-4-2-3-2-3-2-4-1-4-1-4-2-3-1-2M144 841l-3-4-2-3-2-4 0-3-2-4-1-4-3-3-2-3-1-2M154 835l-3 3-2 3-3 3-1 4-1 4-2 4 0 4 0 1M140 838l-4 1-3 1-4 2-4 1-4 0-4 0-4-1-4 0-4 0-4 1M150 828l-3-3-2-4-2-3-2-3-3-3-2-3-3-3-3-2-4-3M142 838l-3 2-3 4-3 2-3 3-2 3-3 2-3 3-3 2M144 824l-3-3-2-4-2-3-2-3-1-2M149 828l-3-2-4-3-3-3-2-3-2-3-3-3-1-4-2-3M133 838l-4-2-3-2-3-2-3-3-2-3-3-3-1-2M130 830l-4 1-4 1-4 1-4 1-4 1-3 3-3 2-3 2-3 3M145 832l-3 1-4 2-3 2-3 2-3 3-2 4-1 4-1 4 0 4 0 2M145 826l-3-2-3-3-3-2-4-2-3-2-4-1-3-3-3-3-2-3M135 839l-2 3-3 4-2 3-2 3-3 3-3 3-3 2-4 1M158 814l3-3 6-2 4-2 2-1 6-2 2-1 5-1 4 1 4-2 3 1 5 0 5-3 1 2M165 817l6 1 3 0 5 1 4-1 4 4 5 1 4 0 4 1 4 2 4 1 5 1 3 2 4 3 3 0 5 2 2 1 3 1M158 831l4-1 5 0 3-2 5 4 3 1 3 2 6 2 2 0 4 4 5 1 4 2 3 3 4 2 2 0M159 851l2 0 5 1 5 1 3 4 4 1 3 3 5 4 3 1 2 1M143 834l-5 3-3 3-2 3-3 3-5 4-2 0-5 1-2 5-4 1-5 2-4 1-4 2M138 817l-4-2-4-2-5-3-3-1-4-1-4 0M208 800l4 0 4 1 3 0 4-1 3 2" stroke="#22b4bb" stroke-width="1.5" stroke-linejoin="round"/>
<path d="M173 702h0m10-4h0m5 0h0m3-5h0m7 1h0m4 1h0m2-1h0m5 0h0m4 1h0m5 1h0m3 0h0m20 6h0m2-2h0m3-1h0m8-4h0m8-3h0m-56 2h0m7-5h0m7-5h0m2-1h0m5 1h0m4-3h0m3 1h0m8-1h0m7 2h0m2 1h0m5 2h0m4 0h0m3 4h0m3 1h0m-73 3h0m2-4h0m4-3h0m2-4h0m-38 10h0m1-5h0m-3 14h0m-4-1h0m-9-3h0m-2 0h0m-6-3h0m-2-2h0m-3-1h0m-5-3h0m-12-7h0m-5-3h0m-7-3h0m-2-2h0m-3-4h0m-3-2h0m-4-4h0m-2-3h0m9 8h0m-2-3h0m-2-2h0m-4-4h0m-2-6h0m-3-3h0m-52 9h0m3 1h0m5 1h0m3 1h0m8-1h0m4 1h0m8 0h0m5-1h0m10 2h0m8 2h0m6-2h0m19-1h0m4 0h0m7-2h0m4-1h0m4 1h0m14-2h0m-107 16h0m5 1h0m2 0h0m5 0h0m8 1h0m4 1h0m1 0h0m5 0h0m4-1h0m9 2h0m16 2h0m15 1h0m17 2h0m14 7h0m-19-30h0m2-1h0m6-4h0m4-2h0m4-4h0m19 62h0m0 5h0m2 3h0m-1 11h0m-32 118h0m23-34h0m1 4h0m-1 5h0m3 7h0m1 5h0m-1 8h0m-3 8h0m-28-13h0m4-11h0m19 18h0m-1 2h0m-3 4h0m3-14h0m-1-6h0m-3-4h0m-2-1h0m-4-4h0m-1-4h0m31 8h0m-41-4h0m3 11h0m-4 3h0m-9 1h0m-3 1h0m-5 1h0m50-17h0m-8 4h0m-4 3h0m-19-16h0m-9 9h0m5-1h0m7-3h0m4-3h0m2-5h0m-25 14h0m7-10h0m3-1h0m1 23h0m11-21h0m-2 3h0m-4 1h0m-9 5h0m-4 1h0m-4 1h0m38 12h0m3 3h0m2 3h0m4 4h0m-11-20h0m-3-1h0m-4-1h0m-3-3h0m34 12h0m-46 0h0m-4 3h0m-4 3h0m49-1h0m-41-11h0m-5 7h0m30 7h0m-14 8h0m15-21h0m-4 2h0m-2 2h0m-8 7h0m-4-7h0m-4-3h0m-2-4h0m-3-8h0m-2-4h0m-1-4h0m16 17h0m-1-4h0m-1-3h0m-3-5h0m18 21h0m-5 13h0m-1 3h0m-3 4h0m-1-21h0m-5 3h0m-3 1h0m-5 1h0m-5 0h0m-7-1h0m-5 3h0m-9-2h0m48-14h0m-2-3h0m-5-8h0m-1-4h0m-4-2h0m-4-4h0m-2-3h0m-4-3h0m15 37h0m-3 2h0m-9 10h0m-3 3h0m-5 2h0m22-31h0m-5-7h0m-4-8h0m14 19h0m-4-3h0m-14-16h0m-1-4h0m-12 22h0m-2-2h0m15 5h0m-18 4h0m-4 1h0m-3 4h0m-4 3h0m-3 2h0m46-12h0m-4 1h0m-3 2h0m-5 3h0m-5 6h0m0 4h0m-3 9h0m21-31h0m-11-7h0m-5-2h0m-3-4h0m-10-6h0m15 35h0m-2 4h0m-6 7h0m-4 4h0m-7 4h0m55-53h0m6-2h0m2-2h0m7-2h0m4 0h0m2 1h0m11-2h0m3-1h0m-29 19h0m4-1h0m10 3h0m3 1h0m8 2h0m3 2h0m5 2h0m20 7h0m2 3h0m3-2h0m-75-5h0m5-4h0m3 4h0m6-2h0m7 4h0m4 3h0m5 2h0m17 8h0m3 3h0m4 1h0m-48 1h0m4 1h0m8 4h0m3 2h0m2 3h0m7 3h0m3 2h0m-46-31h0m-4 2h0m-2 2h0m-4 1h0m-12 11h0m-3 2h0m-1 2h0m-13 5h0m-5 1h0m37-45h0m-9-5h0m-7-1h0m87-11h0m4 1h0m3 0h0m5 1h0m3-1h0" stroke="#22b4bb" stroke-width="2.6"/>
</g>
<g transform="scale(.5)" fill="none" stroke-linecap="round">
<path d="M704 856l-1 2-1 1-2 2-1 1-2 1-1 2-1 2-1 1-2 2-1 1-1 2-1 1-2 2-1 1-2 2-1 1-1 2-1 1-1 2-2 2-1 1-1 2-1 1-1 2-2 2-1 1M704 856l2 1 1 1 2 1 2 1 2 1 1 1 2 1 2 1 2 1 1 1 2 1 2 1 2 0 2 1 2 0 2 1 2 0 1 1 2 1 2 0 2 1 2 1 2 0 2 1M704 856l2-1 1-1 2-1 2-1 1-1 2-1 2-1 2-1 2-1 1-1 2-1 1-1 2-1 2-1 2-1 1-1 2-2 1-1 2-1 2-1 2-1 1-1 2-1M704 856l-1 2-1 1-2 2-1 1-1 2-2 1-1 1-2 2-1 1-1 2 0 2-1 2-1 2-1 1-1 2-1 2M704 856l0 2-1 2-1 2 0 2-1 1-1 2-1 2-1 2-1 2 0 2 0 2 0 2-1 1-1 2-1 2-1 1-2 2-1 2-1 1-1 2-1 2-1 1 0 2-1 2 0 2 0 2-1 2M704 856l-1 2-1 1-2 2-1 1-1 2-2 1-2 1-1 2-1 1-1 2-1 1-2 1-2 1-2 1-1 1-2 1-2 2-1 1-2 1-2 1-1 1-2 1-1 2-1 1-2 2-1 1-1 2-1 2-1 2-1 2 0 2M704 856l1 2 0 2 1 2 0 2 1 2 0 1 1 2 0 2 1 2 1 2 1 2 1 2 0 1 1 2 1 2 0 2 1 2 1 2 1 2 0 2 1 2 0 2 0 2 0 2 0 1-1 2-1 2-1 2-1 2M704 856l-2 1-1 1-1 2-2 2-1 1-1 2 0 2-1 2 0 2 0 2-1 2-1 1-1 2-1 2-1 2-1 1 0 2-1 2-1 2-1 2 0 2-1 2-1 1-1 2-1 2-1 2 0 2-1 1-1 2 0 2 0 2M704 856l2 1 2 0 2 1 2 0 1 1 2 1 2 1 2 1 1 1 2 1 2 1 1 2 1 1 2 2 1 1 2 1M704 856l-2 1-1 1-2 1-2 0-2 0-2 0-2 0-2 1-2 0-2 0-2 0-2 0-2 0-2 0-2 0-2 0-2 0M704 856l-1 2-1 2-1 1-1 2-1 2-1 1-2 1-1 2-2 1-2 1-2 1-1 1-2 1-1 2-2 1-2 1-1 0M704 856l0-2 0-2 1-2 0-2 0-2 0-2 1-2 0-2 1-2 0-2 0-2 1-2 0-2 1-2-1-2 0-2 0-1 0-2-1-2 0-2-1-2 0-2 0-2 0-2 1-2 1-2 1-1 2-2 1-1 1-2M704 856l2 0 2 1 2 1 1 1 2 2 1 1 1 2 1 1 2 2 1 1 2 1 1 1 2 1 2 2 2 1 1 0 2 1 2 1M704 856l0 2 0 2 0 2 1 2 0 2-1 2 0 2-1 2 0 2 0 2-1 2-1 2-1 1-1 2-1 1-1 2 0 2-1 2 0 2 0 2 1 2-1 2" stroke="#555" stroke-width="0.8" stroke-linejoin="round"/>
<path d="M572 647l3 1 5 0 4 2 5 1 4 2 3 1 4 2 3 3 5-1 3 2 3 4 4 0 6 2 3 2 6 2-1 3 4 3 5 0 4 0 5 2 2-1 8 1 3 1 4-3 4 3 5 2 5 2 3-3 4-2M678 663l0 1 6 0 5-3 3 1 4 1 5 0 2 1 5 1 4 1 3 1 6 0 4 1 1 0M699 683l4-5 2-2 5-3 3 5 5-3 6 2 2-1 3-2 6-2 4-2 4-1 3-4 4 0 2-1M698 680l0 4-2 2-1 6 0 5 0 2-1 5-1 5 1 3-2 3 3 4 1 4 0 4 3 5 1 5 1 2 3 3 5 2M719 685l-3 4 1 3-1 3-2 4-4 5 0 4 0 5 0 4 2 5 0 4 0 5 1 3 2 3-1 3M692 706l-6 1-2-2-2 1M710 714l2-3 7 1 1-2M716 740l0-4 2-4" stroke="#b04040" stroke-width="1.8" stroke-linejoin="round"/>
<defs><path id="p188" d="M722 785h0m7-3h0m-28 75h0m13-1h0m-31-16h0m38-18h0m-19 15h0m7 6h0m6 5h0m-21-7h0m13-14h0m-4 8h0m7 1h0m-4 7h0m-2 4h0m-4-23h0m25 4h0m5-1h0m-17-12h0m-15 57h0m13-40h0m-14 6h0m7-7h0m17 27h0"/></defs>
<use href="#p188" stroke="#2a939f" stroke-width="4.9"/>
<use href="#p188" stroke="#3cd2e4" stroke-width="4.2"/>
<defs><path id="p189" d="M699 839h0m1 6h0m3-26h0m-9 31h0m-16-11h0m25 12h0m18-26h0m-4-9h0m-33 18h0m40 19h0m-28-5h0m3 2h0m-11 5h0m10-33h0m-6-5h0m14 37h0m10-41h0m-11 21h0m14-27h0m-53 28h0m49-3h0m-28 14h0m-2 0h0m-3 4h0m-13 11h0m-6 6h0"/></defs>
<use href="#p189" stroke="#941694" stroke-width="4.9"/>
<use href="#p189" stroke="#d420d4" stroke-width="4.2"/>
<defs><path id="p190" d="M697 760h0m1 12h0m14-21h0m0 2h0m-2 21h0m-1 14h0m2 5h0m7-6h0m2-1h0m5-1h0m-18 63h0m-5-33h0m0 16h0m0 26h0m8-16h0m17-38h0m12-6h0m3-1h0m2-1h0"/></defs>
<use href="#p190" stroke="#219821" stroke-width="4.9"/>
<use href="#p190" stroke="#30da30" stroke-width="4.2"/>
<defs><path id="p191" d="M633 670h0"/></defs>
<use href="#p191" stroke="#a59713" stroke-width="4.3"/>
<use href="#p191" stroke="#ecd81c" stroke-width="3.6"/>
<defs><path id="p192" d="M701 787h0"/></defs>
<use href="#p192" stroke="#941a1a" stroke-width="4.9"/>
<use href="#p192" stroke="#d42626" stroke-width="4.2"/>
<defs><path id="p193" d="M713 714h0"/></defs>
<use href="#p193" stroke="#219821" stroke-width="4.5"/>
<use href="#p193" stroke="#30da30" stroke-width="3.8"/>
<defs><path id="p194" d="M572 647h0m12 3h0m18 8h0m43 18h0m8 1h0m6 1h0m9 1h0m13 4h0m7-4h0"/></defs>
<use href="#p194" stroke="#941a1a" stroke-width="4.3"/>
<use href="#p194" stroke="#d42626" stroke-width="3.6"/>
<defs><path id="p195" d="M697 768h0m-12 55h0m36-9h0m-20 23h0m-4 3h0m18 8h0m3-18h0m-14-10h0m1-3h0m7 21h0m-9 0h0m-8 14h0m-2-4h0m20 5h0m6-20h0m2-13h0m-6-6h0m-11 8h0m0-5h0m-17 17h0m-4-3h0m24 3h0m-18 12h0m18-24h0m-8-10h0m5 49h0m1-25h0m3-3h0m-11 19h0m-5 2h0m10-28h0m-3 12h0m10-8h0m-6 11h0m8 5h0m5 6h0m1 2h0m-11-12h0m14-11h0m7-4h0m8-1h0m2-1h0m-31 24h0m-5 1h0m20-26h0m2-1h0m-20 3h0m5 1h0m7-13h0m-14 27h0m-24-4h0m-5 1h0m34-3h0m-2 1h0m23 17h0m3 1h0m-49-29h0m-5 0h0m36 29h0m-1 3h0m5-23h0m4 15h0m1 2h0m0 8h0m-32-14h0"/></defs>
<use href="#p195" stroke="#a59713" stroke-width="4.9"/>
<use href="#p195" stroke="#ecd81c" stroke-width="4.2"/>
<defs><path id="p196" d="M707 676h0m-11 14h0m21 2h0m-1 4h0"/></defs>
<use href="#p196" stroke="#a59713" stroke-width="4.5"/>
<use href="#p196" stroke="#ecd81c" stroke-width="3.8"/>
<defs><path id="p197" d="M590 651h0"/></defs>
<use href="#p197" stroke="#219821" stroke-width="4.3"/>
<use href="#p197" stroke="#30da30" stroke-width="3.6"/>
<defs><path id="p198" d="M704 820h0m3 37h0m13-53h0m-18 50h0"/></defs>
<use href="#p198" stroke="#a27ba2" stroke-width="4.9"/>
<use href="#p198" stroke="#e8b0e8" stroke-width="4.2"/>
<defs><path id="p199" d="M686 663h0m6-1h0m8 3h0m1-1h0m5 0h0m6 2h0m10 2h0m-4 7h0m14-1h0m8-4h0m6-5h0m-53 36h0m-1 9h0m5 18h0m22-43h0m-3 5h0m-2 4h0m0 1h0m-4 11h0m0 11h0m2 12h0m5-18h0m3 0h0m-4 29h0m2-5h0m0-3h0"/></defs>
<use href="#p199" stroke="#941a1a" stroke-width="4.5"/>
<use href="#p199" stroke="#d42626" stroke-width="3.8"/>
<defs><path id="p200" d="M693 661h0m10 17h0m-9 17h0"/></defs>
<use href="#p200" stroke="#a59713" stroke-width="4.5"/>
<use href="#p200" stroke="#ecd81c" stroke-width="3.8"/>
<defs><path id="p201" d="M696 762h0"/></defs>
<use href="#p201" stroke="#941a1a" stroke-width="4.9"/>
<use href="#p201" stroke="#d42626" stroke-width="4.2"/>
<defs><path id="p202" d="M712 760h0m-2 11h0m17 12h0m-11 32h0m-8 37h0m4 3h0m-2-5h0m-17-32h0m-14 10h0m19 9h0m-7 7h0m23 6h0m-16 4h0m22-28h0m-41 10h0m-3-1h0m42 19h0m0-17h0m-2 5h0"/></defs>
<use href="#p202" stroke="#2a939f" stroke-width="4.9"/>
<use href="#p202" stroke="#3cd2e4" stroke-width="4.2"/>
<defs><path id="p203" d="M595 654h0"/></defs>
<use href="#p203" stroke="#219821" stroke-width="4.3"/>
<use href="#p203" stroke="#30da30" stroke-width="3.6"/>
<defs><path id="p204" d="M625 666h0m12 10h0m14 2h0m16-2h0m3 4h0m12 0h0m3 0h0"/></defs>
<use href="#p204" stroke="#941a1a" stroke-width="4.3"/>
<use href="#p204" stroke="#d42626" stroke-width="3.6"/>
<defs><path id="p205" d="M700 744h0m-4 26h0m7 22h0m9-28h0m-27 57h0m21-5h0m-12 25h0m23-9h0m-15 15h0m4-32h0m16 26h0m-2-1h0m-11-6h0m0 19h0m-1 5h0m18-18h0m-2 0h0m-8-1h0m-5-1h0m-4 11h0m-2 8h0m-20-16h0m-4-2h0m25 12h0m-10-32h0m22 16h0m1-17h0m-16-3h0m-6 21h0m-2 0h0m16 9h0m-11-12h0m-15 17h0m24-13h0m0-2h0m-2-5h0m-8-10h0m0-2h0m0-3h0m8 20h0m5-6h0m-3 10h0m-7 10h0m10-7h0m-9-8h0m2-1h0m7-4h0m7-3h0m4-3h0m2-1h0m-20 19h0m2 2h0m6 5h0m6 8h0m-7-19h0m11-7h0m9-4h0m11-1h0m-41 9h0m1 10h0m1 3h0m3 4h0m-11 4h0m23-28h0m-6-9h0m1-2h0m7-14h0m0-3h0m-20 63h0m-1-34h0m1 16h0m0 15h0m-2-21h0m-10 1h0m-18-4h0m42 11h0m5 2h0m2 2h0m5 2h0m9 5h0m-28-25h0m-7-1h0m-6-1h0m-2-1h0m17 10h0m5 6h0m3 4h0m1-10h0m-5 13h0m6-13h0m1 2h0m1 5h0m1 8h0m-45-1h0m-9 9h0"/></defs>
<use href="#p205" stroke="#a59713" stroke-width="4.9"/>
<use href="#p205" stroke="#ecd81c" stroke-width="4.2"/>
<defs><path id="p206" d="M678 664h0m17-1h0m14 2h0m6 1h0m-16 17h0m11-10h0m4 4h0m13-1h0m11-5h0m5-2h0m-49 29h0m-1 10h0m1 4h0m-2 3h0m4 8h0m3 11h0m4 7h0m8-38h0m-3 13h0m5 18h0m-21-28h0m-3 1h0"/></defs>
<use href="#p206" stroke="#941a1a" stroke-width="4.5"/>
<use href="#p206" stroke="#d42626" stroke-width="3.8"/>
<defs><path id="p207" d="M716 845h0m-13-23h0m1 37h0m14-21h0m-11 3h0m-6 23h0m-1 3h0"/></defs>
<use href="#p207" stroke="#a27ba2" stroke-width="4.9"/>
<use href="#p207" stroke="#e8b0e8" stroke-width="4.2"/>
<defs><path id="p208" d="M698 748h0m-1 2h0m0 7h0m12 21h0m7 11h0m15-8h0m-20 67h0m-5-10h0m-4 1h0m-1-3h0m12-5h0m3 17h0"/></defs>
<use href="#p208" stroke="#219821" stroke-width="4.9"/>
<use href="#p208" stroke="#30da30" stroke-width="4.2"/>
<defs><path id="p209" d="M685 818h0m16 20h0m-5 1h0m-9 9h0m22 1h0m1-11h0m-9-10h0m0 13h0m15-30h0m-15 41h0m-23 1h0m-17 16h0m-3 4h0"/></defs>
<use href="#p209" stroke="#941694" stroke-width="4.9"/>
<use href="#p209" stroke="#d420d4" stroke-width="4.2"/>
<defs><path id="p210" d="M700 746h0m-4 9h0m3 26h0m3 8h0m9-43h0m1 9h0m-1 14h0m-1 11h0m0 13h0m5-1h0m23-14h0m-22 59h0m-12 21h0m10-30h0m-20 10h0m13 4h0m17-35h0m1-2h0m6-4h0m1-1h0m3-1h0m2-1h0m9-5h0"/></defs>
<use href="#p210" stroke="#219821" stroke-width="4.9"/>
<use href="#p210" stroke="#30da30" stroke-width="4.2"/>
<defs><path id="p211" d="M701 740h0m10 26h0m-1 10h0m-1 7h0m-1 32h0m3 0h0m-19 27h0m-3-1h0m-2 0h0m17 8h0m12 9h0m-18-4h0m-2 5h0m11-49h0m8 28h0m-5-2h0m-4-7h0m2 32h0m0-14h0m-12 8h0m0-6h0m5 1h0m7 2h0m-20-35h0m12-6h0m-11 23h0m3 1h0m15-7h0m0 3h0m0 5h0m0 3h0m1 2h0m5 6h0m5 2h0m2 2h0m-17-31h0m-1 5h0m-1 5h0m-2 5h0m28-13h0m-19 10h0m-5 6h0m0-6h0m0-2h0m-3-7h0m-3 20h0m17-16h0m4-3h0m-7 20h0m-1 3h0m-5 9h0m-4-20h0m15-9h0m5 31h0m-7-23h0m4-3h0m-15-5h0m-1 2h0m0 8h0m7 19h0m2 2h0m-8-9h0m17-25h0m-5 9h0m-7-12h0m10-9h0m-18 31h0m3-6h0m4-7h0m4-7h0m-12 40h0m-25-28h0m-5 0h0m40 9h0m-20-16h0m-3-1h0m-12-2h0m6 26h0m-9 7h0m1 2h0m-7 4h0m-6 7h0"/></defs>
<use href="#p211" stroke="#a59713" stroke-width="4.9"/>
<use href="#p211" stroke="#ecd81c" stroke-width="4.2"/>
<defs><path id="p212" d="M678 663h0m6 1h0m5-3h0m14 3h0m11 0h0m3 2h0m3 1h0m-19 13h0m20-5h0m4 0h0m9-3h0m15-7h0m-55 28h0m-1 24h0m2 2h0m0 1h0m11 23h0m3 1h0m8-57h0m-6 33h0m1 3h0m0 3h0m2 13h0m-27-32h0m-4-1h0m29 5h0m3 0h0"/></defs>
<use href="#p212" stroke="#941a1a" stroke-width="4.5"/>
<use href="#p212" stroke="#d42626" stroke-width="3.8"/>
<defs><path id="p213" d="M683 833h0m-5-3h0m26-5h0m9 13h0m-32-4h0m-2 1h0m23-12h0m8 17h0m-12 1h0m22-17h0m-24-4h0m12 31h0m0-11h0m-3 7h0m1-15h0m6-11h0m-20 46h0m9-18h0m-2 20h0m5-28h0"/></defs>
<use href="#p213" stroke="#2a939f" stroke-width="4.9"/>
<use href="#p213" stroke="#3cd2e4" stroke-width="4.2"/>
<defs><path id="p214" d="M676 681h0"/></defs>
<use href="#p214" stroke="#219821" stroke-width="4.3"/>
<use href="#p214" stroke="#30da30" stroke-width="3.6"/>
<defs><path id="p215" d="M705 853h0m-6-1h0m18-13h0m-12-12h0m-13 18h0m-2-1h0m10-7h0m-19-7h0m12 13h0m14-19h0m1 30h0m11 2h0m-4-12h0m-3 18h0m9-5h0m-31-14h0m-34 31h0"/></defs>
<use href="#p215" stroke="#941694" stroke-width="4.9"/>
<use href="#p215" stroke="#d420d4" stroke-width="4.2"/>
<defs><path id="p216" d="M698 665h0m31 10h0m-37 28h0m8 34h0m9-26h0"/></defs>
<use href="#p216" stroke="#a59713" stroke-width="4.5"/>
<use href="#p216" stroke="#ecd81c" stroke-width="3.8"/>
<defs><path id="p217" d="M699 742h0m-3 11h0m1 23h0"/></defs>
<use href="#p217" stroke="#941a1a" stroke-width="4.9"/>
<use href="#p217" stroke="#d42626" stroke-width="4.2"/>
<defs><path id="p218" d="M698 844h0m4-17h0m8 4h0m-6-4h0m-7 38h0m-11-27h0"/></defs>
<use href="#p218" stroke="#a27ba2" stroke-width="4.9"/>
<use href="#p218" stroke="#e8b0e8" stroke-width="4.2"/>
<defs><path id="p219" d="M600 656h0m27 12h0m5 3h0m1 2h0m21 5h0m8 1h0m11 1h0m5 2h0"/></defs>
<use href="#p219" stroke="#941a1a" stroke-width="4.3"/>
<use href="#p219" stroke="#d42626" stroke-width="3.6"/>
<defs><path id="p220" d="M716 675h0"/></defs>
<use href="#p220" stroke="#2a939f" stroke-width="4.5"/>
<use href="#p220" stroke="#3cd2e4" stroke-width="3.8"/>
<defs><path id="p221" d="M681 663h0m24 15h0m38-12h0m-49 39h0m18 27h0m-2-18h0"/></defs>
<use href="#p221" stroke="#219821" stroke-width="4.5"/>
<use href="#p221" stroke="#30da30" stroke-width="3.8"/>
<defs><path id="p222" d="M574 648h0m56 20h0"/></defs>
<use href="#p222" stroke="#219821" stroke-width="4.3"/>
<use href="#p222" stroke="#30da30" stroke-width="3.6"/>
<defs><path id="p223" d="M697 726h0m19 11h0"/></defs>
<use href="#p223" stroke="#a59713" stroke-width="4.5"/>
<use href="#p223" stroke="#ecd81c" stroke-width="3.8"/>
<defs><path id="p224" d="M733 780h0m3 0h0m-33 56h0m13-1h0m-20 7h0m22 17h0m-11-47h0m4 31h0m-2 2h0m2 7h0m-20-34h0m16 1h0m-5 19h0m-12 16h0m4-35h0m34 2h0m-44 16h0m12-7h0m19 17h0m-1 0h0"/></defs>
<use href="#p224" stroke="#2a939f" stroke-width="4.9"/>
<use href="#p224" stroke="#3cd2e4" stroke-width="4.2"/>
<defs><path id="p225" d="M696 765h0m3 18h0m1 3h0m13-38h0m-1 9h0m1 5h0m-3 23h0m3 7h0m-13 67h0m-13-26h0m35 19h0m-6-26h0m12 1h0m-27 4h0m27-30h0"/></defs>
<use href="#p225" stroke="#219821" stroke-width="4.9"/>
<use href="#p225" stroke="#30da30" stroke-width="4.2"/>
<defs><path id="p226" d="M725 668h0m-16 7h0m3 1h0m12 0h0m11-4h0m17-8h0m-54 16h0m1 3h0m-2 2h0m-1 2h0m2 44h0m3 8h0m13-41h0m-1 3h0m-3 8h0m-1 5h0m6 22h0m-30-31h0"/></defs>
<use href="#p226" stroke="#941a1a" stroke-width="4.5"/>
<use href="#p226" stroke="#d42626" stroke-width="3.8"/>
<defs><path id="p227" d="M698 774h0m0 4h0m10 12h0m0 56h0m-2 5h0m-3 4h0m15-40h0m-38 17h0m31 22h0m2-2h0m1-2h0m2-10h0m-11 11h0m5 2h0m-13 4h0m6-35h0m5 9h0m4 15h0m7-7h0m-11-1h0m-1 14h0m-1 2h0m-9 3h0m1-7h0m22-23h0m-30 7h0m-5-1h0m18-16h0m-1 11h0m23-4h0m-17-7h0m0-3h0m0-2h0m-7 13h0m5 34h0m-6-19h0m23-15h0m2 1h0m-20 20h0m-10 7h0m19-16h0m-1 3h0m-11 20h0m5-28h0m14-8h0m-12 20h0m7-10h0m24-9h0m-38 14h0m1 3h0m4 3h0m-7 7h0m16-21h0m-11-7h0m2-1h0m3-5h0m1-1h0m-2 8h0m9-16h0m-24 57h0m7-35h0m0 2h0m0 6h0m0 7h0m0 16h0m-27-25h0m34-3h0m-6 3h0m-11 1h0m-12-2h0m32 9h0m12 6h0m9 4h0m-48-29h0m-5-1h0m33 18h0m1 6h0m-2 10h0m10 5h0m-38-16h0m-19 18h0"/></defs>
<use href="#p227" stroke="#a59713" stroke-width="4.9"/>
<use href="#p227" stroke="#ecd81c" stroke-width="4.2"/>
<defs><path id="p228" d="M716 842h0m-35-6h0m40 26h0"/></defs>
<use href="#p228" stroke="#a27ba2" stroke-width="4.9"/>
<use href="#p228" stroke="#e8b0e8" stroke-width="4.2"/>
<defs><path id="p229" d="M579 649h0m57 25h0m6 2h0"/></defs>
<use href="#p229" stroke="#a59713" stroke-width="4.3"/>
<use href="#p229" stroke="#ecd81c" stroke-width="3.6"/>
<defs><path id="p230" d="M713 815h0m0 28h0m-5 12h0m13-15h0m-18 22h0m-15-20h0m32-12h0m-6-18h0m-13 1h0m28 7h0m-32 26h0m21-17h0m-1 22h0m5 10h0m-5-25h0m2 8h0m-45 12h0m-1 1h0"/></defs>
<use href="#p230" stroke="#941694" stroke-width="4.9"/>
<use href="#p230" stroke="#d420d4" stroke-width="4.2"/>
<defs><path id="p231" d="M616 663h0"/></defs>
<use href="#p231" stroke="#a27ba2" stroke-width="4.3"/>
<use href="#p231" stroke="#e8b0e8" stroke-width="3.6"/>
<defs><path id="p232" d="M607 659h0m33 18h0m8 0h0m8 0h0m9 2h0"/></defs>
<use href="#p232" stroke="#941a1a" stroke-width="4.3"/>
<use href="#p232" stroke="#d42626" stroke-width="3.6"/>
</g>
<g transform="scale(.5)" fill="none" stroke-linecap="round">
<path d="M864 856l-1 2 0 2-1 2 0 2 0 2 0 2 0 2-1 2 0 2-1 1 0 2 0 2-1 2 0 2M864 856l1 2 0 2 1 2 0 2 0 2 0 2 1 2 0 2-1 2 0 2-1 1-1 2-1 2-1 2-1 1-2 2-1 1M864 856l-1 2 0 2 0 2-1 2-1 1-1 2-1 2 0 2-1 2-1 1-2 2-1 2-1 1-1 2-1 2-1 2-1 1 0 2-1 2-1 2 0 2-1 2 0 2-1 2 0 2M864 856l-2 1-1 1-2 1-2 1-1 1-2 2-1 1-2 1-2 1-2 1-2 1-1 1-1 1-1 2 0 2-1 2 0 2 0 2M864 856l1 2 0 2 1 2 0 2 1 2 0 2 1 1 0 2 0 2 0 2 0 2 0 2 1 2 1 2 0 2 0 2 2 2 1 1 1 2 1 1 1 2 1 2 1 1 2 2 1 1M864 856l-1 2 0 2-1 2-1 2 0 1-1 2-1 2-1 2-2 1-2 1-1 2-1 1-1 2 0 2-1 2-1 2 0 2-1 2 0 2 0 2-1 2 0 2-1 1 0 2-1 2 0 2M864 856l0 2 0 2 1 2 1 2 1 2 0 1 1 2 1 2 0 2 0 2 0 2 0 2-1 2 0 2 0 2-1 2 0 2 0 2 0 2 0 2 0 2 1 2-1 2 0 2M864 856l-1 2 0 2 1 2 0 2 0 2 0 2 0 2-1 2 0 2 0 2 0 2 0 2 1 1 0 2 1 2 1 2 1 2 1 2 1 1 0 2 1 2 2 2 1 1 2 1M864 856l1 2 1 1 1 2 2 2 1 1 1 2 1 2 1 1 1 2 2 1 2 1 1 1 2 1 1 1 2 2 1 1M864 856l-1 2 0 2 0 2-1 2-1 1-1 2-1 2-1 2 0 2-1 2 0 2 0 2 0 2 0 2 1 2 0 2M864 856l1 2 0 2-1 2 0 2 0 2 0 2-1 2 0 2-1 2-1 1-1 2-1 2 0 2-1 1-2 2-2 1-1 1M864 856l-2 1-1 1-2 1-2 1-1 1-1 2-1 2-1 2 0 2-1 2-1 1-1 2-1 2-1 2 0 2 0 2-1 2 0 1 0 2 0 2-1 2 1 2 0 2 0 2 0 2 0 2 0 2M864 856l-2 1-2 0-2 1-2 0-2 0-2 1-2 0-2 0-1 1-2 0-2 1-2 1-2 1-2 0-2 1-2 0-2-1-2-1M864 856l-1 2-1 1-2 2-1 1-2 1 0 2-1 2-2 2-1 1-1 2-1 2-1 1 0 2-1 2 0 2" stroke="#555" stroke-width="0.8" stroke-linejoin="round"/>
<path d="M850 644l5 1 4 1 1 3 6 2 4 2 6 3 3 2 3 2M873 661l5-3 4-2 4-3 5 3 4 0 4 1 6-1 4 1 3 2 4 4 2 4 3 1 5 1 6 1 2 0 5-2 5 1 2 1M874 660l0 5 4 2 2 4 1 5 1 4 2 5 1 4 0 3 2 3 0 5M867 646l1 7 0 3 3 5 4 2-2 5 3 4M888 671l0 5 0 3-1 6 1 4 0 3 0 4 0 4-1 4 1 4 1 5-1 4 0 4 0 3-1 5 1 3 0 5 0 3 0 5 0 3 0 3M887 672l0 4 0 4 1 4 1 4-1 6 0 5 0 3-1 5-1 3 0 5 1 5-1 5 1 2 0 5 1 4 1 4 1 4 0 5 0 1M890 750l-2 5 0 3 0 4 1 5 0 5 0 5 0 2 0 5-1 4 2 4 0 3-1 5 1 4-2 5 1 2M890 750l0 4 0 4-1 3 0 5 0 4 0 4 0 4-2 5 2 4 1 4 0 5-2 4 0 4 0 4 0 4M850 709l4 1 4 3 2 4 4 1 4 2 2 4 3 5 3 4 4 3-1 3 0 4 4 6-1 2M883 750l-7 2-6 1-3 1-5 3-4 4 0 4 1 4 5 5 1-1M890 725l3-1 5-2 4-1 5 0 7 1 4 2M869 784l0 6 0 4 1 4-1 3 2 6 0 3-1 5" stroke="#b04040" stroke-width="1.8" stroke-linejoin="round"/>
<defs><path id="p233" d="M888 688h0m0 8h0m1 89h0m-19 13h0"/></defs>
<use href="#p233" stroke="#941694" stroke-width="4.5"/>
<use href="#p233" stroke="#d420d4" stroke-width="3.8"/>
<defs><path id="p234" d="M855 645h0m19 184h0m10 0h0m-9 2h0m-5 2h0m-6 8h0m15 8h0m-7-8h0m-22-3h0m13-6h0m2-3h0m-1-8h0m7 25h0m4-11h0m18 4h0m-42-2h0m42 3h0m4-2h0m-25-17h0m-12-2h0m14 25h0m0 3h0m-9-6h0m40-7h0m-21 9h0m2 2h0m-14-20h0m-11 10h0m10 12h0m8 2h0m-71-1h0m94-21h0m-12 35h0"/></defs>
<use href="#p234" stroke="#2a939f" stroke-width="4.9"/>
<use href="#p234" stroke="#3cd2e4" stroke-width="4.2"/>
<defs><path id="p235" d="M868 649h0"/></defs>
<use href="#p235" stroke="#219821" stroke-width="4.9"/>
<use href="#p235" stroke="#30da30" stroke-width="4.2"/>
<defs><path id="p236" d="M855 645h0m10 6h0m5 2h0m10 5h0m2 2h0m-7-1h0m5-3h0m13 0h0m26 12h0m13 1h0m11 0h0m-68-6h0m10 25h0m2 8h0m-16-35h0m17 18h0m-1 6h0m1 5h0m-1 3h0m1 14h0m0 14h0m0 11h0m-1-40h0m1 3h0m0 2h0m-1 6h0m0 3h0m0 28h0m2 9h0m1 5h0m-33-36h0m4 5h0m14 14h0m3 3h0m1 5h0m29-18h0"/></defs>
<use href="#p236" stroke="#941a1a" stroke-width="4.5"/>
<use href="#p236" stroke="#d42626" stroke-width="3.8"/>
<defs><path id="p237" d="M910 656h0m-22 27h0m1 97h0m0 3h0m0 24h0m0-47h0m1 9h0m-1 11h0m-1 3h0m1 5h0m-9-52h0m-13 18h0m-8 14h0m31-43h0"/></defs>
<use href="#p237" stroke="#219821" stroke-width="4.5"/>
<use href="#p237" stroke="#30da30" stroke-width="3.8"/>
<defs><path id="p238" d="M881 677h0m8 89h0m0 27h0m-1 17h0m-18-15h0"/></defs>
<use href="#p238" stroke="#2a939f" stroke-width="4.5"/>
<use href="#p238" stroke="#3cd2e4" stroke-width="3.8"/>
<defs><path id="p239" d="M877 847h0m-14-25h0m-15 18h0m55-5h0m-25 3h0m-5 1h0m10 17h0m-23-24h0m21 3h0m-12 1h0m-31 11h0m66-18h0m2 1h0m-22 25h0m17 10h0m-9 2h0m4 6h0m5 7h0m8 9h0"/></defs>
<use href="#p239" stroke="#941694" stroke-width="4.9"/>
<use href="#p239" stroke="#d420d4" stroke-width="4.2"/>
<defs><path id="p240" d="M869 832h0m4 15h0m-3 5h0m6 2h0m-23-20h0m6-1h0m15 9h0m-2-1h0m11-18h0m7 39h0"/></defs>
<use href="#p240" stroke="#a27ba2" stroke-width="4.9"/>
<use href="#p240" stroke="#e8b0e8" stroke-width="4.2"/>
<defs><path id="p241" d="M888 833h0m2-1h0m-8-3h0m5 0h0m-27 21h0m-4-26h0m19 21h0m-4-6h0m-2-5h0m0-5h0m3-13h0m-22 23h0m19-1h0m0-9h0m23 15h0m-20 6h0m-23-13h0m13-10h0m3-5h0m5-1h0m-5-2h0m9 23h0m-19 2h0m-11 6h0m41-12h0m11-1h0m-45-3h0m-14-12h0m38 17h0m-7-1h0m-3 0h0m-28-13h0m16 13h0m28 10h0m1 3h0m-14-21h0m0 9h0m-2 6h0m-10-17h0m-5-2h0m26 12h0m-2 2h0m-18-18h0m-2-2h0m19 13h0m4-4h0m-60 18h0m-2 1h0m-10 0h0m39-26h0m-2-1h0m-7-1h0m-10-6h0m64 9h0m2-1h0m2 0h0m6 4h0m8 43h0m8 2h0m7 3h0m-24 4h0"/></defs>
<use href="#p241" stroke="#a59713" stroke-width="4.9"/>
<use href="#p241" stroke="#ecd81c" stroke-width="4.2"/>
<defs><path id="p242" d="M854 649h0m0-2h0m8 5h0m-5-5h0m24 8h0m-32-1h0m21-12h0m-14 10h0m5-8h0m6 3h0"/></defs>
<use href="#p242" stroke="#941a1a" stroke-width="4.9"/>
<use href="#p242" stroke="#d42626" stroke-width="4.2"/>
<defs><path id="p243" d="M856 646h0m2 3h0m8 8h0m8 2h0m-17-6h0m11-7h0m-7 0h0m16-1h0"/></defs>
<use href="#p243" stroke="#941a1a" stroke-width="4.9"/>
<use href="#p243" stroke="#d42626" stroke-width="4.2"/>
<defs><path id="p244" d="M871 809h0"/></defs>
<use href="#p244" stroke="#941694" stroke-width="4.5"/>
<use href="#p244" stroke="#d420d4" stroke-width="3.8"/>
<defs><path id="p245" d="M872 655h0m10 28h0m6 88h0m1 25h0m1-46h0m-2 27h0m2 19h0m-33-30h0"/></defs>
<use href="#p245" stroke="#219821" stroke-width="4.5"/>
<use href="#p245" stroke="#30da30" stroke-width="3.8"/>
<defs><path id="p246" d="M874 826h0m-3 10h0m17-2h0m-17-5h0m-12-1h0m31 13h0m-8 12h0m10 0h0m-21-10h0m-6-6h0m-2-2h0m-14-10h0m17 7h0m46 38h0"/></defs>
<use href="#p246" stroke="#a27ba2" stroke-width="4.9"/>
<use href="#p246" stroke="#e8b0e8" stroke-width="4.2"/>
<defs><path id="p247" d="M870 838h0m21-7h0m-27 4h0m-16 9h0m29-8h0m-8-9h0m9 35h0m-8-23h0m-27 13h0m58-16h0m-54-6h0m44 21h0m-25-14h0m11 6h0m-19-13h0m46 51h0"/></defs>
<use href="#p247" stroke="#2a939f" stroke-width="4.9"/>
<use href="#p247" stroke="#3cd2e4" stroke-width="4.2"/>
<defs><path id="p248" d="M904 656h0m-15 134h0m1 14h0m0-14h0m-21 11h0m1 11h0"/></defs>
<use href="#p248" stroke="#2a939f" stroke-width="4.5"/>
<use href="#p248" stroke="#3cd2e4" stroke-width="3.8"/>
<defs><path id="p249" d="M859 853h0m21-16h0m-9-6h0m-3-7h0m12 15h0m10-1h0m8-1h0m9-5h0m-67-6h0m8 15h0m-4 3h0m33-23h0m-13 25h0m4 8h0m13-15h0m-30 5h0m-9 1h0m-9 1h0m-5 0h0m80-12h0m-17 28h0m5 2h0m25 9h0m6 1h0m-38-13h0m17 21h0m5 7h0"/></defs>
<use href="#p249" stroke="#941694" stroke-width="4.9"/>
<use href="#p249" stroke="#d420d4" stroke-width="4.2"/>
<defs><path id="p250" d="M850 644h0m2 0h0m7 3h0m16 9h0m3 2h0m7-4h0m13 3h0m14 2h0m4 4h0m14 7h0m10-2h0m6 2h0m-62 15h0m3 8h0m-1 6h0m-19-53h0m2 11h0m5 7h0m14 7h0m-1 33h0m1 14h0m0 20h0m0 8h0m0 3h0m-2-35h0m1 6h0m-1 3h0m1 8h0m1 6h0m2 8h0m-27-27h0m1 2h0m1 1h0m7 7h0m9 14h0m-17 13h0m28-31h0m7-3h0m6 0h0"/></defs>
<use href="#p250" stroke="#941a1a" stroke-width="4.5"/>
<use href="#p250" stroke="#d42626" stroke-width="3.8"/>
<defs><path id="p251" d="M893 832h0m-23 9h0m0 5h0m0 5h0m13 0h0m1-7h0m1-6h0m-24-9h0m8 0h0m8 1h0m-5 2h0m-9 11h0m-6-17h0m16 18h0m-3-18h0m-12 3h0m-2-1h0m8-2h0m-2 26h0m27-22h0m0 2h0m3 4h0m-16 7h0m-1 3h0m-1 2h0m-11-24h0m4-7h0m21 26h0m-13-21h0m-25 24h0m-2 1h0m25-7h0m5-1h0m10-1h0m-43-9h0m35 8h0m-10 2h0m-10-2h0m-10-4h0m-8-5h0m-7-4h0m11 18h0m35 4h0m-6-24h0m-18 10h0m-1-3h0m-2-2h0m-9-8h0m25 21h0m2 4h0m8 0h0m-13-10h0m-2-5h0m-2-2h0m-4-3h0m-8-7h0m15 20h0m8-2h0m5-2h0m2 0h0m0-8h0m-35 21h0m-15 0h0m-11 2h0m34-21h0m-2-2h0m-5-1h0m-6-3h0m68 15h0m-23 20h0m20 11h0"/></defs>
<use href="#p251" stroke="#a59713" stroke-width="4.9"/>
<use href="#p251" stroke="#ecd81c" stroke-width="4.2"/>
<defs><path id="p252" d="M861 650h0m10 8h0m-5-13h0m2 7h0m0 2h0m0-10h0m-10 7h0m17-5h0m-5 2h0"/></defs>
<use href="#p252" stroke="#941a1a" stroke-width="4.9"/>
<use href="#p252" stroke="#d42626" stroke-width="4.2"/>
<defs><path id="p253" d="M858 761h0"/></defs>
<use href="#p253" stroke="#a59713" stroke-width="4.5"/>
<use href="#p253" stroke="#ecd81c" stroke-width="3.8"/>
<defs><path id="p254" d="M877 656h0m9 34h0m-12-23h0m12 58h0m2 33h0m0 11h0m0 5h0m1 12h0m0 15h0m1-48h0m-1 13h0m-1 38h0m-35-96h0m30 42h0m-6 1h0m39-27h0"/></defs>
<use href="#p254" stroke="#219821" stroke-width="4.5"/>
<use href="#p254" stroke="#30da30" stroke-width="3.8"/>
<defs><path id="p255" d="M888 713h0m0-24h0m0 63h0m1 46h0m-1 11h0m0-54h0m1 19h0m-18 32h0"/></defs>
<use href="#p255" stroke="#941694" stroke-width="4.5"/>
<use href="#p255" stroke="#d420d4" stroke-width="3.8"/>
<defs><path id="p256" d="M931 669h0m-62 115h0m0 6h0"/></defs>
<use href="#p256" stroke="#2a939f" stroke-width="4.5"/>
<use href="#p256" stroke="#3cd2e4" stroke-width="3.8"/>
<defs><path id="p257" d="M856 647h0m7 2h0m4 4h0m6 8h0m9-5h0m5-2h0m3 1h0m11 1h0m21 12h0m6 1h0m6 1h0m-60-5h0m8 15h0m-16-32h0m1 3h0m1 3h0m19 20h0m0 3h0m0 5h0m1 42h0m-1 3h0m1 2h0m0 15h0m-1-72h0m0 5h0m1 9h0m-1 23h0m-1 2h0m1 6h0m0 11h0m-19-8h0m1 3h0m11 21h0m1 2h0m2 3h0m-20 24h0m31-51h0m17-1h0"/></defs>
<use href="#p257" stroke="#941a1a" stroke-width="4.5"/>
<use href="#p257" stroke="#d42626" stroke-width="3.8"/>
<defs><path id="p258" d="M872 647h0m14 187h0m5-1h0m7-3h0m-40 0h0m21-1h0m-11 5h0m-6 11h0m-1-15h0m9-9h0m1-2h0m-17 8h0m17 16h0m-1-3h0m-2-4h0m-1-2h0m-1-3h0m-2-7h0m-1-5h0m3 27h0m10 6h0m0 2h0m-12-9h0m-2 4h0m20-11h0m-15-19h0m24 15h0m-27-10h0m-3-4h0m14 13h0m-19 2h0m7 8h0m-4 3h0m-13 2h0m-2 2h0m19-8h0m-10 3h0m17-4h0m-27-13h0m-4-4h0m19 12h0m-3-1h0m9-3h0m-2 1h0m-7 4h0m-13 9h0m-2 2h0m48-1h0m1 2h0m-18-22h0m-5 4h0m6-5h0m-19-1h0m27 17h0m0 5h0m4-15h0m2-2h0m-6-3h0m-52-11h0m53 11h0m2 0h0m5-3h0m9-2h0m-14 31h0m5 5h0"/></defs>
<use href="#p258" stroke="#a59713" stroke-width="4.9"/>
<use href="#p258" stroke="#ecd81c" stroke-width="4.2"/>
<defs><path id="p259" d="M869 817h0m1 32h0m14-8h0m-19-3h0m23-11h0m-13 14h0m0 8h0m-27-17h0m9 3h0m29 28h0m-27-14h0m3-16h0m16 24h0m20-33h0m0 40h0m6 4h0m10 2h0m5 1h0m-24 0h0m3 5h0m9 8h0m0 3h0m7 3h0"/></defs>
<use href="#p259" stroke="#941694" stroke-width="4.9"/>
<use href="#p259" stroke="#d420d4" stroke-width="4.2"/>
<defs><path id="p260" d="M883 835h0m-16-16h0m22 9h0m2-2h0m-43 10h0m-1-2h0m13-3h0m-11 10h0m24-8h0m19 9h0m-35-9h0m-1 13h0m12-6h0m41-9h0m-60 1h0m17-2h0m7-7h0m0 1h0m-26-4h0m32 32h0m-39-7h0m-14 1h0m-15 2h0m28-28h0m-9-2h0m56 8h0m-5 25h0m29 18h0m7 25h0"/></defs>
<use href="#p260" stroke="#2a939f" stroke-width="4.9"/>
<use href="#p260" stroke="#3cd2e4" stroke-width="4.2"/>
<defs><path id="p261" d="M875 836h0m-9-16h0m8 19h0m-13 4h0m-20 11h0m10-30h0m19 25h0m-3 7h0m12-2h0m29-23h0m-15 33h0"/></defs>
<use href="#p261" stroke="#a27ba2" stroke-width="4.9"/>
<use href="#p261" stroke="#e8b0e8" stroke-width="4.2"/>
<defs><path id="p262" d="M860 648h0m47 9h0m10 9h0m-43-6h0"/></defs>
<use href="#p262" stroke="#a59713" stroke-width="4.5"/>
<use href="#p262" stroke="#ecd81c" stroke-width="3.8"/>
<defs><path id="p263" d="M871 658h0m16 22h0m3 70h0m-2 5h0m1 5h0m-1 3h0m1 14h0m-1 11h0m1 5h0m0-35h0m0 13h0m-1 36h0m-29-92h0m21 34h0m-5 3h0m-3 0h0m-2 1h0m-10 6h0m-2 5h0m3 6h0"/></defs>
<use href="#p263" stroke="#219821" stroke-width="4.5"/>
<use href="#p263" stroke="#30da30" stroke-width="3.8"/>
<defs><path id="p264" d="M851 648h0m28 10h0m-12-11h0m0 10h0m6 174h0m-3 13h0m13 4h0m-9-19h0m20-3h0m-33 22h0m-8-25h0m17 14h0m0-13h0m17 1h0m4 21h0m-37-10h0m6-7h0m2-9h0m15 37h0m6-19h0m-2 5h0m4 18h0m-3-30h0m-33 13h0m-4 0h0m-9 2h0m-12 1h0m32-19h0m-7-3h0m62 12h0m14 36h0"/></defs>
<use href="#p264" stroke="#2a939f" stroke-width="4.9"/>
<use href="#p264" stroke="#3cd2e4" stroke-width="4.2"/>
<defs><path id="p265" d="M886 692h0m2 106h0m1 3h0m-19-14h0m-1 6h0"/></defs>
<use href="#p265" stroke="#2a939f" stroke-width="4.5"/>
<use href="#p265" stroke="#3cd2e4" stroke-width="3.8"/>
<defs><path id="p266" d="M888 735h0m0 6h0m0-41h0m1 63h0m-19 41h0"/></defs>
<use href="#p266" stroke="#941694" stroke-width="4.5"/>
<use href="#p266" stroke="#d420d4" stroke-width="3.8"/>
<defs><path id="p267" d="M854 646h0m5 0h0m19 14h0m-9-3h0m-15-4h0m13-4h0m-14 3h0m6-4h0"/></defs>
<use href="#p267" stroke="#941a1a" stroke-width="4.9"/>
<use href="#p267" stroke="#d42626" stroke-width="4.2"/>
<defs><path id="p268" d="M851 653h0"/></defs>
<use href="#p268" stroke="#219821" stroke-width="4.9"/>
<use href="#p268" stroke="#30da30" stroke-width="4.2"/>
<defs><path id="p269" d="M853 834h0m15 12h0m-7-1h0m-12-3h0m32-8h0m-9 1h0m-38-16h0m81 73h0"/></defs>
<use href="#p269" stroke="#a27ba2" stroke-width="4.9"/>
<use href="#p269" stroke="#e8b0e8" stroke-width="4.2"/>
<defs><path id="p270" d="M895 656h0m17 0h0m3 5h0m10 7h0m12 1h0m-61-2h0m2 2h0m0 2h0m1 2h0m1 2h0m-7-12h0m1 7h0m14 29h0m0 3h0m0 8h0m0 5h0m-1-40h0m2 65h0m-39-31h0m5 2h0m16 14h0m2 4h0m2 4h0m-13 24h0m35-36h0m5 0h0m11 1h0"/></defs>
<use href="#p270" stroke="#941a1a" stroke-width="4.5"/>
<use href="#p270" stroke="#d42626" stroke-width="3.8"/>
<defs><path id="p271" d="M896 831h0m-24 3h0m11 12h0m3-10h0m-23-6h0m3 0h0m10-1h0m-10 7h0m15 15h0m-29-26h0m-1 12h0m24 12h0m-12-2h0m5-25h0m22 27h0m-23-20h0m-2-2h0m10 11h0m-21 7h0m-2-2h0m43-4h0m-28-19h0m-9 24h0m-12 4h0m29-8h0m18-3h0m-52-11h0m22 11h0m-17-7h0m-2-1h0m15 5h0m22 6h0m0-1h0m2 2h0m-19-5h0m-21-19h0m30 25h0m-5 2h0m-7 3h0m6-8h0m-13-12h0m25 10h0m-10 14h0m12-15h0m-20-10h0m-8-7h0m35 10h0m-4-8h0m-62 25h0m-9 1h0m19-29h0m-8-3h0m80 14h0m-25 21h0m9 11h0m2 4h0"/></defs>
<use href="#p271" stroke="#a59713" stroke-width="4.9"/>
<use href="#p271" stroke="#ecd81c" stroke-width="4.2"/>
<defs><path id="p272" d="M894 829h0m2-1h0m-34 4h0m7 22h0m-10-23h0m17 21h0m1 8h0m-27-21h0m34 19h0m-14-30h0m-21-6h0m25 20h0m2 17h0m1-25h0m-1-3h0m26 35h0m-9 3h0m4 5h0m29 22h0m10 2h0m12 1h0m11 0h0"/></defs>
<use href="#p272" stroke="#941694" stroke-width="4.9"/>
<use href="#p272" stroke="#d420d4" stroke-width="4.2"/>
</g>
<path d="M73.3 186 C73.5 195 72.6 203 72.3 208 C72 213 70.5 220 69.3 226.6 C68.6 232 69.6 237 70.1 241.2" stroke="#dc2ce0" stroke-width="4.2" stroke-linecap="round" fill="none"/>
<path d="M80.2 367.6 L79.8 372.6 M79.2 376.2 L78.6 383 L78.0 390.2" stroke="#d81ed8" stroke-width="3.0" stroke-linecap="round" fill="none"/>
<path d="M74 413.5 L74.6 418.5" stroke="#c020d0" stroke-width="2.6" stroke-linecap="round" fill="none"/>
<circle cx="68.3" cy="256.3" r="1.3" fill="#333"/>
<path d="M103.3 95.6 L104 98.5 L104.6 100.6" stroke="#c81ec8" stroke-width="2.0" stroke-linecap="round" fill="none"/>
<clipPath id="cg"><rect x="10.4" y="14.9" width="59.1" height="89.7"/></clipPath>
<rect x="10.4" y="14.9" width="59.1" height="89.7" fill="#fff"/>
<g clip-path="url(#cg)">
<g transform="scale(.5)" fill="none" stroke-linecap="round">
<path d="M34 148l1-2 0-2 1-2M39 157l-1-2-1-2-1-1-1-2-1-2-1-2 0-1-1-2-1-2M44 151l2 0 2 0 1 0 2 0 2 1 2 0 2 1 2 2 1 1 1 2 1 1 2 1M33 165l1-2 1-1 1-2 2-1 1-2 1-2 1-1 1-2 2-1 1-2 1-2 1-1 1-2 2-1 1-2 1-1 2-2 1-1 1-2 2-1 1-2 1-1 1-2 2-1 1-2 1-2M67 164l2 0 2 0 2 0 2-1 2 0 2 0 2 1 2 0 2 1 2 1 2 0 2 1 2 0 2 0 2 0 2 0 2 0 1-1 2-1 2 0 2-1 2 0 2 1 2 0 2 0 2 1 2 0 2 0M114 164l1 2 1 1 2 2 1 2 1 1M111 171l-2 1-2-1-2 0-2 0-2 0-2 1M116 152l0 2 0 2 0 2-1 2 0 2-1 2 0 2-1 2-1 2-1 1-1 2-2 1M140 193l2 1 1 1 2 1 1 1M110 148l1 1 2 1 2 1 1 1 2 2 1 1 1 2 1 1 2 2 1 2 1 1 1 2 2 1 1 2 1 1 2 2 1 1 1 2 1 1 1 2 0 2 1 2 1 2 0 2 0 2 1 2 0 2 1 2M21 163l2 0 2 0 2 1 2 0 2 1 2 0 2 0 1 1 2 0 2 1 2 0 2 0 2 1 2 0 2 0 2 0 2 0 2 0 2-1 2 0 2-1 2 0 2-1 1-1 2-1 2-1 2-1 2-1 1-1 2-1 2-1 1-1 2-1 2-1 2-1 1 0 2-1 2-1 2 0 2-1 2-1 2 0 2 0 2-1 2 0 2 0 2 0 2-1 2 1 2 0 2-1 2 0 2 0 2 0 2 0 2 1 1 0 2 0 2 1 2 1 2 1 2 1 1 1 2 1 0 2 1 2 0 2 0 2 0 2 0 2-1 2-1 2-1 2 0 2M117 185l2 0 2 0 2 0 2 0 2 0 2 0 2-1 2 0 1-1 2-1M108 209l0-2 0-2 1-2 0-2 1-2 0-1 1-2 1-2 0-2 1-2 1-2 1-1 2-2 1-1 2-2 1-1 1-1 2-2 2-1 1-1 2-1 1-2 1-1 2-2 1-1 1-2 0-2 1-2 1-2 0-2 1-2M128 163l1-1 1-2 1-2 1-1 1-2 2-1 1-2M122 151l-2-1-2 0-2-1-2 0-2-1-1 0-2-2-1-1-2-1-2-1-2-1M116 143l-2 1-2 0-1 1-2 1-2 2-1 1M113 140l-2 0-2 0-2 0-2 0-2 0-1-1M130 167l-1-2-1-2-1-1-1-2-1-2-1-2 0-1-1-2-1-2-1-2-1-1-2-2-1-1-1-2-1-2-2-1-1-1-2-2-1-1M84 209l0-2 2-1 1-2 1-2 1-1 1-2 1-1 1-2 2-1 1-2 2-1 2-1 1-1 2-2 1-1 2-1 1-1 2-1 2-1 2-1 1-1 2-1 2-1 2-1 1-1 2-2 1-1 1-2 2-1 1-2 2-1 1-1 2-1 1-2 2-1 1-1M117 99l0 2 1 1 1 2 0 2 1 2 1 2 1 2M99 83l1 2 1 1 1 2 2 2 1 1 2 1 1 1 2 1 2 1 1 2 2 1 2 1 1 1 2 1 1 2 1 1 2 2 1 1 1 2 2 1 1 2 2 1 1 1 2 2M56 94l0-2-1-2-1-1 0-2-1-2 0-2 0-2-1-2M90 81l-2 1-2 1-2 1-1 1-2 1-2 1-2 1-1 0-2 1-2 1-2 1-2 0-2 1-2 1-2 0-2 0-2 1-2 0M66 71l-2-1-2-1-2-1-1-1-2-1-2-1-1-1-2-1M71 68l-2 1-2 1-1 1-2 1-1 2-1 1-1 2-1 2-2 1-1 1-2 2-1 2-1 1-2 1-1 1M60 56l-2 0-2 0-2 1-2 0-2 0-2 0-2 0-2 1M63 66l-1-2 0-2-1-2 0-2-1-2 0-2-1-2-1-1-1-2 0-2-1-2-1-2-1-1-1-2-1-2-1-2M44 60l-1-2-2-1-2 0-2-1-1-1-2-1-2-2-1-1-1-2-1-1-2-2-1-1-1-2-2-1-1-2M98 87l-2-1-2-1-1-1-2-1-1-2-2-1-1-1-2-2-1-1-1-2-1-1-2-2-2-1-2 0-1-1-2-1-2 0-2-1-2 0-2-1-2 0-2-1-2 0-2-1-2 0-1-1-2-1-2-1-2-1-2 0-2 0-2-1-1-1-2-1M79 101l0 2-1 2 0 1-2 2-1 1-2 2-1 1-2 1-1 2-1 1-1 2-2 1-1 2-1 2-1 1M95 96l-2 0-2 1-2 1-2 0-2 1-2 0-2 1-2 1-1 1-2 1-2 1-1 1-2 1-1 2-1 1-1 2-2 2-1 1-1 2-1 1-2 2-2 1-2 0-2 0-2 1-1 1-2 1-2 0-2 1-1 1-2 1M90 156l-2 1-2 0-1 2-2 1M98 138l-1 2 0 1-1 2-1 2-1 2-1 1-1 2-1 2-1 2 0 2-1 2M86 109l0 2 1 2 0 2 1 2 1 1 0 2 1 2 1 2 0 2 1 2 1 2 1 1 1 2 1 2 1 1 1 2 2 1 1 2 2 1 2 0 2 1 1 2 1 1 1 2 2 2 1 1 2 1 1 1 2 2 1 1 2 1 1 2M57 123l-2 0-2 0-2 0-2 0-2 1-2-1-2 1-2 0-2 0-2 1-2 0-2 0-2 0M43 131l-1-2-2-1-1-2-2-1-1-1-2-1-2-1-1-1-2-1-1-2-2-1-1-1-2-2-1-1-2-1-1-2-2-1-1-1-2-2M37 118l-1-1-2-1-2-1-1-2M37 129l0-2 0-2 0-2 0-2 0-2 0-1 1-2 1-2 1-2 0-2 2-1 1-2M77 122l-2 0-2 0-2 0-2 0-2 0-2 0-2 0-2 0-2 1-2 0-2 1-1 2-2 1-1 1-2 1-2 1-2 0-2 1-2 0-2-1-2-1-2 0-1-1-2-1-1-2-1-1-1-2-1-2-1-2-1-1-1-2-1-2-1-1M100 30l1 2 1 1 1 2 1 2 1 1 1 2 1 2 0 2 0 2 0 2-1 2 0 2 0 2 0 2 1 2-1 2 0 2-1 2 0 2-1 2-1 1 0 2-1 2-1 2 0 2 0 2-1 2-1 2 0 2-1 2-1 1-1 2-1 2 0 2 0 2-1 2 0 2-1 2-1 1-2 2-1 1-2 1-1 2-1 1-1 2-1 2-1 1-2 2-1 1-1 2-1 2-1 2-1 1 0 2-1 2-1 2-1 2-1 1-1 2 0 2-1 2M123 207l-1-2 0-2 0-2 0-2 0-2 0-1 1-2 0-2 0-2 0-2 1-2 1-2 0-2 1-2 0-2 1-2-1-2 0-2 0-2-1-2-1-2 0-1-1-2M90 149l-1 2-1 1-1 2-2 1-2 1-2 1-2 0-2 1-1 0-2 0-2 0M110 133l-1 1-2 1-2 1-1 2-2 1-1 2-2 1-1 1-2 1-2 1-1 1-1 2-2 1-1 2-2 1-1 1-2 2-1 1-2 1-2 1-1 2-1 1-2 2-1 1-1 2-2 1-1 1-1 2-2 1M57 114l1 2 1 2 0 2 0 2 1 2 1 2 0 2 1 2 0 2-1 2 0 2 0 2-1 2 0 1-1 2 0 2-1 2-1 2-1 2-1 2-1 1-1 2 0 2-1 2 1 2 0 2 0 2 0 2 1 2 1 1 1 2 0 2 2 2M17 101l-2 1-2 1M54 116l-2-1-2-1-2-1-2-1-2 0-2-1-2 0-2 0-2 0-1 0-2-1-2-1-2 0-2-1-2-1-1-1-2-1-2-1-1-1-2-2-2-1-1-1M122 209l1-2 1-1 1-2 1-2 1-1 1-2 1-2 1-1 1-2 1-2 1-2 1-2 0-1 1-2 1-2 0-2 1-2 0-2 0-2 0-2 0-2 0-2-1-2 0-2-1-2-1-1-1-2-1-2-1-1-1-2 0-2-1-2 0-2-1-2-2-1-1-2-1-2-1-1-1-2-1-2-2-1-1-1-2-1-2-1-2 0-2 0-2 0-2-1-2 0-2-1-1-1-2-1-2-1-1-2-2-1-2-1-1-1-2-1-2-1-1-1-2-1-2-1-2-1-1-1-2-1-2 0-2-1-2 0-2-1-2 0-2 0-2 0-2 0-2 1-2 0-2 1-1 1M29 61l0-2 0-2 0-2 0-2 0-2 0-2 0-2 1-2 0-2 0-2-1-2 0-2 0-2 0-2 0-2 0-2 0-2M87 97l-2-1-2-1-1-1-2-1-2-1-2-1-1-1-2-1-2-1-2-1-1-1-2-1-2 0-2-1-2 0-2-1-2-1-1-1-2-1-2-1-2 0-2-1-1-1-2-1-2-1-2-1-1-1-2-2-1-1-1-2-1-1-2-2-1-1-1-2-1-1-1-2-2-2 0-2-1-1-2-2-1-1-2-1-1-2 0-2-1-2-1-2 0-2M120 69l1 2 1 1 2 2 1 2 1 1 1 2 1 1 1 2 2 2M91 80l2-1 1-1 2-1 2-2 1-1 2-1 1-1 2-1 2-1 2 0 2 0 2 0 2 0 2-1 2 0 2 0 2 0 2 0 2 0 2-1 2 0 2 1 2 0 2 0 2 1M139 139l-2-1-2 0-2 0-2 0-2-1-2 0-2 0-2 0-2 0-2 0-2 0-2 0-2 0-2 0-2-1-2 0-2 0-2-1-2 0-2 0-2-1-1-1-2-1-2-1-1-1-1-2-2-1 0-2-1-2-1-2 0-2 0-2 0-2 0-2 0-2 1-2 0-2 0-2 0-2-1-2 0-2 1-2 0-2 1-2 1-1 1-2 1-2 0-2 0-2 0-2 0-2 1-2 0-2 0-2 0-2 1-2 0-2 1-1 1-2 1-2 1-1 1-2 1-2 0-2 0-2 0-2 1-2 1-2 1-2 1-1 1-2 1-2 1-1 1-2 2-1 1-2 1-1 2-2 1-1 2-1 1-1 2-1 2-1 2 0M112 144l2-1 2-1 1-1 2-1 2-1 2 0 1-1 2-1 2 0M114 148l-1-2-1-2 0-1-1-2 0-2 0-2 0-2 0-2 0-2 0-2 1-2 1-2 1-2 1-1 1-2 0-2 1-2 1-2 0-2 0-2 0-2 0-2 0-2-1-2-1-2 0-2 0-2 0-2 0-2M99 40l2 0 2-1 2-1 1-1 2-1 2-1 1-1 2-1M80 61l2-2 1-2 0-2 2-1 1-2 1-1 1-2 2-1 2-1 1-1 2-2 1-1 2-2 1-1 2-1 1-1 2-1M74 107l0-2 0-2 0-2 0-2 0-2 1-2 0-2 0-2 0-2 0-2 1-2 0-1 1-2 0-2 1-2 1-2 1-2 0-2 1-2 0-2 0-2 0-2 0-2-1-1 0-2-1-2-1-2-1-2 0-2-1-2-1-2 0-1-1-2M139 151l-2 0-2 0-2-1-2 1-2 0-2 0-2 0-2 0-2 0-2 0-2-1-2-1-1-1-2-1-2-1-2-1-1 0-2-1-2-1-1-2-2-1-1-2-2-1-2 0-1-1-2-1-2-1-2-1-1-1-2-2-1-1-1-2-1-2-1-1-1-2-1-2-1-2 0-2-1-1-1-2-1-2-1-2 0-2-1-2-1-2-1-1-1-2 0-2-1-2-1-1-2-2-1-1-1-2-2-1-1-2-1-1-2-2-1-1-2-1-2 0M119 37l2-1 2-1 1-1 2-1 2-1 1-2 2-1 1-1 2-1 1-2 1-1M107 30l2 1 2 1 1 1 2 1 2 1 1 1 2 1 2 1 2 1 2 1 1 1 2 1 2 0 2 0 2 0 2 1 2 1 2 0 2 1 1 1 2 1M124 51l2 0 2 0 2-1 2 0 2-1 2-1 2 0 2 0 2-1 2-1 2 0M107 30l1 1 1 2 1 2 1 1 2 2 1 1 1 2 1 2 2 1 1 2 1 1 2 2 1 1 1 1 2 2 1 2 0 2 1 2 0 1 1 2 1 2 1 2 1 1 1 2 1 2 2 1 2 1 1 1 2 1 2 1 2 1 1 1M75 66l2 0 2 0 2-1 2 0M64 54l2 1 1 2 1 1 2 2 1 1 1 2 1 1 2 2 1 1M64 52l0 2 0 2 0 2 0 2 0 2 0 2 1 2 0 2 0 2 0 2 0 2 0 2 1 2 0 2 0 2 1 2 0 2 0 2 0 2 0 2 0 2 0 2 0 2 1 2 0 2 1 2 0 2 0 2 1 1 1 2 0 2 1 2M65 57l2 0 2 0 2 1 2 0 2 0 2 1 2 0 2 1 2 0 2 0 2 1 2 0 1 1 2 1M71 62l2 1 2 0 1 1 2 1 2 1 2 0 2 0 2 1 2 0 2 1 2 0 2 1 2 0 1 1 2 2M74 74l-2 1-1 2-1 1-1 2-1 2-2 1M76 66l-1 2-1 2 0 2 0 2-1 2 0 2 0 2 1 2 0 2-1 2 0 1-1 2 0 2M83 72l1-2 1-2 1-1 1-2 0-2 1-2 1-1 1-2 1-2 1-2 1-1 1-2M63 54l1 1 1 2 1 2 2 1 1 1 2 1 1 2 2 1 2 1 1 1 1 2 2 1 1 1 2 1 2 0 2 1 2 0 2 0 2 0 2 1 2-1 2 0 2-1 2-1 2 0 2-1 2 0M70 30l0 2 0 2 0 2 0 2 0 2-1 2 0 2-1 2-1 1 0 2-2 2-1 1-1 2-2 1-1 2-1 1-2 2-1 1-1 2-1 1-2 2-2 1-1 1-2 1-2 1-1 1-2 1-1 1-2 2-1 1-2 2-1 1-2 1-2 1-1 1-2 1-2 1-2 1-2 0-2 0-2 1-2 0-1-1M139 47l-2-1-1-1-2-1-2-1-1-1-1-2-2-1-1-2-2 0-2-1-2-1-2-1-2 0-1-1-2-1-2-1-1-2-2-1-2-1-1-1-2-1-2-1-2 0M21 187l1 2 2 1 1 2 1 1 1 2 2 1 1 2 1 1 2 2 1 1 2 1 2 1 2 0 2 1 1 0 2 1 2 1 2 1 2 1 1 1 2 0 2 1 2 1 2 1 2 0 2 1 1 1 2 1M94 51l2 0 2 0 2 0 2 0M95 53l0 2 0 2 0 2 0 2 0 2M89 45l1 1 2 2 1 2 1 1 1 2 1 2 1 1 1 2 0 2 1 2 0 2M91 33l-1 2-1 2 0 2 0 2 0 2 0 2 0 2 1 2 0 2 0 2-1 2 0 2-1 2 0 2-1 2 0 2-1 1-1 2 0 2-1 2-1 2 0 2M39 67l-2-1-1-1-2-1-2-1-1-1-2-1-2-1-2 0-2-1-2 0-2 0-2 0-2 0M35 72l0 2 0 2 0 2 0 2 0 2 0 2 0 2 0 2 1 2 1 1 1 2 0 2 1 2 1 2M58 49l-2 2-1 1-2 1-1 2-2 1-1 1-2 1-1 2-2 1-1 2-1 1-1 2-2 1-1 2-1 1-2 2-1 1-2 1-2 1-1 2-1 1-1 2-1 2 0 2-1 2-1 1-1 2-1 2-1 1-2 2-1 2-1 1-1 2M50 63l2 2 1 1 1 2 1 1 2 2 1 1 1 2 1 1 2 2 1 2M52 49l0 2 0 2 0 2 0 2 0 2-1 2-1 2-1 2-1 1-2 2-1 1-2 1-2 1-1 1-2 1-2 1-1 1-2 1-2 1-2 1-2 0M40 76l-1 1-2 1-1 2-2 1-1 1-2 1-1 2 0 2 0 2 0 2 0 2-1 2M41 78l2 1 1 1 2 0 2 1 2 1 1 2 1 1 2 2 1 1 2 1 1 2 1 2 1 1 1 2 0 2M23 102l-2 1-2 1-2 1-2 0-1 1M31 103l-2 0-2 0-2 0-2-1-2 0-2-1-2-1-2 0-2-1M29 106l-2 0-2 0-2 0-2-1-2 0-2 0-2 1-2 0M42 52l0 2 0 2 0 2 0 2-1 2 0 2-1 2 0 2 0 2 0 2 0 2 0 2 1 2 0 2 0 2 0 2 0 2-1 2-1 1 0 2-1 2-1 2-1 2-2 1-1 1-1 2-1 2-1 1-1 2-1 2-2 1M100 30l-1 1-2 1-2 0-2 1-2 0-2 1-1 2-2 1-1 1-2 1-1 1-2 2-2 1-2 0-1 1-2 1-2 1-2 1-2 1-2 0-1 1-2 0-2 0-2 0-2 0-2 0-2 0-2 1-2 1-2 0-2 0-2 1-2 1-2 1-1 0-2 2-1 1-2 1-2 1-1 2-2 1-1 1-2 1-2 1-2 1-2 1-1 0-2 1-2 1M111 202l0 2-1 2 0 2-1 2 0 2 0 2 0 2M107 207l1 1 1 2 0 2 1 2 0 2M139 189l-2 0-2 1-2 0-2 1-2 0-2 1-1 1-2 1-2 0-2 1-2 0-2 1-1 2-1 1-2 2-1 1-2 1-1 2-1 2 0 2-1 2 0 2 0 2 1 2M63 30l1 1 1 2 1 2 1 1 2 2 1 1 1 2 1 2 1 2 0 2 1 1 2 2 1 1 0 2 1 2 0 2 1 2 0 2 1 2 0 2 1 2 1 2 0 2 1 2 1 1 1 2 0 2 1 2 1 2 0 2 0 2 0 2 0 2 0 2 0 2 0 2 1 2 0 2 0 1 0 2-1 2 0 2M21 177l1 2 2 1 1 1 1 2 1 2 1 2 1 2 0 1 1 2 2 2 1 1 1 2 1 1 2 1 2 2 1 1 1 2 1 1 1 2 1 2 2 1 1 2 1 1 1 2M68 112l0-2 0-2 0-2 0-2-1-2M67 113l1-1 2-2 1-1 1-1 2-2 0-2 1-2 1-1 1-2M87 113l0-2 0-2 0-2 0-2 1-2 0-2M92 94l2-1 1-2 2 0M87 115l0-2 1-2 1-2 0-2 1-1 1-2 0-2 0-2 1-2 0-2 0-2M89 115l1 1 1 2 2 1 1 1 2 2 1 1 2 2 1 1 2 1 1 2 1 1 2 2 1 1 1 2M63 112l2 1 2 0 2 1 2 0 2 0 2 0 2 1 2 0 2 0 2 0 2 0 2 0 2 0 2 0 2-1 1-1 2 0 2-1 2 0 2 0 2-1 2 0 2-1M101 134l1 1 1 1 2 2 1 1M95 135l2-1 2 0 2 0 2-1 2 0 1 0 2-1M100 143l-1 2-1 2-1 1-1 2 0 2-1 2M89 127l1 1 1 2 1 1 1 2 2 2 1 1 1 2 1 1 1 2 1 2 1 2 1 2 1 1 1 2 1 1M97 131l1 2 1 2-1 2 0 2-1 2 0 2-1 2 0 2-1 2-1 1-1 2-1 2 0 2 0 2-1 2 0 2 1 2 0 2 1 2M21 68l1 1 1 2 1 2 1 1 1 2 2 1 1 2 2 1 1 2 1 1 2 2 1 1 1 2 1 1 2 2 1 1 1 2 1 2 1 1 2 2 1 1 2 2 1 1 2 1 1 1 2 1 2 1 1 1 2 1 2 2 1 1 1 2 2 1 1 1 2 2 1 1 2 1 2 1 1 1 2 1 2 1 2 1 2 0 2 1 2 0 2 1 1 0 2 2 2 1 1 0 2 1M103 188l-1-1-2-1-1-2-2-1-1-2-1-1-1-2-1-2-2-1-1-1-2-1-2 0-2-1-2-1-2-1-2 0-2-1-1-1-2 0-2 0-2-1-2-1-1-2-1-1-2-2-1-1-1-2-1-2-2-1-1-1-2-2-1-1M98 74l-1-2-1-2M100 71l2 0 2 0 2 0M96 80l1-2 0-2 1-2 1-2 1-1 1-2 1-2 1-2M89 83l2-1 1-1 2-1 2 0 2-1 2 0 2-1 2 0 2-1 2 0 1-1 2-1 2-1 2 0 2-1 2-1 1-1 2-1 2-1 2-1 2 0 2-1 1-1 2 0M98 209l1-2 1-1 1-2 1-2 0-2 1-2 0-2 0-2 1-2 0-2-1-2 0-2 0-2-1-2 0-1-1-2 0-2-1-2 0-2 0-2 0-2-1-2 0-2-1-2 0-2-1-2 0-2-1-2 0-2-1-2 0-2 0-2 0-2 0-2 1-1 0-2 0-2-1-2 0-2 0-2 0-2-1-2 0-2-1-2-1-2 0-2-1-2-1-1-1-2 0-2-1-2 0-2-1-2 0-2 0-2 0-2 0-2 0-2 0-2 1-2 0-2 0-2 0-2 1-2 0-2 0-2 0-2 1-2 0-2 1-2 0-2 0-2M76 181l0-2-1-2-1-1-2-2-1-2-1-1-1-2-1-2-1-1-1-2-2-2-1-1-1-2-1-1-2-1-2-1-2-1-2 0-2 0-2 1-2 0-2 0-2-1-2 0M102 189l2 0 2 0 2 0 2 0 2 0 2 0 2 0 2-1 1-1 2-1 2-1 2-1 1-1M81 177l2 1 2 1 1 1 2 1 2 1 2 0 2 1 2 1 1 1 2 1 2 1 1 2 1 2 1 1 1 2 2 1 1 2 1 2 1 1 1 2 1 2 1 1 1 2 1 2 1 1 1 2 1 2 1 2M77 148l-2 1-1 1-2 1-2 1-2 1-1 1-2 1-2 1-1 1-1 2M91 160l-2-2-1-1-1-2-2-1-2-1-1-1-2-1-1-2-2-1-2-1-1-1-2-1-1-2-1-1-2-2-1-1-2-1-1-2-1-1-2-2-1-2M134 133l0-2 1-2 0-2 0-2 0-2 0-2 1-2M136 132l2 2 1 1 1 1 2 1 2 1 2 1M98 126l2 0 1 1 2 1 2 0 2 1 2 1 2 1 1 1 2 0 2 1 2 0 2 0 2 1 2 0 2 0 2 0 2 0 2-1 2 0 2-1 2 0M92 112l-1-2-1-2-1-1-1-2-1-1-1-2-1-2-1-2-1-1-1-2M101 117l-2-1-1-1-2-1-2-1-2-1-1-2-2-1-1-1-2-1-1-2-2-1-1-1-1-2-1-2 0-2-1-2-1-2-1-1-2-2M89 171l1-2 0-2 1-1 0-2 0-2 0-2 0-2 0-2 0-2 0-2 0-2 0-2-1-2 0-2 0-2 0-2 1-2 0-2 0-2 1-2 2-2 1-1 1-2 2-1 1-2 0-2 1-1 1-2 0-2 1-2 0-2 1-2 0-2 0-2 0-2 1-2 0-2 0-2M101 164l-1-2 0-2-1-2 0-2-1-2-1-2 0-2 1-2 0-2 0-2 0-2 0-2 1-1 1-2 1-2 1-1 2-1 1-2 2 0 2-1 2-1 2 0 2 0 2-1 2 0 2-1 2 0 2 0 2 0 2 0 2 0 2 1 2 0 2 0 2 0M80 89l1-2 1-1 1-2 0-2 1-2 1-2 1-2 0-2 1-2 0-2M97 120l-1-1 0-2 0-2-1-2 0-2-1-2-1-2-1-2-1-1-1-2-2-1-1-2-1-2-1-1-2-2-1-1-1-2-1-2M85 121l0-2-1-2-1-2 0-1-1-2-1-2-1-2-1-1-2-2M81 122l-1 2 0 2-1 2-1 2-1 2M74 126l-2-1-2 0-2 0-2 1-2 1-2 0-2 0-2 0-2 1-2 0M93 122l-2-1-2 0-2 0-2 0-2 1-2 0-2 1-2 1-1 1-2 1-2 1-2 0-2 1-1 1-2 0-2 1-2 0-2-1-2-1M101 121l-2-1-2 0-2 1-2 1-2 1-1 2-1 1-2 2-1 1-1 2-1 2-1 1-1 2-1 2-1 1-1 2-1 2-1 2-2 1-1 2-1 1-1 2-1 2-1 2-1 1-1 2-1 2-1 1-1 2-2 1-1 1-2 2-2 1-1 1-2 1-1 1-2 2-1 1-2 2-1 1-1 2-1 1M82 93l-2 0-2 0-2-1-2 0-2 0-2-1-2 0-2 0-2 0-2 0-2 0-2 0-2 0-2 0-2 0-2-1-2 0-2-1-2-1-1 0-2 0-2 0-2 1-2 0-2 0-2 0-2 1-2-1-2 0-2 0M64 209l0-2 1-1 1-2 0-2 0-2 0-2 1-2 0-2 1-2 1-2 1-2 1-1 1-2 1-1 2-2 1-1 2-1 1-2 2-1 2-1 1-1 2-1 1-2 2-1 2-1 2-1 1-1 2-1 2-1 1-1 2-1 1-2 1-1 1-2 1-2 1-2 0-2 1-2 0-2 0-2 1-2 0-1 1-2 1-2 0-2-1-2 0-2 0-2-1-2-1-2-2-1-1-2-1-1-1-2-1-1-2-2-1-2-2-1-1-1-1-2-1-1-1-2-1-2-2-1-1-2-1-1-2-2 0-2-1-1-1-2-1-2 0-2-1-2-1-2" stroke="#151515" stroke-width="1.05" stroke-linejoin="round"/>
<path d="M75 167l-1-2 1-1-1-2 0-3 1 0 0-3 1-3-1-1 0-1 0-4 0-1 0-2 1-2-1-2 0-1 0-3 1-2 0-3 0-1 0-3 0-1 1-2 1-2-1-2 1-2-1-2 0-2 0-2-1-2 2-2-1-2-1-2 1-2-1-2-1-2 0-2 1-1 0-3-1-3 0-1 0-2 0-2 0-2 0-2 0-2 0-3-1-2 0-2 0-1 0-2-1-3 1-1-1-1 1-3-1-2 1-2 1-2-1-2 0-2 0-2 0-2 0-1 1-3 0-3 0-1-1-2 1-1-1-3 1-2M74 168l-1-1-2-1-2-1-1-2-2-1-2 0-2-1-1-1-2 0-2-1-2 0-2-1-2 0-2-1-2 0-2-1-2-1-2 0-2-1-2 0-1-1-2-1-2 0-2-1-2-1-2-1-1-1-2-1-2 0-2-1M74 168l-2 0-2 0-2-1-2 0-2 0-2 0-1-1-2 0-2 1-2 0-2 0-2 0-2 0-2 0-2 0-2-1-2 0-2-1-2 0-2-1-2 0-2-1-2-1-1-1-2-1-2-1-2-1-1-1M74 168l2-1 2-1 2 0 2-1 2 0 2-1 2 0 1-1 2 0 2-1 2-1 2 0 2-1 2 0 2-1 2 0 2-1 2 0 2 0 2-1 2 0 2 0 2-1 2 0 2 0 2 0 2-1 2 0 1 0 2-1 2 0 2 0M74 168l2 1 2 0 2 1 2 0 2 1 2 1 2 0 2 1 2 0 1 1 2 1 2 1 2 0 2 1 1 1 2 1 2 1 2 1 2 1 1 1 2 1 2 1 1 1 2 1 2 1 1 1 2 1 1 2 2 1 2 1 2 0 2 1 2 1 2 0 1 0M74 168l0 2-1 2-1 1-1 2-2 1-1 2-2 1-2 0-2 1-1 1-2 1-2 1-1 2-2 1-2 1-1 1-1 2-1 2-1 1-1 2-1 2-1 2M74 168l1 2 1 2 1 1 1 2 1 2 2 1 1 2 1 1 2 2 1 1 2 1 1 2 1 1 1 2 1 2 1 2 1 1 1 2M74 168l0-2-1-2 0-2 0-2 0-2-1-2 0-2 0-2 0-2 0-2 0-2 1-2 1-1 0-2 1-2 1-2 1-2 1-1 1-2 1-2 1-2 1-1 1-2 2-1 1-2" stroke="#222" stroke-width="2.0" stroke-linejoin="round"/>
</g>
<ellipse cx="37.2" cy="84" rx="6.2" ry="5.8" fill="#3a3a3a"/>
<path d="M36.8 37.8 L37.6 44 L38.6 50.5 M38.9 52.5 L39.3 59" stroke="#d81ed8" stroke-width="3.4" stroke-linecap="round" fill="none"/>
</g>
<rect x="10.4" y="14.9" width="59.1" height="89.7" fill="none" stroke="#999" stroke-width="0.6"/>
<rect x="55" y="101" width="10.4" height="1.3" fill="#111"/>
<line x1="69.5" y1="14.9" x2="103.5" y2="88" stroke="#333" stroke-width="0.55"/>
<line x1="69.5" y1="104.6" x2="101.8" y2="112.8" stroke="#333" stroke-width="0.55"/>
<filter id="emf" x="0" y="0" width="1" height="1" filterUnits="objectBoundingBox" color-interpolation-filters="sRGB"><feTurbulence type="turbulence" baseFrequency="0.2" numOctaves="2" seed="3" result="t"/><feColorMatrix in="t" type="matrix" values="1.25 0 0 0 0.2  1.25 0 0 0 0.2  1.25 0 0 0 0.2  0 0 0 0 1"/></filter>
<rect x="96.1" y="182.8" width="48.6" height="65.3" filter="url(#emf)"/>
<path d="M111.5 182.8 L113.6 188.5 L112.3 195.5 L112.8 206.9 L115.4 217.4 L119.8 228.8 L123.7 239.3 L124.6 248.1 L128.5 248.1 L126.8 234.9 L122.4 220 L118.5 206 L118 191.1 L118.5 182.8Z" fill="#d838e0" stroke="#111" stroke-width="0.7"/>
<path d="M113 188.5 L111.7 195.5 L112.2 206.9 L114.8 217.4 L119.2 228.8 L123.1 239.3" stroke="#000" stroke-width="1.0" fill="none"/>
<rect x="96.1" y="182.8" width="48.6" height="65.3" fill="none" stroke="#999" stroke-width="0.6"/>
<rect x="132" y="244.8" width="10.6" height="1.2" fill="#fff"/>
<line x1="72.3" y1="206.5" x2="96.1" y2="182.8" stroke="#444" stroke-width="0.55"/>
<line x1="72.3" y1="215.7" x2="96.1" y2="248.1" stroke="#444" stroke-width="0.55"/>
<text x="0.3" y="8.3" font-size="10" text-anchor="start" fill="#000" font-weight="bold">a</text>
<text x="146.8" y="8.3" font-size="10" text-anchor="start" fill="#000" font-weight="bold">b</text>
<text x="514.5" y="8" font-size="10" text-anchor="start" fill="#000" font-weight="bold">c</text>
<text x="0.3" y="494.3" font-size="10" text-anchor="start" fill="#000" font-weight="bold">d</text>
<text x="0.5" y="679.5" font-size="10" text-anchor="start" fill="#000" font-weight="bold">e</text>
<text x="421.8" y="493.3" font-size="10" text-anchor="start" fill="#000" font-weight="bold">f</text>
<text x="5.6" y="60" font-size="6.4" text-anchor="middle" fill="#222" transform="rotate(-90 5.6 60)">MET-8</text>
<text x="5.6" y="235" font-size="6.4" text-anchor="middle" fill="#222" transform="rotate(-90 5.6 235)">MET-4</text>
<text x="5.6" y="385" font-size="6.4" text-anchor="middle" fill="#222" transform="rotate(-90 5.6 385)">MET-6</text>
<text x="146.5" y="32.6" font-size="6.4" text-anchor="start" fill="#222">L1</text>
<text x="146.5" y="54" font-size="6.4" text-anchor="start" fill="#222">L2/3</text>
<text x="146.5" y="92" font-size="6.4" text-anchor="start" fill="#222">L4</text>
<text x="146.5" y="114.5" font-size="6.4" text-anchor="start" fill="#222">L5</text>
<text x="146.5" y="141.3" font-size="6.4" text-anchor="start" fill="#222">L6a</text>
<text x="146.5" y="153" font-size="6.4" text-anchor="start" fill="#222">L6b</text>
<text x="251.2" y="26.6" font-size="6.65" text-anchor="start" fill="#1a1a1a">Synapse onto:</text>
<text x="251.2" y="39.2" font-size="6.65" text-anchor="start" fill="#dc3030">L2/3</text>
<text x="251.2" y="52.5" font-size="6.65" text-anchor="start" fill="#30c830">L4</text>
<text x="251.2" y="65.7" font-size="6.65" text-anchor="start" fill="#40d8ec">L5 IT</text>
<text x="251.2" y="78.8" font-size="6.65" text-anchor="start" fill="#c4b030">L5 ET</text>
<text x="251.2" y="92" font-size="6.65" text-anchor="start" fill="#d820d8">L6</text>
<text x="251.2" y="105.1" font-size="6.65" text-anchor="start" fill="#f4bcf0">Inhibitory</text>
<rect x="250.4" y="145.3" width="19" height="1.5" fill="#111"/>
<text x="16.9" y="118.7" font-size="6.8" text-anchor="start" fill="#2ec0c8">Output synapse</text>
<text x="16.9" y="128.2" font-size="6.8" text-anchor="start" fill="#d030d0">Myelination</text>
<line x1="544.5" y1="9" x2="544.5" y2="142" stroke="#777" stroke-width="0.7"/>
<line x1="544.5" y1="142" x2="685" y2="142" stroke="#777" stroke-width="0.7"/>
<line x1="542.9" y1="15.2" x2="544.5" y2="15.2" stroke="#777" stroke-width="0.6"/>
<text x="540.2" y="17.5" font-size="6.5" text-anchor="end" fill="#1a1a1a">0</text>
<line x1="542.9" y1="32.1" x2="544.5" y2="32.1" stroke="#777" stroke-width="0.6"/>
<text x="540.2" y="34.4" font-size="6.5" text-anchor="end" fill="#1a1a1a">100</text>
<line x1="542.9" y1="49" x2="544.5" y2="49" stroke="#777" stroke-width="0.6"/>
<text x="540.2" y="51.3" font-size="6.5" text-anchor="end" fill="#1a1a1a">200</text>
<line x1="542.9" y1="65.8" x2="544.5" y2="65.8" stroke="#777" stroke-width="0.6"/>
<text x="540.2" y="68.1" font-size="6.5" text-anchor="end" fill="#1a1a1a">300</text>
<line x1="542.9" y1="82.7" x2="544.5" y2="82.7" stroke="#777" stroke-width="0.6"/>
<text x="540.2" y="85" font-size="6.5" text-anchor="end" fill="#1a1a1a">400</text>
<line x1="542.9" y1="99.6" x2="544.5" y2="99.6" stroke="#777" stroke-width="0.6"/>
<text x="540.2" y="101.9" font-size="6.5" text-anchor="end" fill="#1a1a1a">500</text>
<line x1="542.9" y1="116.5" x2="544.5" y2="116.5" stroke="#777" stroke-width="0.6"/>
<text x="540.2" y="118.8" font-size="6.5" text-anchor="end" fill="#1a1a1a">600</text>
<line x1="542.9" y1="133.4" x2="544.5" y2="133.4" stroke="#777" stroke-width="0.6"/>
<text x="540.2" y="135.7" font-size="6.5" text-anchor="end" fill="#1a1a1a">700</text>
<line x1="550.4" y1="142" x2="550.4" y2="143.6" stroke="#777" stroke-width="0.6"/>
<text x="550.4" y="150.8" font-size="6.55" text-anchor="middle" fill="#1a1a1a">0</text>
<line x1="570.4" y1="142" x2="570.4" y2="143.6" stroke="#777" stroke-width="0.6"/>
<text x="570.4" y="150.8" font-size="6.55" text-anchor="middle" fill="#1a1a1a">200</text>
<line x1="590.4" y1="142" x2="590.4" y2="143.6" stroke="#777" stroke-width="0.6"/>
<text x="590.4" y="150.8" font-size="6.55" text-anchor="middle" fill="#1a1a1a">400</text>
<line x1="610.3" y1="142" x2="610.3" y2="143.6" stroke="#777" stroke-width="0.6"/>
<text x="610.3" y="150.8" font-size="6.55" text-anchor="middle" fill="#1a1a1a">600</text>
<line x1="630.3" y1="142" x2="630.3" y2="143.6" stroke="#777" stroke-width="0.6"/>
<text x="630.3" y="150.8" font-size="6.55" text-anchor="middle" fill="#1a1a1a">800</text>
<line x1="650.3" y1="142" x2="650.3" y2="143.6" stroke="#777" stroke-width="0.6"/>
<text x="650.3" y="150.8" font-size="6.55" text-anchor="middle" fill="#1a1a1a">1,000</text>
<line x1="670.3" y1="142" x2="670.3" y2="143.6" stroke="#777" stroke-width="0.6"/>
<text x="670.3" y="150.8" font-size="6.55" text-anchor="middle" fill="#1a1a1a">1,200</text>
<text x="614.6" y="161" font-size="6.7" text-anchor="middle" fill="#1a1a1a">Number of synapses</text>
<path d="M550.8 50 L551.2 80 L550.8 100" stroke="#f0d020" stroke-width="1.25" fill="none" stroke-linejoin="round"/>
<path d="M550.6 15 L551 40 L550.6 70 L551.2 90 L550.6 110 L550.6 120" stroke="#dd33dd" stroke-width="1.25" fill="none" stroke-linejoin="round"/>
<path d="M550.6 14.2 L551 40 L551.6 62.9 L556.9 69.3 L561.2 73.5 L562.2 78.8 L558 84.1 L553.8 90.4 L552.3 94.7 L551.6 109.5 L551 136" stroke="#ee99cc" stroke-width="1.25" fill="none" stroke-linejoin="round"/>
<path d="M551.6 58.7 L552.7 66.1 L559.1 70.3 L567.5 74.6 L574.5 78.8 L569.6 82 L559.1 87.3 L554.8 89.4 L552.3 94.7 L551.6 101" stroke="#3ccbe0" stroke-width="1.25" fill="none" stroke-linejoin="round"/>
<path d="M551 18.5 L552.7 22.7 L554 35.4 L552.3 42.8 L557 50.2 L564.3 54.5 L563.7 57.6 L566.5 61.9 L560.1 68.2 L554.8 73.5 L551.6 79.9 L550.6 94.7 L550.4 110" stroke="#cc2e3a" stroke-width="1.25" fill="none" stroke-linejoin="round"/>
<path d="M551 18.5 L553.1 25.9 L553.8 31.2 L552.3 39.6 L552.7 51.3 L561.2 57.6 L578.1 61.9 L599.3 66.1 L635.3 69.9 L677.2 71.8 L678.2 75.2 L658.5 78.8 L624.7 80.9 L592.9 83 L567.5 85.6 L555.9 88.3 L552.7 94.7 L551.6 109.5 L550.8 125" stroke="#2ec82e" stroke-width="1.25" fill="none" stroke-linejoin="round"/>
<line x1="544.7" y1="168.6" x2="544.7" y2="301.6" stroke="#777" stroke-width="0.7"/>
<line x1="544.7" y1="301.6" x2="685" y2="301.6" stroke="#777" stroke-width="0.7"/>
<line x1="543.1" y1="174.6" x2="544.7" y2="174.6" stroke="#777" stroke-width="0.6"/>
<text x="540.4" y="176.9" font-size="6.5" text-anchor="end" fill="#1a1a1a">0</text>
<line x1="543.1" y1="191.5" x2="544.7" y2="191.5" stroke="#777" stroke-width="0.6"/>
<text x="540.4" y="193.8" font-size="6.5" text-anchor="end" fill="#1a1a1a">100</text>
<line x1="543.1" y1="208.4" x2="544.7" y2="208.4" stroke="#777" stroke-width="0.6"/>
<text x="540.4" y="210.7" font-size="6.5" text-anchor="end" fill="#1a1a1a">200</text>
<line x1="543.1" y1="225.3" x2="544.7" y2="225.3" stroke="#777" stroke-width="0.6"/>
<text x="540.4" y="227.6" font-size="6.5" text-anchor="end" fill="#1a1a1a">300</text>
<line x1="543.1" y1="242.2" x2="544.7" y2="242.2" stroke="#777" stroke-width="0.6"/>
<text x="540.4" y="244.5" font-size="6.5" text-anchor="end" fill="#1a1a1a">400</text>
<line x1="543.1" y1="259.1" x2="544.7" y2="259.1" stroke="#777" stroke-width="0.6"/>
<text x="540.4" y="261.4" font-size="6.5" text-anchor="end" fill="#1a1a1a">500</text>
<line x1="543.1" y1="276" x2="544.7" y2="276" stroke="#777" stroke-width="0.6"/>
<text x="540.4" y="278.3" font-size="6.5" text-anchor="end" fill="#1a1a1a">600</text>
<line x1="543.1" y1="292.9" x2="544.7" y2="292.9" stroke="#777" stroke-width="0.6"/>
<text x="540.4" y="295.2" font-size="6.5" text-anchor="end" fill="#1a1a1a">700</text>
<line x1="550.4" y1="301.6" x2="550.4" y2="303.2" stroke="#777" stroke-width="0.6"/>
<text x="550.4" y="309.8" font-size="6.55" text-anchor="middle" fill="#1a1a1a">0</text>
<line x1="567.7" y1="301.6" x2="567.7" y2="303.2" stroke="#777" stroke-width="0.6"/>
<text x="567.7" y="309.8" font-size="6.55" text-anchor="middle" fill="#1a1a1a">20</text>
<line x1="585" y1="301.6" x2="585" y2="303.2" stroke="#777" stroke-width="0.6"/>
<text x="585" y="309.8" font-size="6.55" text-anchor="middle" fill="#1a1a1a">40</text>
<line x1="602.3" y1="301.6" x2="602.3" y2="303.2" stroke="#777" stroke-width="0.6"/>
<text x="602.3" y="309.8" font-size="6.55" text-anchor="middle" fill="#1a1a1a">60</text>
<line x1="619.6" y1="301.6" x2="619.6" y2="303.2" stroke="#777" stroke-width="0.6"/>
<text x="619.6" y="309.8" font-size="6.55" text-anchor="middle" fill="#1a1a1a">80</text>
<line x1="636.8" y1="301.6" x2="636.8" y2="303.2" stroke="#777" stroke-width="0.6"/>
<text x="636.8" y="309.8" font-size="6.55" text-anchor="middle" fill="#1a1a1a">100</text>
<line x1="654.1" y1="301.6" x2="654.1" y2="303.2" stroke="#777" stroke-width="0.6"/>
<text x="654.1" y="309.8" font-size="6.55" text-anchor="middle" fill="#1a1a1a">120</text>
<line x1="671.4" y1="301.6" x2="671.4" y2="303.2" stroke="#777" stroke-width="0.6"/>
<text x="671.4" y="309.8" font-size="6.55" text-anchor="middle" fill="#1a1a1a">140</text>
<text x="614.6" y="319.4" font-size="6.7" text-anchor="middle" fill="#1a1a1a">Number of synapses</text>
<path d="M557.6 181 L558.3 183.1 L553.2 189 L551.8 199.2 L551 213.8 L552.5 231.3 L557.6 238.6 L568.5 242.3 L581 248.1 L576.6 251 L564.9 256.9 L564.2 259 L554.7 263.4 L553.2 270 L551 280" stroke="#f0d020" stroke-width="1.25" fill="none" stroke-linejoin="round"/>
<path d="M550.3 175.1 L551.8 181.7 L555.4 186 L553.2 194.8 L551 202.1 L552.5 213.8 L554.7 231.3 L556.9 241.5 L562.7 245.9 L557.6 251.8 L556.9 256.1 L553.2 263.4 L551.8 270 L550.8 285" stroke="#dd33dd" stroke-width="1.25" fill="none" stroke-linejoin="round"/>
<path d="M551.8 175.1 L554 181.7 L559.8 189 L564.2 194.8 L556.1 197.7 L554 208 L553.2 218.2 L554 228.4 L557.6 234.2 L564.9 240 L565.6 249.6 L560.5 254.7 L554.7 260.5 L553.2 270 L551 280 L550.6 292" stroke="#ee99cc" stroke-width="1.25" fill="none" stroke-linejoin="round"/>
<path d="M551 175.1 L556.1 179.5 L557.6 184.6 L565.6 188.2 L560.5 193.4 L553.2 197.7 L552.5 206.5 L553.2 213.8 L556.1 221.8 L559.1 225.5 L560.5 229.9 L573.7 237.2 L632 245.2 L618.9 249.6 L586.8 253.2 L564.9 256.1 L556.1 260.5 L553.2 266.4 L551 275" stroke="#3ccbe0" stroke-width="1.25" fill="none" stroke-linejoin="round"/>
<path d="M551.5 175 L558.3 181.7 L570.7 188.2 L570 191.6 L557.6 195.5 L552.5 199.2 L553.2 203.6 L556.1 212.3 L557.6 218.2 L568.5 224 L585.3 232 L578.8 237.2 L566.4 243 L557.6 247.4 L552.5 253.2 L550.6 260.5 L550.3 270" stroke="#2ec82e" stroke-width="1.25" fill="none" stroke-linejoin="round"/>
<path d="M553.2 174.4 L627.7 181 L635.7 184.6 L678 187.3 L640.8 194.5 L585.3 197.7 L572.9 201.4 L575.1 204.3 L586.8 208 L602.1 211.6 L583.9 214.5 L569.3 219.6 L557.6 228.4 L551.8 234.2 L550.6 238.6 L550.3 270" stroke="#cc2e3a" stroke-width="1.25" fill="none" stroke-linejoin="round"/>
<line x1="544.2" y1="325.8" x2="544.2" y2="457.5" stroke="#777" stroke-width="0.7"/>
<line x1="544.2" y1="457.5" x2="682" y2="457.5" stroke="#777" stroke-width="0.7"/>
<line x1="542.6" y1="331.8" x2="544.2" y2="331.8" stroke="#777" stroke-width="0.6"/>
<text x="539.9" y="334.1" font-size="6.5" text-anchor="end" fill="#1a1a1a">0</text>
<line x1="542.6" y1="348.4" x2="544.2" y2="348.4" stroke="#777" stroke-width="0.6"/>
<text x="539.9" y="350.7" font-size="6.5" text-anchor="end" fill="#1a1a1a">100</text>
<line x1="542.6" y1="365" x2="544.2" y2="365" stroke="#777" stroke-width="0.6"/>
<text x="539.9" y="367.3" font-size="6.5" text-anchor="end" fill="#1a1a1a">200</text>
<line x1="542.6" y1="381.6" x2="544.2" y2="381.6" stroke="#777" stroke-width="0.6"/>
<text x="539.9" y="383.9" font-size="6.5" text-anchor="end" fill="#1a1a1a">300</text>
<line x1="542.6" y1="398.2" x2="544.2" y2="398.2" stroke="#777" stroke-width="0.6"/>
<text x="539.9" y="400.5" font-size="6.5" text-anchor="end" fill="#1a1a1a">400</text>
<line x1="542.6" y1="414.8" x2="544.2" y2="414.8" stroke="#777" stroke-width="0.6"/>
<text x="539.9" y="417.1" font-size="6.5" text-anchor="end" fill="#1a1a1a">500</text>
<line x1="542.6" y1="431.4" x2="544.2" y2="431.4" stroke="#777" stroke-width="0.6"/>
<text x="539.9" y="433.7" font-size="6.5" text-anchor="end" fill="#1a1a1a">600</text>
<line x1="542.6" y1="448" x2="544.2" y2="448" stroke="#777" stroke-width="0.6"/>
<text x="539.9" y="450.3" font-size="6.5" text-anchor="end" fill="#1a1a1a">700</text>
<line x1="550.2" y1="457.5" x2="550.2" y2="459.1" stroke="#777" stroke-width="0.6"/>
<text x="550.2" y="466.6" font-size="6.55" text-anchor="middle" fill="#1a1a1a">0</text>
<line x1="579.5" y1="457.5" x2="579.5" y2="459.1" stroke="#777" stroke-width="0.6"/>
<text x="579.5" y="466.6" font-size="6.55" text-anchor="middle" fill="#1a1a1a">20</text>
<line x1="608.7" y1="457.5" x2="608.7" y2="459.1" stroke="#777" stroke-width="0.6"/>
<text x="608.7" y="466.6" font-size="6.55" text-anchor="middle" fill="#1a1a1a">40</text>
<line x1="638" y1="457.5" x2="638" y2="459.1" stroke="#777" stroke-width="0.6"/>
<text x="638" y="466.6" font-size="6.55" text-anchor="middle" fill="#1a1a1a">60</text>
<line x1="667.3" y1="457.5" x2="667.3" y2="459.1" stroke="#777" stroke-width="0.6"/>
<text x="667.3" y="466.6" font-size="6.55" text-anchor="middle" fill="#1a1a1a">80</text>
<text x="614.6" y="477.4" font-size="6.7" text-anchor="middle" fill="#1a1a1a">Number of synapses</text>
<path d="M550.6 331.8 L552.5 337.5 L551.5 345.1 L552.5 350.8 L551.5 358.4 L552.5 369.8 L551.5 381.1 L552.5 392.5 L555.3 400.1 L571.5 406.8 L582.9 411.5 L577.2 414.4 L565.8 417.2 L562 420 L570.5 421.9 L562 423.8 L556.3 427.6 L557.2 431.4 L562.9 435.2 L557.2 437.1 L552.5 440 L550.6 445.7" stroke="#dd33dd" stroke-width="1.25" fill="none" stroke-linejoin="round"/>
<path d="M551.5 331.8 L556.3 343.2 L553.4 350.8 L553.4 358.4 L552.5 375.4 L551.5 390.6 L554.4 398.2 L565.8 404.9 L579.1 411.5 L575.3 414.4 L567.7 417.2 L562 421 L556.3 426.7 L553.4 434.3 L550.6 441.9 L550.2 452.3" stroke="#ee99cc" stroke-width="1.25" fill="none" stroke-linejoin="round"/>
<path d="M551.5 335.6 L554.4 341.3 L553.4 345.1 L552.5 354.6 L551 366 L550.6 377.3 L551.5 388.7 L553.4 396.3 L558.2 400.1 L577.2 405.8 L591.4 408.7 L584.8 411.5 L575.3 414.4 L562 418.2 L556.3 422.9 L553.4 426.7 L551.5 434.3 L550.6 441.9" stroke="#3ccbe0" stroke-width="1.25" fill="none" stroke-linejoin="round"/>
<path d="M551.5 332.7 L557.2 336.5 L558.2 339.4 L555.3 344.1 L557.2 347 L555.3 350.8 L552.5 354.6 L552.5 364.1 L553.4 366 L552.5 368.8 L555.3 371.7 L556.3 374.5 L562 381.1 L559.1 386.8 L560.1 391.6 L559.1 396.3 L557.2 400.1 L554.4 405.8 L551.5 413.4 L550.6 422.9 L550.2 434.3" stroke="#2ec82e" stroke-width="1.25" fill="none" stroke-linejoin="round"/>
<path d="M553.4 331.4 L605.6 335.2 L617 338.4 L639.8 342.2 L652.7 345.5 L641.7 348.9 L628.4 351.7 L575.3 355.1 L581 356.5 L592.3 359.3 L599.6 361.8 L593.3 365 L581.9 367.9 L583.8 370.7 L581.9 374.5 L571.5 377.3 L562 379.6 L554.4 382.1 L552.5 384.9 L551.5 392.5 L550.6 400.1 L550.6 411.5 L550.2 417.2" stroke="#cc2e3a" stroke-width="1.25" fill="none" stroke-linejoin="round"/>
<path d="M550.6 331.4 L561 333.7 L565.8 337.5 L578.1 341.3 L579.1 345.1 L563.9 349.8 L552.5 354.6 L551.5 366 L550.6 384.9 L552.5 393.5 L560.1 399.2 L618.9 403.9 L673 411.5 L647.4 415.3 L618.9 417.2 L590.4 419.1 L569.6 422.9 L558.2 426.7 L553.4 430.5 L551.5 441.9" stroke="#f0d020" stroke-width="1.25" fill="none" stroke-linejoin="round"/>
<text x="520.6" y="75" font-size="6.6" text-anchor="middle" fill="#1a1a1a" transform="rotate(-90 520.6 75)">Depth from Pia</text>
<text x="520.6" y="235.4" font-size="6.6" text-anchor="middle" fill="#1a1a1a" transform="rotate(-90 520.6 235.4)">Depth from Pia</text>
<text x="520.6" y="392" font-size="6.6" text-anchor="middle" fill="#1a1a1a" transform="rotate(-90 520.6 392)">Depth from Pia</text>
<rect x="39.6" y="498.6" width="78.9" height="147" fill="none" stroke="#666" stroke-width="0.7"/>
<line x1="37" y1="645.6" x2="39.6" y2="645.6" stroke="#666" stroke-width="0.6"/>
<text x="33" y="648" font-size="6.4" text-anchor="end" fill="#1a1a1a">0</text>
<line x1="37" y1="623.8" x2="39.6" y2="623.8" stroke="#666" stroke-width="0.6"/>
<text x="33" y="626.3" font-size="6.4" text-anchor="end" fill="#1a1a1a">2,000</text>
<line x1="37" y1="602.1" x2="39.6" y2="602.1" stroke="#666" stroke-width="0.6"/>
<text x="33" y="604.5" font-size="6.4" text-anchor="end" fill="#1a1a1a">4,000</text>
<line x1="37" y1="580.3" x2="39.6" y2="580.3" stroke="#666" stroke-width="0.6"/>
<text x="33" y="582.7" font-size="6.4" text-anchor="end" fill="#1a1a1a">6,000</text>
<line x1="37" y1="558.5" x2="39.6" y2="558.5" stroke="#666" stroke-width="0.6"/>
<text x="33" y="561" font-size="6.4" text-anchor="end" fill="#1a1a1a">8,000</text>
<line x1="37" y1="536.8" x2="39.6" y2="536.8" stroke="#666" stroke-width="0.6"/>
<text x="33" y="539.2" font-size="6.4" text-anchor="end" fill="#1a1a1a">10,000</text>
<line x1="37" y1="515" x2="39.6" y2="515" stroke="#666" stroke-width="0.6"/>
<text x="33" y="517.4" font-size="6.4" text-anchor="end" fill="#1a1a1a">12,000</text>
<text x="6.8" y="573" font-size="6.6" text-anchor="middle" fill="#1a1a1a" transform="rotate(-90 6.8 573)">Synapse number</text>
<line x1="53.3" y1="645.6" x2="53.3" y2="647.4" stroke="#666" stroke-width="0.6"/>
<text x="53.3" y="658" font-size="6.65" text-anchor="middle" fill="#1a1a1a">MET-8</text>
<line x1="79" y1="645.6" x2="79" y2="647.4" stroke="#666" stroke-width="0.6"/>
<text x="79" y="658" font-size="6.65" text-anchor="middle" fill="#1a1a1a">MET-4</text>
<line x1="106" y1="645.6" x2="106" y2="647.4" stroke="#666" stroke-width="0.6"/>
<text x="106" y="658" font-size="6.65" text-anchor="middle" fill="#1a1a1a">MET-6</text>
<line x1="52" y1="504.2" x2="108.8" y2="504.2" stroke="#bbb" stroke-width="1.0"/>
<text x="80.4" y="505.2" font-size="8.4" text-anchor="middle" fill="#222">**</text>
<line x1="52.8" y1="509.2" x2="52.8" y2="532.2" stroke="#444" stroke-width="0.6"/>
<line x1="52.8" y1="509.2" x2="55.3" y2="509.2" stroke="#444" stroke-width="0.6"/>
<rect x="47.4" y="532.2" width="11" height="24.6" fill="#7b6326" stroke="#3a3a3a" stroke-width="0.6"/>
<circle cx="54.7" cy="509.2" r="1.9" fill="#7b6326" stroke="#2a2a2a" stroke-width="0.55"/>
<circle cx="51.1" cy="555.5" r="1.9" fill="#7b6326" stroke="#2a2a2a" stroke-width="0.55"/>
<circle cx="54.5" cy="558" r="1.9" fill="#7b6326" stroke="#2a2a2a" stroke-width="0.55"/>
<line x1="79.5" y1="611" x2="79.5" y2="630.4" stroke="#444" stroke-width="0.6"/>
<line x1="79.5" y1="611" x2="82" y2="611" stroke="#444" stroke-width="0.6"/>
<rect x="74.2" y="617" width="10.5" height="7.7" fill="#eda486" stroke="#3a3a3a" stroke-width="0.6"/>
<line x1="74.2" y1="620.5" x2="84.7" y2="620.5" stroke="#3a3a3a" stroke-width="0.6"/>
<circle cx="78.4" cy="611.3" r="1.9" fill="#f5a57e" stroke="#2a2a2a" stroke-width="0.55"/>
<circle cx="77.3" cy="615.6" r="1.9" fill="#f5a57e" stroke="#2a2a2a" stroke-width="0.55"/>
<circle cx="81.1" cy="621.5" r="1.9" fill="#f5a57e" stroke="#2a2a2a" stroke-width="0.55"/>
<circle cx="81.6" cy="625.1" r="1.9" fill="#f5a57e" stroke="#2a2a2a" stroke-width="0.55"/>
<circle cx="78" cy="630.4" r="1.9" fill="#f5a57e" stroke="#2a2a2a" stroke-width="0.55"/>
<circle cx="79.5" cy="618.6" r="1.9" fill="#f5a57e" stroke="#2a2a2a" stroke-width="0.55"/>
<rect x="101" y="626.5" width="9.3" height="4.3" fill="#cdb91f" stroke="#3a3a3a" stroke-width="0.6"/>
<line x1="101" y1="628.3" x2="110.3" y2="628.3" stroke="#3a3a3a" stroke-width="0.6"/>
<circle cx="103.8" cy="625.3" r="1.9" fill="#f2d20a" stroke="#2a2a2a" stroke-width="0.55"/>
<circle cx="108" cy="628.3" r="1.9" fill="#f2d20a" stroke="#2a2a2a" stroke-width="0.55"/>
<circle cx="105.3" cy="630.8" r="1.9" fill="#f2d20a" stroke="#2a2a2a" stroke-width="0.55"/>
<circle cx="105.5" cy="633.6" r="1.9" fill="#f2d20a" stroke="#2a2a2a" stroke-width="0.55"/>
<rect x="175.1" y="499.5" width="80.3" height="145.7" fill="none" stroke="#666" stroke-width="0.7"/>
<line x1="172.5" y1="645.2" x2="175.1" y2="645.2" stroke="#666" stroke-width="0.6"/>
<text x="170.2" y="647.8" font-size="6.9" text-anchor="end" fill="#1a1a1a">2,500</text>
<line x1="172.5" y1="616.1" x2="175.1" y2="616.1" stroke="#666" stroke-width="0.6"/>
<text x="170.2" y="618.7" font-size="6.9" text-anchor="end" fill="#1a1a1a">3,000</text>
<line x1="172.5" y1="586.9" x2="175.1" y2="586.9" stroke="#666" stroke-width="0.6"/>
<text x="170.2" y="589.5" font-size="6.9" text-anchor="end" fill="#1a1a1a">3,500</text>
<line x1="172.5" y1="557.8" x2="175.1" y2="557.8" stroke="#666" stroke-width="0.6"/>
<text x="170.2" y="560.4" font-size="6.9" text-anchor="end" fill="#1a1a1a">4,000</text>
<line x1="172.5" y1="528.6" x2="175.1" y2="528.6" stroke="#666" stroke-width="0.6"/>
<text x="170.2" y="531.3" font-size="6.9" text-anchor="end" fill="#1a1a1a">4,500</text>
<line x1="172.5" y1="499.5" x2="175.1" y2="499.5" stroke="#666" stroke-width="0.6"/>
<text x="170.2" y="502.1" font-size="6.9" text-anchor="end" fill="#1a1a1a">5,000</text>
<text x="145" y="572" font-size="6.9" text-anchor="middle" fill="#1a1a1a" transform="rotate(-90 145 572)">Synapse size (voxels)</text>
<line x1="190" y1="645.2" x2="190" y2="647" stroke="#666" stroke-width="0.6"/>
<text x="190" y="657.6" font-size="7.15" text-anchor="middle" fill="#1a1a1a">MET-8</text>
<line x1="216.2" y1="645.2" x2="216.2" y2="647" stroke="#666" stroke-width="0.6"/>
<text x="216.2" y="657.6" font-size="7.15" text-anchor="middle" fill="#1a1a1a">MET-4</text>
<line x1="242.3" y1="645.2" x2="242.3" y2="647" stroke="#666" stroke-width="0.6"/>
<text x="242.3" y="657.6" font-size="7.15" text-anchor="middle" fill="#1a1a1a">MET-6</text>
<line x1="185.5" y1="537.4" x2="213.7" y2="537.4" stroke="#555" stroke-width="0.6"/>
<text x="199.6" y="538.4" font-size="8.4" text-anchor="middle" fill="#222">**</text>
<line x1="190" y1="624" x2="190" y2="632" stroke="#444" stroke-width="0.6"/>
<line x1="190" y1="624" x2="192.5" y2="624" stroke="#444" stroke-width="0.6"/>
<rect x="184.6" y="632" width="10.6" height="9.4" fill="#7b6326" stroke="#3a3a3a" stroke-width="0.6"/>
<circle cx="190.4" cy="624" r="1.9" fill="#7b6326" stroke="#2a2a2a" stroke-width="0.55"/>
<circle cx="191.4" cy="642" r="1.9" fill="#7b6326" stroke="#2a2a2a" stroke-width="0.55"/>
<line x1="216" y1="552.4" x2="216" y2="597" stroke="#444" stroke-width="0.6"/>
<line x1="216" y1="552.4" x2="218.5" y2="552.4" stroke="#444" stroke-width="0.6"/>
<rect x="210.7" y="558.4" width="10.8" height="28.6" fill="#eda486" stroke="#3a3a3a" stroke-width="0.6"/>
<line x1="210.7" y1="577.4" x2="221.5" y2="577.4" stroke="#3a3a3a" stroke-width="0.6"/>
<circle cx="216.4" cy="515.6" r="1.9" fill="#f5a57e" stroke="#2a2a2a" stroke-width="0.55"/>
<circle cx="214.3" cy="552.6" r="1.9" fill="#f5a57e" stroke="#2a2a2a" stroke-width="0.55"/>
<circle cx="214.7" cy="575.7" r="1.9" fill="#f5a57e" stroke="#2a2a2a" stroke-width="0.55"/>
<circle cx="216.4" cy="579" r="1.9" fill="#f5a57e" stroke="#2a2a2a" stroke-width="0.55"/>
<circle cx="213.7" cy="589.5" r="1.9" fill="#f5a57e" stroke="#2a2a2a" stroke-width="0.55"/>
<circle cx="213.7" cy="597" r="1.9" fill="#f5a57e" stroke="#2a2a2a" stroke-width="0.55"/>
<rect x="237" y="584" width="10.6" height="8.3" fill="#cdb91f" stroke="#3a3a3a" stroke-width="0.6"/>
<line x1="237" y1="588" x2="247.6" y2="588" stroke="#3a3a3a" stroke-width="0.6"/>
<circle cx="241.2" cy="582.3" r="1.9" fill="#f2d20a" stroke="#2a2a2a" stroke-width="0.55"/>
<circle cx="243.3" cy="584.2" r="1.9" fill="#f2d20a" stroke="#2a2a2a" stroke-width="0.55"/>
<circle cx="240.1" cy="592.3" r="1.9" fill="#f2d20a" stroke="#2a2a2a" stroke-width="0.55"/>
<circle cx="242.3" cy="608.2" r="1.9" fill="#f2d20a" stroke="#2a2a2a" stroke-width="0.55"/>
<circle cx="244" cy="590" r="1.9" fill="#f2d20a" stroke="#2a2a2a" stroke-width="0.55"/>
<rect x="309.6" y="498.6" width="82.8" height="146.6" fill="none" stroke="#666" stroke-width="0.7"/>
<line x1="307" y1="645.2" x2="309.6" y2="645.2" stroke="#666" stroke-width="0.6"/>
<text x="303.9" y="647.8" font-size="6.9" text-anchor="end" fill="#1a1a1a">1.0</text>
<line x1="307" y1="615.9" x2="309.6" y2="615.9" stroke="#666" stroke-width="0.6"/>
<text x="303.9" y="618.5" font-size="6.9" text-anchor="end" fill="#1a1a1a">1.5</text>
<line x1="307" y1="586.6" x2="309.6" y2="586.6" stroke="#666" stroke-width="0.6"/>
<text x="303.9" y="589.2" font-size="6.9" text-anchor="end" fill="#1a1a1a">2.0</text>
<line x1="307" y1="557.3" x2="309.6" y2="557.3" stroke="#666" stroke-width="0.6"/>
<text x="303.9" y="559.9" font-size="6.9" text-anchor="end" fill="#1a1a1a">2.5</text>
<line x1="307" y1="528" x2="309.6" y2="528" stroke="#666" stroke-width="0.6"/>
<text x="303.9" y="530.6" font-size="6.9" text-anchor="end" fill="#1a1a1a">3.0</text>
<line x1="307" y1="498.7" x2="309.6" y2="498.7" stroke="#666" stroke-width="0.6"/>
<text x="303.9" y="501.3" font-size="6.9" text-anchor="end" fill="#1a1a1a">3.5</text>
<text x="284.3" y="572.5" font-size="6.9" text-anchor="middle" fill="#1a1a1a" transform="rotate(-90 284.3 572.5)">Number of synapses per connection</text>
<line x1="323.6" y1="645.2" x2="323.6" y2="647" stroke="#666" stroke-width="0.6"/>
<text x="323.6" y="657.6" font-size="7.15" text-anchor="middle" fill="#1a1a1a">MET-8</text>
<line x1="351.5" y1="645.2" x2="351.5" y2="647" stroke="#666" stroke-width="0.6"/>
<text x="351.5" y="657.6" font-size="7.15" text-anchor="middle" fill="#1a1a1a">MET-4</text>
<line x1="378.5" y1="645.2" x2="378.5" y2="647" stroke="#666" stroke-width="0.6"/>
<text x="378.5" y="657.6" font-size="7.15" text-anchor="middle" fill="#1a1a1a">MET-6</text>
<line x1="325.5" y1="504.8" x2="382.3" y2="504.8" stroke="#bbb" stroke-width="0.9"/>
<text x="353.9" y="505.8" font-size="8.4" text-anchor="middle" fill="#222">**</text>
<line x1="325.5" y1="512.4" x2="353.7" y2="512.4" stroke="#555" stroke-width="0.6"/>
<text x="339.6" y="513.4" font-size="8.4" text-anchor="middle" fill="#222">*</text>
<line x1="323.5" y1="517" x2="323.5" y2="524" stroke="#444" stroke-width="0.6"/>
<line x1="323.5" y1="517" x2="326" y2="517" stroke="#444" stroke-width="0.6"/>
<line x1="323.5" y1="550.5" x2="323.5" y2="570.4" stroke="#444" stroke-width="0.6"/>
<line x1="323.5" y1="550.5" x2="326" y2="550.5" stroke="#444" stroke-width="0.6"/>
<rect x="317.7" y="524" width="11.6" height="26.5" fill="#7b6326" stroke="#3a3a3a" stroke-width="0.6"/>
<line x1="317.7" y1="531.3" x2="329.3" y2="531.3" stroke="#3a3a3a" stroke-width="0.6"/>
<circle cx="326" cy="517" r="1.9" fill="#7b6326" stroke="#2a2a2a" stroke-width="0.55"/>
<circle cx="322.3" cy="531.3" r="1.9" fill="#7b6326" stroke="#2a2a2a" stroke-width="0.55"/>
<circle cx="325.5" cy="570.4" r="1.9" fill="#7b6326" stroke="#2a2a2a" stroke-width="0.55"/>
<rect x="345.2" y="611" width="11.6" height="4.6" fill="#eda486" stroke="#3a3a3a" stroke-width="0.6"/>
<line x1="345.2" y1="613" x2="356.8" y2="613" stroke="#3a3a3a" stroke-width="0.6"/>
<line x1="351" y1="597.6" x2="351" y2="611" stroke="#444" stroke-width="0.6"/>
<line x1="351" y1="597.6" x2="353.5" y2="597.6" stroke="#444" stroke-width="0.6"/>
<line x1="351" y1="615.6" x2="351" y2="630" stroke="#444" stroke-width="0.6"/>
<line x1="351" y1="615.6" x2="353.5" y2="615.6" stroke="#444" stroke-width="0.6"/>
<circle cx="353.7" cy="597.6" r="1.9" fill="#f5a57e" stroke="#2a2a2a" stroke-width="0.55"/>
<circle cx="350.5" cy="609.6" r="1.9" fill="#f5a57e" stroke="#2a2a2a" stroke-width="0.55"/>
<circle cx="349.4" cy="614.5" r="1.9" fill="#f5a57e" stroke="#2a2a2a" stroke-width="0.55"/>
<circle cx="354" cy="630" r="1.9" fill="#f5a57e" stroke="#2a2a2a" stroke-width="0.55"/>
<circle cx="352.5" cy="612.5" r="1.9" fill="#f5a57e" stroke="#2a2a2a" stroke-width="0.55"/>
<rect x="373.4" y="615.6" width="11" height="4.2" fill="#cdb91f" stroke="#3a3a3a" stroke-width="0.6"/>
<line x1="373.4" y1="617.5" x2="384.4" y2="617.5" stroke="#3a3a3a" stroke-width="0.6"/>
<circle cx="377.4" cy="608.6" r="1.9" fill="#f2d20a" stroke="#2a2a2a" stroke-width="0.55"/>
<circle cx="379.7" cy="615.6" r="1.9" fill="#f2d20a" stroke="#2a2a2a" stroke-width="0.55"/>
<circle cx="378" cy="618.7" r="1.9" fill="#f2d20a" stroke="#2a2a2a" stroke-width="0.55"/>
<circle cx="380.6" cy="621.9" r="1.9" fill="#f2d20a" stroke="#2a2a2a" stroke-width="0.55"/>
<rect x="39.1" y="688.4" width="81.7" height="147.2" fill="none" stroke="#666" stroke-width="0.7"/>
<line x1="36.5" y1="829.5" x2="39.1" y2="829.5" stroke="#666" stroke-width="0.6"/>
<text x="33" y="832" font-size="6.7" text-anchor="end" fill="#1a1a1a">0</text>
<line x1="36.5" y1="806" x2="39.1" y2="806" stroke="#666" stroke-width="0.6"/>
<text x="33" y="808.5" font-size="6.7" text-anchor="end" fill="#1a1a1a">2</text>
<line x1="36.5" y1="782.5" x2="39.1" y2="782.5" stroke="#666" stroke-width="0.6"/>
<text x="33" y="785" font-size="6.7" text-anchor="end" fill="#1a1a1a">4</text>
<line x1="36.5" y1="759" x2="39.1" y2="759" stroke="#666" stroke-width="0.6"/>
<text x="33" y="761.5" font-size="6.7" text-anchor="end" fill="#1a1a1a">6</text>
<line x1="36.5" y1="735.5" x2="39.1" y2="735.5" stroke="#666" stroke-width="0.6"/>
<text x="33" y="738" font-size="6.7" text-anchor="end" fill="#1a1a1a">8</text>
<line x1="36.5" y1="712" x2="39.1" y2="712" stroke="#666" stroke-width="0.6"/>
<text x="33" y="714.5" font-size="6.7" text-anchor="end" fill="#1a1a1a">10</text>
<line x1="36.5" y1="688.5" x2="39.1" y2="688.5" stroke="#666" stroke-width="0.6"/>
<text x="33" y="691" font-size="6.7" text-anchor="end" fill="#1a1a1a">12</text>
<text x="19.3" y="762" font-size="6.7" text-anchor="middle" fill="#1a1a1a" transform="rotate(-90 19.3 762)">Number of segments</text>
<line x1="53.2" y1="835.6" x2="53.2" y2="837.4" stroke="#666" stroke-width="0.6"/>
<text x="53.2" y="847.6" font-size="6.95" text-anchor="middle" fill="#1a1a1a">MET-8</text>
<line x1="80.5" y1="835.6" x2="80.5" y2="837.4" stroke="#666" stroke-width="0.6"/>
<text x="80.5" y="847.6" font-size="6.95" text-anchor="middle" fill="#1a1a1a">MET-4</text>
<line x1="107.8" y1="835.6" x2="107.8" y2="837.4" stroke="#666" stroke-width="0.6"/>
<text x="107.8" y="847.6" font-size="6.95" text-anchor="middle" fill="#1a1a1a">MET-6</text>
<text x="78.3" y="683.3" font-size="6.7" text-anchor="middle" fill="#1a1a1a">Number of myelin segments</text>
<line x1="83.4" y1="695" x2="109.6" y2="695" stroke="#777" stroke-width="0.6"/>
<text x="96.5" y="696" font-size="8.4" text-anchor="middle" fill="#222">**</text>
<line x1="53.3" y1="758.6" x2="53.3" y2="788" stroke="#444" stroke-width="0.6"/>
<line x1="53.3" y1="758.6" x2="55.8" y2="758.6" stroke="#444" stroke-width="0.6"/>
<rect x="48" y="788" width="10.6" height="29.7" fill="#7b6326" stroke="#3a3a3a" stroke-width="0.6"/>
<circle cx="49.9" cy="817.7" r="1.9" fill="#7b6326" stroke="#2a2a2a" stroke-width="0.55"/>
<circle cx="55.2" cy="817.7" r="1.9" fill="#7b6326" stroke="#2a2a2a" stroke-width="0.55"/>
<circle cx="55.9" cy="758.6" r="1.9" fill="#7b6326" stroke="#2a2a2a" stroke-width="0.55"/>
<line x1="80" y1="735.4" x2="80" y2="738" stroke="#444" stroke-width="0.6"/>
<line x1="80" y1="735.4" x2="82.5" y2="735.4" stroke="#444" stroke-width="0.6"/>
<rect x="74.5" y="738" width="10.9" height="22.6" fill="#eda486" stroke="#3a3a3a" stroke-width="0.6"/>
<line x1="74.5" y1="752.8" x2="85.4" y2="752.8" stroke="#3a3a3a" stroke-width="0.6"/>
<circle cx="74.5" cy="700.3" r="1.9" fill="#f5a57e" stroke="#2a2a2a" stroke-width="0.55"/>
<circle cx="80.1" cy="700.3" r="1.9" fill="#fff" stroke="#2a2a2a" stroke-width="0.55"/>
<circle cx="84.3" cy="735.4" r="1.9" fill="#f5a57e" stroke="#2a2a2a" stroke-width="0.55"/>
<circle cx="76.3" cy="747.2" r="1.9" fill="#f5a57e" stroke="#2a2a2a" stroke-width="0.55"/>
<circle cx="76.7" cy="758.6" r="1.9" fill="#f5a57e" stroke="#2a2a2a" stroke-width="0.55"/>
<circle cx="82.3" cy="758.6" r="1.9" fill="#f5a57e" stroke="#2a2a2a" stroke-width="0.55"/>
<circle cx="80.1" cy="806" r="1.9" fill="#f5a57e" stroke="#2a2a2a" stroke-width="0.55"/>
<line x1="104" y1="817.7" x2="112" y2="817.7" stroke="#444" stroke-width="0.6"/>
<circle cx="102.9" cy="817.7" r="1.9" fill="#f2d20a" stroke="#2a2a2a" stroke-width="0.55"/>
<circle cx="107.4" cy="817.7" r="1.9" fill="#f2d20a" stroke="#2a2a2a" stroke-width="0.55"/>
<circle cx="109.6" cy="782.3" r="1.9" fill="#f2d20a" stroke="#2a2a2a" stroke-width="0.55"/>
<circle cx="106.9" cy="782.3" r="1.9" fill="#fff" stroke="#2a2a2a" stroke-width="0.55"/>
<circle cx="102.9" cy="829.5" r="1.9" fill="#f2d20a" stroke="#2a2a2a" stroke-width="0.55"/>
<circle cx="106.9" cy="829.5" r="1.9" fill="#fff" stroke="#2a2a2a" stroke-width="0.55"/>
<rect x="174.3" y="689.7" width="84.3" height="145.9" fill="none" stroke="#666" stroke-width="0.7"/>
<line x1="171.7" y1="835.6" x2="174.3" y2="835.6" stroke="#666" stroke-width="0.6"/>
<text x="167.8" y="838.1" font-size="6.7" text-anchor="end" fill="#1a1a1a">15</text>
<line x1="171.7" y1="814.8" x2="174.3" y2="814.8" stroke="#666" stroke-width="0.6"/>
<text x="167.8" y="817.3" font-size="6.7" text-anchor="end" fill="#1a1a1a">20</text>
<line x1="171.7" y1="793.9" x2="174.3" y2="793.9" stroke="#666" stroke-width="0.6"/>
<text x="167.8" y="796.5" font-size="6.7" text-anchor="end" fill="#1a1a1a">25</text>
<line x1="171.7" y1="773.1" x2="174.3" y2="773.1" stroke="#666" stroke-width="0.6"/>
<text x="167.8" y="775.6" font-size="6.7" text-anchor="end" fill="#1a1a1a">30</text>
<line x1="171.7" y1="752.2" x2="174.3" y2="752.2" stroke="#666" stroke-width="0.6"/>
<text x="167.8" y="754.8" font-size="6.7" text-anchor="end" fill="#1a1a1a">35</text>
<line x1="171.7" y1="731.4" x2="174.3" y2="731.4" stroke="#666" stroke-width="0.6"/>
<text x="167.8" y="733.9" font-size="6.7" text-anchor="end" fill="#1a1a1a">40</text>
<line x1="171.7" y1="710.6" x2="174.3" y2="710.6" stroke="#666" stroke-width="0.6"/>
<text x="167.8" y="713.1" font-size="6.7" text-anchor="end" fill="#1a1a1a">45</text>
<line x1="171.7" y1="689.7" x2="174.3" y2="689.7" stroke="#666" stroke-width="0.6"/>
<text x="167.8" y="692.3" font-size="6.7" text-anchor="end" fill="#1a1a1a">50</text>
<text x="151.8" y="762.7" font-size="6.7" text-anchor="middle" fill="#1a1a1a" transform="rotate(-90 151.8 762.7)">Path length (µm)</text>
<line x1="188.2" y1="835.6" x2="188.2" y2="837.4" stroke="#666" stroke-width="0.6"/>
<text x="188.2" y="847.6" font-size="6.95" text-anchor="middle" fill="#1a1a1a">MET-8</text>
<line x1="216.8" y1="835.6" x2="216.8" y2="837.4" stroke="#666" stroke-width="0.6"/>
<text x="216.8" y="847.6" font-size="6.95" text-anchor="middle" fill="#1a1a1a">MET-4</text>
<line x1="244.5" y1="835.6" x2="244.5" y2="837.4" stroke="#666" stroke-width="0.6"/>
<text x="244.5" y="847.6" font-size="6.95" text-anchor="middle" fill="#1a1a1a">MET-6</text>
<text x="217" y="683.3" font-size="6.7" text-anchor="middle" fill="#1a1a1a">Average length of myelin</text>
<line x1="188" y1="784.6" x2="188" y2="796.4" stroke="#444" stroke-width="0.6"/>
<line x1="188" y1="784.6" x2="190.5" y2="784.6" stroke="#444" stroke-width="0.6"/>
<rect x="182.6" y="796.4" width="11.1" height="12.3" fill="#7b6326" stroke="#3a3a3a" stroke-width="0.6"/>
<circle cx="185.2" cy="784.6" r="1.9" fill="#7b6326" stroke="#2a2a2a" stroke-width="0.55"/>
<circle cx="185.2" cy="808.7" r="1.9" fill="#7b6326" stroke="#2a2a2a" stroke-width="0.55"/>
<line x1="216.5" y1="697.6" x2="216.5" y2="721" stroke="#444" stroke-width="0.6"/>
<line x1="216.5" y1="697.6" x2="219" y2="697.6" stroke="#444" stroke-width="0.6"/>
<line x1="216.5" y1="795" x2="216.5" y2="825.5" stroke="#444" stroke-width="0.6"/>
<line x1="216.5" y1="795" x2="219" y2="795" stroke="#444" stroke-width="0.6"/>
<rect x="211" y="721" width="11" height="74" fill="#eda486" stroke="#3a3a3a" stroke-width="0.6"/>
<line x1="211" y1="774.5" x2="222" y2="774.5" stroke="#3a3a3a" stroke-width="0.6"/>
<circle cx="214.3" cy="697.6" r="1.9" fill="#f5a57e" stroke="#2a2a2a" stroke-width="0.55"/>
<circle cx="218.3" cy="706.5" r="1.9" fill="#f5a57e" stroke="#2a2a2a" stroke-width="0.55"/>
<circle cx="217.8" cy="766.2" r="1.9" fill="#f5a57e" stroke="#2a2a2a" stroke-width="0.55"/>
<circle cx="213.3" cy="783.3" r="1.9" fill="#f5a57e" stroke="#2a2a2a" stroke-width="0.55"/>
<circle cx="215.6" cy="799.4" r="1.9" fill="#f5a57e" stroke="#2a2a2a" stroke-width="0.55"/>
<circle cx="216.7" cy="825.5" r="1.9" fill="#f5a57e" stroke="#2a2a2a" stroke-width="0.55"/>
<line x1="244.6" y1="778.5" x2="244.6" y2="782.3" stroke="#444" stroke-width="0.6"/>
<line x1="244.6" y1="778.5" x2="247.1" y2="778.5" stroke="#444" stroke-width="0.6"/>
<line x1="244.6" y1="809.4" x2="244.6" y2="815.4" stroke="#444" stroke-width="0.6"/>
<line x1="244.6" y1="809.4" x2="247.1" y2="809.4" stroke="#444" stroke-width="0.6"/>
<rect x="239" y="782.3" width="11.3" height="27.1" fill="#cdb91f" stroke="#3a3a3a" stroke-width="0.6"/>
<line x1="239" y1="795.3" x2="250.3" y2="795.3" stroke="#3a3a3a" stroke-width="0.6"/>
<circle cx="243.5" cy="778.5" r="1.9" fill="#f2d20a" stroke="#2a2a2a" stroke-width="0.55"/>
<circle cx="243.5" cy="783.3" r="1.9" fill="#f2d20a" stroke="#2a2a2a" stroke-width="0.55"/>
<circle cx="247.3" cy="807.6" r="1.9" fill="#f2d20a" stroke="#2a2a2a" stroke-width="0.55"/>
<circle cx="243.9" cy="815.4" r="1.9" fill="#f2d20a" stroke="#2a2a2a" stroke-width="0.55"/>
<rect x="309.8" y="689.7" width="81" height="145.9" fill="none" stroke="#666" stroke-width="0.7"/>
<line x1="307.2" y1="833.3" x2="309.8" y2="833.3" stroke="#666" stroke-width="0.6"/>
<text x="303" y="835.8" font-size="6.7" text-anchor="end" fill="#1a1a1a">0</text>
<line x1="307.2" y1="814.5" x2="309.8" y2="814.5" stroke="#666" stroke-width="0.6"/>
<text x="303" y="817" font-size="6.7" text-anchor="end" fill="#1a1a1a">50</text>
<line x1="307.2" y1="795.6" x2="309.8" y2="795.6" stroke="#666" stroke-width="0.6"/>
<text x="303" y="798.2" font-size="6.7" text-anchor="end" fill="#1a1a1a">100</text>
<line x1="307.2" y1="776.8" x2="309.8" y2="776.8" stroke="#666" stroke-width="0.6"/>
<text x="303" y="779.3" font-size="6.7" text-anchor="end" fill="#1a1a1a">150</text>
<line x1="307.2" y1="757.9" x2="309.8" y2="757.9" stroke="#666" stroke-width="0.6"/>
<text x="303" y="760.5" font-size="6.7" text-anchor="end" fill="#1a1a1a">200</text>
<line x1="307.2" y1="739.1" x2="309.8" y2="739.1" stroke="#666" stroke-width="0.6"/>
<text x="303" y="741.6" font-size="6.7" text-anchor="end" fill="#1a1a1a">250</text>
<line x1="307.2" y1="720.3" x2="309.8" y2="720.3" stroke="#666" stroke-width="0.6"/>
<text x="303" y="722.8" font-size="6.7" text-anchor="end" fill="#1a1a1a">300</text>
<line x1="307.2" y1="701.4" x2="309.8" y2="701.4" stroke="#666" stroke-width="0.6"/>
<text x="303" y="704" font-size="6.7" text-anchor="end" fill="#1a1a1a">350</text>
<text x="283.5" y="762.5" font-size="6.7" text-anchor="middle" fill="#1a1a1a" transform="rotate(-90 283.5 762.5)">Path length (µm)</text>
<line x1="323.2" y1="835.6" x2="323.2" y2="837.4" stroke="#666" stroke-width="0.6"/>
<text x="323.2" y="847.6" font-size="6.95" text-anchor="middle" fill="#1a1a1a">MET-8</text>
<line x1="350" y1="835.6" x2="350" y2="837.4" stroke="#666" stroke-width="0.6"/>
<text x="350" y="847.6" font-size="6.95" text-anchor="middle" fill="#1a1a1a">MET-4</text>
<line x1="376.9" y1="835.6" x2="376.9" y2="837.4" stroke="#666" stroke-width="0.6"/>
<text x="376.9" y="847.6" font-size="6.95" text-anchor="middle" fill="#1a1a1a">MET-6</text>
<text x="350.3" y="683.3" font-size="6.7" text-anchor="middle" fill="#1a1a1a">Total length of myelin</text>
<line x1="321" y1="696.2" x2="347.2" y2="696.2" stroke="#555" stroke-width="0.6"/>
<text x="334.1" y="697.2" font-size="8.4" text-anchor="middle" fill="#222">*</text>
<line x1="351.2" y1="696.2" x2="377.4" y2="696.2" stroke="#555" stroke-width="0.6"/>
<text x="364.3" y="697.2" font-size="8.4" text-anchor="middle" fill="#222">**</text>
<line x1="323.3" y1="771.8" x2="323.3" y2="798.7" stroke="#444" stroke-width="0.6"/>
<line x1="323.3" y1="771.8" x2="325.8" y2="771.8" stroke="#444" stroke-width="0.6"/>
<rect x="318" y="798.7" width="10.6" height="26.8" fill="#7b6326" stroke="#3a3a3a" stroke-width="0.6"/>
<circle cx="324.4" cy="771.8" r="1.9" fill="#7b6326" stroke="#2a2a2a" stroke-width="0.55"/>
<circle cx="321" cy="825.5" r="1.9" fill="#7b6326" stroke="#2a2a2a" stroke-width="0.55"/>
<circle cx="324.4" cy="825.5" r="1.9" fill="#7b6326" stroke="#2a2a2a" stroke-width="0.55"/>
<line x1="350" y1="701.8" x2="350" y2="725.3" stroke="#444" stroke-width="0.6"/>
<line x1="350" y1="701.8" x2="352.5" y2="701.8" stroke="#444" stroke-width="0.6"/>
<line x1="350" y1="765.6" x2="350" y2="820.6" stroke="#444" stroke-width="0.6"/>
<line x1="350" y1="765.6" x2="352.5" y2="765.6" stroke="#444" stroke-width="0.6"/>
<rect x="344.5" y="725.3" width="10.9" height="40.3" fill="#eda486" stroke="#3a3a3a" stroke-width="0.6"/>
<line x1="344.5" y1="739.4" x2="355.4" y2="739.4" stroke="#3a3a3a" stroke-width="0.6"/>
<circle cx="347.8" cy="701.8" r="1.9" fill="#f5a57e" stroke="#2a2a2a" stroke-width="0.55"/>
<circle cx="347.2" cy="724.4" r="1.9" fill="#f5a57e" stroke="#2a2a2a" stroke-width="0.55"/>
<circle cx="352.3" cy="729.3" r="1.9" fill="#f5a57e" stroke="#2a2a2a" stroke-width="0.55"/>
<circle cx="350" cy="750.1" r="1.9" fill="#f5a57e" stroke="#2a2a2a" stroke-width="0.55"/>
<circle cx="348.3" cy="770.7" r="1.9" fill="#f5a57e" stroke="#2a2a2a" stroke-width="0.55"/>
<circle cx="351.6" cy="820.6" r="1.9" fill="#f5a57e" stroke="#2a2a2a" stroke-width="0.55"/>
<rect x="371.8" y="822.8" width="10" height="3.2" fill="#cdb91f" stroke="#3a3a3a" stroke-width="0.6"/>
<line x1="371.8" y1="824.4" x2="381.8" y2="824.4" stroke="#3a3a3a" stroke-width="0.6"/>
<circle cx="374" cy="792" r="1.9" fill="#f2d20a" stroke="#2a2a2a" stroke-width="0.55"/>
<circle cx="376.9" cy="792" r="1.9" fill="#fff" stroke="#2a2a2a" stroke-width="0.55"/>
<circle cx="376.2" cy="822.8" r="1.9" fill="#f2d20a" stroke="#2a2a2a" stroke-width="0.55"/>
<circle cx="378" cy="824.4" r="1.9" fill="#f2d20a" stroke="#2a2a2a" stroke-width="0.55"/>
<circle cx="376.9" cy="826" r="1.9" fill="#f2d20a" stroke="#2a2a2a" stroke-width="0.55"/>
<circle cx="375.8" cy="833.3" r="1.9" fill="#f2d20a" stroke="#2a2a2a" stroke-width="0.55"/>
<line x1="457.6" y1="495.4" x2="681.6" y2="495.4" stroke="#666" stroke-width="0.7"/>
<line x1="457.6" y1="495.4" x2="457.6" y2="565.3" stroke="#666" stroke-width="0.7"/>
<line x1="457.6" y1="570.1" x2="457.6" y2="639.8" stroke="#666" stroke-width="0.7"/>
<line x1="681.6" y1="495.4" x2="681.6" y2="566" stroke="#666" stroke-width="0.7"/>
<line x1="681.6" y1="570.4" x2="681.6" y2="639.8" stroke="#666" stroke-width="0.7"/>
<line x1="456.1" y1="565.3" x2="459.1" y2="565.3" stroke="#666" stroke-width="0.6"/>
<line x1="456.1" y1="570.1" x2="459.1" y2="570.1" stroke="#666" stroke-width="0.6"/>
<line x1="680.1" y1="566" x2="683.1" y2="566" stroke="#666" stroke-width="0.6"/>
<line x1="680.1" y1="570.4" x2="683.1" y2="570.4" stroke="#666" stroke-width="0.6"/>
<line x1="457.6" y1="639.8" x2="681.6" y2="639.8" stroke="#666" stroke-width="0.7"/>
<line x1="455.4" y1="495.4" x2="457.6" y2="495.4" stroke="#666" stroke-width="0.6"/>
<text x="453.7" y="497.8" font-size="6.5" text-anchor="end" fill="#1a1a1a">9,000</text>
<line x1="455.4" y1="518.7" x2="457.6" y2="518.7" stroke="#666" stroke-width="0.6"/>
<text x="453.7" y="521.1" font-size="6.5" text-anchor="end" fill="#1a1a1a">7,500</text>
<line x1="455.4" y1="542" x2="457.6" y2="542" stroke="#666" stroke-width="0.6"/>
<text x="453.7" y="544.4" font-size="6.5" text-anchor="end" fill="#1a1a1a">6,000</text>
<line x1="455.4" y1="565.3" x2="457.6" y2="565.3" stroke="#666" stroke-width="0.6"/>
<text x="453.7" y="566.6" font-size="6.5" text-anchor="end" fill="#1a1a1a">4,500</text>
<line x1="455.4" y1="570.1" x2="457.6" y2="570.1" stroke="#666" stroke-width="0.6"/>
<text x="453.7" y="572.6" font-size="6.5" text-anchor="end" fill="#1a1a1a">2,000</text>
<line x1="455.4" y1="587.5" x2="457.6" y2="587.5" stroke="#666" stroke-width="0.6"/>
<text x="453.7" y="589.9" font-size="6.5" text-anchor="end" fill="#1a1a1a">1,500</text>
<line x1="455.4" y1="604.9" x2="457.6" y2="604.9" stroke="#666" stroke-width="0.6"/>
<text x="453.7" y="607.3" font-size="6.5" text-anchor="end" fill="#1a1a1a">1,000</text>
<line x1="455.4" y1="622.4" x2="457.6" y2="622.4" stroke="#666" stroke-width="0.6"/>
<text x="453.7" y="624.8" font-size="6.5" text-anchor="end" fill="#1a1a1a">500</text>
<line x1="455.4" y1="639.8" x2="457.6" y2="639.8" stroke="#666" stroke-width="0.6"/>
<text x="453.7" y="642.2" font-size="6.5" text-anchor="end" fill="#1a1a1a">0</text>
<text x="428.6" y="566.8" font-size="6.6" text-anchor="middle" fill="#1a1a1a" transform="rotate(-90 428.6 566.8)">Number of synapses</text>
<rect x="465.3" y="602.6" width="5.3" height="37.2" fill="#7b6326"/>
<line x1="467.9" y1="598.7" x2="467.9" y2="606.6" stroke="#555" stroke-width="0.5"/>
<line x1="466.9" y1="598.7" x2="469" y2="598.7" stroke="#555" stroke-width="0.5"/>
<rect x="470.6" y="608.3" width="5.3" height="31.5" fill="#eda486"/>
<line x1="473.2" y1="606.3" x2="473.2" y2="610.2" stroke="#555" stroke-width="0.5"/>
<line x1="472.2" y1="606.3" x2="474.3" y2="606.3" stroke="#555" stroke-width="0.5"/>
<rect x="475.9" y="621.3" width="5.3" height="18.5" fill="#cdb91f"/>
<line x1="478.6" y1="618.9" x2="478.6" y2="623.6" stroke="#555" stroke-width="0.5"/>
<line x1="477.5" y1="618.9" x2="479.6" y2="618.9" stroke="#555" stroke-width="0.5"/>
<text x="473.3" y="648.6" font-size="6.6" text-anchor="middle" fill="#1a1a1a">L2/3 IT</text>
<line x1="473.3" y1="639.8" x2="473.3" y2="641.4" stroke="#666" stroke-width="0.6"/>
<rect x="497.3" y="537.3" width="5.3" height="27.8" fill="#7b6326"/>
<rect x="497.3" y="570.6" width="5.3" height="69.2" fill="#7b6326"/>
<line x1="500.1" y1="519" x2="500.1" y2="553.7" stroke="#555" stroke-width="0.6"/>
<line x1="498.9" y1="519" x2="501.3" y2="519" stroke="#555" stroke-width="0.6"/>
<rect x="502.6" y="628.3" width="5.3" height="11.5" fill="#eda486"/>
<line x1="505.2" y1="618.2" x2="505.2" y2="638.4" stroke="#555" stroke-width="0.5"/>
<line x1="504.2" y1="618.2" x2="506.3" y2="618.2" stroke="#555" stroke-width="0.5"/>
<rect x="507.9" y="636.6" width="5.3" height="3.2" fill="#cdb91f"/>
<line x1="510.6" y1="634.9" x2="510.6" y2="638.3" stroke="#555" stroke-width="0.5"/>
<line x1="509.5" y1="634.9" x2="511.6" y2="634.9" stroke="#555" stroke-width="0.5"/>
<text x="505.3" y="648.6" font-size="6.6" text-anchor="middle" fill="#1a1a1a">L4 IT</text>
<line x1="505.3" y1="639.8" x2="505.3" y2="641.4" stroke="#666" stroke-width="0.6"/>
<rect x="529.3" y="637.7" width="5.3" height="2.1" fill="#7b6326"/>
<line x1="531.9" y1="636.3" x2="531.9" y2="639.1" stroke="#555" stroke-width="0.5"/>
<line x1="530.9" y1="636.3" x2="533" y2="636.3" stroke="#555" stroke-width="0.5"/>
<rect x="534.6" y="632.8" width="5.3" height="7" fill="#eda486"/>
<line x1="537.2" y1="630" x2="537.2" y2="635.6" stroke="#555" stroke-width="0.5"/>
<line x1="536.2" y1="630" x2="538.3" y2="630" stroke="#555" stroke-width="0.5"/>
<rect x="539.9" y="624.5" width="5.3" height="15.3" fill="#cdb91f"/>
<line x1="542.5" y1="621.7" x2="542.5" y2="627.3" stroke="#555" stroke-width="0.5"/>
<line x1="541.5" y1="621.7" x2="543.6" y2="621.7" stroke="#555" stroke-width="0.5"/>
<text x="537.3" y="648.6" font-size="6.6" text-anchor="middle" fill="#1a1a1a">L5 ET</text>
<line x1="537.3" y1="639.8" x2="537.3" y2="641.4" stroke="#666" stroke-width="0.6"/>
<rect x="561.3" y="598" width="5.3" height="41.8" fill="#7b6326"/>
<line x1="563.9" y1="585.4" x2="563.9" y2="610.5" stroke="#555" stroke-width="0.5"/>
<line x1="562.9" y1="585.4" x2="565" y2="585.4" stroke="#555" stroke-width="0.5"/>
<rect x="566.6" y="622.7" width="5.3" height="17.1" fill="#eda486"/>
<line x1="569.2" y1="616.8" x2="569.2" y2="628.6" stroke="#555" stroke-width="0.5"/>
<line x1="568.2" y1="616.8" x2="570.3" y2="616.8" stroke="#555" stroke-width="0.5"/>
<rect x="571.9" y="635.3" width="5.3" height="4.5" fill="#cdb91f"/>
<line x1="574.5" y1="633.2" x2="574.5" y2="637.4" stroke="#555" stroke-width="0.5"/>
<line x1="573.5" y1="633.2" x2="575.6" y2="633.2" stroke="#555" stroke-width="0.5"/>
<text x="569.3" y="648.6" font-size="6.6" text-anchor="middle" fill="#1a1a1a">L5 IT</text>
<line x1="569.3" y1="639.8" x2="569.3" y2="641.4" stroke="#666" stroke-width="0.6"/>
<rect x="593.3" y="639.4" width="5.3" height="0.4" fill="#7b6326"/>
<line x1="595.9" y1="639.3" x2="595.9" y2="639.5" stroke="#555" stroke-width="0.5"/>
<line x1="594.9" y1="639.3" x2="597" y2="639.3" stroke="#555" stroke-width="0.5"/>
<rect x="598.6" y="639.4" width="5.3" height="0.4" fill="#eda486"/>
<line x1="601.2" y1="639.3" x2="601.2" y2="639.5" stroke="#555" stroke-width="0.5"/>
<line x1="600.2" y1="639.3" x2="602.3" y2="639.3" stroke="#555" stroke-width="0.5"/>
<rect x="603.9" y="639.5" width="5.3" height="0.3" fill="#cdb91f"/>
<line x1="606.5" y1="639.5" x2="606.5" y2="639.6" stroke="#555" stroke-width="0.5"/>
<line x1="605.5" y1="639.5" x2="607.6" y2="639.5" stroke="#555" stroke-width="0.5"/>
<text x="601.3" y="648.6" font-size="6.6" text-anchor="middle" fill="#1a1a1a">L5 NP</text>
<line x1="601.3" y1="639.8" x2="601.3" y2="641.4" stroke="#666" stroke-width="0.6"/>
<rect x="625.3" y="636" width="5.3" height="3.8" fill="#7b6326"/>
<line x1="627.9" y1="634.6" x2="627.9" y2="637.4" stroke="#555" stroke-width="0.5"/>
<line x1="626.9" y1="634.6" x2="629" y2="634.6" stroke="#555" stroke-width="0.5"/>
<rect x="630.6" y="635.6" width="5.3" height="4.2" fill="#eda486"/>
<line x1="633.2" y1="633.9" x2="633.2" y2="637.4" stroke="#555" stroke-width="0.5"/>
<line x1="632.2" y1="633.9" x2="634.3" y2="633.9" stroke="#555" stroke-width="0.5"/>
<rect x="635.9" y="634.9" width="5.3" height="4.9" fill="#cdb91f"/>
<line x1="638.5" y1="633.2" x2="638.5" y2="636.7" stroke="#555" stroke-width="0.5"/>
<line x1="637.5" y1="633.2" x2="639.6" y2="633.2" stroke="#555" stroke-width="0.5"/>
<text x="633.3" y="648.6" font-size="6.6" text-anchor="middle" fill="#1a1a1a">L6</text>
<line x1="633.3" y1="639.8" x2="633.3" y2="641.4" stroke="#666" stroke-width="0.6"/>
<rect x="657.3" y="614" width="5.3" height="25.8" fill="#7b6326"/>
<line x1="659.9" y1="611.2" x2="659.9" y2="616.7" stroke="#555" stroke-width="0.5"/>
<line x1="658.9" y1="611.2" x2="661" y2="611.2" stroke="#555" stroke-width="0.5"/>
<rect x="662.6" y="629.7" width="5.3" height="10.1" fill="#eda486"/>
<line x1="665.2" y1="628.3" x2="665.2" y2="631.1" stroke="#555" stroke-width="0.5"/>
<line x1="664.2" y1="628.3" x2="666.3" y2="628.3" stroke="#555" stroke-width="0.5"/>
<rect x="667.9" y="636.4" width="5.3" height="3.4" fill="#cdb91f"/>
<line x1="670.5" y1="635.3" x2="670.5" y2="637.5" stroke="#555" stroke-width="0.5"/>
<line x1="669.5" y1="635.3" x2="671.6" y2="635.3" stroke="#555" stroke-width="0.5"/>
<text x="665.3" y="648.6" font-size="6.6" text-anchor="middle" fill="#1a1a1a">INH</text>
<line x1="665.3" y1="639.8" x2="665.3" y2="641.4" stroke="#666" stroke-width="0.6"/>
<circle cx="465.4" cy="595.1" r="1.75" fill="#7b6326" stroke="#2a2a2a" stroke-width="0.55"/>
<circle cx="464.5" cy="601.8" r="1.75" fill="#7b6326" stroke="#2a2a2a" stroke-width="0.55"/>
<circle cx="465.4" cy="609.7" r="1.75" fill="#7b6326" stroke="#2a2a2a" stroke-width="0.55"/>
<circle cx="473.4" cy="600.4" r="1.75" fill="#f5a57e" stroke="#2a2a2a" stroke-width="0.55"/>
<circle cx="473.6" cy="605.5" r="1.75" fill="#f5a57e" stroke="#2a2a2a" stroke-width="0.55"/>
<circle cx="474" cy="613.1" r="1.75" fill="#f5a57e" stroke="#2a2a2a" stroke-width="0.55"/>
<circle cx="473" cy="620.4" r="1.75" fill="#f5a57e" stroke="#2a2a2a" stroke-width="0.55"/>
<circle cx="474.2" cy="609" r="1.75" fill="#f5a57e" stroke="#2a2a2a" stroke-width="0.55"/>
<circle cx="481.6" cy="613.7" r="1.75" fill="#f2d20a" stroke="#2a2a2a" stroke-width="0.55"/>
<circle cx="482.5" cy="620.7" r="1.75" fill="#f2d20a" stroke="#2a2a2a" stroke-width="0.55"/>
<circle cx="483.1" cy="624.5" r="1.75" fill="#f2d20a" stroke="#2a2a2a" stroke-width="0.55"/>
<circle cx="482" cy="626.4" r="1.75" fill="#f2d20a" stroke="#2a2a2a" stroke-width="0.55"/>
<circle cx="495.8" cy="502.7" r="1.75" fill="#7b6326" stroke="#2a2a2a" stroke-width="0.55"/>
<circle cx="495.8" cy="545.8" r="1.75" fill="#7b6326" stroke="#2a2a2a" stroke-width="0.55"/>
<circle cx="496.8" cy="560.7" r="1.75" fill="#7b6326" stroke="#2a2a2a" stroke-width="0.55"/>
<circle cx="504.7" cy="618.8" r="1.75" fill="#f5a57e" stroke="#2a2a2a" stroke-width="0.55"/>
<circle cx="505.3" cy="623.6" r="1.75" fill="#f5a57e" stroke="#2a2a2a" stroke-width="0.55"/>
<circle cx="505.9" cy="632.1" r="1.75" fill="#f5a57e" stroke="#2a2a2a" stroke-width="0.55"/>
<circle cx="504.7" cy="637.8" r="1.75" fill="#f5a57e" stroke="#2a2a2a" stroke-width="0.55"/>
<circle cx="505.5" cy="628" r="1.75" fill="#f5a57e" stroke="#2a2a2a" stroke-width="0.55"/>
<circle cx="511.5" cy="637.5" r="1.75" fill="#f2d20a" stroke="#2a2a2a" stroke-width="0.55"/>
<circle cx="513.8" cy="635" r="1.75" fill="#f2d20a" stroke="#2a2a2a" stroke-width="0.55"/>
<circle cx="514.3" cy="637.8" r="1.75" fill="#f2d20a" stroke="#2a2a2a" stroke-width="0.55"/>
<circle cx="512" cy="638.6" r="1.75" fill="#f2d20a" stroke="#2a2a2a" stroke-width="0.55"/>
<circle cx="528.5" cy="637.5" r="1.75" fill="#7b6326" stroke="#2a2a2a" stroke-width="0.55"/>
<circle cx="530.5" cy="636.5" r="1.75" fill="#7b6326" stroke="#2a2a2a" stroke-width="0.55"/>
<circle cx="532" cy="638.2" r="1.75" fill="#7b6326" stroke="#2a2a2a" stroke-width="0.55"/>
<circle cx="529.5" cy="639" r="1.75" fill="#7b6326" stroke="#2a2a2a" stroke-width="0.55"/>
<circle cx="537.5" cy="626.8" r="1.75" fill="#f5a57e" stroke="#2a2a2a" stroke-width="0.55"/>
<circle cx="537" cy="630.5" r="1.75" fill="#f5a57e" stroke="#2a2a2a" stroke-width="0.55"/>
<circle cx="536.8" cy="634" r="1.75" fill="#f5a57e" stroke="#2a2a2a" stroke-width="0.55"/>
<circle cx="537.2" cy="637.5" r="1.75" fill="#f5a57e" stroke="#2a2a2a" stroke-width="0.55"/>
<circle cx="545.5" cy="622.8" r="1.75" fill="#f2d20a" stroke="#2a2a2a" stroke-width="0.55"/>
<circle cx="546.5" cy="625.5" r="1.75" fill="#f2d20a" stroke="#2a2a2a" stroke-width="0.55"/>
<circle cx="545.6" cy="629.5" r="1.75" fill="#f2d20a" stroke="#2a2a2a" stroke-width="0.55"/>
<circle cx="546.8" cy="632" r="1.75" fill="#f2d20a" stroke="#2a2a2a" stroke-width="0.55"/>
<circle cx="545.3" cy="633.8" r="1.75" fill="#f2d20a" stroke="#2a2a2a" stroke-width="0.55"/>
<circle cx="560" cy="583.7" r="1.75" fill="#7b6326" stroke="#2a2a2a" stroke-width="0.55"/>
<circle cx="560.9" cy="587.5" r="1.75" fill="#7b6326" stroke="#2a2a2a" stroke-width="0.55"/>
<circle cx="560" cy="622.6" r="1.75" fill="#7b6326" stroke="#2a2a2a" stroke-width="0.55"/>
<circle cx="568.5" cy="603.7" r="1.75" fill="#f5a57e" stroke="#2a2a2a" stroke-width="0.55"/>
<circle cx="568.5" cy="606" r="1.75" fill="#f5a57e" stroke="#2a2a2a" stroke-width="0.55"/>
<circle cx="569.2" cy="626" r="1.75" fill="#f5a57e" stroke="#2a2a2a" stroke-width="0.55"/>
<circle cx="568.8" cy="630.5" r="1.75" fill="#f5a57e" stroke="#2a2a2a" stroke-width="0.55"/>
<circle cx="568.4" cy="635.5" r="1.75" fill="#f5a57e" stroke="#2a2a2a" stroke-width="0.55"/>
<circle cx="575.8" cy="636.3" r="1.75" fill="#f2d20a" stroke="#2a2a2a" stroke-width="0.55"/>
<circle cx="577.5" cy="635.2" r="1.75" fill="#f2d20a" stroke="#2a2a2a" stroke-width="0.55"/>
<circle cx="578.2" cy="637.5" r="1.75" fill="#f2d20a" stroke="#2a2a2a" stroke-width="0.55"/>
<circle cx="576.6" cy="638.7" r="1.75" fill="#f2d20a" stroke="#2a2a2a" stroke-width="0.55"/>
<circle cx="593.8" cy="639.2" r="1.75" fill="#7b6326" stroke="#2a2a2a" stroke-width="0.55"/>
<circle cx="596" cy="639.4" r="1.75" fill="#7b6326" stroke="#2a2a2a" stroke-width="0.55"/>
<circle cx="600" cy="639.2" r="1.75" fill="#f5a57e" stroke="#2a2a2a" stroke-width="0.55"/>
<circle cx="601.5" cy="639.3" r="1.75" fill="#f5a57e" stroke="#2a2a2a" stroke-width="0.55"/>
<circle cx="607.6" cy="639.3" r="1.75" fill="#f2d20a" stroke="#2a2a2a" stroke-width="0.55"/>
<circle cx="609.5" cy="639.4" r="1.75" fill="#f2d20a" stroke="#2a2a2a" stroke-width="0.55"/>
<circle cx="624.5" cy="634.5" r="1.75" fill="#7b6326" stroke="#2a2a2a" stroke-width="0.55"/>
<circle cx="625.8" cy="636.8" r="1.75" fill="#7b6326" stroke="#2a2a2a" stroke-width="0.55"/>
<circle cx="627" cy="638.6" r="1.75" fill="#7b6326" stroke="#2a2a2a" stroke-width="0.55"/>
<circle cx="625" cy="638.9" r="1.75" fill="#7b6326" stroke="#2a2a2a" stroke-width="0.55"/>
<circle cx="632.5" cy="629.9" r="1.75" fill="#f5a57e" stroke="#2a2a2a" stroke-width="0.55"/>
<circle cx="632.8" cy="633.5" r="1.75" fill="#f5a57e" stroke="#2a2a2a" stroke-width="0.55"/>
<circle cx="632.3" cy="636.9" r="1.75" fill="#f5a57e" stroke="#2a2a2a" stroke-width="0.55"/>
<circle cx="633.2" cy="638.7" r="1.75" fill="#f5a57e" stroke="#2a2a2a" stroke-width="0.55"/>
<circle cx="640" cy="632.1" r="1.75" fill="#f2d20a" stroke="#2a2a2a" stroke-width="0.55"/>
<circle cx="641.5" cy="634.6" r="1.75" fill="#f2d20a" stroke="#2a2a2a" stroke-width="0.55"/>
<circle cx="640.3" cy="637.8" r="1.75" fill="#f2d20a" stroke="#2a2a2a" stroke-width="0.55"/>
<circle cx="642" cy="638" r="1.75" fill="#f2d20a" stroke="#2a2a2a" stroke-width="0.55"/>
<circle cx="656.3" cy="616.3" r="1.75" fill="#7b6326" stroke="#2a2a2a" stroke-width="0.55"/>
<circle cx="657.5" cy="619.6" r="1.75" fill="#7b6326" stroke="#2a2a2a" stroke-width="0.55"/>
<circle cx="656.6" cy="622" r="1.75" fill="#7b6326" stroke="#2a2a2a" stroke-width="0.55"/>
<circle cx="658.5" cy="623.4" r="1.75" fill="#7b6326" stroke="#2a2a2a" stroke-width="0.55"/>
<circle cx="665" cy="628.5" r="1.75" fill="#f5a57e" stroke="#2a2a2a" stroke-width="0.55"/>
<circle cx="665.3" cy="631.3" r="1.75" fill="#f5a57e" stroke="#2a2a2a" stroke-width="0.55"/>
<circle cx="665.2" cy="634.5" r="1.75" fill="#f5a57e" stroke="#2a2a2a" stroke-width="0.55"/>
<circle cx="664.8" cy="637.7" r="1.75" fill="#f5a57e" stroke="#2a2a2a" stroke-width="0.55"/>
<circle cx="672.8" cy="635.2" r="1.75" fill="#f2d20a" stroke="#2a2a2a" stroke-width="0.55"/>
<circle cx="674" cy="633.8" r="1.75" fill="#f2d20a" stroke="#2a2a2a" stroke-width="0.55"/>
<circle cx="675.2" cy="636.5" r="1.75" fill="#f2d20a" stroke="#2a2a2a" stroke-width="0.55"/>
<circle cx="673.5" cy="638" r="1.75" fill="#f2d20a" stroke="#2a2a2a" stroke-width="0.55"/>
<path d="M469.2 585.6 L469.2 576.7 L480.6 576.7 L480.6 595.1" stroke="#777" stroke-width="0.6" fill="none" stroke-linejoin="round"/>
<text x="474.9" y="577.7" font-size="8.2" text-anchor="middle" fill="#222">*</text>
<path d="M472.7 595.1 L472.7 586.2 L480.6 586.2 L480.6 595.1" stroke="#777" stroke-width="0.6" fill="none" stroke-linejoin="round"/>
<text x="476.6" y="587.2" font-size="8.2" text-anchor="middle" fill="#222">*</text>
<path d="M501.1 508.4 L501.1 503.5 L512.5 503.5 L512.5 508.4" stroke="#777" stroke-width="0.6" fill="none" stroke-linejoin="round"/>
<text x="506.8" y="504.5" font-size="8.2" text-anchor="middle" fill="#222">**</text>
<path d="M531.5 610.3 L531.5 602.7 L543.3 602.7 L543.3 615" stroke="#777" stroke-width="0.6" fill="none" stroke-linejoin="round"/>
<text x="537.4" y="603.7" font-size="8.2" text-anchor="middle" fill="#222">**</text>
<path d="M535.3 615 L535.3 609.7 L543.3 609.7 L543.3 615" stroke="#777" stroke-width="0.6" fill="none" stroke-linejoin="round"/>
<text x="539.3" y="610.7" font-size="8.2" text-anchor="middle" fill="#222">*</text>
<path d="M565.1 579 L565.1 568.5 L575.9 568.5 L575.9 579" stroke="#777" stroke-width="0.6" fill="none" stroke-linejoin="round"/>
<text x="570.5" y="569.5" font-size="8.2" text-anchor="middle" fill="#222">**</text>
<path d="M568.3 579 L568.3 574.2 L575.9 574.2 L575.9 579" stroke="#777" stroke-width="0.6" fill="none" stroke-linejoin="round"/>
<text x="572.1" y="575.2" font-size="8.2" text-anchor="middle" fill="#222">**</text>
<path d="M661 604.5 L661 597.5 L671.5 597.5 L671.5 609" stroke="#777" stroke-width="0.6" fill="none" stroke-linejoin="round"/>
<text x="666.2" y="598.5" font-size="8.2" text-anchor="middle" fill="#222">**</text>
<path d="M664.3 609 L664.3 603.8 L671.5 603.8 L671.5 609" stroke="#777" stroke-width="0.6" fill="none" stroke-linejoin="round"/>
<text x="667.9" y="604.8" font-size="8.2" text-anchor="middle" fill="#222">*</text>
<text x="569.4" y="660.6" font-size="6.6" text-anchor="middle" fill="#1a1a1a">Target cell type</text>
<line x1="640.8" y1="505.9" x2="648.5" y2="505.9" stroke="#a09070" stroke-width="1.0"/>
<text x="651.9" y="508.1" font-size="6.4" text-anchor="start" fill="#1a1a1a">MET-8</text>
<line x1="640.8" y1="513.9" x2="648.5" y2="513.9" stroke="#f4b8a8" stroke-width="1.0"/>
<text x="651.9" y="516.1" font-size="6.4" text-anchor="start" fill="#1a1a1a">MET-4</text>
<line x1="640.8" y1="521.9" x2="648.5" y2="521.9" stroke="#cfc040" stroke-width="1.0"/>
<text x="651.9" y="524.1" font-size="6.4" text-anchor="start" fill="#1a1a1a">MET-6</text>
<rect x="458.6" y="683.2" width="222.4" height="144.6" fill="none" stroke="#666" stroke-width="0.7"/>
<line x1="456.4" y1="827.8" x2="458.6" y2="827.8" stroke="#666" stroke-width="0.6"/>
<text x="455" y="830.2" font-size="6.5" text-anchor="end" fill="#1a1a1a">0</text>
<line x1="456.4" y1="809.7" x2="458.6" y2="809.7" stroke="#666" stroke-width="0.6"/>
<text x="455" y="812.1" font-size="6.5" text-anchor="end" fill="#1a1a1a">0.1</text>
<line x1="456.4" y1="791.6" x2="458.6" y2="791.6" stroke="#666" stroke-width="0.6"/>
<text x="455" y="794" font-size="6.5" text-anchor="end" fill="#1a1a1a">0.2</text>
<line x1="456.4" y1="773.6" x2="458.6" y2="773.6" stroke="#666" stroke-width="0.6"/>
<text x="455" y="776" font-size="6.5" text-anchor="end" fill="#1a1a1a">0.3</text>
<line x1="456.4" y1="755.5" x2="458.6" y2="755.5" stroke="#666" stroke-width="0.6"/>
<text x="455" y="757.9" font-size="6.5" text-anchor="end" fill="#1a1a1a">0.4</text>
<line x1="456.4" y1="737.4" x2="458.6" y2="737.4" stroke="#666" stroke-width="0.6"/>
<text x="455" y="739.8" font-size="6.5" text-anchor="end" fill="#1a1a1a">0.5</text>
<line x1="456.4" y1="719.3" x2="458.6" y2="719.3" stroke="#666" stroke-width="0.6"/>
<text x="455" y="721.7" font-size="6.5" text-anchor="end" fill="#1a1a1a">0.6</text>
<line x1="456.4" y1="701.2" x2="458.6" y2="701.2" stroke="#666" stroke-width="0.6"/>
<text x="455" y="703.6" font-size="6.5" text-anchor="end" fill="#1a1a1a">0.7</text>
<line x1="456.4" y1="683.2" x2="458.6" y2="683.2" stroke="#666" stroke-width="0.6"/>
<text x="455" y="685.6" font-size="6.5" text-anchor="end" fill="#1a1a1a">0.8</text>
<text x="437" y="755.3" font-size="6.6" text-anchor="middle" fill="#1a1a1a" transform="rotate(-90 437 755.3)">Percentage of synapses</text>
<rect x="466.5" y="808.5" width="5.3" height="19.3" fill="#7b6326"/>
<line x1="469.1" y1="805.2" x2="469.1" y2="811.7" stroke="#555" stroke-width="0.5"/>
<line x1="468.1" y1="805.2" x2="470.2" y2="805.2" stroke="#555" stroke-width="0.5"/>
<rect x="471.8" y="753.7" width="5.3" height="74.1" fill="#eda486"/>
<line x1="474.4" y1="744.6" x2="474.4" y2="762.7" stroke="#555" stroke-width="0.5"/>
<line x1="473.4" y1="744.6" x2="475.5" y2="744.6" stroke="#555" stroke-width="0.5"/>
<rect x="477.1" y="765.1" width="5.3" height="62.7" fill="#cdb91f"/>
<line x1="479.8" y1="759.1" x2="479.8" y2="771" stroke="#555" stroke-width="0.5"/>
<line x1="478.7" y1="759.1" x2="480.8" y2="759.1" stroke="#555" stroke-width="0.5"/>
<text x="474.5" y="837.3" font-size="6.6" text-anchor="middle" fill="#1a1a1a">L2/3 IT</text>
<line x1="474.5" y1="827.8" x2="474.5" y2="829.4" stroke="#666" stroke-width="0.6"/>
<rect x="498.4" y="708.8" width="5.3" height="119" fill="#7b6326"/>
<line x1="501" y1="701.2" x2="501" y2="716.4" stroke="#555" stroke-width="0.5"/>
<line x1="500" y1="701.2" x2="502.1" y2="701.2" stroke="#555" stroke-width="0.5"/>
<rect x="503.7" y="802.5" width="5.3" height="25.3" fill="#eda486"/>
<line x1="506.3" y1="795.3" x2="506.3" y2="809.7" stroke="#555" stroke-width="0.5"/>
<line x1="505.3" y1="795.3" x2="507.4" y2="795.3" stroke="#555" stroke-width="0.5"/>
<rect x="509" y="816.2" width="5.3" height="11.6" fill="#cdb91f"/>
<line x1="511.6" y1="813.3" x2="511.6" y2="819.1" stroke="#555" stroke-width="0.5"/>
<line x1="510.6" y1="813.3" x2="512.7" y2="813.3" stroke="#555" stroke-width="0.5"/>
<text x="506.4" y="837.3" font-size="6.6" text-anchor="middle" fill="#1a1a1a">L4 IT</text>
<line x1="506.4" y1="827.8" x2="506.4" y2="829.4" stroke="#666" stroke-width="0.6"/>
<rect x="530.2" y="826" width="5.3" height="1.8" fill="#7b6326"/>
<line x1="532.9" y1="825.1" x2="532.9" y2="826.9" stroke="#555" stroke-width="0.5"/>
<line x1="531.8" y1="825.1" x2="533.9" y2="825.1" stroke="#555" stroke-width="0.5"/>
<rect x="535.5" y="809.2" width="5.3" height="18.6" fill="#eda486"/>
<line x1="538.1" y1="801.6" x2="538.1" y2="816.8" stroke="#555" stroke-width="0.5"/>
<line x1="537.1" y1="801.6" x2="539.2" y2="801.6" stroke="#555" stroke-width="0.5"/>
<rect x="540.8" y="774.5" width="5.3" height="53.3" fill="#cdb91f"/>
<line x1="543.5" y1="769.6" x2="543.5" y2="779.3" stroke="#555" stroke-width="0.5"/>
<line x1="542.4" y1="769.6" x2="544.5" y2="769.6" stroke="#555" stroke-width="0.5"/>
<text x="538.2" y="837.3" font-size="6.6" text-anchor="middle" fill="#1a1a1a">L5 ET</text>
<line x1="538.2" y1="827.8" x2="538.2" y2="829.4" stroke="#666" stroke-width="0.6"/>
<rect x="562" y="805.2" width="5.3" height="22.6" fill="#7b6326"/>
<line x1="564.7" y1="798" x2="564.7" y2="812.4" stroke="#555" stroke-width="0.5"/>
<line x1="563.6" y1="798" x2="565.8" y2="798" stroke="#555" stroke-width="0.5"/>
<rect x="567.3" y="792.2" width="5.3" height="35.6" fill="#eda486"/>
<line x1="570" y1="783.5" x2="570" y2="800.9" stroke="#555" stroke-width="0.5"/>
<line x1="568.9" y1="783.5" x2="571" y2="783.5" stroke="#555" stroke-width="0.5"/>
<rect x="572.6" y="811.9" width="5.3" height="15.9" fill="#cdb91f"/>
<line x1="575.3" y1="808.8" x2="575.3" y2="815" stroke="#555" stroke-width="0.5"/>
<line x1="574.2" y1="808.8" x2="576.4" y2="808.8" stroke="#555" stroke-width="0.5"/>
<text x="570" y="837.3" font-size="6.6" text-anchor="middle" fill="#1a1a1a">L5 IT</text>
<line x1="570" y1="827.8" x2="570" y2="829.4" stroke="#666" stroke-width="0.6"/>
<rect x="593.9" y="827.4" width="5.3" height="0.4" fill="#7b6326"/>
<line x1="596.5" y1="827.3" x2="596.5" y2="827.6" stroke="#555" stroke-width="0.5"/>
<line x1="595.5" y1="827.3" x2="597.6" y2="827.3" stroke="#555" stroke-width="0.5"/>
<rect x="599.2" y="827.4" width="5.3" height="0.4" fill="#eda486"/>
<line x1="601.8" y1="827.3" x2="601.8" y2="827.6" stroke="#555" stroke-width="0.5"/>
<line x1="600.8" y1="827.3" x2="602.9" y2="827.3" stroke="#555" stroke-width="0.5"/>
<rect x="604.5" y="827.4" width="5.3" height="0.4" fill="#cdb91f"/>
<line x1="607.1" y1="827.3" x2="607.1" y2="827.6" stroke="#555" stroke-width="0.5"/>
<line x1="606.1" y1="827.3" x2="608.2" y2="827.3" stroke="#555" stroke-width="0.5"/>
<text x="601.9" y="837.3" font-size="6.6" text-anchor="middle" fill="#1a1a1a">L5 NP</text>
<line x1="601.9" y1="827.8" x2="601.9" y2="829.4" stroke="#666" stroke-width="0.6"/>
<rect x="625.8" y="826" width="5.3" height="1.8" fill="#7b6326"/>
<line x1="628.4" y1="824.5" x2="628.4" y2="827.4" stroke="#555" stroke-width="0.5"/>
<line x1="627.4" y1="824.5" x2="629.5" y2="824.5" stroke="#555" stroke-width="0.5"/>
<rect x="631" y="818.2" width="5.3" height="9.6" fill="#eda486"/>
<line x1="633.7" y1="814.2" x2="633.7" y2="822.2" stroke="#555" stroke-width="0.5"/>
<line x1="632.6" y1="814.2" x2="634.8" y2="814.2" stroke="#555" stroke-width="0.5"/>
<rect x="636.4" y="807.9" width="5.3" height="19.9" fill="#cdb91f"/>
<line x1="639" y1="803.4" x2="639" y2="812.4" stroke="#555" stroke-width="0.5"/>
<line x1="638" y1="803.4" x2="640.1" y2="803.4" stroke="#555" stroke-width="0.5"/>
<text x="633.8" y="837.3" font-size="6.6" text-anchor="middle" fill="#1a1a1a">L6</text>
<line x1="633.8" y1="827.8" x2="633.8" y2="829.4" stroke="#666" stroke-width="0.6"/>
<rect x="657.6" y="814.6" width="5.3" height="13.2" fill="#7b6326"/>
<line x1="660.2" y1="813.3" x2="660.2" y2="815.9" stroke="#555" stroke-width="0.5"/>
<line x1="659.2" y1="813.3" x2="661.3" y2="813.3" stroke="#555" stroke-width="0.5"/>
<rect x="662.9" y="812.4" width="5.3" height="15.4" fill="#eda486"/>
<line x1="665.5" y1="810.6" x2="665.5" y2="814.2" stroke="#555" stroke-width="0.5"/>
<line x1="664.5" y1="810.6" x2="666.6" y2="810.6" stroke="#555" stroke-width="0.5"/>
<rect x="668.2" y="812.4" width="5.3" height="15.4" fill="#cdb91f"/>
<line x1="670.9" y1="811.2" x2="670.9" y2="813.7" stroke="#555" stroke-width="0.5"/>
<line x1="669.8" y1="811.2" x2="671.9" y2="811.2" stroke="#555" stroke-width="0.5"/>
<text x="665.6" y="837.3" font-size="6.6" text-anchor="middle" fill="#1a1a1a">INH</text>
<line x1="665.6" y1="827.8" x2="665.6" y2="829.4" stroke="#666" stroke-width="0.6"/>
<circle cx="466.6" cy="803" r="1.75" fill="#7b6326" stroke="#2a2a2a" stroke-width="0.55"/>
<circle cx="465.1" cy="808.7" r="1.75" fill="#7b6326" stroke="#2a2a2a" stroke-width="0.55"/>
<circle cx="467" cy="808.7" r="1.75" fill="#7b6326" stroke="#2a2a2a" stroke-width="0.55"/>
<circle cx="475.1" cy="737.1" r="1.75" fill="#f5a57e" stroke="#2a2a2a" stroke-width="0.55"/>
<circle cx="474.6" cy="744.1" r="1.75" fill="#f5a57e" stroke="#2a2a2a" stroke-width="0.55"/>
<circle cx="475.5" cy="754.3" r="1.75" fill="#f5a57e" stroke="#2a2a2a" stroke-width="0.55"/>
<circle cx="475.5" cy="763.2" r="1.75" fill="#f5a57e" stroke="#2a2a2a" stroke-width="0.55"/>
<circle cx="475.1" cy="777" r="1.75" fill="#f5a57e" stroke="#2a2a2a" stroke-width="0.55"/>
<circle cx="482.9" cy="754.7" r="1.75" fill="#f2d20a" stroke="#2a2a2a" stroke-width="0.55"/>
<circle cx="483.3" cy="758" r="1.75" fill="#f2d20a" stroke="#2a2a2a" stroke-width="0.55"/>
<circle cx="483.1" cy="764.3" r="1.75" fill="#f2d20a" stroke="#2a2a2a" stroke-width="0.55"/>
<circle cx="482" cy="768" r="1.75" fill="#f2d20a" stroke="#2a2a2a" stroke-width="0.55"/>
<circle cx="482.9" cy="775.3" r="1.75" fill="#f2d20a" stroke="#2a2a2a" stroke-width="0.55"/>
<circle cx="498.4" cy="698.6" r="1.75" fill="#7b6326" stroke="#2a2a2a" stroke-width="0.55"/>
<circle cx="498.8" cy="703.9" r="1.75" fill="#7b6326" stroke="#2a2a2a" stroke-width="0.55"/>
<circle cx="498.8" cy="723" r="1.75" fill="#7b6326" stroke="#2a2a2a" stroke-width="0.55"/>
<circle cx="505.8" cy="779.1" r="1.75" fill="#f5a57e" stroke="#2a2a2a" stroke-width="0.55"/>
<circle cx="505.8" cy="786.5" r="1.75" fill="#f5a57e" stroke="#2a2a2a" stroke-width="0.55"/>
<circle cx="506.4" cy="806.6" r="1.75" fill="#f5a57e" stroke="#2a2a2a" stroke-width="0.55"/>
<circle cx="506.4" cy="813" r="1.75" fill="#f5a57e" stroke="#2a2a2a" stroke-width="0.55"/>
<circle cx="505.8" cy="820.4" r="1.75" fill="#f5a57e" stroke="#2a2a2a" stroke-width="0.55"/>
<circle cx="515.3" cy="809.8" r="1.75" fill="#f2d20a" stroke="#2a2a2a" stroke-width="0.55"/>
<circle cx="515.6" cy="813.4" r="1.75" fill="#f2d20a" stroke="#2a2a2a" stroke-width="0.55"/>
<circle cx="515.3" cy="819.3" r="1.75" fill="#f2d20a" stroke="#2a2a2a" stroke-width="0.55"/>
<circle cx="515.6" cy="823.6" r="1.75" fill="#f2d20a" stroke="#2a2a2a" stroke-width="0.55"/>
<circle cx="529.5" cy="824.5" r="1.75" fill="#7b6326" stroke="#2a2a2a" stroke-width="0.55"/>
<circle cx="531.5" cy="825.5" r="1.75" fill="#7b6326" stroke="#2a2a2a" stroke-width="0.55"/>
<circle cx="533" cy="826.6" r="1.75" fill="#7b6326" stroke="#2a2a2a" stroke-width="0.55"/>
<circle cx="530.5" cy="827" r="1.75" fill="#7b6326" stroke="#2a2a2a" stroke-width="0.55"/>
<circle cx="537.8" cy="778" r="1.75" fill="#f5a57e" stroke="#2a2a2a" stroke-width="0.55"/>
<circle cx="538.6" cy="795" r="1.75" fill="#f5a57e" stroke="#2a2a2a" stroke-width="0.55"/>
<circle cx="538.6" cy="810.8" r="1.75" fill="#f5a57e" stroke="#2a2a2a" stroke-width="0.55"/>
<circle cx="538.2" cy="818.3" r="1.75" fill="#f5a57e" stroke="#2a2a2a" stroke-width="0.55"/>
<circle cx="538.2" cy="825.7" r="1.75" fill="#f5a57e" stroke="#2a2a2a" stroke-width="0.55"/>
<circle cx="547.1" cy="763.2" r="1.75" fill="#f2d20a" stroke="#2a2a2a" stroke-width="0.55"/>
<circle cx="546" cy="774.2" r="1.75" fill="#f2d20a" stroke="#2a2a2a" stroke-width="0.55"/>
<circle cx="546.6" cy="784.4" r="1.75" fill="#f2d20a" stroke="#2a2a2a" stroke-width="0.55"/>
<circle cx="546.6" cy="788.2" r="1.75" fill="#f2d20a" stroke="#2a2a2a" stroke-width="0.55"/>
<circle cx="560.9" cy="794.5" r="1.75" fill="#7b6326" stroke="#2a2a2a" stroke-width="0.55"/>
<circle cx="562" cy="804.5" r="1.75" fill="#7b6326" stroke="#2a2a2a" stroke-width="0.55"/>
<circle cx="560.3" cy="816.6" r="1.75" fill="#7b6326" stroke="#2a2a2a" stroke-width="0.55"/>
<circle cx="569.4" cy="757.5" r="1.75" fill="#f5a57e" stroke="#2a2a2a" stroke-width="0.55"/>
<circle cx="570.4" cy="772.1" r="1.75" fill="#f5a57e" stroke="#2a2a2a" stroke-width="0.55"/>
<circle cx="569.4" cy="795" r="1.75" fill="#f5a57e" stroke="#2a2a2a" stroke-width="0.55"/>
<circle cx="570" cy="799.2" r="1.75" fill="#f5a57e" stroke="#2a2a2a" stroke-width="0.55"/>
<circle cx="569.8" cy="809.8" r="1.75" fill="#f5a57e" stroke="#2a2a2a" stroke-width="0.55"/>
<circle cx="576.8" cy="808.7" r="1.75" fill="#f2d20a" stroke="#2a2a2a" stroke-width="0.55"/>
<circle cx="578.9" cy="809.8" r="1.75" fill="#f2d20a" stroke="#2a2a2a" stroke-width="0.55"/>
<circle cx="577.8" cy="818.9" r="1.75" fill="#f2d20a" stroke="#2a2a2a" stroke-width="0.55"/>
<circle cx="593.2" cy="827.2" r="1.75" fill="#7b6326" stroke="#2a2a2a" stroke-width="0.55"/>
<circle cx="595.5" cy="827.3" r="1.75" fill="#7b6326" stroke="#2a2a2a" stroke-width="0.55"/>
<circle cx="599.6" cy="827.2" r="1.75" fill="#f5a57e" stroke="#2a2a2a" stroke-width="0.55"/>
<circle cx="601.5" cy="827.3" r="1.75" fill="#f5a57e" stroke="#2a2a2a" stroke-width="0.55"/>
<circle cx="607.5" cy="827.2" r="1.75" fill="#f2d20a" stroke="#2a2a2a" stroke-width="0.55"/>
<circle cx="609.8" cy="827.3" r="1.75" fill="#f2d20a" stroke="#2a2a2a" stroke-width="0.55"/>
<circle cx="624.6" cy="822.8" r="1.75" fill="#7b6326" stroke="#2a2a2a" stroke-width="0.55"/>
<circle cx="625.8" cy="825" r="1.75" fill="#7b6326" stroke="#2a2a2a" stroke-width="0.55"/>
<circle cx="627.2" cy="826.6" r="1.75" fill="#7b6326" stroke="#2a2a2a" stroke-width="0.55"/>
<circle cx="625" cy="827" r="1.75" fill="#7b6326" stroke="#2a2a2a" stroke-width="0.55"/>
<circle cx="633.5" cy="800.3" r="1.75" fill="#f5a57e" stroke="#2a2a2a" stroke-width="0.55"/>
<circle cx="632.8" cy="819.3" r="1.75" fill="#f5a57e" stroke="#2a2a2a" stroke-width="0.55"/>
<circle cx="632.2" cy="825.7" r="1.75" fill="#f5a57e" stroke="#2a2a2a" stroke-width="0.55"/>
<circle cx="641.4" cy="797.7" r="1.75" fill="#f2d20a" stroke="#2a2a2a" stroke-width="0.55"/>
<circle cx="642.4" cy="800.7" r="1.75" fill="#f2d20a" stroke="#2a2a2a" stroke-width="0.55"/>
<circle cx="642.4" cy="806.6" r="1.75" fill="#f2d20a" stroke="#2a2a2a" stroke-width="0.55"/>
<circle cx="642.8" cy="815.1" r="1.75" fill="#f2d20a" stroke="#2a2a2a" stroke-width="0.55"/>
<circle cx="641.4" cy="817.2" r="1.75" fill="#f2d20a" stroke="#2a2a2a" stroke-width="0.55"/>
<circle cx="655.6" cy="811.5" r="1.75" fill="#7b6326" stroke="#2a2a2a" stroke-width="0.55"/>
<circle cx="655.6" cy="815.1" r="1.75" fill="#7b6326" stroke="#2a2a2a" stroke-width="0.55"/>
<circle cx="665.3" cy="803.4" r="1.75" fill="#f5a57e" stroke="#2a2a2a" stroke-width="0.55"/>
<circle cx="664.7" cy="809.4" r="1.75" fill="#f5a57e" stroke="#2a2a2a" stroke-width="0.55"/>
<circle cx="664.7" cy="816.2" r="1.75" fill="#f5a57e" stroke="#2a2a2a" stroke-width="0.55"/>
<circle cx="664.7" cy="819.3" r="1.75" fill="#f5a57e" stroke="#2a2a2a" stroke-width="0.55"/>
<circle cx="672.5" cy="807.7" r="1.75" fill="#f2d20a" stroke="#2a2a2a" stroke-width="0.55"/>
<circle cx="674.2" cy="813" r="1.75" fill="#f2d20a" stroke="#2a2a2a" stroke-width="0.55"/>
<circle cx="672.1" cy="814.1" r="1.75" fill="#f2d20a" stroke="#2a2a2a" stroke-width="0.55"/>
<path d="M466.6 729.3 L466.6 719.1 L474.6 719.1 L474.6 729.3" stroke="#777" stroke-width="0.6" fill="none" stroke-linejoin="round"/>
<text x="470.6" y="720.1" font-size="8.2" text-anchor="middle" fill="#222">**</text>
<path d="M501.6 699.7 L501.6 690.1 L514.7 690.1 L514.7 699.7" stroke="#777" stroke-width="0.6" fill="none" stroke-linejoin="round"/>
<text x="508.2" y="691.1" font-size="8.2" text-anchor="middle" fill="#222">**</text>
<path d="M501.6 699.7 L501.6 696.5 L509 696.5 L509 699.7" stroke="#777" stroke-width="0.6" fill="none" stroke-linejoin="round"/>
<text x="505.3" y="697.5" font-size="8.2" text-anchor="middle" fill="#222">*</text>
<path d="M530.1 764.3 L530.1 741.4 L543.9 741.4 L543.9 764.3" stroke="#777" stroke-width="0.6" fill="none" stroke-linejoin="round"/>
<text x="537" y="742.4" font-size="8.2" text-anchor="middle" fill="#222">**</text>
<path d="M536.1 764.3 L536.1 753 L543.9 753 L543.9 764.3" stroke="#777" stroke-width="0.6" fill="none" stroke-linejoin="round"/>
<text x="540" y="754" font-size="8.2" text-anchor="middle" fill="#222">*</text>
<path d="M624.4 789.7 L624.4 779.1 L638.6 779.1 L638.6 789.7" stroke="#777" stroke-width="0.6" fill="none" stroke-linejoin="round"/>
<text x="631.5" y="780.1" font-size="8.2" text-anchor="middle" fill="#222">**</text>
<text x="569.4" y="848.5" font-size="6.6" text-anchor="middle" fill="#1a1a1a">Target cell type</text>
</svg></body></html>
